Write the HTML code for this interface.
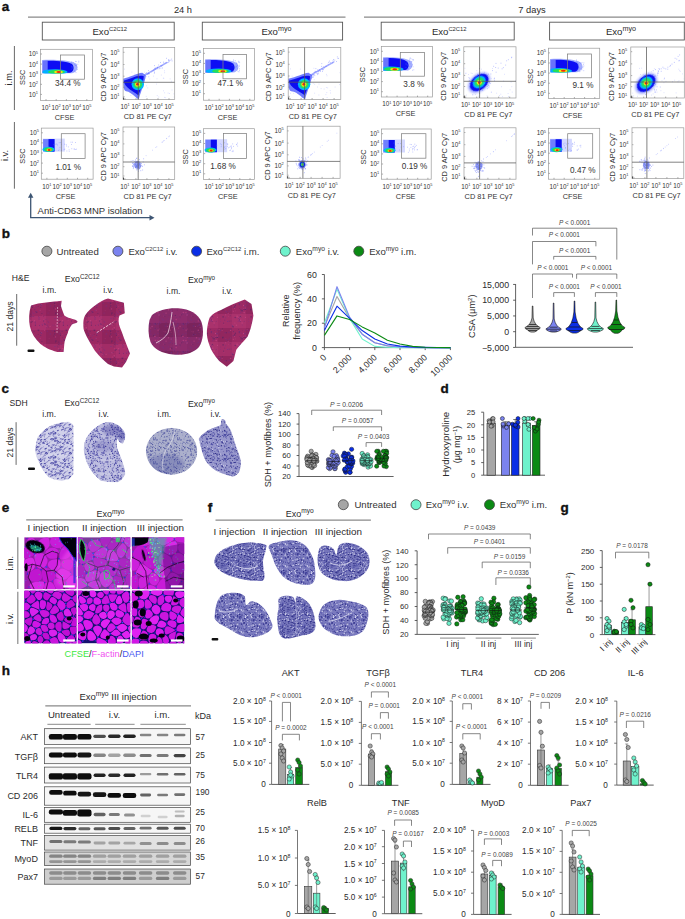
<!DOCTYPE html>
<html><head><meta charset="utf-8"><style>
html,body{margin:0;padding:0;background:#fff;}
body{width:685px;height:919px;overflow:hidden;}
svg{display:block;font-family:"Liberation Sans", sans-serif;}
</style></head><body>
<svg width="685" height="919" viewBox="0 0 685 919">
<defs><linearGradient id="tailg" x1="0" x2="1" y1="0" y2="0"><stop offset="0" stop-color="#1020f0"/><stop offset="0.5" stop-color="#4050ff" stop-opacity="0.8"/><stop offset="1" stop-color="#8090ff" stop-opacity="0.2"/></linearGradient>
<filter id="b1" x="-50%" y="-50%" width="200%" height="200%"><feGaussianBlur stdDeviation="1"/></filter>
<filter id="b05" x="-50%" y="-50%" width="200%" height="200%"><feGaussianBlur stdDeviation="0.5"/></filter>
<filter id="b07" x="-50%" y="-50%" width="200%" height="200%"><feGaussianBlur stdDeviation="0.7"/></filter>
<filter id="b15" x="-50%" y="-50%" width="200%" height="200%"><feGaussianBlur stdDeviation="1.5"/></filter>
<filter id="b03" x="-50%" y="-50%" width="200%" height="200%"><feGaussianBlur stdDeviation="0.35"/></filter>
<pattern id="he1" patternUnits="userSpaceOnUse" width="28" height="28" x="4" y="8"><rect width="28" height="28" fill="#9c2862"/><rect width="14" height="14" fill="#aa306c"/><rect x="14" y="14" width="14" height="14" fill="#90245c"/><rect x="14" width="14" height="14" fill="#a22c66"/><circle cx="3.8" cy="23.7" r="0.7" fill="#5a2870" opacity="0.5"/><circle cx="3.3" cy="21.3" r="0.5" fill="#7a2a80" opacity="0.5"/><circle cx="22.1" cy="2.6" r="0.3" fill="#7a2a80" opacity="0.5"/><circle cx="12.1" cy="21.3" r="0.3" fill="#7a2a80" opacity="0.5"/><circle cx="7.5" cy="22.5" r="0.6" fill="#6a3088" opacity="0.5"/><circle cx="25.2" cy="0.9" r="0.3" fill="#4a2060" opacity="0.5"/><circle cx="0.3" cy="24.7" r="0.6" fill="#7a2a80" opacity="0.5"/><circle cx="20.3" cy="14.8" r="0.7" fill="#7a2a80" opacity="0.5"/><circle cx="15.5" cy="9.7" r="0.6" fill="#7a2a80" opacity="0.5"/><circle cx="26.7" cy="25.9" r="0.5" fill="#4a2060" opacity="0.5"/><circle cx="25.8" cy="2.8" r="0.6" fill="#5a2870" opacity="0.5"/><circle cx="3.4" cy="9.3" r="0.7" fill="#4a2060" opacity="0.5"/><circle cx="26.2" cy="11.8" r="0.7" fill="#d04a8a" opacity="0.5"/><circle cx="8.5" cy="16.5" r="0.7" fill="#4a2060" opacity="0.5"/><circle cx="11" cy="23.9" r="0.5" fill="#7a2a80" opacity="0.5"/><circle cx="11.6" cy="4.8" r="0.6" fill="#5a2870" opacity="0.5"/><circle cx="2.4" cy="18.6" r="0.4" fill="#d04a8a" opacity="0.5"/><circle cx="14.6" cy="11" r="0.5" fill="#6a3088" opacity="0.5"/><circle cx="13.1" cy="8.6" r="0.7" fill="#4a2060" opacity="0.5"/><circle cx="16.6" cy="11" r="0.4" fill="#4a2060" opacity="0.5"/><circle cx="6.4" cy="0.3" r="0.4" fill="#4a2060" opacity="0.5"/><circle cx="6.5" cy="14.4" r="0.8" fill="#4a2060" opacity="0.5"/><circle cx="9.9" cy="25.5" r="0.6" fill="#4a2060" opacity="0.5"/><circle cx="26.8" cy="0.2" r="0.7" fill="#4a2060" opacity="0.5"/><circle cx="22.7" cy="14.5" r="0.6" fill="#7a2a80" opacity="0.5"/><circle cx="26.6" cy="13.5" r="0.5" fill="#4a2060" opacity="0.5"/><circle cx="5.6" cy="14.1" r="0.5" fill="#5a2870" opacity="0.5"/><circle cx="11.6" cy="0" r="0.6" fill="#4a2060" opacity="0.5"/><circle cx="9.3" cy="16.8" r="0.7" fill="#d04a8a" opacity="0.5"/><circle cx="15.4" cy="5.1" r="0.3" fill="#4a2060" opacity="0.5"/><circle cx="22.3" cy="22.9" r="0.4" fill="#6a3088" opacity="0.5"/><circle cx="2.3" cy="0.5" r="0.3" fill="#5a2870" opacity="0.5"/><circle cx="7" cy="3.1" r="0.6" fill="#5a2870" opacity="0.5"/><circle cx="8.1" cy="4.7" r="0.4" fill="#d04a8a" opacity="0.5"/><circle cx="18.4" cy="18.1" r="0.4" fill="#5a2870" opacity="0.5"/><circle cx="13.9" cy="3.2" r="0.5" fill="#5a2870" opacity="0.5"/><circle cx="11.8" cy="5.3" r="0.4" fill="#4a2060" opacity="0.5"/><circle cx="27.3" cy="27" r="0.5" fill="#6a3088" opacity="0.5"/><circle cx="6.3" cy="11.1" r="0.3" fill="#d04a8a" opacity="0.5"/><circle cx="12.5" cy="14.2" r="0.5" fill="#d04a8a" opacity="0.5"/><circle cx="27.4" cy="17.7" r="0.6" fill="#7a2a80" opacity="0.5"/><circle cx="6.2" cy="18.2" r="0.5" fill="#4a2060" opacity="0.5"/><circle cx="22.5" cy="18.5" r="0.5" fill="#5a2870" opacity="0.5"/><circle cx="3.5" cy="5.9" r="0.3" fill="#6a3088" opacity="0.5"/><circle cx="24" cy="8.7" r="0.8" fill="#d04a8a" opacity="0.5"/><circle cx="11.7" cy="7.1" r="0.3" fill="#6a3088" opacity="0.5"/><circle cx="16.5" cy="6.1" r="0.8" fill="#7a2a80" opacity="0.5"/><circle cx="4.8" cy="24.3" r="0.8" fill="#4a2060" opacity="0.5"/><circle cx="14.2" cy="10.6" r="0.5" fill="#d04a8a" opacity="0.5"/><circle cx="16.1" cy="25.1" r="0.6" fill="#7a2a80" opacity="0.5"/><circle cx="2.9" cy="18.6" r="0.4" fill="#7a2a80" opacity="0.5"/><circle cx="0.5" cy="17.1" r="0.5" fill="#5a2870" opacity="0.5"/><circle cx="0.5" cy="5.6" r="0.5" fill="#4a2060" opacity="0.5"/><circle cx="21.9" cy="9.5" r="0.4" fill="#6a3088" opacity="0.5"/><circle cx="23.5" cy="26.1" r="0.5" fill="#4a2060" opacity="0.5"/><circle cx="13.6" cy="27.6" r="0.4" fill="#6a3088" opacity="0.5"/><circle cx="2.4" cy="4.8" r="0.8" fill="#d04a8a" opacity="0.5"/><circle cx="7.5" cy="9.3" r="0.6" fill="#5a2870" opacity="0.5"/><circle cx="10.3" cy="9.5" r="0.4" fill="#4a2060" opacity="0.5"/><circle cx="21.8" cy="20" r="0.5" fill="#4a2060" opacity="0.5"/><circle cx="15.4" cy="2.9" r="0.3" fill="#6a3088" opacity="0.5"/><circle cx="10.6" cy="27.8" r="0.4" fill="#d04a8a" opacity="0.5"/><circle cx="9.5" cy="17.2" r="0.7" fill="#7a2a80" opacity="0.5"/><circle cx="2.1" cy="15.4" r="0.6" fill="#5a2870" opacity="0.5"/><circle cx="10.2" cy="8.3" r="0.6" fill="#6a3088" opacity="0.5"/><circle cx="12.8" cy="7.8" r="0.7" fill="#5a2870" opacity="0.5"/><circle cx="0.3" cy="18.8" r="0.3" fill="#6a3088" opacity="0.5"/><circle cx="23.1" cy="22.1" r="0.4" fill="#4a2060" opacity="0.5"/><circle cx="11.8" cy="3.2" r="0.4" fill="#d04a8a" opacity="0.5"/><circle cx="4.5" cy="23.7" r="0.5" fill="#7a2a80" opacity="0.5"/><circle cx="22.6" cy="15.2" r="0.7" fill="#4a2060" opacity="0.5"/><circle cx="7.1" cy="13.4" r="0.4" fill="#5a2870" opacity="0.5"/><circle cx="1.1" cy="0.3" r="0.8" fill="#5a2870" opacity="0.5"/><circle cx="20.3" cy="9" r="0.5" fill="#7a2a80" opacity="0.5"/><circle cx="1.8" cy="25.6" r="0.8" fill="#7a2a80" opacity="0.5"/><circle cx="3.1" cy="6" r="0.6" fill="#4a2060" opacity="0.5"/><circle cx="24.3" cy="13.1" r="0.5" fill="#d04a8a" opacity="0.5"/><circle cx="15.2" cy="8.6" r="0.4" fill="#6a3088" opacity="0.5"/><circle cx="23" cy="2.5" r="0.7" fill="#6a3088" opacity="0.5"/><circle cx="18.3" cy="18" r="0.8" fill="#7a2a80" opacity="0.5"/><circle cx="27.1" cy="1.1" r="0.4" fill="#4a2060" opacity="0.5"/><circle cx="25" cy="8.5" r="0.5" fill="#4a2060" opacity="0.5"/><circle cx="17.1" cy="22.6" r="0.3" fill="#d04a8a" opacity="0.5"/><circle cx="0.6" cy="6.8" r="0.3" fill="#4a2060" opacity="0.5"/><circle cx="24.3" cy="20.4" r="0.3" fill="#6a3088" opacity="0.5"/><circle cx="8.1" cy="22.2" r="0.5" fill="#d04a8a" opacity="0.5"/><circle cx="2.8" cy="21.8" r="0.5" fill="#4a2060" opacity="0.5"/><circle cx="26.6" cy="4.9" r="0.7" fill="#d04a8a" opacity="0.5"/><circle cx="23" cy="9" r="0.4" fill="#4a2060" opacity="0.5"/><circle cx="23.4" cy="16.9" r="0.4" fill="#d04a8a" opacity="0.5"/><circle cx="4" cy="25.5" r="0.3" fill="#5a2870" opacity="0.5"/><circle cx="23" cy="17.5" r="0.6" fill="#4a2060" opacity="0.5"/><circle cx="23.5" cy="20.9" r="0.6" fill="#d04a8a" opacity="0.5"/><circle cx="8.4" cy="15" r="0.3" fill="#d04a8a" opacity="0.5"/><circle cx="7.1" cy="1.8" r="0.8" fill="#7a2a80" opacity="0.5"/><circle cx="15.4" cy="15.2" r="0.7" fill="#7a2a80" opacity="0.5"/><circle cx="0.3" cy="23.4" r="0.4" fill="#7a2a80" opacity="0.5"/><circle cx="0.7" cy="18.1" r="0.5" fill="#4a2060" opacity="0.5"/><circle cx="0.5" cy="19.4" r="0.6" fill="#4a2060" opacity="0.5"/><circle cx="3.5" cy="7.3" r="0.7" fill="#7a2a80" opacity="0.5"/><circle cx="15.8" cy="4.8" r="0.3" fill="#7a2a80" opacity="0.5"/><circle cx="0.2" cy="14.8" r="0.6" fill="#7a2a80" opacity="0.5"/><circle cx="26" cy="17.9" r="0.4" fill="#5a2870" opacity="0.5"/><circle cx="13.9" cy="13.4" r="0.4" fill="#7a2a80" opacity="0.5"/><circle cx="9.4" cy="17.1" r="0.7" fill="#5a2870" opacity="0.5"/><circle cx="27.2" cy="6.1" r="0.8" fill="#4a2060" opacity="0.5"/><circle cx="18.1" cy="10.3" r="0.6" fill="#d04a8a" opacity="0.5"/><circle cx="8.7" cy="19.4" r="0.7" fill="#5a2870" opacity="0.5"/><circle cx="4.6" cy="19.6" r="0.5" fill="#6a3088" opacity="0.5"/><circle cx="24" cy="25.1" r="0.8" fill="#4a2060" opacity="0.5"/></pattern>
<pattern id="he2" patternUnits="userSpaceOnUse" width="28" height="28" x="5" y="1"><rect width="28" height="28" fill="#842864"/><rect width="14" height="14" fill="#8e2c6c"/><rect x="14" y="14" width="14" height="14" fill="#7a245c"/><rect x="14" width="14" height="14" fill="#882a68"/><circle cx="26.8" cy="26.5" r="0.3" fill="#6a3088" opacity="0.5"/><circle cx="10.1" cy="4.7" r="0.7" fill="#5a2870" opacity="0.5"/><circle cx="7" cy="5.9" r="0.3" fill="#d04a8a" opacity="0.5"/><circle cx="28" cy="17.9" r="0.7" fill="#4a2060" opacity="0.5"/><circle cx="26.6" cy="15.2" r="0.5" fill="#5a2870" opacity="0.5"/><circle cx="25.2" cy="24.4" r="0.5" fill="#5a2870" opacity="0.5"/><circle cx="25.4" cy="11.9" r="0.7" fill="#d04a8a" opacity="0.5"/><circle cx="15.7" cy="6.6" r="0.3" fill="#5a2870" opacity="0.5"/><circle cx="4.9" cy="14.3" r="0.5" fill="#4a2060" opacity="0.5"/><circle cx="18.9" cy="5.1" r="0.7" fill="#7a2a80" opacity="0.5"/><circle cx="20.6" cy="25.4" r="0.7" fill="#4a2060" opacity="0.5"/><circle cx="9.9" cy="27.5" r="0.8" fill="#d04a8a" opacity="0.5"/><circle cx="26.7" cy="11.2" r="0.7" fill="#4a2060" opacity="0.5"/><circle cx="7" cy="7.8" r="0.5" fill="#4a2060" opacity="0.5"/><circle cx="23.3" cy="9.9" r="0.7" fill="#7a2a80" opacity="0.5"/><circle cx="9.8" cy="20.3" r="0.6" fill="#7a2a80" opacity="0.5"/><circle cx="13.6" cy="6.2" r="0.5" fill="#d04a8a" opacity="0.5"/><circle cx="24.5" cy="17.3" r="0.7" fill="#7a2a80" opacity="0.5"/><circle cx="8.7" cy="26.8" r="0.7" fill="#4a2060" opacity="0.5"/><circle cx="15.7" cy="14.2" r="0.6" fill="#7a2a80" opacity="0.5"/><circle cx="8.7" cy="5.8" r="0.6" fill="#4a2060" opacity="0.5"/><circle cx="24.7" cy="22" r="0.5" fill="#6a3088" opacity="0.5"/><circle cx="25.4" cy="5.4" r="0.7" fill="#6a3088" opacity="0.5"/><circle cx="16.1" cy="1.4" r="0.6" fill="#6a3088" opacity="0.5"/><circle cx="21.1" cy="3.8" r="0.4" fill="#d04a8a" opacity="0.5"/><circle cx="26.4" cy="1.7" r="0.7" fill="#6a3088" opacity="0.5"/><circle cx="1.6" cy="10.1" r="0.4" fill="#6a3088" opacity="0.5"/><circle cx="2.3" cy="26.7" r="0.3" fill="#6a3088" opacity="0.5"/><circle cx="10.4" cy="3.6" r="0.8" fill="#d04a8a" opacity="0.5"/><circle cx="14.6" cy="0.1" r="0.6" fill="#d04a8a" opacity="0.5"/><circle cx="4.2" cy="1" r="0.5" fill="#4a2060" opacity="0.5"/><circle cx="17.6" cy="20.9" r="0.4" fill="#7a2a80" opacity="0.5"/><circle cx="0.9" cy="12.6" r="0.7" fill="#6a3088" opacity="0.5"/><circle cx="25.3" cy="21.2" r="0.7" fill="#d04a8a" opacity="0.5"/><circle cx="13.2" cy="6.3" r="0.6" fill="#5a2870" opacity="0.5"/><circle cx="23.5" cy="0.7" r="0.7" fill="#d04a8a" opacity="0.5"/><circle cx="14.5" cy="21.9" r="0.5" fill="#5a2870" opacity="0.5"/><circle cx="4" cy="26.9" r="0.4" fill="#4a2060" opacity="0.5"/><circle cx="27.2" cy="18.3" r="0.6" fill="#d04a8a" opacity="0.5"/><circle cx="18.8" cy="7.1" r="0.4" fill="#d04a8a" opacity="0.5"/><circle cx="2.7" cy="17.8" r="0.6" fill="#6a3088" opacity="0.5"/><circle cx="27.8" cy="6.5" r="0.5" fill="#5a2870" opacity="0.5"/><circle cx="2.3" cy="6.4" r="0.7" fill="#4a2060" opacity="0.5"/><circle cx="19.9" cy="7.2" r="0.5" fill="#4a2060" opacity="0.5"/><circle cx="21" cy="4.2" r="0.5" fill="#d04a8a" opacity="0.5"/><circle cx="3.1" cy="20.3" r="0.4" fill="#6a3088" opacity="0.5"/><circle cx="0.6" cy="21" r="0.4" fill="#6a3088" opacity="0.5"/><circle cx="14.6" cy="13" r="0.5" fill="#7a2a80" opacity="0.5"/><circle cx="5.9" cy="25.4" r="0.8" fill="#7a2a80" opacity="0.5"/><circle cx="11.9" cy="0.6" r="0.6" fill="#7a2a80" opacity="0.5"/><circle cx="26" cy="16.3" r="0.8" fill="#7a2a80" opacity="0.5"/><circle cx="10.3" cy="14.5" r="0.8" fill="#4a2060" opacity="0.5"/><circle cx="10.3" cy="19.3" r="0.8" fill="#5a2870" opacity="0.5"/><circle cx="0.5" cy="19.2" r="0.4" fill="#5a2870" opacity="0.5"/><circle cx="5.6" cy="21.7" r="0.7" fill="#7a2a80" opacity="0.5"/><circle cx="1.7" cy="17.8" r="0.5" fill="#4a2060" opacity="0.5"/><circle cx="17.2" cy="0.1" r="0.3" fill="#5a2870" opacity="0.5"/><circle cx="26.2" cy="2.1" r="0.7" fill="#d04a8a" opacity="0.5"/><circle cx="3.2" cy="10.5" r="0.7" fill="#d04a8a" opacity="0.5"/><circle cx="21.1" cy="11.1" r="0.4" fill="#6a3088" opacity="0.5"/><circle cx="3.4" cy="17.3" r="0.5" fill="#7a2a80" opacity="0.5"/><circle cx="26.9" cy="19.4" r="0.3" fill="#7a2a80" opacity="0.5"/><circle cx="21.8" cy="20.3" r="0.5" fill="#5a2870" opacity="0.5"/><circle cx="26.9" cy="4" r="0.5" fill="#7a2a80" opacity="0.5"/><circle cx="14.7" cy="13.4" r="0.8" fill="#7a2a80" opacity="0.5"/><circle cx="26.1" cy="23.4" r="0.4" fill="#d04a8a" opacity="0.5"/><circle cx="4.4" cy="16.7" r="0.6" fill="#6a3088" opacity="0.5"/><circle cx="16.4" cy="22.9" r="0.3" fill="#5a2870" opacity="0.5"/><circle cx="4.9" cy="15.3" r="0.7" fill="#6a3088" opacity="0.5"/><circle cx="22.4" cy="25.5" r="0.6" fill="#6a3088" opacity="0.5"/><circle cx="3.6" cy="8.3" r="0.4" fill="#5a2870" opacity="0.5"/><circle cx="12.3" cy="14.7" r="0.4" fill="#4a2060" opacity="0.5"/><circle cx="27.6" cy="27.1" r="0.5" fill="#5a2870" opacity="0.5"/><circle cx="14.5" cy="20" r="0.4" fill="#d04a8a" opacity="0.5"/><circle cx="12.9" cy="19.7" r="0.5" fill="#5a2870" opacity="0.5"/><circle cx="21.9" cy="16.1" r="0.4" fill="#7a2a80" opacity="0.5"/><circle cx="20.1" cy="22.7" r="0.5" fill="#d04a8a" opacity="0.5"/><circle cx="11" cy="1.5" r="0.4" fill="#5a2870" opacity="0.5"/><circle cx="19.9" cy="26.2" r="0.7" fill="#7a2a80" opacity="0.5"/><circle cx="10.1" cy="15.3" r="0.7" fill="#6a3088" opacity="0.5"/><circle cx="21.3" cy="23.9" r="0.4" fill="#4a2060" opacity="0.5"/><circle cx="5.3" cy="22.9" r="0.5" fill="#6a3088" opacity="0.5"/><circle cx="8.8" cy="14.7" r="0.8" fill="#7a2a80" opacity="0.5"/><circle cx="18.2" cy="22.8" r="0.3" fill="#d04a8a" opacity="0.5"/><circle cx="20.4" cy="17" r="0.8" fill="#6a3088" opacity="0.5"/><circle cx="10.9" cy="15.6" r="0.7" fill="#5a2870" opacity="0.5"/><circle cx="20.8" cy="16.4" r="0.4" fill="#4a2060" opacity="0.5"/><circle cx="3.9" cy="17.1" r="0.5" fill="#5a2870" opacity="0.5"/><circle cx="14.4" cy="4.9" r="0.7" fill="#6a3088" opacity="0.5"/><circle cx="9.8" cy="25.4" r="0.6" fill="#6a3088" opacity="0.5"/><circle cx="21.1" cy="13.6" r="0.6" fill="#5a2870" opacity="0.5"/><circle cx="12.9" cy="24.6" r="0.5" fill="#6a3088" opacity="0.5"/><circle cx="17.2" cy="9.7" r="0.7" fill="#7a2a80" opacity="0.5"/><circle cx="7.1" cy="17.5" r="0.7" fill="#d04a8a" opacity="0.5"/><circle cx="1.5" cy="14" r="0.8" fill="#5a2870" opacity="0.5"/><circle cx="4.4" cy="7.9" r="0.5" fill="#6a3088" opacity="0.5"/><circle cx="10.3" cy="15.1" r="0.5" fill="#7a2a80" opacity="0.5"/><circle cx="5.7" cy="18.9" r="0.5" fill="#d04a8a" opacity="0.5"/><circle cx="13.5" cy="15.1" r="0.8" fill="#6a3088" opacity="0.5"/><circle cx="7.2" cy="8.8" r="0.5" fill="#5a2870" opacity="0.5"/><circle cx="18.3" cy="11" r="0.7" fill="#6a3088" opacity="0.5"/><circle cx="14.2" cy="5.9" r="0.6" fill="#d04a8a" opacity="0.5"/><circle cx="22.3" cy="17.6" r="0.5" fill="#d04a8a" opacity="0.5"/><circle cx="26.6" cy="15.7" r="0.6" fill="#6a3088" opacity="0.5"/><circle cx="26.8" cy="3.1" r="0.7" fill="#7a2a80" opacity="0.5"/><circle cx="24" cy="6" r="0.5" fill="#5a2870" opacity="0.5"/><circle cx="12.8" cy="4.7" r="0.5" fill="#5a2870" opacity="0.5"/><circle cx="12.9" cy="3.7" r="0.7" fill="#d04a8a" opacity="0.5"/><circle cx="26" cy="9.1" r="0.3" fill="#d04a8a" opacity="0.5"/><circle cx="13.1" cy="21.1" r="0.7" fill="#d04a8a" opacity="0.5"/></pattern>
<pattern id="he3" patternUnits="userSpaceOnUse" width="28" height="28" x="8" y="6"><rect width="28" height="28" fill="#9e2a64"/><rect width="14" height="14" fill="#aa326c"/><rect x="14" y="14" width="14" height="14" fill="#92265e"/><rect x="14" width="14" height="14" fill="#a42e68"/><circle cx="6.7" cy="15.2" r="0.5" fill="#4a2060" opacity="0.5"/><circle cx="13.3" cy="16.3" r="0.6" fill="#7a2a80" opacity="0.5"/><circle cx="7.3" cy="6.6" r="0.8" fill="#7a2a80" opacity="0.5"/><circle cx="15.1" cy="15.4" r="0.5" fill="#d04a8a" opacity="0.5"/><circle cx="6.5" cy="4.2" r="0.8" fill="#7a2a80" opacity="0.5"/><circle cx="20.8" cy="18.8" r="0.3" fill="#4a2060" opacity="0.5"/><circle cx="1.2" cy="21.8" r="0.7" fill="#5a2870" opacity="0.5"/><circle cx="13.2" cy="20.1" r="0.7" fill="#7a2a80" opacity="0.5"/><circle cx="11.1" cy="22.4" r="0.5" fill="#d04a8a" opacity="0.5"/><circle cx="24.6" cy="2.7" r="0.4" fill="#d04a8a" opacity="0.5"/><circle cx="7.2" cy="18.8" r="0.7" fill="#5a2870" opacity="0.5"/><circle cx="11.8" cy="23.3" r="0.6" fill="#4a2060" opacity="0.5"/><circle cx="16.4" cy="16.4" r="0.8" fill="#6a3088" opacity="0.5"/><circle cx="24" cy="27.7" r="0.6" fill="#d04a8a" opacity="0.5"/><circle cx="19.6" cy="9.1" r="0.6" fill="#4a2060" opacity="0.5"/><circle cx="15.9" cy="20" r="0.4" fill="#4a2060" opacity="0.5"/><circle cx="7.5" cy="3.5" r="0.5" fill="#7a2a80" opacity="0.5"/><circle cx="2.5" cy="22.4" r="0.5" fill="#d04a8a" opacity="0.5"/><circle cx="0.6" cy="12" r="0.5" fill="#6a3088" opacity="0.5"/><circle cx="1.2" cy="17.2" r="0.3" fill="#4a2060" opacity="0.5"/><circle cx="9.3" cy="24.7" r="0.8" fill="#4a2060" opacity="0.5"/><circle cx="6.6" cy="1" r="0.3" fill="#6a3088" opacity="0.5"/><circle cx="16.8" cy="0.9" r="0.4" fill="#7a2a80" opacity="0.5"/><circle cx="8.2" cy="7.4" r="0.6" fill="#5a2870" opacity="0.5"/><circle cx="8.8" cy="26.8" r="0.7" fill="#7a2a80" opacity="0.5"/><circle cx="10.5" cy="24.4" r="0.5" fill="#4a2060" opacity="0.5"/><circle cx="19.1" cy="2.9" r="0.8" fill="#4a2060" opacity="0.5"/><circle cx="7.6" cy="17.8" r="0.7" fill="#5a2870" opacity="0.5"/><circle cx="12.2" cy="7.2" r="0.5" fill="#5a2870" opacity="0.5"/><circle cx="0.3" cy="11.6" r="0.6" fill="#6a3088" opacity="0.5"/><circle cx="10.5" cy="16.5" r="0.4" fill="#5a2870" opacity="0.5"/><circle cx="13.1" cy="19" r="0.5" fill="#5a2870" opacity="0.5"/><circle cx="20.7" cy="0.6" r="0.3" fill="#6a3088" opacity="0.5"/><circle cx="27" cy="7" r="0.5" fill="#4a2060" opacity="0.5"/><circle cx="16.8" cy="5" r="0.4" fill="#5a2870" opacity="0.5"/><circle cx="23.6" cy="7.4" r="0.7" fill="#6a3088" opacity="0.5"/><circle cx="21.6" cy="0.8" r="0.6" fill="#d04a8a" opacity="0.5"/><circle cx="8.7" cy="6.2" r="0.7" fill="#d04a8a" opacity="0.5"/><circle cx="9.2" cy="19" r="0.6" fill="#6a3088" opacity="0.5"/><circle cx="2.9" cy="9" r="0.5" fill="#d04a8a" opacity="0.5"/><circle cx="12.3" cy="24" r="0.4" fill="#5a2870" opacity="0.5"/><circle cx="20.8" cy="6.1" r="0.6" fill="#5a2870" opacity="0.5"/><circle cx="6.3" cy="3.4" r="0.6" fill="#d04a8a" opacity="0.5"/><circle cx="8.8" cy="23.4" r="0.6" fill="#5a2870" opacity="0.5"/><circle cx="9.5" cy="23.2" r="0.3" fill="#4a2060" opacity="0.5"/><circle cx="9.7" cy="3.6" r="0.4" fill="#5a2870" opacity="0.5"/><circle cx="13" cy="17.8" r="0.4" fill="#4a2060" opacity="0.5"/><circle cx="11.5" cy="25.8" r="0.4" fill="#6a3088" opacity="0.5"/><circle cx="13.4" cy="23.3" r="0.6" fill="#4a2060" opacity="0.5"/><circle cx="12.2" cy="26.6" r="0.8" fill="#d04a8a" opacity="0.5"/><circle cx="0.9" cy="12.8" r="0.7" fill="#4a2060" opacity="0.5"/><circle cx="27" cy="15.2" r="0.7" fill="#6a3088" opacity="0.5"/><circle cx="24" cy="27.2" r="0.4" fill="#d04a8a" opacity="0.5"/><circle cx="1.3" cy="25.3" r="0.6" fill="#d04a8a" opacity="0.5"/><circle cx="25.1" cy="25.2" r="0.6" fill="#6a3088" opacity="0.5"/><circle cx="13.5" cy="3.4" r="0.6" fill="#d04a8a" opacity="0.5"/><circle cx="18.6" cy="14.7" r="0.5" fill="#4a2060" opacity="0.5"/><circle cx="3.2" cy="3.5" r="0.8" fill="#4a2060" opacity="0.5"/><circle cx="13.4" cy="21.9" r="0.5" fill="#d04a8a" opacity="0.5"/><circle cx="3.4" cy="24.9" r="0.4" fill="#d04a8a" opacity="0.5"/><circle cx="22.2" cy="25.8" r="0.7" fill="#6a3088" opacity="0.5"/><circle cx="13.7" cy="16" r="0.5" fill="#5a2870" opacity="0.5"/><circle cx="7" cy="17.3" r="0.6" fill="#6a3088" opacity="0.5"/><circle cx="13.2" cy="21.7" r="0.3" fill="#6a3088" opacity="0.5"/><circle cx="21.7" cy="1.3" r="0.3" fill="#7a2a80" opacity="0.5"/><circle cx="27.3" cy="23.9" r="0.3" fill="#4a2060" opacity="0.5"/><circle cx="13.7" cy="4.4" r="0.3" fill="#7a2a80" opacity="0.5"/><circle cx="18.1" cy="16.4" r="0.5" fill="#d04a8a" opacity="0.5"/><circle cx="27.7" cy="12" r="0.4" fill="#6a3088" opacity="0.5"/><circle cx="20" cy="10.6" r="0.3" fill="#d04a8a" opacity="0.5"/><circle cx="1.2" cy="12.9" r="0.6" fill="#4a2060" opacity="0.5"/><circle cx="10.6" cy="22.4" r="0.6" fill="#7a2a80" opacity="0.5"/><circle cx="1.5" cy="17.6" r="0.7" fill="#5a2870" opacity="0.5"/><circle cx="11.8" cy="19.4" r="0.5" fill="#d04a8a" opacity="0.5"/><circle cx="6.1" cy="7.6" r="0.6" fill="#7a2a80" opacity="0.5"/><circle cx="6.3" cy="3.7" r="0.3" fill="#5a2870" opacity="0.5"/><circle cx="10.5" cy="25.1" r="0.7" fill="#5a2870" opacity="0.5"/><circle cx="3.4" cy="19.3" r="0.8" fill="#4a2060" opacity="0.5"/><circle cx="22.2" cy="18.7" r="0.7" fill="#4a2060" opacity="0.5"/><circle cx="14.9" cy="22.7" r="0.7" fill="#7a2a80" opacity="0.5"/><circle cx="4" cy="21.7" r="0.3" fill="#6a3088" opacity="0.5"/><circle cx="15.8" cy="18.5" r="0.5" fill="#6a3088" opacity="0.5"/><circle cx="9.6" cy="23.9" r="0.3" fill="#6a3088" opacity="0.5"/><circle cx="18.9" cy="23.4" r="0.8" fill="#4a2060" opacity="0.5"/><circle cx="8.4" cy="2.5" r="0.8" fill="#4a2060" opacity="0.5"/><circle cx="14.3" cy="20" r="0.4" fill="#6a3088" opacity="0.5"/><circle cx="26.2" cy="1.7" r="0.5" fill="#4a2060" opacity="0.5"/><circle cx="5.1" cy="2.2" r="0.8" fill="#d04a8a" opacity="0.5"/><circle cx="12.7" cy="19.6" r="0.8" fill="#5a2870" opacity="0.5"/><circle cx="10.3" cy="11.1" r="0.5" fill="#7a2a80" opacity="0.5"/><circle cx="27.1" cy="10.5" r="0.4" fill="#7a2a80" opacity="0.5"/><circle cx="23.6" cy="27.1" r="0.5" fill="#4a2060" opacity="0.5"/><circle cx="21.2" cy="18.9" r="0.6" fill="#7a2a80" opacity="0.5"/><circle cx="4.4" cy="11.2" r="0.7" fill="#d04a8a" opacity="0.5"/><circle cx="2.7" cy="20.9" r="0.8" fill="#4a2060" opacity="0.5"/><circle cx="26.6" cy="16.4" r="0.7" fill="#d04a8a" opacity="0.5"/><circle cx="7.5" cy="5.6" r="0.6" fill="#5a2870" opacity="0.5"/><circle cx="26.2" cy="23.8" r="0.6" fill="#5a2870" opacity="0.5"/><circle cx="18.8" cy="23.9" r="0.6" fill="#4a2060" opacity="0.5"/><circle cx="16.4" cy="7.5" r="0.4" fill="#6a3088" opacity="0.5"/><circle cx="7.5" cy="22.5" r="0.4" fill="#4a2060" opacity="0.5"/><circle cx="10.1" cy="9" r="0.7" fill="#d04a8a" opacity="0.5"/><circle cx="11.7" cy="19.5" r="0.7" fill="#d04a8a" opacity="0.5"/><circle cx="13.1" cy="23.4" r="0.7" fill="#4a2060" opacity="0.5"/><circle cx="0.8" cy="27.8" r="0.3" fill="#7a2a80" opacity="0.5"/><circle cx="21.9" cy="24.7" r="0.3" fill="#d04a8a" opacity="0.5"/><circle cx="24.9" cy="18.2" r="0.7" fill="#6a3088" opacity="0.5"/><circle cx="26.8" cy="23.9" r="0.4" fill="#d04a8a" opacity="0.5"/><circle cx="21.7" cy="3.8" r="0.6" fill="#6a3088" opacity="0.5"/><circle cx="25.2" cy="7.1" r="0.7" fill="#5a2870" opacity="0.5"/></pattern>
<pattern id="sdh1" patternUnits="userSpaceOnUse" width="24" height="24"><rect width="24" height="24" fill="#d0d0ea"/><ellipse cx="5.7" cy="13.1" rx="0.9" ry="0.4" fill="#4e4ca8" transform="rotate(-25 5.7 13.1)"/><ellipse cx="14.5" cy="15" rx="0.6" ry="0.3" fill="#4e4ca8" transform="rotate(-25 14.5 15)"/><ellipse cx="0.3" cy="20.1" rx="0.8" ry="0.3" fill="#4e4ca8" transform="rotate(-25 0.3 20.1)"/><ellipse cx="5.6" cy="23.9" rx="1" ry="0.4" fill="#4e4ca8" transform="rotate(-25 5.6 23.9)"/><ellipse cx="20.1" cy="11.4" rx="1.1" ry="0.5" fill="#4e4ca8" transform="rotate(-25 20.1 11.4)"/><ellipse cx="3.6" cy="15.2" rx="1.3" ry="0.6" fill="#4e4ca8" transform="rotate(-25 3.6 15.2)"/><ellipse cx="12.6" cy="17.8" rx="1.1" ry="0.5" fill="#4e4ca8" transform="rotate(-25 12.6 17.8)"/><ellipse cx="1.5" cy="18.2" rx="1.1" ry="0.5" fill="#4e4ca8" transform="rotate(-25 1.5 18.2)"/><ellipse cx="7.2" cy="0.7" rx="1.3" ry="0.6" fill="#4e4ca8" transform="rotate(-25 7.2 0.7)"/><ellipse cx="11.3" cy="17.3" rx="1.3" ry="0.6" fill="#4e4ca8" transform="rotate(-25 11.3 17.3)"/><ellipse cx="17.1" cy="22.1" rx="0.9" ry="0.4" fill="#4e4ca8" transform="rotate(-25 17.1 22.1)"/><ellipse cx="19.2" cy="10.7" rx="1.4" ry="0.6" fill="#4e4ca8" transform="rotate(-25 19.2 10.7)"/><ellipse cx="21.1" cy="2.3" rx="0.7" ry="0.3" fill="#4e4ca8" transform="rotate(-25 21.1 2.3)"/><ellipse cx="5.2" cy="23.2" rx="0.9" ry="0.4" fill="#4e4ca8" transform="rotate(-25 5.2 23.2)"/><ellipse cx="15" cy="7.2" rx="1" ry="0.4" fill="#4e4ca8" transform="rotate(-25 15 7.2)"/><ellipse cx="9.3" cy="8.4" rx="1.1" ry="0.5" fill="#4e4ca8" transform="rotate(-25 9.3 8.4)"/><ellipse cx="14" cy="21.7" rx="1.2" ry="0.5" fill="#4e4ca8" transform="rotate(-25 14 21.7)"/><ellipse cx="22.3" cy="20.6" rx="1.4" ry="0.6" fill="#4e4ca8" transform="rotate(-25 22.3 20.6)"/><ellipse cx="16.1" cy="3.9" rx="1.3" ry="0.6" fill="#4e4ca8" transform="rotate(-25 16.1 3.9)"/><ellipse cx="23.2" cy="21.7" rx="1.1" ry="0.5" fill="#4e4ca8" transform="rotate(-25 23.2 21.7)"/><ellipse cx="17.1" cy="5.1" rx="1.3" ry="0.6" fill="#4e4ca8" transform="rotate(-25 17.1 5.1)"/><ellipse cx="13.8" cy="6.8" rx="0.6" ry="0.3" fill="#4e4ca8" transform="rotate(-25 13.8 6.8)"/><ellipse cx="20.5" cy="23.8" rx="0.6" ry="0.3" fill="#4e4ca8" transform="rotate(-25 20.5 23.8)"/><ellipse cx="19.2" cy="9.9" rx="0.7" ry="0.3" fill="#4e4ca8" transform="rotate(-25 19.2 9.9)"/><ellipse cx="7.1" cy="18.5" rx="1.3" ry="0.6" fill="#4e4ca8" transform="rotate(-25 7.1 18.5)"/><ellipse cx="1.1" cy="14.7" rx="0.6" ry="0.3" fill="#4e4ca8" transform="rotate(-25 1.1 14.7)"/><ellipse cx="17.2" cy="7.9" rx="1.3" ry="0.6" fill="#4e4ca8" transform="rotate(-25 17.2 7.9)"/><ellipse cx="23.5" cy="12.1" rx="1.4" ry="0.6" fill="#4e4ca8" transform="rotate(-25 23.5 12.1)"/><ellipse cx="7.4" cy="1.8" rx="1.1" ry="0.5" fill="#4e4ca8" transform="rotate(-25 7.4 1.8)"/><ellipse cx="0.8" cy="4.7" rx="0.9" ry="0.4" fill="#4e4ca8" transform="rotate(-25 0.8 4.7)"/><ellipse cx="14.7" cy="3.7" rx="0.6" ry="0.3" fill="#4e4ca8" transform="rotate(-25 14.7 3.7)"/><ellipse cx="20.8" cy="7.5" rx="1.4" ry="0.6" fill="#4e4ca8" transform="rotate(-25 20.8 7.5)"/><ellipse cx="21.5" cy="9.1" rx="1" ry="0.4" fill="#4e4ca8" transform="rotate(-25 21.5 9.1)"/><ellipse cx="12.5" cy="15.5" rx="1.1" ry="0.5" fill="#4e4ca8" transform="rotate(-25 12.5 15.5)"/><ellipse cx="13.4" cy="14.9" rx="1.4" ry="0.6" fill="#4e4ca8" transform="rotate(-25 13.4 14.9)"/><ellipse cx="12.2" cy="10.3" rx="1.2" ry="0.5" fill="#4e4ca8" transform="rotate(-25 12.2 10.3)"/><ellipse cx="5.7" cy="7.2" rx="1.4" ry="0.6" fill="#4e4ca8" transform="rotate(-25 5.7 7.2)"/><ellipse cx="12.5" cy="13.2" rx="0.6" ry="0.2" fill="#4e4ca8" transform="rotate(-25 12.5 13.2)"/><ellipse cx="10" cy="13.9" rx="0.6" ry="0.2" fill="#4e4ca8" transform="rotate(-25 10 13.9)"/><ellipse cx="14.8" cy="15.2" rx="0.6" ry="0.3" fill="#4e4ca8" transform="rotate(-25 14.8 15.2)"/><ellipse cx="15.1" cy="11.2" rx="1.2" ry="0.5" fill="#4e4ca8" transform="rotate(-25 15.1 11.2)"/><ellipse cx="8.5" cy="17" rx="1.2" ry="0.5" fill="#4e4ca8" transform="rotate(-25 8.5 17)"/><ellipse cx="0.5" cy="1.5" rx="1.1" ry="0.5" fill="#4e4ca8" transform="rotate(-25 0.5 1.5)"/><ellipse cx="23.1" cy="6" rx="1" ry="0.4" fill="#4e4ca8" transform="rotate(-25 23.1 6)"/><ellipse cx="14.2" cy="7.7" rx="0.9" ry="0.4" fill="#4e4ca8" transform="rotate(-25 14.2 7.7)"/><ellipse cx="7.5" cy="8.9" rx="1.1" ry="0.5" fill="#4e4ca8" transform="rotate(-25 7.5 8.9)"/><ellipse cx="7.2" cy="9.1" rx="1.2" ry="0.5" fill="#4e4ca8" transform="rotate(-25 7.2 9.1)"/><ellipse cx="0.6" cy="13.7" rx="1.2" ry="0.5" fill="#4e4ca8" transform="rotate(-25 0.6 13.7)"/><ellipse cx="7.4" cy="5.3" rx="1.3" ry="0.6" fill="#4e4ca8" transform="rotate(-25 7.4 5.3)"/><ellipse cx="5.7" cy="4.5" rx="0.9" ry="0.4" fill="#4e4ca8" transform="rotate(-25 5.7 4.5)"/><ellipse cx="16.8" cy="2.4" rx="0.8" ry="0.4" fill="#4e4ca8" transform="rotate(-25 16.8 2.4)"/><ellipse cx="8" cy="20" rx="0.9" ry="0.4" fill="#4e4ca8" transform="rotate(-25 8 20)"/><ellipse cx="20.5" cy="4.1" rx="0.8" ry="0.4" fill="#4e4ca8" transform="rotate(-25 20.5 4.1)"/><ellipse cx="15.6" cy="21.2" rx="0.9" ry="0.4" fill="#4e4ca8" transform="rotate(-25 15.6 21.2)"/><ellipse cx="5.4" cy="2.9" rx="1" ry="0.5" fill="#4e4ca8" transform="rotate(-25 5.4 2.9)"/><ellipse cx="4.6" cy="19.4" rx="1.3" ry="0.6" fill="#4e4ca8" transform="rotate(-25 4.6 19.4)"/><ellipse cx="4.4" cy="6.7" rx="1.3" ry="0.6" fill="#4e4ca8" transform="rotate(-25 4.4 6.7)"/><ellipse cx="15.4" cy="19.4" rx="0.9" ry="0.4" fill="#4e4ca8" transform="rotate(-25 15.4 19.4)"/><ellipse cx="3.1" cy="7" rx="1.3" ry="0.6" fill="#4e4ca8" transform="rotate(-25 3.1 7)"/><ellipse cx="6.5" cy="8.3" rx="0.9" ry="0.4" fill="#4e4ca8" transform="rotate(-25 6.5 8.3)"/><ellipse cx="10.1" cy="9.8" rx="1.4" ry="0.6" fill="#4e4ca8" transform="rotate(-25 10.1 9.8)"/><ellipse cx="3.7" cy="0.1" rx="1.4" ry="0.6" fill="#4e4ca8" transform="rotate(-25 3.7 0.1)"/><ellipse cx="21.1" cy="23.7" rx="0.9" ry="0.4" fill="#4e4ca8" transform="rotate(-25 21.1 23.7)"/><ellipse cx="22.8" cy="22.3" rx="0.7" ry="0.3" fill="#4e4ca8" transform="rotate(-25 22.8 22.3)"/><ellipse cx="17.9" cy="20.1" rx="1.1" ry="0.5" fill="#4e4ca8" transform="rotate(-25 17.9 20.1)"/><ellipse cx="12.5" cy="6.9" rx="0.8" ry="0.4" fill="#4e4ca8" transform="rotate(-25 12.5 6.9)"/><ellipse cx="5.5" cy="1.6" rx="1.1" ry="0.5" fill="#4e4ca8" transform="rotate(-25 5.5 1.6)"/><ellipse cx="6.9" cy="19.4" rx="0.6" ry="0.3" fill="#4e4ca8" transform="rotate(-25 6.9 19.4)"/><ellipse cx="21.7" cy="16.6" rx="1.4" ry="0.6" fill="#4e4ca8" transform="rotate(-25 21.7 16.6)"/><ellipse cx="21.5" cy="21.6" rx="1.1" ry="0.5" fill="#4e4ca8" transform="rotate(-25 21.5 21.6)"/><ellipse cx="0.3" cy="17.9" rx="0.7" ry="0.3" fill="#4e4ca8" transform="rotate(-25 0.3 17.9)"/><ellipse cx="7.2" cy="15.9" rx="1" ry="0.4" fill="#4e4ca8" transform="rotate(-25 7.2 15.9)"/><ellipse cx="9.9" cy="22.5" rx="1.1" ry="0.5" fill="#4e4ca8" transform="rotate(-25 9.9 22.5)"/><ellipse cx="8.2" cy="6.1" rx="1.3" ry="0.6" fill="#4e4ca8" transform="rotate(-25 8.2 6.1)"/><ellipse cx="11.5" cy="18.8" rx="0.9" ry="0.4" fill="#4e4ca8" transform="rotate(-25 11.5 18.8)"/><ellipse cx="4.7" cy="12.8" rx="1.3" ry="0.6" fill="#8482c4" transform="rotate(-25 4.7 12.8)"/><ellipse cx="4.1" cy="19" rx="1.4" ry="0.6" fill="#8482c4" transform="rotate(-25 4.1 19)"/><ellipse cx="19.3" cy="19.8" rx="0.5" ry="0.2" fill="#8482c4" transform="rotate(-25 19.3 19.8)"/><ellipse cx="15.1" cy="20.7" rx="0.6" ry="0.3" fill="#8482c4" transform="rotate(-25 15.1 20.7)"/><ellipse cx="6.5" cy="6.4" rx="1" ry="0.5" fill="#8482c4" transform="rotate(-25 6.5 6.4)"/><ellipse cx="10.2" cy="11.3" rx="1.2" ry="0.6" fill="#8482c4" transform="rotate(-25 10.2 11.3)"/><ellipse cx="0" cy="1.3" rx="0.7" ry="0.3" fill="#8482c4" transform="rotate(-25 0 1.3)"/><ellipse cx="3" cy="1.6" rx="1.4" ry="0.6" fill="#8482c4" transform="rotate(-25 3 1.6)"/><ellipse cx="20.5" cy="2.1" rx="1" ry="0.4" fill="#8482c4" transform="rotate(-25 20.5 2.1)"/><ellipse cx="7.6" cy="7.5" rx="0.9" ry="0.4" fill="#8482c4" transform="rotate(-25 7.6 7.5)"/><ellipse cx="15.5" cy="14.1" rx="0.9" ry="0.4" fill="#8482c4" transform="rotate(-25 15.5 14.1)"/><ellipse cx="4.6" cy="7.9" rx="0.7" ry="0.3" fill="#8482c4" transform="rotate(-25 4.6 7.9)"/><ellipse cx="13.3" cy="17.2" rx="0.9" ry="0.4" fill="#8482c4" transform="rotate(-25 13.3 17.2)"/><ellipse cx="1.9" cy="4.3" rx="0.9" ry="0.4" fill="#8482c4" transform="rotate(-25 1.9 4.3)"/><ellipse cx="14.5" cy="18.8" rx="0.9" ry="0.4" fill="#8482c4" transform="rotate(-25 14.5 18.8)"/><ellipse cx="19.2" cy="15" rx="0.9" ry="0.4" fill="#8482c4" transform="rotate(-25 19.2 15)"/><ellipse cx="8.9" cy="11.9" rx="1.2" ry="0.5" fill="#8482c4" transform="rotate(-25 8.9 11.9)"/><ellipse cx="10.1" cy="16.7" rx="1" ry="0.4" fill="#8482c4" transform="rotate(-25 10.1 16.7)"/><ellipse cx="5.9" cy="12.9" rx="1.2" ry="0.5" fill="#8482c4" transform="rotate(-25 5.9 12.9)"/><ellipse cx="1.7" cy="10.2" rx="0.9" ry="0.4" fill="#8482c4" transform="rotate(-25 1.7 10.2)"/><ellipse cx="21.1" cy="22.5" rx="0.9" ry="0.4" fill="#8482c4" transform="rotate(-25 21.1 22.5)"/><ellipse cx="21.5" cy="19" rx="0.8" ry="0.3" fill="#8482c4" transform="rotate(-25 21.5 19)"/><ellipse cx="11.1" cy="3" rx="1.3" ry="0.6" fill="#8482c4" transform="rotate(-25 11.1 3)"/><ellipse cx="15.9" cy="21.3" rx="1.3" ry="0.6" fill="#8482c4" transform="rotate(-25 15.9 21.3)"/><ellipse cx="16" cy="17.6" rx="1" ry="0.5" fill="#8482c4" transform="rotate(-25 16 17.6)"/><ellipse cx="2.5" cy="14.1" rx="0.5" ry="0.2" fill="#8482c4" transform="rotate(-25 2.5 14.1)"/><ellipse cx="3.4" cy="18.6" rx="0.6" ry="0.3" fill="#8482c4" transform="rotate(-25 3.4 18.6)"/><ellipse cx="2.2" cy="2.4" rx="1.3" ry="0.6" fill="#8482c4" transform="rotate(-25 2.2 2.4)"/><ellipse cx="4.3" cy="0.6" rx="1.3" ry="0.6" fill="#8482c4" transform="rotate(-25 4.3 0.6)"/><ellipse cx="2.9" cy="20.3" rx="1.1" ry="0.5" fill="#8482c4" transform="rotate(-25 2.9 20.3)"/><ellipse cx="20.1" cy="22.9" rx="1.1" ry="0.5" fill="#8482c4" transform="rotate(-25 20.1 22.9)"/><ellipse cx="19.2" cy="0.9" rx="1.2" ry="0.5" fill="#8482c4" transform="rotate(-25 19.2 0.9)"/><ellipse cx="12.3" cy="17.2" rx="0.6" ry="0.3" fill="#8482c4" transform="rotate(-25 12.3 17.2)"/><ellipse cx="18" cy="22.4" rx="0.6" ry="0.3" fill="#8482c4" transform="rotate(-25 18 22.4)"/><ellipse cx="7.8" cy="13.5" rx="1.3" ry="0.6" fill="#8482c4" transform="rotate(-25 7.8 13.5)"/><ellipse cx="5.8" cy="4.3" rx="0.8" ry="0.3" fill="#8482c4" transform="rotate(-25 5.8 4.3)"/><ellipse cx="14.8" cy="18.1" rx="0.9" ry="0.4" fill="#8482c4" transform="rotate(-25 14.8 18.1)"/><ellipse cx="8.8" cy="9.5" rx="0.9" ry="0.4" fill="#8482c4" transform="rotate(-25 8.8 9.5)"/><ellipse cx="10" cy="2" rx="1" ry="0.4" fill="#8482c4" transform="rotate(-25 10 2)"/><ellipse cx="23.4" cy="9.9" rx="1.2" ry="0.5" fill="#8482c4" transform="rotate(-25 23.4 9.9)"/><ellipse cx="3.9" cy="16.6" rx="1.2" ry="0.5" fill="#8482c4" transform="rotate(-25 3.9 16.6)"/><ellipse cx="16.2" cy="12.4" rx="1" ry="0.4" fill="#8482c4" transform="rotate(-25 16.2 12.4)"/><ellipse cx="15.4" cy="21.5" rx="0.7" ry="0.3" fill="#8482c4" transform="rotate(-25 15.4 21.5)"/><ellipse cx="2.3" cy="18" rx="1.4" ry="0.6" fill="#8482c4" transform="rotate(-25 2.3 18)"/><ellipse cx="12.4" cy="10.6" rx="1.2" ry="0.5" fill="#8482c4" transform="rotate(-25 12.4 10.6)"/><ellipse cx="4.5" cy="6.4" rx="0.7" ry="0.3" fill="#8482c4" transform="rotate(-25 4.5 6.4)"/><ellipse cx="14.1" cy="7.6" rx="0.7" ry="0.3" fill="#8482c4" transform="rotate(-25 14.1 7.6)"/><ellipse cx="16.6" cy="22.9" rx="0.8" ry="0.4" fill="#8482c4" transform="rotate(-25 16.6 22.9)"/><ellipse cx="16.9" cy="9.9" rx="1.3" ry="0.6" fill="#8482c4" transform="rotate(-25 16.9 9.9)"/><ellipse cx="14" cy="6.4" rx="0.7" ry="0.3" fill="#8482c4" transform="rotate(-25 14 6.4)"/><ellipse cx="0.6" cy="11.5" rx="0.9" ry="0.4" fill="#8482c4" transform="rotate(-25 0.6 11.5)"/><ellipse cx="4.1" cy="8.7" rx="0.8" ry="0.4" fill="#8482c4" transform="rotate(-25 4.1 8.7)"/><ellipse cx="18.6" cy="3.4" rx="1.4" ry="0.6" fill="#8482c4" transform="rotate(-25 18.6 3.4)"/><ellipse cx="11.5" cy="14.4" rx="1" ry="0.4" fill="#8482c4" transform="rotate(-25 11.5 14.4)"/><ellipse cx="20" cy="19.7" rx="1" ry="0.5" fill="#8482c4" transform="rotate(-25 20 19.7)"/><ellipse cx="11.6" cy="17.3" rx="1.3" ry="0.6" fill="#8482c4" transform="rotate(-25 11.6 17.3)"/><ellipse cx="9.6" cy="17.6" rx="1.4" ry="0.6" fill="#8482c4" transform="rotate(-25 9.6 17.6)"/><ellipse cx="11.2" cy="5.5" rx="0.8" ry="0.3" fill="#8482c4" transform="rotate(-25 11.2 5.5)"/><ellipse cx="17.2" cy="16.2" rx="1.4" ry="0.6" fill="#8482c4" transform="rotate(-25 17.2 16.2)"/><ellipse cx="20.5" cy="5.8" rx="0.7" ry="0.3" fill="#8482c4" transform="rotate(-25 20.5 5.8)"/></pattern>
<pattern id="sdh2" patternUnits="userSpaceOnUse" width="24" height="24"><rect width="24" height="24" fill="#bebee0"/><circle cx="5.7" cy="2.5" r="0.5" fill="#3a389a"/><circle cx="3.7" cy="1.6" r="0.5" fill="#3a389a"/><circle cx="22" cy="19.2" r="0.6" fill="#3a389a"/><circle cx="5.3" cy="12.9" r="0.4" fill="#3a389a"/><circle cx="4.1" cy="2.5" r="0.4" fill="#3a389a"/><circle cx="22.3" cy="19.9" r="0.6" fill="#3a389a"/><circle cx="19.2" cy="4.6" r="0.4" fill="#3a389a"/><circle cx="15" cy="17.6" r="0.6" fill="#3a389a"/><circle cx="21.1" cy="2.1" r="0.5" fill="#3a389a"/><circle cx="16.1" cy="12.1" r="0.4" fill="#3a389a"/><circle cx="11.4" cy="2.1" r="0.7" fill="#3a389a"/><circle cx="20.8" cy="13.1" r="0.4" fill="#3a389a"/><circle cx="21.8" cy="13.7" r="0.7" fill="#3a389a"/><circle cx="20.4" cy="12.2" r="0.5" fill="#3a389a"/><circle cx="14.4" cy="10.3" r="0.4" fill="#3a389a"/><circle cx="7.3" cy="19.5" r="0.3" fill="#3a389a"/><circle cx="1.1" cy="15" r="0.4" fill="#3a389a"/><circle cx="12.8" cy="11.3" r="0.4" fill="#3a389a"/><circle cx="23.9" cy="4.7" r="0.5" fill="#3a389a"/><circle cx="4.9" cy="15.2" r="0.4" fill="#3a389a"/><circle cx="8.5" cy="17.9" r="0.4" fill="#3a389a"/><circle cx="13.4" cy="21.7" r="0.3" fill="#3a389a"/><circle cx="1.5" cy="5.5" r="0.6" fill="#3a389a"/><circle cx="14.8" cy="5.7" r="0.4" fill="#3a389a"/><circle cx="4.3" cy="11" r="0.3" fill="#3a389a"/><circle cx="16.7" cy="21.5" r="0.7" fill="#3a389a"/><circle cx="17.6" cy="23" r="0.3" fill="#3a389a"/><circle cx="6.9" cy="23.2" r="0.6" fill="#3a389a"/><circle cx="9.9" cy="22.6" r="0.5" fill="#3a389a"/><circle cx="19.6" cy="7" r="0.4" fill="#3a389a"/><circle cx="10.7" cy="3.3" r="0.5" fill="#3a389a"/><circle cx="23.1" cy="8" r="0.3" fill="#3a389a"/><circle cx="1.1" cy="4.1" r="0.6" fill="#3a389a"/><circle cx="8.7" cy="7" r="0.3" fill="#3a389a"/><circle cx="23.6" cy="10.2" r="0.4" fill="#3a389a"/><circle cx="1.4" cy="1.3" r="0.4" fill="#3a389a"/><circle cx="16.2" cy="3.6" r="0.3" fill="#3a389a"/><circle cx="11.8" cy="6" r="0.7" fill="#3a389a"/><circle cx="2.9" cy="12.7" r="0.6" fill="#3a389a"/><circle cx="9.8" cy="23.7" r="0.5" fill="#3a389a"/><circle cx="5.8" cy="9.9" r="0.3" fill="#3a389a"/><circle cx="10.1" cy="6" r="0.7" fill="#3a389a"/><circle cx="19.9" cy="12" r="0.3" fill="#3a389a"/><circle cx="6.1" cy="5.8" r="0.4" fill="#3a389a"/><circle cx="5.6" cy="20.9" r="0.4" fill="#3a389a"/><circle cx="1.2" cy="22.3" r="0.5" fill="#3a389a"/><circle cx="23.8" cy="9.7" r="0.7" fill="#3a389a"/><circle cx="15.7" cy="19" r="0.6" fill="#3a389a"/><circle cx="11.9" cy="2.2" r="0.4" fill="#3a389a"/><circle cx="21" cy="21.6" r="0.7" fill="#3a389a"/><circle cx="8.1" cy="15.8" r="0.6" fill="#3a389a"/><circle cx="15.4" cy="19.6" r="0.5" fill="#3a389a"/><circle cx="15.7" cy="16.5" r="0.4" fill="#3a389a"/><circle cx="22.1" cy="23" r="0.3" fill="#3a389a"/><circle cx="23.3" cy="23.1" r="0.6" fill="#3a389a"/><circle cx="1.1" cy="21.6" r="0.4" fill="#3a389a"/><circle cx="23.2" cy="16" r="0.3" fill="#3a389a"/><circle cx="4" cy="15.2" r="0.5" fill="#3a389a"/><circle cx="17.9" cy="22.3" r="0.4" fill="#3a389a"/><circle cx="0.1" cy="22.1" r="0.3" fill="#3a389a"/><circle cx="21" cy="2.8" r="0.6" fill="#3a389a"/><circle cx="18.8" cy="21.1" r="0.5" fill="#3a389a"/><circle cx="21.1" cy="4.8" r="0.6" fill="#3a389a"/><circle cx="7.9" cy="21.4" r="0.6" fill="#3a389a"/><circle cx="11.3" cy="12.6" r="0.3" fill="#3a389a"/><circle cx="0.8" cy="14.3" r="0.5" fill="#3a389a"/><circle cx="20.8" cy="14.6" r="0.4" fill="#3a389a"/><circle cx="8.7" cy="18.4" r="0.5" fill="#3a389a"/><circle cx="0.3" cy="20.1" r="0.6" fill="#3a389a"/><circle cx="2" cy="13" r="0.5" fill="#3a389a"/><circle cx="18.9" cy="7.5" r="0.4" fill="#3a389a"/><circle cx="11.7" cy="23.2" r="0.3" fill="#3a389a"/><circle cx="2.7" cy="14.9" r="0.7" fill="#3a389a"/><circle cx="12.3" cy="10.4" r="0.6" fill="#3a389a"/><circle cx="18.6" cy="1.6" r="0.7" fill="#3a389a"/><circle cx="4.7" cy="7.3" r="0.6" fill="#3a389a"/><circle cx="10.1" cy="19.2" r="0.4" fill="#3a389a"/><circle cx="21" cy="4.2" r="0.4" fill="#3a389a"/><circle cx="11.9" cy="8.1" r="0.5" fill="#3a389a"/><circle cx="21.7" cy="17.1" r="0.3" fill="#3a389a"/><circle cx="7.5" cy="13.1" r="0.5" fill="#3a389a"/><circle cx="17.2" cy="11.6" r="0.3" fill="#3a389a"/><circle cx="5.9" cy="20.3" r="0.4" fill="#3a389a"/><circle cx="18.4" cy="23.7" r="0.6" fill="#3a389a"/><circle cx="16.2" cy="14.6" r="0.4" fill="#3a389a"/><circle cx="21.9" cy="11.2" r="0.7" fill="#3a389a"/><circle cx="7.3" cy="20.8" r="0.6" fill="#3a389a"/><circle cx="14.7" cy="10.6" r="0.4" fill="#3a389a"/><circle cx="18.5" cy="8.7" r="0.6" fill="#3a389a"/><circle cx="3.2" cy="2" r="0.4" fill="#3a389a"/><circle cx="19.4" cy="4.3" r="0.7" fill="#3a389a"/><circle cx="8.9" cy="13.8" r="0.4" fill="#3a389a"/><circle cx="14.9" cy="2.2" r="0.5" fill="#3a389a"/><circle cx="22.5" cy="4.3" r="0.6" fill="#3a389a"/><circle cx="7.8" cy="7.2" r="0.3" fill="#3a389a"/><circle cx="0.5" cy="22.8" r="0.6" fill="#3a389a"/><circle cx="19.2" cy="19.4" r="0.7" fill="#3a389a"/><circle cx="3.8" cy="14" r="0.5" fill="#3a389a"/><circle cx="13.8" cy="22.5" r="0.6" fill="#3a389a"/><circle cx="23.2" cy="2.8" r="0.6" fill="#3a389a"/><circle cx="16.2" cy="17.9" r="0.5" fill="#3a389a"/><circle cx="20" cy="7.3" r="0.7" fill="#3a389a"/><circle cx="9.7" cy="14.4" r="0.7" fill="#3a389a"/><circle cx="16.9" cy="7.4" r="0.4" fill="#3a389a"/><circle cx="7.8" cy="15" r="0.7" fill="#3a389a"/><circle cx="21.6" cy="9.6" r="0.5" fill="#3a389a"/><circle cx="19.6" cy="6.8" r="0.5" fill="#3a389a"/><circle cx="0.3" cy="4.4" r="0.5" fill="#3a389a"/><circle cx="16.6" cy="14.8" r="0.4" fill="#3a389a"/><circle cx="22.8" cy="15" r="0.4" fill="#3a389a"/><circle cx="1.6" cy="23.4" r="0.7" fill="#6a68ba"/><circle cx="22.1" cy="14.5" r="0.4" fill="#6a68ba"/><circle cx="2.2" cy="6.2" r="0.4" fill="#6a68ba"/><circle cx="22.3" cy="21.4" r="0.6" fill="#6a68ba"/><circle cx="3.6" cy="5.7" r="0.4" fill="#6a68ba"/><circle cx="22.8" cy="3.9" r="0.6" fill="#6a68ba"/><circle cx="16.3" cy="13.1" r="0.7" fill="#6a68ba"/><circle cx="6.3" cy="12.6" r="0.4" fill="#6a68ba"/><circle cx="2.3" cy="0.8" r="0.4" fill="#6a68ba"/><circle cx="2.9" cy="1.5" r="0.7" fill="#6a68ba"/><circle cx="6.9" cy="21.4" r="0.6" fill="#6a68ba"/><circle cx="17.6" cy="15.7" r="0.7" fill="#6a68ba"/><circle cx="21.1" cy="17.3" r="0.5" fill="#6a68ba"/><circle cx="16.7" cy="17.4" r="0.5" fill="#6a68ba"/><circle cx="12.1" cy="3.7" r="0.6" fill="#6a68ba"/><circle cx="11.6" cy="1.6" r="0.4" fill="#6a68ba"/><circle cx="21" cy="6.1" r="0.5" fill="#6a68ba"/><circle cx="16.4" cy="20.7" r="0.4" fill="#6a68ba"/><circle cx="9.3" cy="10.2" r="0.3" fill="#6a68ba"/><circle cx="21" cy="0.5" r="0.7" fill="#6a68ba"/><circle cx="3.7" cy="3.8" r="0.6" fill="#6a68ba"/><circle cx="19.8" cy="5.6" r="0.5" fill="#6a68ba"/><circle cx="11.4" cy="17.2" r="0.4" fill="#6a68ba"/><circle cx="19.8" cy="23.9" r="0.6" fill="#6a68ba"/><circle cx="22.1" cy="22.5" r="0.5" fill="#6a68ba"/><circle cx="20.3" cy="20" r="0.5" fill="#6a68ba"/><circle cx="2.6" cy="14.9" r="0.7" fill="#6a68ba"/><circle cx="7.3" cy="15.5" r="0.7" fill="#6a68ba"/><circle cx="14.4" cy="0.9" r="0.6" fill="#6a68ba"/><circle cx="6.1" cy="20.6" r="0.6" fill="#6a68ba"/><circle cx="7.4" cy="21.5" r="0.6" fill="#6a68ba"/><circle cx="8.1" cy="20" r="0.7" fill="#6a68ba"/><circle cx="21.4" cy="21.2" r="0.6" fill="#6a68ba"/><circle cx="16.8" cy="14.5" r="0.5" fill="#6a68ba"/><circle cx="23.7" cy="8.5" r="0.3" fill="#6a68ba"/><circle cx="17.1" cy="12" r="0.5" fill="#6a68ba"/><circle cx="14.3" cy="6" r="0.4" fill="#6a68ba"/><circle cx="1.7" cy="18.8" r="0.7" fill="#6a68ba"/><circle cx="16.7" cy="2.8" r="0.7" fill="#6a68ba"/><circle cx="19.8" cy="12.2" r="0.3" fill="#6a68ba"/><circle cx="20.3" cy="15" r="0.5" fill="#6a68ba"/><circle cx="0.4" cy="17.6" r="0.3" fill="#6a68ba"/><circle cx="11.5" cy="3.5" r="0.4" fill="#6a68ba"/><circle cx="21.4" cy="18" r="0.6" fill="#6a68ba"/><circle cx="7.2" cy="9.3" r="0.5" fill="#6a68ba"/><circle cx="0.8" cy="9.9" r="0.7" fill="#6a68ba"/><circle cx="18.1" cy="20.7" r="0.4" fill="#6a68ba"/><circle cx="16.6" cy="18.9" r="0.6" fill="#6a68ba"/><circle cx="10.5" cy="4.2" r="0.3" fill="#6a68ba"/><circle cx="21.3" cy="22.4" r="0.4" fill="#6a68ba"/><circle cx="18.1" cy="9.8" r="0.6" fill="#6a68ba"/><circle cx="20.2" cy="7.7" r="0.5" fill="#6a68ba"/><circle cx="6.1" cy="12.3" r="0.3" fill="#6a68ba"/><circle cx="6.3" cy="6.9" r="0.7" fill="#6a68ba"/><circle cx="3.2" cy="18.2" r="0.3" fill="#6a68ba"/><circle cx="23.7" cy="4" r="0.3" fill="#6a68ba"/><circle cx="5.1" cy="22.4" r="0.6" fill="#6a68ba"/><circle cx="21.4" cy="12" r="0.3" fill="#6a68ba"/><circle cx="8.2" cy="10.9" r="0.7" fill="#6a68ba"/><circle cx="4" cy="5.9" r="0.6" fill="#6a68ba"/><circle cx="2.7" cy="23.3" r="0.4" fill="#6a68ba"/><circle cx="13.6" cy="15.9" r="0.7" fill="#6a68ba"/><circle cx="1.8" cy="20.3" r="0.4" fill="#6a68ba"/><circle cx="17.2" cy="0.7" r="0.6" fill="#6a68ba"/><circle cx="4.3" cy="4.9" r="0.3" fill="#6a68ba"/><circle cx="7.8" cy="7.9" r="0.7" fill="#6a68ba"/><circle cx="14.6" cy="8.7" r="0.7" fill="#6a68ba"/><circle cx="4.1" cy="5.2" r="0.7" fill="#6a68ba"/><circle cx="22.8" cy="16.4" r="0.7" fill="#6a68ba"/><circle cx="1.4" cy="21.7" r="0.6" fill="#6a68ba"/></pattern>
<pattern id="sdh3" patternUnits="userSpaceOnUse" width="24" height="24"><rect width="24" height="24" fill="#acb0cc"/><circle cx="14.9" cy="17.8" r="0.6" fill="#464c9c"/><circle cx="22.6" cy="17.8" r="0.7" fill="#464c9c"/><circle cx="0.7" cy="11.2" r="0.7" fill="#464c9c"/><circle cx="15.6" cy="21.6" r="0.3" fill="#464c9c"/><circle cx="11.3" cy="5.9" r="0.5" fill="#464c9c"/><circle cx="13.8" cy="0.3" r="0.4" fill="#464c9c"/><circle cx="6.7" cy="22" r="0.6" fill="#464c9c"/><circle cx="3.8" cy="19.1" r="0.4" fill="#464c9c"/><circle cx="14.8" cy="3" r="0.3" fill="#464c9c"/><circle cx="20.9" cy="5" r="0.4" fill="#464c9c"/><circle cx="23.6" cy="20.9" r="0.4" fill="#464c9c"/><circle cx="23.1" cy="12.9" r="0.6" fill="#464c9c"/><circle cx="4.9" cy="22.6" r="0.6" fill="#464c9c"/><circle cx="23.2" cy="21.4" r="0.4" fill="#464c9c"/><circle cx="8.7" cy="4" r="0.4" fill="#464c9c"/><circle cx="1.6" cy="7.2" r="0.5" fill="#464c9c"/><circle cx="0.1" cy="16.3" r="0.4" fill="#464c9c"/><circle cx="7.4" cy="19.6" r="0.5" fill="#464c9c"/><circle cx="7.6" cy="11.5" r="0.6" fill="#464c9c"/><circle cx="1.4" cy="23.4" r="0.3" fill="#464c9c"/><circle cx="18" cy="20.3" r="0.3" fill="#464c9c"/><circle cx="18.9" cy="8.8" r="0.5" fill="#464c9c"/><circle cx="0.2" cy="1.1" r="0.4" fill="#464c9c"/><circle cx="22.9" cy="4.7" r="0.6" fill="#464c9c"/><circle cx="22.3" cy="22.6" r="0.4" fill="#464c9c"/><circle cx="8.5" cy="12.6" r="0.6" fill="#464c9c"/><circle cx="2.6" cy="18" r="0.6" fill="#464c9c"/><circle cx="20.6" cy="0.9" r="0.7" fill="#464c9c"/><circle cx="2.2" cy="8.2" r="0.5" fill="#464c9c"/><circle cx="22" cy="8.2" r="0.7" fill="#464c9c"/><circle cx="13.1" cy="7.5" r="0.4" fill="#464c9c"/><circle cx="4.3" cy="1.9" r="0.4" fill="#464c9c"/><circle cx="16.5" cy="23.9" r="0.4" fill="#464c9c"/><circle cx="1.2" cy="23.7" r="0.5" fill="#464c9c"/><circle cx="9.7" cy="5.7" r="0.5" fill="#464c9c"/><circle cx="19.8" cy="10.9" r="0.5" fill="#464c9c"/><circle cx="1.3" cy="22" r="0.3" fill="#464c9c"/><circle cx="11.8" cy="20.1" r="0.4" fill="#464c9c"/><circle cx="17.6" cy="22.8" r="0.6" fill="#464c9c"/><circle cx="18.9" cy="2.6" r="0.5" fill="#464c9c"/><circle cx="3.6" cy="20.3" r="0.4" fill="#464c9c"/><circle cx="10.9" cy="24" r="0.6" fill="#464c9c"/><circle cx="23.4" cy="10.9" r="0.5" fill="#464c9c"/><circle cx="17.5" cy="11.5" r="0.4" fill="#464c9c"/><circle cx="9.7" cy="3.5" r="0.5" fill="#464c9c"/><circle cx="23.7" cy="23" r="0.6" fill="#464c9c"/><circle cx="12" cy="8.1" r="0.3" fill="#464c9c"/><circle cx="6.5" cy="18.8" r="0.6" fill="#464c9c"/><circle cx="8.7" cy="18.9" r="0.6" fill="#464c9c"/><circle cx="16.7" cy="15.9" r="0.6" fill="#464c9c"/><circle cx="8.7" cy="16.9" r="0.4" fill="#464c9c"/><circle cx="11.7" cy="18.5" r="0.6" fill="#464c9c"/><circle cx="7.1" cy="22.7" r="0.6" fill="#464c9c"/><circle cx="13.9" cy="0.3" r="0.5" fill="#464c9c"/><circle cx="6" cy="16.1" r="0.5" fill="#464c9c"/><circle cx="19.6" cy="15.5" r="0.6" fill="#464c9c"/><circle cx="8.3" cy="15.5" r="0.6" fill="#464c9c"/><circle cx="19.9" cy="8.4" r="0.6" fill="#464c9c"/><circle cx="20.9" cy="16.5" r="0.7" fill="#464c9c"/><circle cx="23" cy="12.4" r="0.5" fill="#464c9c"/><circle cx="4" cy="20.1" r="0.7" fill="#464c9c"/><circle cx="11.5" cy="16.6" r="0.6" fill="#464c9c"/><circle cx="17.5" cy="4.1" r="0.6" fill="#464c9c"/><circle cx="13.9" cy="16" r="0.5" fill="#464c9c"/><circle cx="15" cy="18.6" r="0.6" fill="#464c9c"/><circle cx="17.3" cy="0.7" r="0.4" fill="#464c9c"/><circle cx="10.6" cy="15.6" r="0.4" fill="#464c9c"/><circle cx="16.5" cy="15.1" r="0.3" fill="#464c9c"/><circle cx="11.3" cy="5.4" r="0.3" fill="#464c9c"/><circle cx="3.2" cy="7.6" r="0.4" fill="#464c9c"/><circle cx="4.6" cy="0.9" r="0.5" fill="#464c9c"/><circle cx="9.1" cy="14.7" r="0.5" fill="#464c9c"/><circle cx="5.7" cy="21.7" r="0.3" fill="#464c9c"/><circle cx="9.7" cy="6.7" r="0.5" fill="#464c9c"/><circle cx="2.8" cy="20" r="0.4" fill="#464c9c"/><circle cx="0.9" cy="14.7" r="0.3" fill="#464c9c"/><circle cx="13.1" cy="8.1" r="0.5" fill="#464c9c"/><circle cx="23" cy="19.6" r="0.5" fill="#464c9c"/><circle cx="19.5" cy="15.4" r="0.4" fill="#464c9c"/><circle cx="3.4" cy="14.3" r="0.5" fill="#464c9c"/><circle cx="23" cy="23.2" r="0.5" fill="#464c9c"/><circle cx="8.4" cy="21.4" r="0.3" fill="#464c9c"/><circle cx="2.6" cy="13.6" r="0.5" fill="#464c9c"/><circle cx="3.4" cy="15.1" r="0.7" fill="#464c9c"/><circle cx="9" cy="10.4" r="0.4" fill="#464c9c"/><circle cx="7" cy="23.3" r="0.5" fill="#464c9c"/><circle cx="23.1" cy="21.9" r="0.5" fill="#464c9c"/><circle cx="6.2" cy="23.5" r="0.5" fill="#464c9c"/><circle cx="10" cy="7.7" r="0.7" fill="#464c9c"/><circle cx="11.8" cy="6.9" r="0.5" fill="#464c9c"/><circle cx="2.9" cy="14.9" r="0.5" fill="#464c9c"/><circle cx="7" cy="18.8" r="0.6" fill="#464c9c"/><circle cx="0.3" cy="12.8" r="0.4" fill="#464c9c"/><circle cx="22.4" cy="18.8" r="0.4" fill="#464c9c"/><circle cx="6.4" cy="3.7" r="0.7" fill="#464c9c"/><circle cx="7" cy="14.6" r="0.5" fill="#464c9c"/><circle cx="15.5" cy="14.5" r="0.6" fill="#464c9c"/><circle cx="2.8" cy="18.2" r="0.4" fill="#464c9c"/><circle cx="12.8" cy="8.1" r="0.4" fill="#464c9c"/><circle cx="12.7" cy="11.1" r="0.4" fill="#464c9c"/><circle cx="17.9" cy="14.2" r="0.3" fill="#464c9c"/><circle cx="6.1" cy="10.9" r="0.7" fill="#464c9c"/><circle cx="21.3" cy="13.1" r="0.3" fill="#464c9c"/><circle cx="18.7" cy="10.3" r="0.5" fill="#464c9c"/><circle cx="17" cy="15.2" r="0.5" fill="#464c9c"/><circle cx="21.9" cy="9.3" r="0.5" fill="#464c9c"/><circle cx="20.4" cy="4.7" r="0.4" fill="#464c9c"/><circle cx="19.9" cy="1.6" r="0.6" fill="#464c9c"/><circle cx="16.7" cy="10.4" r="0.4" fill="#464c9c"/><circle cx="18.7" cy="21.9" r="0.4" fill="#464c9c"/><circle cx="11.5" cy="13.2" r="0.5" fill="#767cb4"/><circle cx="7.9" cy="3.7" r="0.5" fill="#767cb4"/><circle cx="19.5" cy="1.6" r="0.4" fill="#767cb4"/><circle cx="19.7" cy="19" r="0.6" fill="#767cb4"/><circle cx="0.6" cy="17.3" r="0.7" fill="#767cb4"/><circle cx="24" cy="16.8" r="0.3" fill="#767cb4"/><circle cx="20.2" cy="5.3" r="0.6" fill="#767cb4"/><circle cx="22.9" cy="17.1" r="0.4" fill="#767cb4"/><circle cx="7" cy="22" r="0.4" fill="#767cb4"/><circle cx="14.7" cy="9.9" r="0.4" fill="#767cb4"/><circle cx="14.9" cy="1" r="0.3" fill="#767cb4"/><circle cx="9.1" cy="1.7" r="0.3" fill="#767cb4"/><circle cx="13.8" cy="17.8" r="0.7" fill="#767cb4"/><circle cx="3.2" cy="10.4" r="0.4" fill="#767cb4"/><circle cx="14.4" cy="11.7" r="0.7" fill="#767cb4"/><circle cx="9" cy="1.3" r="0.6" fill="#767cb4"/><circle cx="3.6" cy="15.2" r="0.5" fill="#767cb4"/><circle cx="21.9" cy="13.3" r="0.5" fill="#767cb4"/><circle cx="6.3" cy="13.2" r="0.4" fill="#767cb4"/><circle cx="18" cy="12.4" r="0.4" fill="#767cb4"/><circle cx="5.6" cy="8.9" r="0.6" fill="#767cb4"/><circle cx="4.3" cy="17.1" r="0.6" fill="#767cb4"/><circle cx="2" cy="16" r="0.3" fill="#767cb4"/><circle cx="3" cy="14.3" r="0.4" fill="#767cb4"/><circle cx="21" cy="11.5" r="0.4" fill="#767cb4"/><circle cx="19.1" cy="0.7" r="0.6" fill="#767cb4"/><circle cx="1.3" cy="3.6" r="0.7" fill="#767cb4"/><circle cx="16.3" cy="5.4" r="0.3" fill="#767cb4"/><circle cx="23.3" cy="16" r="0.6" fill="#767cb4"/><circle cx="3.4" cy="15" r="0.4" fill="#767cb4"/><circle cx="5.6" cy="8" r="0.5" fill="#767cb4"/><circle cx="8.4" cy="9.3" r="0.4" fill="#767cb4"/><circle cx="19.9" cy="15.5" r="0.6" fill="#767cb4"/><circle cx="10.4" cy="20.4" r="0.5" fill="#767cb4"/><circle cx="14.2" cy="13.8" r="0.6" fill="#767cb4"/><circle cx="9.5" cy="2.3" r="0.3" fill="#767cb4"/><circle cx="4.9" cy="0.9" r="0.7" fill="#767cb4"/><circle cx="11.5" cy="18.2" r="0.3" fill="#767cb4"/><circle cx="11.3" cy="21.4" r="0.5" fill="#767cb4"/><circle cx="10.3" cy="11.2" r="0.3" fill="#767cb4"/><circle cx="3.7" cy="3.8" r="0.4" fill="#767cb4"/><circle cx="9.3" cy="21.1" r="0.4" fill="#767cb4"/><circle cx="6.1" cy="6.7" r="0.4" fill="#767cb4"/><circle cx="6.9" cy="5.6" r="0.5" fill="#767cb4"/><circle cx="0.8" cy="22.2" r="0.4" fill="#767cb4"/><circle cx="22.5" cy="16.5" r="0.6" fill="#767cb4"/><circle cx="11.3" cy="22.7" r="0.3" fill="#767cb4"/><circle cx="16" cy="7" r="0.6" fill="#767cb4"/><circle cx="17.5" cy="3.9" r="0.4" fill="#767cb4"/><circle cx="0.6" cy="5.5" r="0.3" fill="#767cb4"/><circle cx="9.6" cy="23.4" r="0.4" fill="#767cb4"/><circle cx="7.5" cy="11.2" r="0.4" fill="#767cb4"/><circle cx="17.6" cy="17.2" r="0.4" fill="#767cb4"/><circle cx="5.8" cy="16.1" r="0.7" fill="#767cb4"/><circle cx="15.5" cy="10.3" r="0.7" fill="#767cb4"/><circle cx="0.2" cy="1.5" r="0.6" fill="#767cb4"/><circle cx="9.8" cy="1.1" r="0.5" fill="#767cb4"/><circle cx="23.8" cy="12.5" r="0.4" fill="#767cb4"/><circle cx="2.3" cy="1.7" r="0.7" fill="#767cb4"/><circle cx="11.8" cy="22.5" r="0.3" fill="#767cb4"/><circle cx="5.8" cy="1.2" r="0.5" fill="#767cb4"/><circle cx="1.4" cy="6.1" r="0.5" fill="#767cb4"/><circle cx="7.3" cy="1.2" r="0.3" fill="#767cb4"/><circle cx="23.3" cy="4.3" r="0.5" fill="#767cb4"/><circle cx="9.7" cy="12.8" r="0.3" fill="#767cb4"/><circle cx="7.5" cy="2.6" r="0.5" fill="#767cb4"/><circle cx="22.1" cy="14.4" r="0.6" fill="#767cb4"/><circle cx="5.1" cy="0.4" r="0.5" fill="#767cb4"/><circle cx="11.7" cy="13.7" r="0.5" fill="#767cb4"/><circle cx="15" cy="17.4" r="0.7" fill="#767cb4"/></pattern>
<pattern id="sdh4" patternUnits="userSpaceOnUse" width="24" height="24"><rect width="24" height="24" fill="#9898cc"/><circle cx="19" cy="19.7" r="0.5" fill="#30308c"/><circle cx="6.3" cy="0" r="0.6" fill="#30308c"/><circle cx="11.3" cy="18.2" r="0.4" fill="#30308c"/><circle cx="18.5" cy="6.5" r="0.6" fill="#30308c"/><circle cx="17.5" cy="9.9" r="0.5" fill="#30308c"/><circle cx="16.4" cy="4.6" r="0.5" fill="#30308c"/><circle cx="19.3" cy="6.4" r="0.6" fill="#30308c"/><circle cx="16.5" cy="20.3" r="0.4" fill="#30308c"/><circle cx="2.2" cy="19.2" r="0.6" fill="#30308c"/><circle cx="10.7" cy="2.3" r="0.4" fill="#30308c"/><circle cx="15.2" cy="7" r="0.7" fill="#30308c"/><circle cx="14.1" cy="4.8" r="0.6" fill="#30308c"/><circle cx="8.6" cy="22.4" r="0.7" fill="#30308c"/><circle cx="12.4" cy="15.5" r="0.6" fill="#30308c"/><circle cx="19.3" cy="23.4" r="0.3" fill="#30308c"/><circle cx="8.7" cy="14.4" r="0.4" fill="#30308c"/><circle cx="14.1" cy="2.2" r="0.7" fill="#30308c"/><circle cx="12.6" cy="2.8" r="0.6" fill="#30308c"/><circle cx="7.5" cy="4.7" r="0.5" fill="#30308c"/><circle cx="3.3" cy="5" r="0.6" fill="#30308c"/><circle cx="16.8" cy="0.3" r="0.6" fill="#30308c"/><circle cx="0.4" cy="8" r="0.7" fill="#30308c"/><circle cx="14.9" cy="7.3" r="0.5" fill="#30308c"/><circle cx="9.3" cy="3" r="0.7" fill="#30308c"/><circle cx="1.3" cy="10.1" r="0.6" fill="#30308c"/><circle cx="9.5" cy="23.5" r="0.4" fill="#30308c"/><circle cx="23.5" cy="21.4" r="0.6" fill="#30308c"/><circle cx="21.3" cy="10.7" r="0.6" fill="#30308c"/><circle cx="19.1" cy="12.4" r="0.5" fill="#30308c"/><circle cx="16.9" cy="9.8" r="0.3" fill="#30308c"/><circle cx="17.9" cy="6.4" r="0.5" fill="#30308c"/><circle cx="18.8" cy="4.1" r="0.3" fill="#30308c"/><circle cx="3" cy="14.1" r="0.4" fill="#30308c"/><circle cx="6.2" cy="10.8" r="0.7" fill="#30308c"/><circle cx="6.1" cy="9.9" r="0.7" fill="#30308c"/><circle cx="14.7" cy="6.4" r="0.5" fill="#30308c"/><circle cx="11.5" cy="3.4" r="0.5" fill="#30308c"/><circle cx="7.3" cy="19.3" r="0.4" fill="#30308c"/><circle cx="15.8" cy="23.3" r="0.7" fill="#30308c"/><circle cx="9" cy="14.5" r="0.4" fill="#30308c"/><circle cx="9.6" cy="11.7" r="0.6" fill="#30308c"/><circle cx="22.5" cy="7" r="0.3" fill="#30308c"/><circle cx="10.8" cy="1.4" r="0.3" fill="#30308c"/><circle cx="18.6" cy="2.7" r="0.6" fill="#30308c"/><circle cx="8.7" cy="22.5" r="0.6" fill="#30308c"/><circle cx="1.5" cy="4.6" r="0.7" fill="#30308c"/><circle cx="14.7" cy="10.1" r="0.6" fill="#30308c"/><circle cx="19.5" cy="11.8" r="0.5" fill="#30308c"/><circle cx="2.4" cy="8.7" r="0.4" fill="#30308c"/><circle cx="15" cy="14.6" r="0.4" fill="#30308c"/><circle cx="15.1" cy="2.3" r="0.3" fill="#30308c"/><circle cx="15.5" cy="11.1" r="0.7" fill="#30308c"/><circle cx="15.1" cy="16.8" r="0.4" fill="#30308c"/><circle cx="20" cy="2" r="0.5" fill="#30308c"/><circle cx="21.9" cy="21.8" r="0.7" fill="#30308c"/><circle cx="10.8" cy="16.7" r="0.6" fill="#30308c"/><circle cx="3.3" cy="22.6" r="0.7" fill="#30308c"/><circle cx="10.6" cy="18.7" r="0.5" fill="#30308c"/><circle cx="6.6" cy="17.1" r="0.3" fill="#30308c"/><circle cx="19.2" cy="23.5" r="0.4" fill="#30308c"/><circle cx="22.6" cy="2" r="0.6" fill="#30308c"/><circle cx="6.7" cy="23.2" r="0.5" fill="#30308c"/><circle cx="22.1" cy="0.8" r="0.3" fill="#30308c"/><circle cx="19.6" cy="15.3" r="0.5" fill="#30308c"/><circle cx="0.8" cy="4.2" r="0.4" fill="#30308c"/><circle cx="1.2" cy="23.8" r="0.6" fill="#30308c"/><circle cx="22.8" cy="16.8" r="0.4" fill="#30308c"/><circle cx="1.9" cy="17.6" r="0.3" fill="#30308c"/><circle cx="13.1" cy="11.1" r="0.5" fill="#30308c"/><circle cx="1.8" cy="1.8" r="0.5" fill="#30308c"/><circle cx="0.7" cy="12.6" r="0.4" fill="#30308c"/><circle cx="6.8" cy="3.6" r="0.5" fill="#30308c"/><circle cx="9.3" cy="5.4" r="0.4" fill="#30308c"/><circle cx="13.5" cy="21.9" r="0.5" fill="#30308c"/><circle cx="3.9" cy="7.6" r="0.4" fill="#30308c"/><circle cx="13.7" cy="18.9" r="0.5" fill="#30308c"/><circle cx="4.5" cy="7.8" r="0.5" fill="#30308c"/><circle cx="10.6" cy="9.5" r="0.7" fill="#30308c"/><circle cx="13.2" cy="15.9" r="0.6" fill="#30308c"/><circle cx="15.5" cy="19.3" r="0.4" fill="#30308c"/><circle cx="16" cy="23.3" r="0.4" fill="#30308c"/><circle cx="15" cy="9.2" r="0.3" fill="#30308c"/><circle cx="1" cy="18.2" r="0.3" fill="#30308c"/><circle cx="17.1" cy="2.4" r="0.4" fill="#30308c"/><circle cx="0.8" cy="13" r="0.6" fill="#30308c"/><circle cx="5.4" cy="13.6" r="0.7" fill="#30308c"/><circle cx="7" cy="11.3" r="0.6" fill="#30308c"/><circle cx="20.7" cy="4" r="0.6" fill="#30308c"/><circle cx="2.9" cy="2.7" r="0.7" fill="#30308c"/><circle cx="1.2" cy="22.1" r="0.6" fill="#30308c"/><circle cx="16.2" cy="17.5" r="0.6" fill="#30308c"/><circle cx="6.9" cy="10.6" r="0.4" fill="#30308c"/><circle cx="20.6" cy="18.7" r="0.6" fill="#30308c"/><circle cx="5.1" cy="14.2" r="0.4" fill="#30308c"/><circle cx="19" cy="17.9" r="0.7" fill="#30308c"/><circle cx="17" cy="16.4" r="0.6" fill="#30308c"/><circle cx="2.2" cy="14.3" r="0.3" fill="#30308c"/><circle cx="8.8" cy="2.8" r="0.7" fill="#30308c"/><circle cx="0.7" cy="22.1" r="0.7" fill="#30308c"/><circle cx="10.5" cy="20" r="0.3" fill="#30308c"/><circle cx="3.3" cy="0.2" r="0.3" fill="#5252aa"/><circle cx="0.1" cy="19.9" r="0.3" fill="#5252aa"/><circle cx="14.2" cy="6.6" r="0.4" fill="#5252aa"/><circle cx="10.1" cy="4.4" r="0.7" fill="#5252aa"/><circle cx="9.2" cy="14.3" r="0.5" fill="#5252aa"/><circle cx="15" cy="11.5" r="0.4" fill="#5252aa"/><circle cx="3.3" cy="21.3" r="0.4" fill="#5252aa"/><circle cx="10.8" cy="19.4" r="0.5" fill="#5252aa"/><circle cx="22.8" cy="19.4" r="0.5" fill="#5252aa"/><circle cx="2.9" cy="14.2" r="0.5" fill="#5252aa"/><circle cx="20.7" cy="12.7" r="0.6" fill="#5252aa"/><circle cx="19.5" cy="11.3" r="0.6" fill="#5252aa"/><circle cx="21.6" cy="3.7" r="0.7" fill="#5252aa"/><circle cx="20.9" cy="20.5" r="0.4" fill="#5252aa"/><circle cx="6" cy="3.2" r="0.4" fill="#5252aa"/><circle cx="20.5" cy="8.7" r="0.3" fill="#5252aa"/><circle cx="7.3" cy="2" r="0.5" fill="#5252aa"/><circle cx="18.4" cy="22.2" r="0.3" fill="#5252aa"/><circle cx="9.1" cy="3" r="0.7" fill="#5252aa"/><circle cx="20.1" cy="12.5" r="0.7" fill="#5252aa"/><circle cx="12.5" cy="18.6" r="0.5" fill="#5252aa"/><circle cx="8.7" cy="23.9" r="0.6" fill="#5252aa"/><circle cx="14.2" cy="20.8" r="0.6" fill="#5252aa"/><circle cx="19.1" cy="1.6" r="0.4" fill="#5252aa"/><circle cx="2.6" cy="14.5" r="0.6" fill="#5252aa"/><circle cx="3.7" cy="12.1" r="0.3" fill="#5252aa"/><circle cx="16.5" cy="18.7" r="0.3" fill="#5252aa"/><circle cx="23.5" cy="16" r="0.3" fill="#5252aa"/><circle cx="8.4" cy="3.8" r="0.6" fill="#5252aa"/><circle cx="22" cy="4.2" r="0.4" fill="#5252aa"/><circle cx="15.1" cy="20.6" r="0.6" fill="#5252aa"/><circle cx="11" cy="2.7" r="0.5" fill="#5252aa"/><circle cx="10.9" cy="19.3" r="0.5" fill="#5252aa"/><circle cx="17.6" cy="23.3" r="0.6" fill="#5252aa"/><circle cx="21.9" cy="6.6" r="0.3" fill="#5252aa"/><circle cx="21.2" cy="0.7" r="0.7" fill="#5252aa"/><circle cx="10.9" cy="1.5" r="0.4" fill="#5252aa"/><circle cx="17.3" cy="9.2" r="0.5" fill="#5252aa"/><circle cx="2.4" cy="20.1" r="0.4" fill="#5252aa"/><circle cx="20" cy="3.5" r="0.6" fill="#5252aa"/><circle cx="11.3" cy="9.7" r="0.3" fill="#5252aa"/><circle cx="12.8" cy="20.1" r="0.3" fill="#5252aa"/><circle cx="10.7" cy="0.3" r="0.7" fill="#5252aa"/><circle cx="23.3" cy="16.3" r="0.5" fill="#5252aa"/><circle cx="1.7" cy="2.9" r="0.6" fill="#5252aa"/><circle cx="19.1" cy="23.7" r="0.6" fill="#5252aa"/><circle cx="10.5" cy="6.1" r="0.5" fill="#5252aa"/><circle cx="8.3" cy="13.1" r="0.7" fill="#5252aa"/><circle cx="10.9" cy="23.5" r="0.6" fill="#5252aa"/><circle cx="1.1" cy="17.9" r="0.6" fill="#5252aa"/><circle cx="14.9" cy="0.1" r="0.7" fill="#5252aa"/><circle cx="11.9" cy="12.9" r="0.4" fill="#5252aa"/><circle cx="0.9" cy="0.3" r="0.4" fill="#5252aa"/><circle cx="7.3" cy="3.7" r="0.3" fill="#5252aa"/><circle cx="17.5" cy="16.9" r="0.7" fill="#5252aa"/><circle cx="5.2" cy="17.5" r="0.5" fill="#5252aa"/><circle cx="2.2" cy="21" r="0.4" fill="#5252aa"/><circle cx="4.4" cy="4.4" r="0.7" fill="#5252aa"/><circle cx="5.3" cy="9.2" r="0.5" fill="#5252aa"/><circle cx="8.6" cy="15.7" r="0.3" fill="#5252aa"/><circle cx="10.3" cy="14" r="0.5" fill="#5252aa"/><circle cx="14.6" cy="6.5" r="0.6" fill="#5252aa"/><circle cx="23.3" cy="11.6" r="0.6" fill="#5252aa"/><circle cx="20.1" cy="6.1" r="0.4" fill="#5252aa"/><circle cx="23.3" cy="7.2" r="0.5" fill="#5252aa"/><circle cx="8.9" cy="23.8" r="0.5" fill="#5252aa"/><circle cx="21.5" cy="3.9" r="0.4" fill="#5252aa"/><circle cx="15.6" cy="7.6" r="0.6" fill="#5252aa"/><circle cx="12.2" cy="1.9" r="0.3" fill="#5252aa"/><circle cx="10.5" cy="12.8" r="0.4" fill="#5252aa"/><circle cx="6.3" cy="0" r="0.4" fill="#d8d8f0"/><circle cx="7.4" cy="9.3" r="0.5" fill="#d8d8f0"/><circle cx="20.5" cy="17.2" r="0.5" fill="#d8d8f0"/><circle cx="6.8" cy="11.9" r="0.5" fill="#d8d8f0"/><circle cx="21.5" cy="5.8" r="0.3" fill="#d8d8f0"/><circle cx="1.2" cy="12.4" r="0.6" fill="#d8d8f0"/><circle cx="3.7" cy="18.8" r="0.5" fill="#d8d8f0"/><circle cx="20.7" cy="21.6" r="0.3" fill="#d8d8f0"/><circle cx="19" cy="3.2" r="0.3" fill="#d8d8f0"/><circle cx="9.6" cy="11.7" r="0.3" fill="#d8d8f0"/><circle cx="6.6" cy="4.2" r="0.3" fill="#d8d8f0"/><circle cx="2.4" cy="0.6" r="0.4" fill="#d8d8f0"/><circle cx="7.9" cy="10.1" r="0.5" fill="#d8d8f0"/><circle cx="14.7" cy="11.7" r="0.4" fill="#d8d8f0"/><circle cx="14.8" cy="4.6" r="0.4" fill="#d8d8f0"/><circle cx="2.7" cy="16.1" r="0.3" fill="#d8d8f0"/><circle cx="5.3" cy="8.4" r="0.5" fill="#d8d8f0"/><circle cx="15.5" cy="14.2" r="0.5" fill="#d8d8f0"/><circle cx="4.6" cy="21.9" r="0.5" fill="#d8d8f0"/><circle cx="9.8" cy="9.5" r="0.5" fill="#d8d8f0"/><circle cx="2.9" cy="15.5" r="0.6" fill="#d8d8f0"/><circle cx="8.7" cy="12" r="0.4" fill="#d8d8f0"/><circle cx="21.8" cy="9" r="0.4" fill="#d8d8f0"/><circle cx="17.1" cy="8.9" r="0.6" fill="#d8d8f0"/><circle cx="9.9" cy="14.1" r="0.4" fill="#d8d8f0"/></pattern>
<pattern id="sdhf" patternUnits="userSpaceOnUse" width="22" height="22"><rect width="22" height="22" fill="#7474ba"/><circle cx="5" cy="21.2" r="0.4" fill="#24247e"/><circle cx="15.5" cy="1.9" r="0.4" fill="#24247e"/><circle cx="22" cy="4.6" r="0.6" fill="#24247e"/><circle cx="10.1" cy="10" r="0.5" fill="#24247e"/><circle cx="4.2" cy="18.3" r="0.3" fill="#24247e"/><circle cx="5.2" cy="0.4" r="0.4" fill="#24247e"/><circle cx="9" cy="19.8" r="0.5" fill="#24247e"/><circle cx="2.5" cy="5.7" r="0.7" fill="#24247e"/><circle cx="1.4" cy="13.6" r="0.5" fill="#24247e"/><circle cx="14.5" cy="7.4" r="0.6" fill="#24247e"/><circle cx="10.9" cy="14.3" r="0.7" fill="#24247e"/><circle cx="12.8" cy="3.1" r="0.3" fill="#24247e"/><circle cx="20.8" cy="10.8" r="0.4" fill="#24247e"/><circle cx="20.8" cy="12.7" r="0.6" fill="#24247e"/><circle cx="19.4" cy="6.3" r="0.4" fill="#24247e"/><circle cx="19.3" cy="3" r="0.6" fill="#24247e"/><circle cx="2.1" cy="15.2" r="0.6" fill="#24247e"/><circle cx="20.9" cy="18.6" r="0.5" fill="#24247e"/><circle cx="4.3" cy="3.3" r="0.5" fill="#24247e"/><circle cx="11.2" cy="1.6" r="0.7" fill="#24247e"/><circle cx="11.2" cy="15.4" r="0.4" fill="#24247e"/><circle cx="5.4" cy="0.3" r="0.4" fill="#24247e"/><circle cx="5.9" cy="9.3" r="0.5" fill="#24247e"/><circle cx="18.4" cy="19.6" r="0.4" fill="#24247e"/><circle cx="8.7" cy="3.7" r="0.6" fill="#24247e"/><circle cx="21.4" cy="4.4" r="0.6" fill="#24247e"/><circle cx="6.6" cy="0.3" r="0.6" fill="#24247e"/><circle cx="7.5" cy="3.7" r="0.5" fill="#24247e"/><circle cx="5.1" cy="9" r="0.5" fill="#24247e"/><circle cx="9.2" cy="12.9" r="0.4" fill="#24247e"/><circle cx="2.1" cy="1.9" r="0.3" fill="#24247e"/><circle cx="11.5" cy="7.9" r="0.6" fill="#24247e"/><circle cx="11.1" cy="15.6" r="0.7" fill="#24247e"/><circle cx="1.4" cy="0.4" r="0.4" fill="#24247e"/><circle cx="8.5" cy="12.6" r="0.6" fill="#24247e"/><circle cx="7.7" cy="21.2" r="0.3" fill="#24247e"/><circle cx="18.4" cy="4.6" r="0.7" fill="#24247e"/><circle cx="0.7" cy="21.2" r="0.6" fill="#24247e"/><circle cx="21.8" cy="12.8" r="0.4" fill="#24247e"/><circle cx="21.3" cy="9.7" r="0.3" fill="#24247e"/><circle cx="13.3" cy="10.9" r="0.5" fill="#24247e"/><circle cx="3.4" cy="2.7" r="0.5" fill="#24247e"/><circle cx="10" cy="2.8" r="0.5" fill="#24247e"/><circle cx="16" cy="15.7" r="0.5" fill="#24247e"/><circle cx="8.7" cy="7.9" r="0.4" fill="#24247e"/><circle cx="4.3" cy="9.8" r="0.3" fill="#24247e"/><circle cx="16" cy="15.6" r="0.5" fill="#24247e"/><circle cx="0.5" cy="8" r="0.5" fill="#24247e"/><circle cx="2.1" cy="21.3" r="0.6" fill="#24247e"/><circle cx="11.1" cy="15.5" r="0.4" fill="#24247e"/><circle cx="5" cy="11.6" r="0.6" fill="#24247e"/><circle cx="14.2" cy="0.1" r="0.5" fill="#24247e"/><circle cx="20" cy="16.4" r="0.7" fill="#24247e"/><circle cx="21.6" cy="4.9" r="0.4" fill="#24247e"/><circle cx="12" cy="21.5" r="0.4" fill="#24247e"/><circle cx="20.7" cy="18.7" r="0.5" fill="#24247e"/><circle cx="13.8" cy="21.1" r="0.6" fill="#24247e"/><circle cx="6.5" cy="18.6" r="0.4" fill="#24247e"/><circle cx="8.1" cy="21.1" r="0.6" fill="#24247e"/><circle cx="6.9" cy="6.4" r="0.5" fill="#24247e"/><circle cx="18.5" cy="15.1" r="0.7" fill="#24247e"/><circle cx="16" cy="18.1" r="0.5" fill="#24247e"/><circle cx="8" cy="9.4" r="0.5" fill="#24247e"/><circle cx="11.6" cy="18.4" r="0.4" fill="#24247e"/><circle cx="1.5" cy="16.1" r="0.4" fill="#24247e"/><circle cx="9.2" cy="2.6" r="0.6" fill="#24247e"/><circle cx="6" cy="6.4" r="0.6" fill="#24247e"/><circle cx="11.1" cy="6.1" r="0.7" fill="#24247e"/><circle cx="9.1" cy="7.9" r="0.7" fill="#24247e"/><circle cx="17.4" cy="16.4" r="0.4" fill="#24247e"/><circle cx="17.9" cy="13.1" r="0.6" fill="#24247e"/><circle cx="8.1" cy="17.2" r="0.6" fill="#24247e"/><circle cx="8.5" cy="14.4" r="0.6" fill="#24247e"/><circle cx="21.8" cy="20.2" r="0.6" fill="#24247e"/><circle cx="3" cy="13.4" r="0.6" fill="#24247e"/><circle cx="1.9" cy="10.2" r="0.6" fill="#24247e"/><circle cx="19.9" cy="20.4" r="0.3" fill="#24247e"/><circle cx="13.4" cy="19" r="0.6" fill="#24247e"/><circle cx="7" cy="0.9" r="0.7" fill="#24247e"/><circle cx="18.9" cy="14.4" r="0.4" fill="#24247e"/><circle cx="18.2" cy="17.9" r="0.6" fill="#24247e"/><circle cx="13.2" cy="7" r="0.4" fill="#24247e"/><circle cx="7.9" cy="7.2" r="0.5" fill="#24247e"/><circle cx="2.5" cy="15.9" r="0.4" fill="#24247e"/><circle cx="3.5" cy="5.6" r="0.5" fill="#24247e"/><circle cx="9.5" cy="17.2" r="0.3" fill="#24247e"/><circle cx="4.9" cy="6.4" r="0.4" fill="#24247e"/><circle cx="16.5" cy="2.4" r="0.3" fill="#24247e"/><circle cx="12.2" cy="16.2" r="0.6" fill="#24247e"/><circle cx="12.3" cy="7.2" r="0.7" fill="#24247e"/><circle cx="16.2" cy="10.5" r="0.5" fill="#24247e"/><circle cx="20.6" cy="21.9" r="0.7" fill="#24247e"/><circle cx="2.9" cy="7.2" r="0.5" fill="#24247e"/><circle cx="3.7" cy="16.8" r="0.3" fill="#24247e"/><circle cx="19.5" cy="12.9" r="0.5" fill="#24247e"/><circle cx="9.1" cy="20.6" r="0.5" fill="#24247e"/><circle cx="19.7" cy="20.3" r="0.6" fill="#24247e"/><circle cx="21.6" cy="10.8" r="0.4" fill="#24247e"/><circle cx="18.6" cy="11.6" r="0.4" fill="#24247e"/><circle cx="15" cy="10.5" r="0.4" fill="#24247e"/><circle cx="18.4" cy="11" r="0.7" fill="#24247e"/><circle cx="11.7" cy="20.6" r="0.4" fill="#24247e"/><circle cx="4.8" cy="11.6" r="0.6" fill="#24247e"/><circle cx="18.1" cy="14.2" r="0.3" fill="#24247e"/><circle cx="8.7" cy="0.8" r="0.4" fill="#24247e"/><circle cx="20.8" cy="7.6" r="0.6" fill="#24247e"/><circle cx="13.7" cy="3.2" r="0.6" fill="#24247e"/><circle cx="1.8" cy="4.1" r="0.5" fill="#24247e"/><circle cx="2.8" cy="21.2" r="0.5" fill="#24247e"/><circle cx="13.9" cy="21.2" r="0.3" fill="#24247e"/><circle cx="22" cy="0.9" r="0.5" fill="#4646a2"/><circle cx="14.4" cy="21.7" r="0.4" fill="#4646a2"/><circle cx="20.8" cy="14.3" r="0.5" fill="#4646a2"/><circle cx="3.7" cy="5.2" r="0.4" fill="#4646a2"/><circle cx="7.6" cy="8.2" r="0.6" fill="#4646a2"/><circle cx="8.2" cy="13.8" r="0.3" fill="#4646a2"/><circle cx="3.1" cy="15.6" r="0.7" fill="#4646a2"/><circle cx="6.9" cy="0.7" r="0.4" fill="#4646a2"/><circle cx="7.9" cy="8.1" r="0.5" fill="#4646a2"/><circle cx="6.6" cy="14.2" r="0.6" fill="#4646a2"/><circle cx="17.2" cy="16.3" r="0.5" fill="#4646a2"/><circle cx="5.7" cy="18.5" r="0.4" fill="#4646a2"/><circle cx="18.9" cy="9.8" r="0.6" fill="#4646a2"/><circle cx="11" cy="14.4" r="0.4" fill="#4646a2"/><circle cx="12.7" cy="16.2" r="0.4" fill="#4646a2"/><circle cx="13.2" cy="10" r="0.5" fill="#4646a2"/><circle cx="8.4" cy="12" r="0.6" fill="#4646a2"/><circle cx="3.8" cy="3.2" r="0.6" fill="#4646a2"/><circle cx="1.9" cy="17.4" r="0.6" fill="#4646a2"/><circle cx="4.8" cy="14" r="0.4" fill="#4646a2"/><circle cx="19.4" cy="4.3" r="0.3" fill="#4646a2"/><circle cx="0.8" cy="15.8" r="0.4" fill="#4646a2"/><circle cx="6.9" cy="21.5" r="0.6" fill="#4646a2"/><circle cx="16.2" cy="12.7" r="0.6" fill="#4646a2"/><circle cx="0.2" cy="17.9" r="0.4" fill="#4646a2"/><circle cx="18.8" cy="9.1" r="0.7" fill="#4646a2"/><circle cx="0" cy="21.6" r="0.3" fill="#4646a2"/><circle cx="11.2" cy="10.6" r="0.7" fill="#4646a2"/><circle cx="15.8" cy="21.6" r="0.7" fill="#4646a2"/><circle cx="9.4" cy="3.3" r="0.4" fill="#4646a2"/><circle cx="15.6" cy="20.9" r="0.6" fill="#4646a2"/><circle cx="7.6" cy="13.1" r="0.6" fill="#4646a2"/><circle cx="5.6" cy="15.3" r="0.4" fill="#4646a2"/><circle cx="0.6" cy="1.4" r="0.5" fill="#4646a2"/><circle cx="15.3" cy="5" r="0.5" fill="#4646a2"/><circle cx="15.2" cy="5.8" r="0.5" fill="#4646a2"/><circle cx="13.3" cy="8.9" r="0.4" fill="#4646a2"/><circle cx="15.2" cy="15.4" r="0.4" fill="#4646a2"/><circle cx="17.8" cy="14.4" r="0.6" fill="#4646a2"/><circle cx="17.2" cy="10.9" r="0.6" fill="#4646a2"/><circle cx="6.9" cy="14.4" r="0.3" fill="#4646a2"/><circle cx="7.6" cy="11.1" r="0.7" fill="#4646a2"/><circle cx="15" cy="20" r="0.6" fill="#4646a2"/><circle cx="21.4" cy="13.6" r="0.5" fill="#4646a2"/><circle cx="10.3" cy="4.9" r="0.6" fill="#4646a2"/><circle cx="13.4" cy="3.6" r="0.4" fill="#4646a2"/><circle cx="4.9" cy="15.9" r="0.5" fill="#4646a2"/><circle cx="4.4" cy="15.1" r="0.5" fill="#4646a2"/><circle cx="5.9" cy="9.8" r="0.7" fill="#4646a2"/><circle cx="3.1" cy="5.2" r="0.5" fill="#4646a2"/><circle cx="18.5" cy="20.3" r="0.5" fill="#4646a2"/><circle cx="16.9" cy="2.6" r="0.5" fill="#4646a2"/><circle cx="18.9" cy="14.6" r="0.5" fill="#4646a2"/><circle cx="13.2" cy="10.7" r="0.5" fill="#4646a2"/><circle cx="19.4" cy="21.5" r="0.4" fill="#4646a2"/><circle cx="16.6" cy="20.8" r="0.5" fill="#4646a2"/><circle cx="11" cy="8.2" r="0.5" fill="#4646a2"/><circle cx="12.8" cy="13.5" r="0.3" fill="#4646a2"/><circle cx="22" cy="6.1" r="0.5" fill="#4646a2"/><circle cx="4.4" cy="13.9" r="0.3" fill="#4646a2"/><circle cx="7.4" cy="8.5" r="0.4" fill="#dcdcf2"/><circle cx="10.7" cy="3.5" r="0.5" fill="#dcdcf2"/><circle cx="17.5" cy="13.8" r="0.6" fill="#dcdcf2"/><circle cx="20.9" cy="10.5" r="0.5" fill="#dcdcf2"/><circle cx="16.8" cy="19.4" r="0.5" fill="#dcdcf2"/><circle cx="14.7" cy="15.2" r="0.5" fill="#dcdcf2"/><circle cx="11.2" cy="8.8" r="0.5" fill="#dcdcf2"/><circle cx="10.4" cy="17.7" r="0.4" fill="#dcdcf2"/><circle cx="2.6" cy="20.3" r="0.5" fill="#dcdcf2"/><circle cx="15.3" cy="20.1" r="0.6" fill="#dcdcf2"/><circle cx="12.5" cy="20.9" r="0.5" fill="#dcdcf2"/><circle cx="9.8" cy="4" r="0.4" fill="#dcdcf2"/><circle cx="17.4" cy="19.7" r="0.4" fill="#dcdcf2"/><circle cx="11.6" cy="14.9" r="0.5" fill="#dcdcf2"/><circle cx="6.1" cy="20" r="0.5" fill="#dcdcf2"/><circle cx="15.7" cy="15.1" r="0.5" fill="#dcdcf2"/><circle cx="15.4" cy="4.2" r="0.5" fill="#dcdcf2"/><circle cx="14.3" cy="13.8" r="0.4" fill="#dcdcf2"/><circle cx="4" cy="2.2" r="0.3" fill="#dcdcf2"/><circle cx="4.1" cy="10.7" r="0.5" fill="#dcdcf2"/><circle cx="15.5" cy="9.6" r="0.6" fill="#dcdcf2"/><circle cx="0.7" cy="7.7" r="0.3" fill="#dcdcf2"/><circle cx="11.4" cy="12.6" r="0.5" fill="#dcdcf2"/><circle cx="9.8" cy="8.1" r="0.4" fill="#dcdcf2"/><circle cx="2.3" cy="4.3" r="0.5" fill="#dcdcf2"/><circle cx="12.5" cy="2.2" r="0.6" fill="#dcdcf2"/><circle cx="0.6" cy="2.8" r="0.5" fill="#dcdcf2"/><circle cx="7.3" cy="11.4" r="0.5" fill="#dcdcf2"/><circle cx="13.1" cy="17.3" r="0.5" fill="#dcdcf2"/><circle cx="14.9" cy="9.2" r="0.3" fill="#dcdcf2"/><circle cx="1.6" cy="4" r="0.5" fill="#dcdcf2"/><circle cx="6.1" cy="12.3" r="0.5" fill="#dcdcf2"/><circle cx="20.2" cy="3.3" r="0.6" fill="#dcdcf2"/><circle cx="0" cy="19.6" r="0.6" fill="#dcdcf2"/><circle cx="8" cy="17.6" r="0.5" fill="#dcdcf2"/><circle cx="12.4" cy="18.9" r="0.6" fill="#dcdcf2"/><circle cx="6.6" cy="4.8" r="0.6" fill="#dcdcf2"/><circle cx="13" cy="19.8" r="0.4" fill="#dcdcf2"/><circle cx="18.7" cy="3.5" r="0.4" fill="#dcdcf2"/><circle cx="6.3" cy="20.4" r="0.4" fill="#dcdcf2"/><circle cx="9.7" cy="6.4" r="0.3" fill="#dcdcf2"/><circle cx="9.7" cy="10.9" r="0.4" fill="#dcdcf2"/><circle cx="16.1" cy="6.8" r="0.6" fill="#dcdcf2"/><circle cx="20" cy="12.7" r="0.3" fill="#dcdcf2"/><circle cx="12.3" cy="13.7" r="0.5" fill="#dcdcf2"/><circle cx="9.4" cy="16" r="0.6" fill="#dcdcf2"/><circle cx="15.5" cy="0.9" r="0.5" fill="#dcdcf2"/><circle cx="13.7" cy="12" r="0.6" fill="#dcdcf2"/><circle cx="1.2" cy="0.4" r="0.6" fill="#dcdcf2"/><circle cx="2.2" cy="3" r="0.6" fill="#dcdcf2"/><circle cx="8" cy="19.4" r="0.6" fill="#dcdcf2"/><circle cx="14.6" cy="7.9" r="0.3" fill="#dcdcf2"/><circle cx="21.5" cy="19.2" r="0.6" fill="#dcdcf2"/><circle cx="11.2" cy="6.2" r="0.5" fill="#dcdcf2"/><circle cx="9.2" cy="4.2" r="0.3" fill="#dcdcf2"/><circle cx="9" cy="3.3" r="0.4" fill="#dcdcf2"/><circle cx="21.5" cy="20.5" r="0.6" fill="#dcdcf2"/><circle cx="11.3" cy="16.8" r="0.4" fill="#dcdcf2"/><circle cx="13.7" cy="21.4" r="0.6" fill="#dcdcf2"/><circle cx="21.7" cy="13.8" r="0.4" fill="#dcdcf2"/></pattern>
<pattern id="sdhf2" patternUnits="userSpaceOnUse" width="22" height="22"><rect width="22" height="22" fill="#7a7abe"/><circle cx="10.2" cy="8.2" r="0.4" fill="#262682"/><circle cx="19.1" cy="0.1" r="0.5" fill="#262682"/><circle cx="19.8" cy="1.8" r="0.5" fill="#262682"/><circle cx="13.6" cy="0.9" r="0.5" fill="#262682"/><circle cx="15.5" cy="9.9" r="0.6" fill="#262682"/><circle cx="3.5" cy="5.2" r="0.3" fill="#262682"/><circle cx="11.1" cy="20.3" r="0.5" fill="#262682"/><circle cx="17" cy="8.4" r="0.6" fill="#262682"/><circle cx="2.2" cy="6.4" r="0.6" fill="#262682"/><circle cx="16" cy="9.3" r="0.3" fill="#262682"/><circle cx="5.9" cy="4.6" r="0.4" fill="#262682"/><circle cx="17.8" cy="4.4" r="0.7" fill="#262682"/><circle cx="19.3" cy="1.2" r="0.5" fill="#262682"/><circle cx="10.8" cy="0.5" r="0.5" fill="#262682"/><circle cx="19.9" cy="2.5" r="0.5" fill="#262682"/><circle cx="2.7" cy="12.7" r="0.7" fill="#262682"/><circle cx="4.5" cy="0.2" r="0.3" fill="#262682"/><circle cx="11.9" cy="0.4" r="0.3" fill="#262682"/><circle cx="10.9" cy="20.3" r="0.5" fill="#262682"/><circle cx="8.8" cy="14.1" r="0.3" fill="#262682"/><circle cx="12.8" cy="3.8" r="0.5" fill="#262682"/><circle cx="21.1" cy="1.2" r="0.5" fill="#262682"/><circle cx="13.3" cy="3.3" r="0.4" fill="#262682"/><circle cx="21.9" cy="22" r="0.3" fill="#262682"/><circle cx="15.5" cy="20.9" r="0.4" fill="#262682"/><circle cx="13.4" cy="0.9" r="0.4" fill="#262682"/><circle cx="14.8" cy="13" r="0.6" fill="#262682"/><circle cx="1.9" cy="7.6" r="0.6" fill="#262682"/><circle cx="12.9" cy="9.9" r="0.5" fill="#262682"/><circle cx="21.7" cy="12.6" r="0.3" fill="#262682"/><circle cx="17.6" cy="7.2" r="0.5" fill="#262682"/><circle cx="4.7" cy="9.8" r="0.4" fill="#262682"/><circle cx="2" cy="13.8" r="0.3" fill="#262682"/><circle cx="17.3" cy="0.6" r="0.6" fill="#262682"/><circle cx="17.8" cy="10.9" r="0.6" fill="#262682"/><circle cx="5.5" cy="16.2" r="0.5" fill="#262682"/><circle cx="5.1" cy="21.2" r="0.5" fill="#262682"/><circle cx="8.2" cy="18.9" r="0.4" fill="#262682"/><circle cx="14.7" cy="3.8" r="0.6" fill="#262682"/><circle cx="5.7" cy="1.1" r="0.7" fill="#262682"/><circle cx="3.8" cy="20.8" r="0.7" fill="#262682"/><circle cx="13.3" cy="0.3" r="0.3" fill="#262682"/><circle cx="4.6" cy="8.6" r="0.5" fill="#262682"/><circle cx="21.3" cy="7.8" r="0.4" fill="#262682"/><circle cx="12.4" cy="3" r="0.3" fill="#262682"/><circle cx="12.2" cy="15.3" r="0.3" fill="#262682"/><circle cx="9.9" cy="15.5" r="0.6" fill="#262682"/><circle cx="8.4" cy="19.5" r="0.4" fill="#262682"/><circle cx="15.7" cy="17" r="0.7" fill="#262682"/><circle cx="10.9" cy="2.2" r="0.3" fill="#262682"/><circle cx="11.6" cy="3.8" r="0.6" fill="#262682"/><circle cx="1.9" cy="17.2" r="0.4" fill="#262682"/><circle cx="0.3" cy="3.9" r="0.5" fill="#262682"/><circle cx="12.3" cy="8.5" r="0.4" fill="#262682"/><circle cx="10.6" cy="20.8" r="0.5" fill="#262682"/><circle cx="20.7" cy="0.6" r="0.7" fill="#262682"/><circle cx="19.6" cy="12" r="0.5" fill="#262682"/><circle cx="11.8" cy="20" r="0.3" fill="#262682"/><circle cx="14.1" cy="11.9" r="0.4" fill="#262682"/><circle cx="15.9" cy="15.9" r="0.3" fill="#262682"/><circle cx="15.4" cy="10" r="0.5" fill="#262682"/><circle cx="14" cy="1.2" r="0.5" fill="#262682"/><circle cx="8.2" cy="19.3" r="0.4" fill="#262682"/><circle cx="18.1" cy="16.1" r="0.5" fill="#262682"/><circle cx="19.3" cy="0.8" r="0.5" fill="#262682"/><circle cx="13.5" cy="14.9" r="0.5" fill="#262682"/><circle cx="1.5" cy="4.2" r="0.5" fill="#262682"/><circle cx="4" cy="1.4" r="0.4" fill="#262682"/><circle cx="10.3" cy="11.8" r="0.3" fill="#262682"/><circle cx="17.1" cy="7.3" r="0.6" fill="#262682"/><circle cx="0.2" cy="21" r="0.5" fill="#262682"/><circle cx="21.5" cy="21.7" r="0.6" fill="#262682"/><circle cx="2.3" cy="7.7" r="0.4" fill="#262682"/><circle cx="17.2" cy="4.2" r="0.4" fill="#262682"/><circle cx="2.4" cy="2.6" r="0.7" fill="#262682"/><circle cx="21.5" cy="8.2" r="0.6" fill="#262682"/><circle cx="10.3" cy="11.5" r="0.4" fill="#262682"/><circle cx="14" cy="5.2" r="0.4" fill="#262682"/><circle cx="11.4" cy="4.3" r="0.5" fill="#262682"/><circle cx="20.8" cy="0.5" r="0.3" fill="#262682"/><circle cx="17.6" cy="1.3" r="0.4" fill="#262682"/><circle cx="18.7" cy="13.3" r="0.4" fill="#262682"/><circle cx="1.3" cy="6.1" r="0.4" fill="#262682"/><circle cx="17.6" cy="21.5" r="0.6" fill="#262682"/><circle cx="19.8" cy="20.5" r="0.7" fill="#262682"/><circle cx="20.2" cy="21.3" r="0.3" fill="#262682"/><circle cx="7" cy="5.4" r="0.5" fill="#262682"/><circle cx="10.8" cy="7.6" r="0.6" fill="#262682"/><circle cx="8.8" cy="4.6" r="0.4" fill="#262682"/><circle cx="10.2" cy="13.4" r="0.5" fill="#262682"/><circle cx="9.7" cy="4.1" r="0.5" fill="#262682"/><circle cx="7.2" cy="3.8" r="0.5" fill="#262682"/><circle cx="4.1" cy="15.7" r="0.6" fill="#262682"/><circle cx="3" cy="13.8" r="0.4" fill="#262682"/><circle cx="9.8" cy="13.3" r="0.6" fill="#262682"/><circle cx="19.4" cy="16.1" r="0.4" fill="#262682"/><circle cx="11.9" cy="7.4" r="0.3" fill="#262682"/><circle cx="12.2" cy="10.4" r="0.6" fill="#262682"/><circle cx="7.1" cy="18.3" r="0.5" fill="#262682"/><circle cx="2.2" cy="15.8" r="0.4" fill="#262682"/><circle cx="11.7" cy="1.6" r="0.3" fill="#4c4ca8"/><circle cx="20.3" cy="0.9" r="0.4" fill="#4c4ca8"/><circle cx="3.6" cy="2.1" r="0.6" fill="#4c4ca8"/><circle cx="21.9" cy="14.3" r="0.5" fill="#4c4ca8"/><circle cx="19.5" cy="11.1" r="0.4" fill="#4c4ca8"/><circle cx="15.2" cy="7.9" r="0.4" fill="#4c4ca8"/><circle cx="7" cy="8.5" r="0.4" fill="#4c4ca8"/><circle cx="13.5" cy="19.1" r="0.5" fill="#4c4ca8"/><circle cx="0.2" cy="15.1" r="0.3" fill="#4c4ca8"/><circle cx="10.5" cy="19" r="0.6" fill="#4c4ca8"/><circle cx="20" cy="16.6" r="0.4" fill="#4c4ca8"/><circle cx="3.2" cy="9.9" r="0.6" fill="#4c4ca8"/><circle cx="5.1" cy="7.3" r="0.6" fill="#4c4ca8"/><circle cx="7.6" cy="13.2" r="0.5" fill="#4c4ca8"/><circle cx="20.4" cy="0.6" r="0.4" fill="#4c4ca8"/><circle cx="17.1" cy="14.7" r="0.3" fill="#4c4ca8"/><circle cx="3" cy="4.6" r="0.5" fill="#4c4ca8"/><circle cx="19.9" cy="4.8" r="0.4" fill="#4c4ca8"/><circle cx="15.1" cy="9.3" r="0.6" fill="#4c4ca8"/><circle cx="22" cy="20.6" r="0.6" fill="#4c4ca8"/><circle cx="10.9" cy="1.3" r="0.6" fill="#4c4ca8"/><circle cx="8.8" cy="10.2" r="0.6" fill="#4c4ca8"/><circle cx="21.2" cy="12.2" r="0.7" fill="#4c4ca8"/><circle cx="21.2" cy="1.9" r="0.4" fill="#4c4ca8"/><circle cx="19.5" cy="16.9" r="0.7" fill="#4c4ca8"/><circle cx="4.1" cy="11.7" r="0.7" fill="#4c4ca8"/><circle cx="11.9" cy="14.7" r="0.7" fill="#4c4ca8"/><circle cx="3.8" cy="1.2" r="0.6" fill="#4c4ca8"/><circle cx="12.8" cy="4.4" r="0.6" fill="#4c4ca8"/><circle cx="6.2" cy="2.9" r="0.4" fill="#4c4ca8"/><circle cx="0.8" cy="8.9" r="0.6" fill="#4c4ca8"/><circle cx="10" cy="21.2" r="0.3" fill="#4c4ca8"/><circle cx="3.8" cy="3.2" r="0.5" fill="#4c4ca8"/><circle cx="4.4" cy="14.7" r="0.5" fill="#4c4ca8"/><circle cx="12.8" cy="18.6" r="0.6" fill="#4c4ca8"/><circle cx="20.3" cy="3.3" r="0.5" fill="#4c4ca8"/><circle cx="21.1" cy="8.7" r="0.4" fill="#4c4ca8"/><circle cx="10.6" cy="4" r="0.6" fill="#4c4ca8"/><circle cx="14" cy="2.1" r="0.7" fill="#4c4ca8"/><circle cx="11.4" cy="5.6" r="0.5" fill="#4c4ca8"/><circle cx="20.9" cy="7.6" r="0.3" fill="#4c4ca8"/><circle cx="4.3" cy="1.3" r="0.5" fill="#4c4ca8"/><circle cx="6.9" cy="18.7" r="0.4" fill="#4c4ca8"/><circle cx="0.3" cy="10.2" r="0.3" fill="#4c4ca8"/><circle cx="6.8" cy="5" r="0.4" fill="#4c4ca8"/><circle cx="14" cy="20.6" r="0.4" fill="#4c4ca8"/><circle cx="14" cy="7.1" r="0.7" fill="#4c4ca8"/><circle cx="12.2" cy="0.6" r="0.6" fill="#4c4ca8"/><circle cx="4.6" cy="1" r="0.3" fill="#4c4ca8"/><circle cx="18.5" cy="15.6" r="0.4" fill="#4c4ca8"/><circle cx="12.3" cy="15.5" r="0.3" fill="#4c4ca8"/><circle cx="15.5" cy="15.6" r="0.7" fill="#4c4ca8"/><circle cx="1.3" cy="12.6" r="0.5" fill="#4c4ca8"/><circle cx="18.6" cy="8" r="0.6" fill="#4c4ca8"/><circle cx="19.7" cy="7.7" r="0.5" fill="#4c4ca8"/><circle cx="19.7" cy="0.8" r="0.7" fill="#4c4ca8"/><circle cx="6.9" cy="10.1" r="0.4" fill="#4c4ca8"/><circle cx="17.5" cy="11.7" r="0.6" fill="#4c4ca8"/><circle cx="2.3" cy="19.4" r="0.6" fill="#4c4ca8"/><circle cx="15" cy="4.9" r="0.4" fill="#4c4ca8"/><circle cx="9.9" cy="1.4" r="0.6" fill="#dcdcf2"/><circle cx="9" cy="21" r="0.4" fill="#dcdcf2"/><circle cx="14.3" cy="17.6" r="0.5" fill="#dcdcf2"/><circle cx="9.3" cy="0.4" r="0.5" fill="#dcdcf2"/><circle cx="8.6" cy="20.8" r="0.6" fill="#dcdcf2"/><circle cx="21.1" cy="21.6" r="0.4" fill="#dcdcf2"/><circle cx="0.7" cy="6.4" r="0.3" fill="#dcdcf2"/><circle cx="2.6" cy="12.7" r="0.4" fill="#dcdcf2"/><circle cx="13.4" cy="8.4" r="0.4" fill="#dcdcf2"/><circle cx="21.3" cy="4.1" r="0.6" fill="#dcdcf2"/><circle cx="11.6" cy="14.6" r="0.4" fill="#dcdcf2"/><circle cx="16.4" cy="19.6" r="0.4" fill="#dcdcf2"/><circle cx="10.4" cy="14.4" r="0.5" fill="#dcdcf2"/><circle cx="16.5" cy="14.2" r="0.4" fill="#dcdcf2"/><circle cx="15" cy="17" r="0.5" fill="#dcdcf2"/><circle cx="13" cy="14" r="0.5" fill="#dcdcf2"/><circle cx="2" cy="9" r="0.6" fill="#dcdcf2"/><circle cx="15.9" cy="1.6" r="0.5" fill="#dcdcf2"/><circle cx="12.9" cy="11.7" r="0.4" fill="#dcdcf2"/><circle cx="14.2" cy="15.3" r="0.5" fill="#dcdcf2"/><circle cx="20.7" cy="12.7" r="0.3" fill="#dcdcf2"/><circle cx="6.3" cy="15.4" r="0.3" fill="#dcdcf2"/><circle cx="21.2" cy="15.4" r="0.6" fill="#dcdcf2"/><circle cx="3.7" cy="0.1" r="0.6" fill="#dcdcf2"/><circle cx="11.2" cy="9.7" r="0.5" fill="#dcdcf2"/><circle cx="16.9" cy="8.2" r="0.6" fill="#dcdcf2"/><circle cx="3.6" cy="21.6" r="0.5" fill="#dcdcf2"/><circle cx="7" cy="10.5" r="0.6" fill="#dcdcf2"/><circle cx="7.2" cy="15.4" r="0.6" fill="#dcdcf2"/><circle cx="21.1" cy="5.6" r="0.6" fill="#dcdcf2"/><circle cx="13.4" cy="17.8" r="0.3" fill="#dcdcf2"/><circle cx="9.1" cy="9.9" r="0.6" fill="#dcdcf2"/><circle cx="9.9" cy="0.9" r="0.4" fill="#dcdcf2"/><circle cx="18.3" cy="19.4" r="0.5" fill="#dcdcf2"/><circle cx="1.8" cy="17" r="0.6" fill="#dcdcf2"/><circle cx="6.3" cy="10.6" r="0.4" fill="#dcdcf2"/><circle cx="1.2" cy="16.1" r="0.4" fill="#dcdcf2"/><circle cx="1.9" cy="20" r="0.3" fill="#dcdcf2"/><circle cx="16.7" cy="17.9" r="0.4" fill="#dcdcf2"/><circle cx="8.2" cy="4.9" r="0.5" fill="#dcdcf2"/><circle cx="21.4" cy="16.4" r="0.5" fill="#dcdcf2"/><circle cx="11.8" cy="9" r="0.6" fill="#dcdcf2"/><circle cx="5.9" cy="5.4" r="0.5" fill="#dcdcf2"/><circle cx="5.6" cy="21.7" r="0.6" fill="#dcdcf2"/><circle cx="4" cy="0.5" r="0.5" fill="#dcdcf2"/><circle cx="2.9" cy="11" r="0.5" fill="#dcdcf2"/><circle cx="17.8" cy="8.5" r="0.5" fill="#dcdcf2"/><circle cx="17.9" cy="3" r="0.4" fill="#dcdcf2"/><circle cx="17.8" cy="7.9" r="0.6" fill="#dcdcf2"/><circle cx="1.8" cy="1.9" r="0.4" fill="#dcdcf2"/><circle cx="10.2" cy="8.1" r="0.4" fill="#dcdcf2"/><circle cx="9.9" cy="19.7" r="0.6" fill="#dcdcf2"/><circle cx="13.8" cy="5.6" r="0.5" fill="#dcdcf2"/><circle cx="3.5" cy="1.4" r="0.6" fill="#dcdcf2"/><circle cx="5.9" cy="3.5" r="0.6" fill="#dcdcf2"/><circle cx="2.7" cy="5.2" r="0.4" fill="#dcdcf2"/><circle cx="19.6" cy="15" r="0.4" fill="#dcdcf2"/><circle cx="1.6" cy="20" r="0.3" fill="#dcdcf2"/><circle cx="15.7" cy="15.2" r="0.5" fill="#dcdcf2"/><circle cx="10.5" cy="9.1" r="0.4" fill="#dcdcf2"/><circle cx="14.2" cy="3.3" r="0.5" fill="#dcdcf2"/><circle cx="5.7" cy="8.1" r="0.6" fill="#dcdcf2"/><circle cx="12.5" cy="14.2" r="0.5" fill="#dcdcf2"/><circle cx="0" cy="17.2" r="0.6" fill="#dcdcf2"/><circle cx="16.4" cy="11.5" r="0.6" fill="#dcdcf2"/></pattern></defs>
<rect width="685" height="919" fill="#fff"/>
<text x="1.8" y="11.4" font-size="13.5" text-anchor="start" font-weight="bold" fill="#111" stroke="#111" stroke-width="0.35">a</text>
<text x="183" y="13" font-size="9.3" text-anchor="middle" font-weight="normal" fill="#2b2b2b">24 h</text>
<text x="532" y="13" font-size="9.3" text-anchor="middle" font-weight="normal" fill="#2b2b2b">7 days</text>
<line x1="28" y1="17.2" x2="345.5" y2="17.2" stroke="#8a8a8a" stroke-width="1.2"/>
<line x1="364" y1="17.2" x2="685" y2="17.2" stroke="#8a8a8a" stroke-width="1.2"/>
<rect x="42.3" y="22.2" width="131.9" height="17.8" fill="none" stroke="#555" stroke-width="0.9"/>
<text x="109.75" y="35.2" font-size="9.6" text-anchor="middle" font-weight="normal" fill="#2b2b2b">Exo<tspan dy="-3.8" font-size="5.8">C2C12</tspan><tspan dy="3.8">​</tspan></text>
<rect x="202.3" y="22.2" width="140.3" height="17.8" fill="none" stroke="#555" stroke-width="0.9"/>
<text x="276.45" y="35.2" font-size="9.6" text-anchor="middle" font-weight="normal" fill="#2b2b2b">Exo<tspan dy="-3.8" font-size="7.2">myo</tspan><tspan dy="3.8">​</tspan></text>
<rect x="381.2" y="22.2" width="133" height="17.8" fill="none" stroke="#555" stroke-width="0.9"/>
<text x="449.2" y="35.2" font-size="9.6" text-anchor="middle" font-weight="normal" fill="#2b2b2b">Exo<tspan dy="-3.8" font-size="5.8">C2C12</tspan><tspan dy="3.8">​</tspan></text>
<rect x="549.6" y="22.2" width="134.7" height="17.8" fill="none" stroke="#555" stroke-width="0.9"/>
<text x="620.95" y="35.2" font-size="9.6" text-anchor="middle" font-weight="normal" fill="#2b2b2b">Exo<tspan dy="-3.8" font-size="7.2">myo</tspan><tspan dy="3.8">​</tspan></text>
<line x1="14.4" y1="46" x2="14.4" y2="110" stroke="#6a6a6a" stroke-width="1"/>
<text x="11.8" y="78" font-size="9.3" text-anchor="middle" font-weight="normal" fill="#2b2b2b" transform="rotate(-90 11.8 78)">i.m.</text>
<line x1="14.4" y1="122" x2="14.4" y2="188.7" stroke="#6a6a6a" stroke-width="1"/>
<text x="8.2" y="155.5" font-size="9.3" text-anchor="middle" font-weight="normal" fill="#2b2b2b" transform="rotate(-90 8.2 155.5)">i.v.</text>
<g filter="url(#b05)">
<path d="M42.2 60.1 C52.4 59.4 69 60.1 76 63.6 C79 67.6 77 72.3 72 73.3 L42.2 73.6 Z" fill="#6878ff" stroke="none" stroke-width="0.8" opacity="0.6"/>
<path d="M42.8 61 C52.4 60.3 67 60.9 72 64.1 C75 67.6 73.5 71.8 70 72.8 L42.8 73 Z" fill="#0810f4" stroke="none" stroke-width="0.8"/>
</g>
<rect x="42.2" y="60.3" width="5.5" height="12.7" fill="#8a96ff" stroke="none" stroke-width="0.8" opacity="0.75" filter="url(#b05)"/>
<clipPath id="sc22"><rect x="42.6" y="60.6" width="30.6" height="12.9"/></clipPath><g clip-path="url(#sc22)">
<ellipse cx="54.5" cy="72" rx="13" ry="2.8" fill="#00b0ff" filter="url(#b07)"/>
<ellipse cx="56.5" cy="71.9" rx="8.5" ry="2.1" fill="#22e05a" filter="url(#b05)"/>
<ellipse cx="58.5" cy="71.9" rx="4.2" ry="1.5" fill="#f4ec10" filter="url(#b03)"/>
<ellipse cx="58.8" cy="71.9" rx="2.4" ry="1" fill="#ee2a10" filter="url(#b03)"/>
</g>
<path d="M73.6 62.5h0M76.2 61.5h0M75.3 65.2h0M71.5 67h0M71.3 66.1h0M71.6 61.8h0M74.4 71.1h0M72 63.4h0M76 72.6h0M75.6 65.6h0M78.8 61.2h0M77.9 64.3h0M72.2 62.1h0M73.5 71h0M72.4 68h0M76.1 65.3h0M75.4 61.4h0M71.5 63.2h0M76.4 66h0M73.5 68h0M74.6 64.4h0M77.4 69.5h0M73 67.9h0M75.2 71.7h0M76.8 64.3h0M78.8 62.1h0M74.3 70.2h0M72.2 66.8h0M71.3 69.1h0M77.1 67.9h0" stroke="#5b6cff" stroke-width="0.8" stroke-linecap="round" opacity="0.5"/>
<rect x="40.4" y="49.3" width="52" height="51.2" fill="none" stroke="#9a9a9a" stroke-width="0.7"/>
<rect x="60.5" y="55" width="24.1" height="24.2" fill="none" stroke="#808080" stroke-width="0.75"/>
<text x="67.8" y="86.3" font-size="8.2" text-anchor="middle" font-weight="normal" fill="#333">34.4  %</text>
<line x1="40.6" y1="54" x2="42" y2="54" stroke="#777" stroke-width="0.6"/>
<text x="33.4" y="56.4" font-size="6.3" text-anchor="middle" font-weight="normal" fill="#333">10<tspan dy="-2.83" font-size="3.91">5</tspan><tspan dy="2.83">​</tspan></text>
<line x1="40.6" y1="64.1" x2="42" y2="64.1" stroke="#777" stroke-width="0.6"/>
<text x="33.4" y="66.5" font-size="6.3" text-anchor="middle" font-weight="normal" fill="#333">10<tspan dy="-2.83" font-size="3.91">4</tspan><tspan dy="2.83">​</tspan></text>
<line x1="40.6" y1="74.2" x2="42" y2="74.2" stroke="#777" stroke-width="0.6"/>
<text x="33.4" y="76.6" font-size="6.3" text-anchor="middle" font-weight="normal" fill="#333">10<tspan dy="-2.83" font-size="3.91">3</tspan><tspan dy="2.83">​</tspan></text>
<line x1="40.6" y1="84.3" x2="42" y2="84.3" stroke="#777" stroke-width="0.6"/>
<text x="33.4" y="86.7" font-size="6.3" text-anchor="middle" font-weight="normal" fill="#333">10<tspan dy="-2.83" font-size="3.91">2</tspan><tspan dy="2.83">​</tspan></text>
<line x1="40.6" y1="94.4" x2="42" y2="94.4" stroke="#777" stroke-width="0.6"/>
<text x="33.4" y="96.8" font-size="6.3" text-anchor="middle" font-weight="normal" fill="#333">10<tspan dy="-2.83" font-size="3.91">1</tspan><tspan dy="2.83">​</tspan></text>
<line x1="46" y1="99.1" x2="46" y2="100.5" stroke="#777" stroke-width="0.6"/>
<text x="46" y="109.9" font-size="6.3" text-anchor="middle" font-weight="normal" fill="#333">10<tspan dy="-2.83" font-size="3.91">1</tspan><tspan dy="2.83">​</tspan></text>
<line x1="56.2" y1="99.1" x2="56.2" y2="100.5" stroke="#777" stroke-width="0.6"/>
<text x="56.2" y="109.9" font-size="6.3" text-anchor="middle" font-weight="normal" fill="#333">10<tspan dy="-2.83" font-size="3.91">2</tspan><tspan dy="2.83">​</tspan></text>
<line x1="66.4" y1="99.1" x2="66.4" y2="100.5" stroke="#777" stroke-width="0.6"/>
<text x="66.4" y="109.9" font-size="6.3" text-anchor="middle" font-weight="normal" fill="#333">10<tspan dy="-2.83" font-size="3.91">3</tspan><tspan dy="2.83">​</tspan></text>
<line x1="76.6" y1="99.1" x2="76.6" y2="100.5" stroke="#777" stroke-width="0.6"/>
<text x="76.6" y="109.9" font-size="6.3" text-anchor="middle" font-weight="normal" fill="#333">10<tspan dy="-2.83" font-size="3.91">4</tspan><tspan dy="2.83">​</tspan></text>
<line x1="86.8" y1="99.1" x2="86.8" y2="100.5" stroke="#777" stroke-width="0.6"/>
<text x="86.8" y="109.9" font-size="6.3" text-anchor="middle" font-weight="normal" fill="#333">10<tspan dy="-2.83" font-size="3.91">5</tspan><tspan dy="2.83">​</tspan></text>
<text x="64.6" y="119.9" font-size="7.4" text-anchor="middle" font-weight="normal" fill="#333">CFSE</text>
<text x="24.6" y="77.3" font-size="7.4" text-anchor="middle" font-weight="normal" fill="#333" transform="rotate(-90 24.6 77.3)">SSC</text>
<clipPath id="cp54"><rect x="123.1" y="47.6" width="51.6" height="52"/></clipPath>
<g clip-path="url(#cp54)">
<line x1="144.3" y1="75.3" x2="167.3" y2="62.3" stroke="#5566ff" stroke-width="1.5" opacity="0.55" filter="url(#b05)"/>
<path d="M168.8 59.5h0M160.9 68.2h0M160.5 62.5h0M170.8 60.2h0M157.6 67.4h0M163.9 63.1h0M162.4 68h0M152.3 71h0M155.1 69.2h0M157.2 67.7h0M149 73.7h0M165.8 62.9h0M147.9 74h0M168.7 62.4h0M146.6 72.7h0M169 61.1h0M167.2 62.5h0M155.9 67.7h0M154.3 73.2h0M148.5 70.6h0M149.2 73.3h0M157.9 68.9h0M160.8 65.7h0M156 68.9h0M154.6 65.6h0M163.6 62.1h0M158.7 65h0M145.8 73.5h0M169.5 60.8h0M166.6 58.3h0M155.3 68.6h0M162.1 65.4h0M146 76.3h0M148.8 73.9h0M153.8 70.2h0M148.5 73.6h0M147.1 74.2h0M168.8 60.9h0M161.5 66.1h0M154 71.1h0M154.5 72.3h0M172.1 60.9h0M157.3 67.2h0M147.2 74.5h0M153.9 69.8h0M148.8 76.8h0M144.9 78h0M148.4 73h0M159.5 68.7h0M171.7 59.1h0M168.5 60.3h0M154.6 68.4h0M149 73.6h0" stroke="#3b4cff" stroke-width="0.7" stroke-linecap="round" opacity="0.55"/>
<path d="M163.3 78.2h0M134.6 92.6h0M173.9 93.9h0M164.7 92.8h0M161.3 75.1h0M149.8 79h0M124.6 69.1h0M137.5 76.1h0M158.8 97h0M146.2 96.4h0M174.1 97h0M141.9 74.9h0M134.8 74.2h0M133.6 87h0M169.6 93.5h0M147.8 87.9h0M164.4 70.8h0M157.2 95.6h0M163.5 90.8h0M147.8 73.7h0M163.8 78.3h0M164.4 97.4h0M143.5 80.3h0M172 90h0M131.9 72.1h0M130.9 95.4h0M164.7 72.7h0M165.7 97.7h0M157 78.8h0M151.4 72.2h0M123.8 97.4h0M156.6 84.1h0M171.3 81.3h0M168.1 93.1h0M134 75.9h0M138.2 75.5h0M153.4 76.1h0M144.7 72.2h0M170.1 78.9h0M146.7 85.8h0" stroke="#4050ff" stroke-width="0.6" stroke-linecap="round" opacity="0.35"/>
<g filter="url(#b07)">
<path d="M123.1 78.8 C130.3 77.3 136.3 73.3 142.3 72.8 L145.8 75.3 C145.3 81.3 141.3 90.3 138.8 99.1 C136.3 99.1 132.3 92.3 126.1 91.3 C123.1 90.3 123.1 84.3 123.1 78.8 Z" fill="#4050ff" stroke="none" stroke-width="0.8" opacity="0.75"/>
<path d="M123.6 80.8 C131.3 78.8 137.3 74.3 143.8 76.3 C143.3 83.3 140.3 91.3 138.3 95.3 C132.3 90.3 125.1 88.3 123.6 80.8 Z" fill="#0810f0" stroke="none" stroke-width="0.8"/>
</g>
<ellipse cx="137.8" cy="84.3" rx="6.2" ry="6" fill="#00b8ff" filter="url(#b05)"/>
<ellipse cx="137.8" cy="84.3" rx="4.4" ry="4.3" fill="#26e060" filter="url(#b05)"/>
<ellipse cx="137.6" cy="84.3" rx="2.5" ry="2.5" fill="#f0e818" filter="url(#b03)"/>
<ellipse cx="137.5" cy="84.3" rx="1.3" ry="1.3" fill="#e82010" filter="url(#b03)"/>
</g>
<rect x="123.1" y="47.6" width="51.6" height="52" fill="none" stroke="#9a9a9a" stroke-width="0.7"/>
<line x1="138.3" y1="47.6" x2="138.3" y2="99.6" stroke="#5a5a5a" stroke-width="0.75"/>
<line x1="123.1" y1="82.3" x2="174.7" y2="82.3" stroke="#5a5a5a" stroke-width="0.75"/>
<line x1="123.6" y1="97.6" x2="123.6" y2="99.6" stroke="#333" stroke-width="0.9"/>
<line x1="123.3" y1="52.3" x2="124.5" y2="52.3" stroke="#777" stroke-width="0.6"/>
<text x="114.9" y="54.7" font-size="6.3" text-anchor="middle" font-weight="normal" fill="#333">10<tspan dy="-2.83" font-size="3.91">5</tspan><tspan dy="2.83">​</tspan></text>
<line x1="123.3" y1="64.5" x2="124.5" y2="64.5" stroke="#777" stroke-width="0.6"/>
<text x="114.9" y="66.9" font-size="6.3" text-anchor="middle" font-weight="normal" fill="#333">10<tspan dy="-2.83" font-size="3.91">4</tspan><tspan dy="2.83">​</tspan></text>
<line x1="123.3" y1="76.2" x2="124.5" y2="76.2" stroke="#777" stroke-width="0.6"/>
<text x="114.9" y="78.6" font-size="6.3" text-anchor="middle" font-weight="normal" fill="#333">10<tspan dy="-2.83" font-size="3.91">3</tspan><tspan dy="2.83">​</tspan></text>
<line x1="123.3" y1="87.3" x2="124.5" y2="87.3" stroke="#777" stroke-width="0.6"/>
<text x="114.9" y="89.7" font-size="6.3" text-anchor="middle" font-weight="normal" fill="#333">10<tspan dy="-2.83" font-size="3.91">2</tspan><tspan dy="2.83">​</tspan></text>
<line x1="123.3" y1="96.6" x2="124.5" y2="96.6" stroke="#777" stroke-width="0.6"/>
<text x="114.9" y="99" font-size="6.3" text-anchor="middle" font-weight="normal" fill="#333">10<tspan dy="-2.83" font-size="3.91">1</tspan><tspan dy="2.83">​</tspan></text>
<line x1="125" y1="98.2" x2="125" y2="99.6" stroke="#777" stroke-width="0.6"/>
<text x="125" y="109" font-size="6.3" text-anchor="middle" font-weight="normal" fill="#333">10<tspan dy="-2.83" font-size="3.91">1</tspan><tspan dy="2.83">​</tspan></text>
<line x1="136" y1="98.2" x2="136" y2="99.6" stroke="#777" stroke-width="0.6"/>
<text x="136" y="109" font-size="6.3" text-anchor="middle" font-weight="normal" fill="#333">10<tspan dy="-2.83" font-size="3.91">2</tspan><tspan dy="2.83">​</tspan></text>
<line x1="147" y1="98.2" x2="147" y2="99.6" stroke="#777" stroke-width="0.6"/>
<text x="147" y="109" font-size="6.3" text-anchor="middle" font-weight="normal" fill="#333">10<tspan dy="-2.83" font-size="3.91">3</tspan><tspan dy="2.83">​</tspan></text>
<line x1="158" y1="98.2" x2="158" y2="99.6" stroke="#777" stroke-width="0.6"/>
<text x="158" y="109" font-size="6.3" text-anchor="middle" font-weight="normal" fill="#333">10<tspan dy="-2.83" font-size="3.91">4</tspan><tspan dy="2.83">​</tspan></text>
<line x1="169" y1="98.2" x2="169" y2="99.6" stroke="#777" stroke-width="0.6"/>
<text x="169" y="109" font-size="6.3" text-anchor="middle" font-weight="normal" fill="#333">10<tspan dy="-2.83" font-size="3.91">5</tspan><tspan dy="2.83">​</tspan></text>
<text x="147.7" y="119" font-size="7.4" text-anchor="middle" font-weight="normal" fill="#333">CD 81 PE Cy7</text>
<text x="105.8" y="77.1" font-size="7.4" text-anchor="middle" font-weight="normal" fill="#333" transform="rotate(-90 105.8 77.1)">CD 9 APC Cy7</text>
<g filter="url(#b05)">
<path d="M205.2 59.4 C215.4 58.7 230 59.4 237 62.9 C240 66.9 238 71.6 233 72.6 L205.2 72.9 Z" fill="#6878ff" stroke="none" stroke-width="0.8" opacity="0.6"/>
<path d="M205.8 60.3 C215.4 59.6 228 60.2 233 63.4 C236 66.9 234.5 71.1 231 72.1 L205.8 72.3 Z" fill="#0810f4" stroke="none" stroke-width="0.8"/>
</g>
<rect x="205.2" y="59.6" width="5.5" height="12.7" fill="#8a96ff" stroke="none" stroke-width="0.8" opacity="0.75" filter="url(#b05)"/>
<clipPath id="sc99"><rect x="205.6" y="59.9" width="28.6" height="12.9"/></clipPath><g clip-path="url(#sc99)">
<ellipse cx="218.5" cy="71.3" rx="13" ry="2.8" fill="#00b0ff" filter="url(#b07)"/>
<ellipse cx="220.5" cy="71.2" rx="8.5" ry="2.1" fill="#22e05a" filter="url(#b05)"/>
<ellipse cx="222.5" cy="71.2" rx="4.2" ry="1.5" fill="#f4ec10" filter="url(#b03)"/>
<ellipse cx="222.8" cy="71.2" rx="2.4" ry="1" fill="#ee2a10" filter="url(#b03)"/>
</g>
<path d="M239.2 65.2h0M239.3 66.3h0M236.3 66.5h0M232.1 65.5h0M233.5 59.9h0M238.4 62.1h0M235.8 69.1h0M236.5 64h0M236.1 67h0M238.3 61.2h0M236.5 63.1h0M234.2 69.7h0M236.1 67h0M238.1 71.5h0M235.5 67.7h0M236 66.4h0M237.5 65.6h0M236.3 66h0M239.5 68.8h0M239 71.9h0M234.1 67h0M239.5 70.6h0M233.1 61.4h0M235.5 60.8h0M233.9 60.8h0M237.4 69.9h0M239.2 61.9h0M237.7 68.3h0M233.1 71.1h0M239.7 62.7h0" stroke="#5b6cff" stroke-width="0.8" stroke-linecap="round" opacity="0.5"/>
<rect x="203.4" y="48.6" width="51.2" height="51.6" fill="none" stroke="#9a9a9a" stroke-width="0.7"/>
<rect x="223" y="54.6" width="23.4" height="24.2" fill="none" stroke="#808080" stroke-width="0.75"/>
<text x="230.3" y="86" font-size="8.2" text-anchor="middle" font-weight="normal" fill="#333">47.1  %</text>
<line x1="203.6" y1="53.3" x2="205" y2="53.3" stroke="#777" stroke-width="0.6"/>
<text x="196.4" y="55.7" font-size="6.3" text-anchor="middle" font-weight="normal" fill="#333">10<tspan dy="-2.83" font-size="3.91">5</tspan><tspan dy="2.83">​</tspan></text>
<line x1="203.6" y1="63.4" x2="205" y2="63.4" stroke="#777" stroke-width="0.6"/>
<text x="196.4" y="65.8" font-size="6.3" text-anchor="middle" font-weight="normal" fill="#333">10<tspan dy="-2.83" font-size="3.91">4</tspan><tspan dy="2.83">​</tspan></text>
<line x1="203.6" y1="73.5" x2="205" y2="73.5" stroke="#777" stroke-width="0.6"/>
<text x="196.4" y="75.9" font-size="6.3" text-anchor="middle" font-weight="normal" fill="#333">10<tspan dy="-2.83" font-size="3.91">3</tspan><tspan dy="2.83">​</tspan></text>
<line x1="203.6" y1="83.6" x2="205" y2="83.6" stroke="#777" stroke-width="0.6"/>
<text x="196.4" y="86" font-size="6.3" text-anchor="middle" font-weight="normal" fill="#333">10<tspan dy="-2.83" font-size="3.91">2</tspan><tspan dy="2.83">​</tspan></text>
<line x1="203.6" y1="93.7" x2="205" y2="93.7" stroke="#777" stroke-width="0.6"/>
<text x="196.4" y="96.1" font-size="6.3" text-anchor="middle" font-weight="normal" fill="#333">10<tspan dy="-2.83" font-size="3.91">1</tspan><tspan dy="2.83">​</tspan></text>
<line x1="209" y1="98.8" x2="209" y2="100.2" stroke="#777" stroke-width="0.6"/>
<text x="209" y="109.6" font-size="6.3" text-anchor="middle" font-weight="normal" fill="#333">10<tspan dy="-2.83" font-size="3.91">1</tspan><tspan dy="2.83">​</tspan></text>
<line x1="219.2" y1="98.8" x2="219.2" y2="100.2" stroke="#777" stroke-width="0.6"/>
<text x="219.2" y="109.6" font-size="6.3" text-anchor="middle" font-weight="normal" fill="#333">10<tspan dy="-2.83" font-size="3.91">2</tspan><tspan dy="2.83">​</tspan></text>
<line x1="229.4" y1="98.8" x2="229.4" y2="100.2" stroke="#777" stroke-width="0.6"/>
<text x="229.4" y="109.6" font-size="6.3" text-anchor="middle" font-weight="normal" fill="#333">10<tspan dy="-2.83" font-size="3.91">3</tspan><tspan dy="2.83">​</tspan></text>
<line x1="239.6" y1="98.8" x2="239.6" y2="100.2" stroke="#777" stroke-width="0.6"/>
<text x="239.6" y="109.6" font-size="6.3" text-anchor="middle" font-weight="normal" fill="#333">10<tspan dy="-2.83" font-size="3.91">4</tspan><tspan dy="2.83">​</tspan></text>
<line x1="249.8" y1="98.8" x2="249.8" y2="100.2" stroke="#777" stroke-width="0.6"/>
<text x="249.8" y="109.6" font-size="6.3" text-anchor="middle" font-weight="normal" fill="#333">10<tspan dy="-2.83" font-size="3.91">5</tspan><tspan dy="2.83">​</tspan></text>
<text x="227.6" y="119.6" font-size="7.4" text-anchor="middle" font-weight="normal" fill="#333">CFSE</text>
<text x="187.6" y="76.6" font-size="7.4" text-anchor="middle" font-weight="normal" fill="#333" transform="rotate(-90 187.6 76.6)">SSC</text>
<clipPath id="cp131"><rect x="288.2" y="47.4" width="52.6" height="52"/></clipPath>
<g clip-path="url(#cp131)">
<line x1="310.6" y1="75.2" x2="333.6" y2="62.2" stroke="#5566ff" stroke-width="1.5" opacity="0.55" filter="url(#b05)"/>
<path d="M337.3 56.9h0M321.8 63.6h0M333.9 61.7h0M315.1 71.3h0M320.1 71h0M316.1 71.5h0M311.1 78.5h0M326.1 65.9h0M319.9 70.4h0M328.1 64.3h0M338.2 58.4h0M332.7 62.8h0M318 71.3h0M311.7 75.7h0M314.2 72.5h0M322.4 71.4h0M317.8 69.8h0M314.8 75.6h0M330.2 62.5h0M313.1 77.2h0M322.5 69.5h0M312.6 77.3h0M333 60.8h0M312.9 75.1h0M334.8 60.1h0M323.3 66.8h0M336.5 61.5h0M318.1 72.9h0M317.3 73.5h0M313.7 74.5h0M316.2 73.1h0M319.3 69.6h0M318.7 73.8h0M324.6 67.9h0M311.1 77.4h0M317.6 74.6h0M326 66.6h0M315.9 68.6h0M313.6 75h0M333.5 59.5h0M334 62h0M321.6 66.4h0M338.1 58.4h0M320.2 71.4h0M328.4 62.3h0M321.9 68.6h0M314.2 74.4h0M312.6 74.8h0M315.2 71.9h0M313 76.7h0M329.4 61.1h0M318.5 71.2h0M323.5 69.4h0" stroke="#3b4cff" stroke-width="0.7" stroke-linecap="round" opacity="0.55"/>
<path d="M296.5 81.6h0M302 97.1h0M339.4 84.6h0M301.1 97.2h0M304.5 78.9h0M288.3 79.6h0M313.2 83.3h0M298.8 83.3h0M288.5 76.1h0M292.9 80.2h0M290.4 68.9h0M304.2 75.2h0M319 84.1h0M327.7 87.9h0M325.9 94.6h0M308.7 78h0M340 72.7h0M326.3 87.5h0M290.5 93.3h0M335.1 87h0M326.8 92.6h0M295.5 83.9h0M314.7 93.2h0M330.5 93h0M318.9 95h0M324.1 89h0M300.3 69.1h0M295.2 79h0M293.7 93.3h0M317.6 87h0M321.1 88.6h0M313.9 68.3h0M330.2 90.6h0M314.7 84.3h0M322.9 70.2h0M327 75.8h0M292.1 76.2h0M326.6 74.4h0M327.1 97.5h0M314.2 79.7h0" stroke="#4050ff" stroke-width="0.6" stroke-linecap="round" opacity="0.35"/>
<g filter="url(#b07)">
<path d="M288.2 78.7 C296.6 77.2 302.6 73.2 308.6 72.7 L312.1 75.2 C311.6 81.2 307.6 90.2 305.1 98.9 C302.6 98.9 298.6 92.2 291.2 91.2 C288.2 90.2 288.2 84.2 288.2 78.7 Z" fill="#4050ff" stroke="none" stroke-width="0.8" opacity="0.75"/>
<path d="M288.7 80.7 C297.6 78.7 303.6 74.2 310.1 76.2 C309.6 83.2 306.6 91.2 304.6 95.2 C298.6 90.2 290.2 88.2 288.7 80.7 Z" fill="#0810f0" stroke="none" stroke-width="0.8"/>
</g>
<ellipse cx="304.1" cy="84.2" rx="6.2" ry="6" fill="#00b8ff" filter="url(#b05)"/>
<ellipse cx="304.1" cy="84.2" rx="4.4" ry="4.3" fill="#26e060" filter="url(#b05)"/>
<ellipse cx="303.9" cy="84.2" rx="2.5" ry="2.5" fill="#f0e818" filter="url(#b03)"/>
<ellipse cx="303.8" cy="84.2" rx="1.3" ry="1.3" fill="#e82010" filter="url(#b03)"/>
</g>
<rect x="288.2" y="47.4" width="52.6" height="52" fill="none" stroke="#9a9a9a" stroke-width="0.7"/>
<line x1="304.6" y1="47.4" x2="304.6" y2="99.4" stroke="#5a5a5a" stroke-width="0.75"/>
<line x1="288.2" y1="82.2" x2="340.8" y2="82.2" stroke="#5a5a5a" stroke-width="0.75"/>
<line x1="288.7" y1="97.4" x2="288.7" y2="99.4" stroke="#333" stroke-width="0.9"/>
<line x1="288.4" y1="52.1" x2="289.6" y2="52.1" stroke="#777" stroke-width="0.6"/>
<text x="280" y="54.5" font-size="6.3" text-anchor="middle" font-weight="normal" fill="#333">10<tspan dy="-2.83" font-size="3.91">5</tspan><tspan dy="2.83">​</tspan></text>
<line x1="288.4" y1="64.3" x2="289.6" y2="64.3" stroke="#777" stroke-width="0.6"/>
<text x="280" y="66.7" font-size="6.3" text-anchor="middle" font-weight="normal" fill="#333">10<tspan dy="-2.83" font-size="3.91">4</tspan><tspan dy="2.83">​</tspan></text>
<line x1="288.4" y1="76" x2="289.6" y2="76" stroke="#777" stroke-width="0.6"/>
<text x="280" y="78.4" font-size="6.3" text-anchor="middle" font-weight="normal" fill="#333">10<tspan dy="-2.83" font-size="3.91">3</tspan><tspan dy="2.83">​</tspan></text>
<line x1="288.4" y1="87.1" x2="289.6" y2="87.1" stroke="#777" stroke-width="0.6"/>
<text x="280" y="89.5" font-size="6.3" text-anchor="middle" font-weight="normal" fill="#333">10<tspan dy="-2.83" font-size="3.91">2</tspan><tspan dy="2.83">​</tspan></text>
<line x1="288.4" y1="96.4" x2="289.6" y2="96.4" stroke="#777" stroke-width="0.6"/>
<text x="280" y="98.8" font-size="6.3" text-anchor="middle" font-weight="normal" fill="#333">10<tspan dy="-2.83" font-size="3.91">1</tspan><tspan dy="2.83">​</tspan></text>
<line x1="290.1" y1="98" x2="290.1" y2="99.4" stroke="#777" stroke-width="0.6"/>
<text x="290.1" y="108.8" font-size="6.3" text-anchor="middle" font-weight="normal" fill="#333">10<tspan dy="-2.83" font-size="3.91">1</tspan><tspan dy="2.83">​</tspan></text>
<line x1="301.1" y1="98" x2="301.1" y2="99.4" stroke="#777" stroke-width="0.6"/>
<text x="301.1" y="108.8" font-size="6.3" text-anchor="middle" font-weight="normal" fill="#333">10<tspan dy="-2.83" font-size="3.91">2</tspan><tspan dy="2.83">​</tspan></text>
<line x1="312.1" y1="98" x2="312.1" y2="99.4" stroke="#777" stroke-width="0.6"/>
<text x="312.1" y="108.8" font-size="6.3" text-anchor="middle" font-weight="normal" fill="#333">10<tspan dy="-2.83" font-size="3.91">3</tspan><tspan dy="2.83">​</tspan></text>
<line x1="323.1" y1="98" x2="323.1" y2="99.4" stroke="#777" stroke-width="0.6"/>
<text x="323.1" y="108.8" font-size="6.3" text-anchor="middle" font-weight="normal" fill="#333">10<tspan dy="-2.83" font-size="3.91">4</tspan><tspan dy="2.83">​</tspan></text>
<line x1="334.1" y1="98" x2="334.1" y2="99.4" stroke="#777" stroke-width="0.6"/>
<text x="334.1" y="108.8" font-size="6.3" text-anchor="middle" font-weight="normal" fill="#333">10<tspan dy="-2.83" font-size="3.91">5</tspan><tspan dy="2.83">​</tspan></text>
<text x="312.8" y="118.8" font-size="7.4" text-anchor="middle" font-weight="normal" fill="#333">CD 81 PE Cy7</text>
<text x="270.9" y="76.9" font-size="7.4" text-anchor="middle" font-weight="normal" fill="#333" transform="rotate(-90 270.9 76.9)">CD 9 APC Cy7</text>
<g filter="url(#b05)">
<path d="M383.1 57.4 C393.3 56.7 404 57.4 411 60.9 C414 64.9 412 69.6 407 70.6 L383.1 70.9 Z" fill="#6878ff" stroke="none" stroke-width="0.8" opacity="0.6"/>
<path d="M383.7 58.3 C393.3 57.6 402 58.2 407 61.4 C410 64.9 408.5 69.1 405 70.1 L383.7 70.3 Z" fill="#0810f4" stroke="none" stroke-width="0.8"/>
</g>
<rect x="383.1" y="57.6" width="5.5" height="12.7" fill="#8a96ff" stroke="none" stroke-width="0.8" opacity="0.75" filter="url(#b05)"/>
<clipPath id="sc176"><rect x="383.5" y="57.9" width="24.7" height="12.9"/></clipPath><g clip-path="url(#sc176)">
<ellipse cx="390.5" cy="69.3" rx="13" ry="2.8" fill="#00b0ff" filter="url(#b07)"/>
<ellipse cx="392.5" cy="69.2" rx="8.5" ry="2.1" fill="#22e05a" filter="url(#b05)"/>
<ellipse cx="394.5" cy="69.2" rx="4.2" ry="1.5" fill="#f4ec10" filter="url(#b03)"/>
<ellipse cx="394.8" cy="69.2" rx="2.4" ry="1" fill="#ee2a10" filter="url(#b03)"/>
</g>
<path d="M409.8 66.6h0M412.1 65.7h0M411.1 58.9h0M407.2 61.1h0M411.9 61.8h0M410.5 58.1h0M406.5 61.3h0M411.4 66.7h0M411.4 61.6h0M410.1 63.8h0M409.7 59.4h0M413.1 60.4h0M413.8 69.8h0M406.1 63.7h0M412.6 70.2h0M409.6 61.3h0M407.7 69.9h0M407.7 65.3h0M407.1 64.6h0M413.6 59.6h0M412.6 64.4h0M413.1 66.8h0M407.9 69.3h0M409.9 58.2h0M406 64.1h0M409.6 61.7h0M407.1 62.3h0M408.5 68.6h0M406 67.4h0M412.7 59.4h0" stroke="#5b6cff" stroke-width="0.8" stroke-linecap="round" opacity="0.5"/>
<rect x="381.3" y="46.6" width="51.1" height="50.4" fill="none" stroke="#9a9a9a" stroke-width="0.7"/>
<rect x="400.3" y="52.4" width="24.1" height="23.8" fill="none" stroke="#808080" stroke-width="0.75"/>
<text x="413.8" y="86.6" font-size="8.2" text-anchor="middle" font-weight="normal" fill="#333">3.8  %</text>
<line x1="381.5" y1="51.3" x2="382.9" y2="51.3" stroke="#777" stroke-width="0.6"/>
<text x="374.3" y="53.7" font-size="6.3" text-anchor="middle" font-weight="normal" fill="#333">10<tspan dy="-2.83" font-size="3.91">5</tspan><tspan dy="2.83">​</tspan></text>
<line x1="381.5" y1="61.4" x2="382.9" y2="61.4" stroke="#777" stroke-width="0.6"/>
<text x="374.3" y="63.8" font-size="6.3" text-anchor="middle" font-weight="normal" fill="#333">10<tspan dy="-2.83" font-size="3.91">4</tspan><tspan dy="2.83">​</tspan></text>
<line x1="381.5" y1="71.5" x2="382.9" y2="71.5" stroke="#777" stroke-width="0.6"/>
<text x="374.3" y="73.9" font-size="6.3" text-anchor="middle" font-weight="normal" fill="#333">10<tspan dy="-2.83" font-size="3.91">3</tspan><tspan dy="2.83">​</tspan></text>
<line x1="381.5" y1="81.6" x2="382.9" y2="81.6" stroke="#777" stroke-width="0.6"/>
<text x="374.3" y="84" font-size="6.3" text-anchor="middle" font-weight="normal" fill="#333">10<tspan dy="-2.83" font-size="3.91">2</tspan><tspan dy="2.83">​</tspan></text>
<line x1="381.5" y1="91.7" x2="382.9" y2="91.7" stroke="#777" stroke-width="0.6"/>
<text x="374.3" y="94.1" font-size="6.3" text-anchor="middle" font-weight="normal" fill="#333">10<tspan dy="-2.83" font-size="3.91">1</tspan><tspan dy="2.83">​</tspan></text>
<line x1="386.9" y1="95.6" x2="386.9" y2="97" stroke="#777" stroke-width="0.6"/>
<text x="386.9" y="106.4" font-size="6.3" text-anchor="middle" font-weight="normal" fill="#333">10<tspan dy="-2.83" font-size="3.91">1</tspan><tspan dy="2.83">​</tspan></text>
<line x1="397.1" y1="95.6" x2="397.1" y2="97" stroke="#777" stroke-width="0.6"/>
<text x="397.1" y="106.4" font-size="6.3" text-anchor="middle" font-weight="normal" fill="#333">10<tspan dy="-2.83" font-size="3.91">2</tspan><tspan dy="2.83">​</tspan></text>
<line x1="407.3" y1="95.6" x2="407.3" y2="97" stroke="#777" stroke-width="0.6"/>
<text x="407.3" y="106.4" font-size="6.3" text-anchor="middle" font-weight="normal" fill="#333">10<tspan dy="-2.83" font-size="3.91">3</tspan><tspan dy="2.83">​</tspan></text>
<line x1="417.5" y1="95.6" x2="417.5" y2="97" stroke="#777" stroke-width="0.6"/>
<text x="417.5" y="106.4" font-size="6.3" text-anchor="middle" font-weight="normal" fill="#333">10<tspan dy="-2.83" font-size="3.91">4</tspan><tspan dy="2.83">​</tspan></text>
<line x1="427.7" y1="95.6" x2="427.7" y2="97" stroke="#777" stroke-width="0.6"/>
<text x="427.7" y="106.4" font-size="6.3" text-anchor="middle" font-weight="normal" fill="#333">10<tspan dy="-2.83" font-size="3.91">5</tspan><tspan dy="2.83">​</tspan></text>
<text x="405.5" y="116.4" font-size="7.4" text-anchor="middle" font-weight="normal" fill="#333">CFSE</text>
<text x="365.5" y="74.6" font-size="7.4" text-anchor="middle" font-weight="normal" fill="#333" transform="rotate(-90 365.5 74.6)">SSC</text>
<clipPath id="cp208"><rect x="463.8" y="46.8" width="52.2" height="51.2"/></clipPath>
<g clip-path="url(#cp208)">
<path d="M511.5 57.7h0M493.7 66.3h0M496 63.4h0M502.1 68.8h0M495.7 67.5h0M487 75.1h0M488.4 74.2h0M511.8 57.2h0M492.6 70.6h0M490.9 74h0M496.1 72.2h0M508.3 59.7h0M503.3 67.6h0M501 63.2h0M505.7 65.1h0M498.2 68.1h0M506.7 60.8h0" stroke="#3b4cff" stroke-width="0.7" stroke-linecap="round" opacity="0.55"/>
<path d="M466.4 95.1h0M470.4 81.5h0M481.7 76.2h0M502.4 96.6h0M477.4 87h0M479.5 84h0M484.4 72.3h0M472.2 73.5h0M511.1 82.2h0M475.3 94.5h0M515.8 80.8h0M471.1 73.1h0M468.5 77.6h0M468.6 74.5h0M477.3 84.4h0M510.1 89.8h0M485.3 79.7h0M491.2 78.6h0M481.5 69.2h0M478.3 96.3h0M470.4 82.4h0M496.7 93.2h0M475.1 75.4h0M476.8 79.3h0M487.1 95.9h0M508.1 93.5h0M464.9 68.3h0M500.8 94.2h0M488.5 84.9h0M463.8 79h0M512.2 92.1h0M508.5 96.5h0M476.8 70.6h0M471.9 83h0M499.4 95.5h0M501.5 86.7h0M503.7 81h0M492.6 68.5h0M504.6 74.3h0M511.8 86.7h0" stroke="#4050ff" stroke-width="0.6" stroke-linecap="round" opacity="0.35"/>
<path d="M475.4 81.1h0M482.3 82h0M487.8 81.2h0M476.5 88.2h0M482.4 77.4h0M476.3 83.3h0M487.3 86.7h0M479.6 68.6h0M483 75.1h0M469.5 78.1h0M480 82.4h0M494.6 80.8h0M474.4 88.5h0M480.3 79.5h0M473.7 81.7h0M488.2 85.6h0M477.4 87h0M480.5 74.8h0M483.7 85.2h0M489.5 81.7h0M472.2 86.1h0M494.6 78.2h0M489.6 82.6h0M483.5 82.4h0M474.3 88.2h0M477.2 83.6h0M483.2 75h0M483.7 85h0M478.2 79.1h0M481.9 85.1h0M478.8 83.9h0M480 72.9h0M487.3 88.7h0M472.8 94.8h0M479.1 80.4h0M482.7 90.5h0M475.4 90.1h0M481.1 78.3h0M483.3 80.5h0M482.5 86.6h0M479.4 73.9h0M491.3 92.2h0M490.2 83.5h0M484.7 86.5h0M469.3 80.5h0M480.1 76.9h0M480.3 85.3h0M477.4 74.4h0M488.9 87.7h0M480.5 85.7h0M469.8 83.5h0M479.7 93.5h0M484.5 81.7h0M489.2 86.1h0M476.1 80.2h0M494.2 78.9h0M476.2 81.1h0M474.2 82h0M479.8 82.5h0M465.9 73.3h0" stroke="#3040ff" stroke-width="0.8" stroke-linecap="round" opacity="0.45"/>
<ellipse cx="478.8" cy="82.6" rx="12.5" ry="8.5" fill="#6070ff" opacity="0.6" filter="url(#b1)" transform="rotate(-40 479.3 82.1)"/>
<ellipse cx="479" cy="82.4" rx="10.5" ry="7.2" fill="#0810f0" filter="url(#b07)" transform="rotate(-40 479.3 82.1)"/>
<ellipse cx="479.3" cy="82.1" rx="7.2" ry="5.6" fill="#00b4ff" filter="url(#b05)" transform="rotate(-40 479.3 82.1)"/>
<ellipse cx="479.3" cy="82.1" rx="5.2" ry="4.2" fill="#26e060" filter="url(#b05)" transform="rotate(-40 479.3 82.1)"/>
<ellipse cx="479.3" cy="82.4" rx="2.6" ry="2.3" fill="#f0e818" filter="url(#b03)"/>
<ellipse cx="479.3" cy="82.6" rx="1.3" ry="1.3" fill="#e82010" filter="url(#b03)"/>
</g>
<rect x="463.8" y="46.8" width="52.2" height="51.2" fill="none" stroke="#9a9a9a" stroke-width="0.7"/>
<line x1="479.6" y1="46.8" x2="479.6" y2="98" stroke="#5a5a5a" stroke-width="0.75"/>
<line x1="463.8" y1="81.3" x2="516" y2="81.3" stroke="#5a5a5a" stroke-width="0.75"/>
<line x1="464.3" y1="96" x2="464.3" y2="98" stroke="#333" stroke-width="0.9"/>
<line x1="464" y1="51.5" x2="465.2" y2="51.5" stroke="#777" stroke-width="0.6"/>
<text x="455.6" y="53.9" font-size="6.3" text-anchor="middle" font-weight="normal" fill="#333">10<tspan dy="-2.83" font-size="3.91">5</tspan><tspan dy="2.83">​</tspan></text>
<line x1="464" y1="63.7" x2="465.2" y2="63.7" stroke="#777" stroke-width="0.6"/>
<text x="455.6" y="66.1" font-size="6.3" text-anchor="middle" font-weight="normal" fill="#333">10<tspan dy="-2.83" font-size="3.91">4</tspan><tspan dy="2.83">​</tspan></text>
<line x1="464" y1="75.4" x2="465.2" y2="75.4" stroke="#777" stroke-width="0.6"/>
<text x="455.6" y="77.8" font-size="6.3" text-anchor="middle" font-weight="normal" fill="#333">10<tspan dy="-2.83" font-size="3.91">3</tspan><tspan dy="2.83">​</tspan></text>
<line x1="464" y1="86.5" x2="465.2" y2="86.5" stroke="#777" stroke-width="0.6"/>
<text x="455.6" y="88.9" font-size="6.3" text-anchor="middle" font-weight="normal" fill="#333">10<tspan dy="-2.83" font-size="3.91">2</tspan><tspan dy="2.83">​</tspan></text>
<line x1="464" y1="95.8" x2="465.2" y2="95.8" stroke="#777" stroke-width="0.6"/>
<text x="455.6" y="98.2" font-size="6.3" text-anchor="middle" font-weight="normal" fill="#333">10<tspan dy="-2.83" font-size="3.91">1</tspan><tspan dy="2.83">​</tspan></text>
<line x1="465.7" y1="96.6" x2="465.7" y2="98" stroke="#777" stroke-width="0.6"/>
<text x="465.7" y="107.4" font-size="6.3" text-anchor="middle" font-weight="normal" fill="#333">10<tspan dy="-2.83" font-size="3.91">1</tspan><tspan dy="2.83">​</tspan></text>
<line x1="476.7" y1="96.6" x2="476.7" y2="98" stroke="#777" stroke-width="0.6"/>
<text x="476.7" y="107.4" font-size="6.3" text-anchor="middle" font-weight="normal" fill="#333">10<tspan dy="-2.83" font-size="3.91">2</tspan><tspan dy="2.83">​</tspan></text>
<line x1="487.7" y1="96.6" x2="487.7" y2="98" stroke="#777" stroke-width="0.6"/>
<text x="487.7" y="107.4" font-size="6.3" text-anchor="middle" font-weight="normal" fill="#333">10<tspan dy="-2.83" font-size="3.91">3</tspan><tspan dy="2.83">​</tspan></text>
<line x1="498.7" y1="96.6" x2="498.7" y2="98" stroke="#777" stroke-width="0.6"/>
<text x="498.7" y="107.4" font-size="6.3" text-anchor="middle" font-weight="normal" fill="#333">10<tspan dy="-2.83" font-size="3.91">4</tspan><tspan dy="2.83">​</tspan></text>
<line x1="509.7" y1="96.6" x2="509.7" y2="98" stroke="#777" stroke-width="0.6"/>
<text x="509.7" y="107.4" font-size="6.3" text-anchor="middle" font-weight="normal" fill="#333">10<tspan dy="-2.83" font-size="3.91">5</tspan><tspan dy="2.83">​</tspan></text>
<text x="488.4" y="117.4" font-size="7.4" text-anchor="middle" font-weight="normal" fill="#333">CD 81 PE Cy7</text>
<text x="446.5" y="76.3" font-size="7.4" text-anchor="middle" font-weight="normal" fill="#333" transform="rotate(-90 446.5 76.3)">CD 9 APC Cy7</text>
<g filter="url(#b05)">
<path d="M550.2 59 C560.4 58.3 574 59 581 62.5 C584 66.5 582 71.2 577 72.2 L550.2 72.5 Z" fill="#6878ff" stroke="none" stroke-width="0.8" opacity="0.6"/>
<path d="M550.8 59.9 C560.4 59.2 572 59.8 577 63 C580 66.5 578.5 70.7 575 71.7 L550.8 71.9 Z" fill="#0810f4" stroke="none" stroke-width="0.8"/>
</g>
<rect x="550.2" y="59.2" width="5.5" height="12.7" fill="#8a96ff" stroke="none" stroke-width="0.8" opacity="0.75" filter="url(#b05)"/>
<clipPath id="sc251"><rect x="550.6" y="59.5" width="27.6" height="12.9"/></clipPath><g clip-path="url(#sc251)">
<ellipse cx="559" cy="70.9" rx="13" ry="2.8" fill="#00b0ff" filter="url(#b07)"/>
<ellipse cx="561" cy="70.8" rx="8.5" ry="2.1" fill="#22e05a" filter="url(#b05)"/>
<ellipse cx="563" cy="70.8" rx="4.2" ry="1.5" fill="#f4ec10" filter="url(#b03)"/>
<ellipse cx="563.3" cy="70.8" rx="2.4" ry="1" fill="#ee2a10" filter="url(#b03)"/>
</g>
<path d="M576.2 62.5h0M579.8 71.7h0M583.6 64.4h0M578 65h0M579.9 71.3h0M577.5 69.7h0M581.9 69.9h0M582.2 67.2h0M578.6 63.6h0M578.9 69.4h0M576.6 62h0M582 62.6h0M576.5 59.9h0M580.4 63.6h0M583.8 70.7h0M583.9 62.9h0M576.7 60.7h0M580 68.5h0M579.6 62.5h0M579.3 67.4h0M581.4 69h0M582.8 67.9h0M577 70.2h0M578.4 66.7h0M579 68.9h0M577.6 62.6h0M578 61.4h0M583.1 66.8h0M578.6 64.5h0M583.9 65.9h0" stroke="#5b6cff" stroke-width="0.8" stroke-linecap="round" opacity="0.5"/>
<rect x="548.4" y="48.2" width="51.3" height="50.2" fill="none" stroke="#9a9a9a" stroke-width="0.7"/>
<rect x="567.5" y="54" width="24.1" height="23.8" fill="none" stroke="#808080" stroke-width="0.75"/>
<text x="583" y="87.5" font-size="8.2" text-anchor="middle" font-weight="normal" fill="#333">9.1 %</text>
<line x1="548.6" y1="52.9" x2="550" y2="52.9" stroke="#777" stroke-width="0.6"/>
<text x="541.4" y="55.3" font-size="6.3" text-anchor="middle" font-weight="normal" fill="#333">10<tspan dy="-2.83" font-size="3.91">5</tspan><tspan dy="2.83">​</tspan></text>
<line x1="548.6" y1="63" x2="550" y2="63" stroke="#777" stroke-width="0.6"/>
<text x="541.4" y="65.4" font-size="6.3" text-anchor="middle" font-weight="normal" fill="#333">10<tspan dy="-2.83" font-size="3.91">4</tspan><tspan dy="2.83">​</tspan></text>
<line x1="548.6" y1="73.1" x2="550" y2="73.1" stroke="#777" stroke-width="0.6"/>
<text x="541.4" y="75.5" font-size="6.3" text-anchor="middle" font-weight="normal" fill="#333">10<tspan dy="-2.83" font-size="3.91">3</tspan><tspan dy="2.83">​</tspan></text>
<line x1="548.6" y1="83.2" x2="550" y2="83.2" stroke="#777" stroke-width="0.6"/>
<text x="541.4" y="85.6" font-size="6.3" text-anchor="middle" font-weight="normal" fill="#333">10<tspan dy="-2.83" font-size="3.91">2</tspan><tspan dy="2.83">​</tspan></text>
<line x1="548.6" y1="93.3" x2="550" y2="93.3" stroke="#777" stroke-width="0.6"/>
<text x="541.4" y="95.7" font-size="6.3" text-anchor="middle" font-weight="normal" fill="#333">10<tspan dy="-2.83" font-size="3.91">1</tspan><tspan dy="2.83">​</tspan></text>
<line x1="554" y1="97" x2="554" y2="98.4" stroke="#777" stroke-width="0.6"/>
<text x="554" y="107.8" font-size="6.3" text-anchor="middle" font-weight="normal" fill="#333">10<tspan dy="-2.83" font-size="3.91">1</tspan><tspan dy="2.83">​</tspan></text>
<line x1="564.2" y1="97" x2="564.2" y2="98.4" stroke="#777" stroke-width="0.6"/>
<text x="564.2" y="107.8" font-size="6.3" text-anchor="middle" font-weight="normal" fill="#333">10<tspan dy="-2.83" font-size="3.91">2</tspan><tspan dy="2.83">​</tspan></text>
<line x1="574.4" y1="97" x2="574.4" y2="98.4" stroke="#777" stroke-width="0.6"/>
<text x="574.4" y="107.8" font-size="6.3" text-anchor="middle" font-weight="normal" fill="#333">10<tspan dy="-2.83" font-size="3.91">3</tspan><tspan dy="2.83">​</tspan></text>
<line x1="584.6" y1="97" x2="584.6" y2="98.4" stroke="#777" stroke-width="0.6"/>
<text x="584.6" y="107.8" font-size="6.3" text-anchor="middle" font-weight="normal" fill="#333">10<tspan dy="-2.83" font-size="3.91">4</tspan><tspan dy="2.83">​</tspan></text>
<line x1="594.8" y1="97" x2="594.8" y2="98.4" stroke="#777" stroke-width="0.6"/>
<text x="594.8" y="107.8" font-size="6.3" text-anchor="middle" font-weight="normal" fill="#333">10<tspan dy="-2.83" font-size="3.91">5</tspan><tspan dy="2.83">​</tspan></text>
<text x="572.6" y="117.8" font-size="7.4" text-anchor="middle" font-weight="normal" fill="#333">CFSE</text>
<text x="532.6" y="76.2" font-size="7.4" text-anchor="middle" font-weight="normal" fill="#333" transform="rotate(-90 532.6 76.2)">SSC</text>
<clipPath id="cp283"><rect x="630.8" y="47" width="53.5" height="51"/></clipPath>
<g clip-path="url(#cp283)">
<path d="M659 68.6h0M675.1 58.3h0M655.4 69.6h0M665.8 68.9h0M678.1 56.4h0M653.6 75h0M657.8 73.5h0M679.7 54.9h0M662.9 67.2h0M676.8 59.1h0M674.3 62.4h0M679 60.9h0M669.9 66.3h0M658.6 71.4h0M658.2 73.1h0M659.6 69.3h0M658.2 70.8h0M652.8 74.5h0M657.7 75.1h0M661.2 71.3h0M667.8 69.2h0M654.3 76.3h0M667.9 67.2h0M670.4 65.4h0M672 64.1h0M664 68.3h0M679.2 60.4h0M661.2 68.8h0" stroke="#3b4cff" stroke-width="0.7" stroke-linecap="round" opacity="0.55"/>
<path d="M653.1 93.9h0M684.1 78.9h0M641.4 89.8h0M641.7 68.2h0M679 80.7h0M674.7 80.2h0M678 81.8h0M639.5 68.4h0M660.3 87.2h0M679.5 70.7h0M664.1 79.1h0M657.8 72.4h0M646 83.6h0M680.3 71.3h0M657 92.1h0M682.5 73.9h0M637.6 96.3h0M683 82.5h0M633.7 95.8h0M651.6 95.1h0M664 92.7h0M639.4 91.6h0M642.7 80.1h0M676.1 92.9h0M640.6 74.5h0M652.2 83.5h0M651.3 71.7h0M644 89.7h0M678.8 69.2h0M660.9 90.7h0M632.8 93.1h0M637.1 86h0M660.2 86.8h0M647.2 80.6h0M662 80.8h0M666 81.4h0M654.3 68.7h0M663.9 82.7h0M643.4 90.9h0M672.5 81.7h0" stroke="#4050ff" stroke-width="0.6" stroke-linecap="round" opacity="0.35"/>
<path d="M643.9 85.5h0M652.3 85.1h0M648.2 80.6h0M647.3 76.7h0M648.8 90.4h0M648.4 90.6h0M651 83.9h0M639.1 88.9h0M648.6 73.1h0M656.4 89.9h0M655.1 91.7h0M646 84.2h0M642.6 89.2h0M645.4 94.6h0M642.6 87.7h0M655.3 84.6h0M645.3 77.3h0M654.3 89.2h0M656.9 81.2h0M657.1 86.8h0M651.8 86.1h0M644.2 82.3h0M653.3 82.2h0M647.7 84.1h0M649.4 90.4h0M642.7 85.4h0M644 83.4h0M643.3 75.1h0M644.6 75.7h0M655.6 76h0M643.5 84.7h0M644.3 90.5h0M645.8 75.1h0M652.8 81.2h0M664.4 78.2h0M643.6 83.3h0M639.7 86.8h0M655.1 92.5h0M649.5 82.6h0M654.8 90.1h0M645.4 80.3h0M641.7 84.2h0M646.2 87.3h0M652.9 76.8h0M649.2 85.1h0M644.3 83.9h0M654.8 83.2h0M646.3 81.2h0M648.4 80.4h0M649.5 76.5h0M642.2 85h0M654.2 79.9h0M646.7 86.6h0M644.5 84.3h0M648.4 75.6h0M636.9 83.9h0M640.2 82.7h0M647.1 78.5h0M640.1 78.1h0M653.2 70.7h0" stroke="#3040ff" stroke-width="0.8" stroke-linecap="round" opacity="0.45"/>
<ellipse cx="645.7" cy="83.3" rx="12.5" ry="8.5" fill="#6070ff" opacity="0.6" filter="url(#b1)" transform="rotate(-40 646.2 82.8)"/>
<ellipse cx="645.9" cy="83.1" rx="10.5" ry="7.2" fill="#0810f0" filter="url(#b07)" transform="rotate(-40 646.2 82.8)"/>
<ellipse cx="646.2" cy="82.8" rx="7.2" ry="5.6" fill="#00b4ff" filter="url(#b05)" transform="rotate(-40 646.2 82.8)"/>
<ellipse cx="646.2" cy="82.8" rx="5.2" ry="4.2" fill="#26e060" filter="url(#b05)" transform="rotate(-40 646.2 82.8)"/>
<ellipse cx="646.2" cy="83.1" rx="2.6" ry="2.3" fill="#f0e818" filter="url(#b03)"/>
<ellipse cx="646.2" cy="83.3" rx="1.3" ry="1.3" fill="#e82010" filter="url(#b03)"/>
</g>
<rect x="630.8" y="47" width="53.5" height="51" fill="none" stroke="#9a9a9a" stroke-width="0.7"/>
<line x1="646.5" y1="47" x2="646.5" y2="98" stroke="#5a5a5a" stroke-width="0.75"/>
<line x1="630.8" y1="82" x2="684.3" y2="82" stroke="#5a5a5a" stroke-width="0.75"/>
<line x1="631.3" y1="96" x2="631.3" y2="98" stroke="#333" stroke-width="0.9"/>
<line x1="631" y1="51.7" x2="632.2" y2="51.7" stroke="#777" stroke-width="0.6"/>
<text x="622.6" y="54.1" font-size="6.3" text-anchor="middle" font-weight="normal" fill="#333">10<tspan dy="-2.83" font-size="3.91">5</tspan><tspan dy="2.83">​</tspan></text>
<line x1="631" y1="63.9" x2="632.2" y2="63.9" stroke="#777" stroke-width="0.6"/>
<text x="622.6" y="66.3" font-size="6.3" text-anchor="middle" font-weight="normal" fill="#333">10<tspan dy="-2.83" font-size="3.91">4</tspan><tspan dy="2.83">​</tspan></text>
<line x1="631" y1="75.6" x2="632.2" y2="75.6" stroke="#777" stroke-width="0.6"/>
<text x="622.6" y="78" font-size="6.3" text-anchor="middle" font-weight="normal" fill="#333">10<tspan dy="-2.83" font-size="3.91">3</tspan><tspan dy="2.83">​</tspan></text>
<line x1="631" y1="86.7" x2="632.2" y2="86.7" stroke="#777" stroke-width="0.6"/>
<text x="622.6" y="89.1" font-size="6.3" text-anchor="middle" font-weight="normal" fill="#333">10<tspan dy="-2.83" font-size="3.91">2</tspan><tspan dy="2.83">​</tspan></text>
<line x1="631" y1="96" x2="632.2" y2="96" stroke="#777" stroke-width="0.6"/>
<text x="622.6" y="98.4" font-size="6.3" text-anchor="middle" font-weight="normal" fill="#333">10<tspan dy="-2.83" font-size="3.91">1</tspan><tspan dy="2.83">​</tspan></text>
<line x1="632.7" y1="96.6" x2="632.7" y2="98" stroke="#777" stroke-width="0.6"/>
<text x="632.7" y="107.4" font-size="6.3" text-anchor="middle" font-weight="normal" fill="#333">10<tspan dy="-2.83" font-size="3.91">1</tspan><tspan dy="2.83">​</tspan></text>
<line x1="643.7" y1="96.6" x2="643.7" y2="98" stroke="#777" stroke-width="0.6"/>
<text x="643.7" y="107.4" font-size="6.3" text-anchor="middle" font-weight="normal" fill="#333">10<tspan dy="-2.83" font-size="3.91">2</tspan><tspan dy="2.83">​</tspan></text>
<line x1="654.7" y1="96.6" x2="654.7" y2="98" stroke="#777" stroke-width="0.6"/>
<text x="654.7" y="107.4" font-size="6.3" text-anchor="middle" font-weight="normal" fill="#333">10<tspan dy="-2.83" font-size="3.91">3</tspan><tspan dy="2.83">​</tspan></text>
<line x1="665.7" y1="96.6" x2="665.7" y2="98" stroke="#777" stroke-width="0.6"/>
<text x="665.7" y="107.4" font-size="6.3" text-anchor="middle" font-weight="normal" fill="#333">10<tspan dy="-2.83" font-size="3.91">4</tspan><tspan dy="2.83">​</tspan></text>
<line x1="676.7" y1="96.6" x2="676.7" y2="98" stroke="#777" stroke-width="0.6"/>
<text x="676.7" y="107.4" font-size="6.3" text-anchor="middle" font-weight="normal" fill="#333">10<tspan dy="-2.83" font-size="3.91">5</tspan><tspan dy="2.83">​</tspan></text>
<text x="655.4" y="117.4" font-size="7.4" text-anchor="middle" font-weight="normal" fill="#333">CD 81 PE Cy7</text>
<text x="613.5" y="76.5" font-size="7.4" text-anchor="middle" font-weight="normal" fill="#333" transform="rotate(-90 613.5 76.5)">CD 9 APC Cy7</text>
<g filter="url(#b05)">
<path d="M50.3 146.6 L64 147.1 C72 147.6 72 151.6 L50.3 151.6 Z" fill="url(#tailg)" stroke="none" stroke-width="0.8"/>
<rect x="42.8" y="138.6" width="22" height="13" fill="#8090ff" stroke="none" stroke-width="0.8" opacity="0.35"/>
<rect x="43.1" y="139.1" width="11.5" height="12.5" fill="#5062ff" stroke="none" stroke-width="0.8" opacity="0.75"/>
<rect x="48.5" y="139.1" width="6" height="12.5" fill="#0810f0" stroke="none" stroke-width="0.8"/>
<path d="M43.3 146.6 L55.3 147.1 C63.3 148.1 65.3 151.6 L43.3 151.6 Z" fill="#0810f0" stroke="none" stroke-width="0.8"/>
</g>
<ellipse cx="48.5" cy="149.4" rx="6" ry="2.6" fill="#00b8ff" filter="url(#b05)"/>
<ellipse cx="48.7" cy="149.6" rx="4.4" ry="2" fill="#22e05a" filter="url(#b05)"/>
<ellipse cx="49" cy="149.9" rx="2.6" ry="1.3" fill="#f4c010" filter="url(#b03)"/>
<ellipse cx="49.2" cy="150" rx="1.4" ry="0.9" fill="#ee2a10" filter="url(#b03)"/>
<path d="M71.4 144.5h0M75.6 142.5h0M66.4 146h0M59.2 142.7h0M72.5 142.2h0M66.9 151h0M56.8 144h0M68.3 146.9h0M69.1 149.8h0M57.6 145h0M60.7 142.6h0M75.3 149.5h0M71 142.2h0M74.2 149.2h0M64.8 149.1h0M64.5 144.2h0M55.9 144.3h0M54.3 145.3h0M71.8 148.7h0M74.2 148.9h0M59.9 147.4h0M64.1 149.6h0M66.2 144.6h0M69.2 151.3h0M58.7 150.5h0M53.7 144.6h0M59.1 149.2h0M76.6 149.2h0M61.4 150.5h0M61.4 144.4h0" stroke="#5b6cff" stroke-width="0.7" stroke-linecap="round" opacity="0.6"/>
<rect x="41.3" y="128.1" width="51.8" height="51.1" fill="none" stroke="#9a9a9a" stroke-width="0.7"/>
<rect x="61.3" y="133.7" width="23.8" height="24.7" fill="none" stroke="#808080" stroke-width="0.75"/>
<text x="68.2" y="169.7" font-size="8.2" text-anchor="middle" font-weight="normal" fill="#333">1.01 %</text>
<line x1="41.5" y1="132.8" x2="42.9" y2="132.8" stroke="#777" stroke-width="0.6"/>
<text x="34.3" y="135.2" font-size="6.3" text-anchor="middle" font-weight="normal" fill="#333">10<tspan dy="-2.83" font-size="3.91">5</tspan><tspan dy="2.83">​</tspan></text>
<line x1="41.5" y1="142.9" x2="42.9" y2="142.9" stroke="#777" stroke-width="0.6"/>
<text x="34.3" y="145.3" font-size="6.3" text-anchor="middle" font-weight="normal" fill="#333">10<tspan dy="-2.83" font-size="3.91">4</tspan><tspan dy="2.83">​</tspan></text>
<line x1="41.5" y1="153" x2="42.9" y2="153" stroke="#777" stroke-width="0.6"/>
<text x="34.3" y="155.4" font-size="6.3" text-anchor="middle" font-weight="normal" fill="#333">10<tspan dy="-2.83" font-size="3.91">3</tspan><tspan dy="2.83">​</tspan></text>
<line x1="41.5" y1="163.1" x2="42.9" y2="163.1" stroke="#777" stroke-width="0.6"/>
<text x="34.3" y="165.5" font-size="6.3" text-anchor="middle" font-weight="normal" fill="#333">10<tspan dy="-2.83" font-size="3.91">2</tspan><tspan dy="2.83">​</tspan></text>
<line x1="41.5" y1="173.2" x2="42.9" y2="173.2" stroke="#777" stroke-width="0.6"/>
<text x="34.3" y="175.6" font-size="6.3" text-anchor="middle" font-weight="normal" fill="#333">10<tspan dy="-2.83" font-size="3.91">1</tspan><tspan dy="2.83">​</tspan></text>
<line x1="46.9" y1="177.8" x2="46.9" y2="179.2" stroke="#777" stroke-width="0.6"/>
<text x="46.9" y="188.6" font-size="6.3" text-anchor="middle" font-weight="normal" fill="#333">10<tspan dy="-2.83" font-size="3.91">1</tspan><tspan dy="2.83">​</tspan></text>
<line x1="57.1" y1="177.8" x2="57.1" y2="179.2" stroke="#777" stroke-width="0.6"/>
<text x="57.1" y="188.6" font-size="6.3" text-anchor="middle" font-weight="normal" fill="#333">10<tspan dy="-2.83" font-size="3.91">2</tspan><tspan dy="2.83">​</tspan></text>
<line x1="67.3" y1="177.8" x2="67.3" y2="179.2" stroke="#777" stroke-width="0.6"/>
<text x="67.3" y="188.6" font-size="6.3" text-anchor="middle" font-weight="normal" fill="#333">10<tspan dy="-2.83" font-size="3.91">3</tspan><tspan dy="2.83">​</tspan></text>
<line x1="77.5" y1="177.8" x2="77.5" y2="179.2" stroke="#777" stroke-width="0.6"/>
<text x="77.5" y="188.6" font-size="6.3" text-anchor="middle" font-weight="normal" fill="#333">10<tspan dy="-2.83" font-size="3.91">4</tspan><tspan dy="2.83">​</tspan></text>
<line x1="87.7" y1="177.8" x2="87.7" y2="179.2" stroke="#777" stroke-width="0.6"/>
<text x="87.7" y="188.6" font-size="6.3" text-anchor="middle" font-weight="normal" fill="#333">10<tspan dy="-2.83" font-size="3.91">5</tspan><tspan dy="2.83">​</tspan></text>
<text x="65.5" y="198.6" font-size="7.4" text-anchor="middle" font-weight="normal" fill="#333">CFSE</text>
<text x="25.5" y="156.1" font-size="7.4" text-anchor="middle" font-weight="normal" fill="#333" transform="rotate(-90 25.5 156.1)">SSC</text>
<clipPath id="cp358"><rect x="123" y="127" width="51.7" height="52.6"/></clipPath>
<g clip-path="url(#cp358)">
<path d="M139.5 168.8h0M135 163.3h0M133.3 168.6h0M136.8 167.6h0M133.5 167.1h0M134.9 164.3h0M133.6 164.2h0M139 164.1h0M136.4 166.5h0M136.4 166.5h0M137.4 167.7h0M136.1 165.5h0M137.7 169.7h0M138.3 161.7h0M134 164.9h0M136.2 162.4h0M135.8 167.4h0M132.5 165.9h0M136.5 169.8h0M132.6 166.4h0M136.7 165.4h0M138.5 171.1h0M138.4 166.7h0M133.5 167.1h0M133.7 164.7h0M138.4 169.4h0M139.9 165.8h0M139.6 164.4h0M137.5 164.9h0M139.5 164.3h0M134.6 161.4h0M143.7 158.8h0M137.1 164.4h0M136.7 162.1h0M138.8 165.4h0M134.6 163.9h0M133.9 166.3h0M142.7 170h0M140 165.1h0M137.3 166.6h0M141.7 165.3h0M137.2 161.3h0M137.4 165.6h0M135.5 162h0M137.3 166.2h0M135.3 167.5h0M136.4 166.1h0M141.4 163.5h0M137.2 164.1h0M136.3 166.2h0M133 166h0M133.4 163h0M139.4 159.7h0M140.8 170.7h0M140.2 167.1h0M137.5 164.4h0M143.2 161.9h0M137.2 166.7h0M135.8 161.2h0M138 165.2h0M132.5 163.2h0M135.1 164.1h0M138.6 167.6h0M133.8 164.9h0M135.5 159.9h0M139 163.5h0M136.5 158.5h0M138.6 165.2h0M139 163.4h0M141.3 166h0M135.9 166.3h0M139 163.2h0M140.2 166.5h0M139.3 168.2h0M144.3 164.8h0M135.9 166.4h0M136.9 158.1h0M142.5 166.4h0M132.8 163.1h0M137.9 164h0M136.2 165.9h0M139.9 168.2h0M137.8 166.3h0M133 160.5h0M137.2 163.3h0M137.6 162.4h0M135.5 164.6h0M131.1 161.2h0M138.8 165h0M134.3 165.7h0" stroke="#4455ff" stroke-width="0.9" stroke-linecap="round" opacity="0.5"/>
<ellipse cx="137.7" cy="165" rx="3.4" ry="4" fill="#3344dd" opacity="0.45" filter="url(#b07)"/>
<path d="M169.6 136h0M166.4 138.6h0M164.2 140.5h0M168.8 136.7h0M163.6 141h0M162.4 142h0M156.8 146.7h0M152.6 150.2h0M162 142.3h0M146.1 155.6h0M155.8 147.5h0M166.7 138.4h0" stroke="#6a7aff" stroke-width="0.7" stroke-linecap="round" opacity="0.5"/>
</g>
<rect x="123" y="127" width="51.7" height="52.6" fill="none" stroke="#9a9a9a" stroke-width="0.7"/>
<line x1="138.2" y1="127" x2="138.2" y2="179.6" stroke="#5a5a5a" stroke-width="0.75"/>
<line x1="123" y1="162" x2="174.7" y2="162" stroke="#5a5a5a" stroke-width="0.75"/>
<line x1="123.5" y1="177.6" x2="123.5" y2="179.6" stroke="#333" stroke-width="0.9"/>
<line x1="123.2" y1="131.7" x2="124.4" y2="131.7" stroke="#777" stroke-width="0.6"/>
<text x="114.8" y="134.1" font-size="6.3" text-anchor="middle" font-weight="normal" fill="#333">10<tspan dy="-2.83" font-size="3.91">5</tspan><tspan dy="2.83">​</tspan></text>
<line x1="123.2" y1="143.9" x2="124.4" y2="143.9" stroke="#777" stroke-width="0.6"/>
<text x="114.8" y="146.3" font-size="6.3" text-anchor="middle" font-weight="normal" fill="#333">10<tspan dy="-2.83" font-size="3.91">4</tspan><tspan dy="2.83">​</tspan></text>
<line x1="123.2" y1="155.6" x2="124.4" y2="155.6" stroke="#777" stroke-width="0.6"/>
<text x="114.8" y="158" font-size="6.3" text-anchor="middle" font-weight="normal" fill="#333">10<tspan dy="-2.83" font-size="3.91">3</tspan><tspan dy="2.83">​</tspan></text>
<line x1="123.2" y1="166.7" x2="124.4" y2="166.7" stroke="#777" stroke-width="0.6"/>
<text x="114.8" y="169.1" font-size="6.3" text-anchor="middle" font-weight="normal" fill="#333">10<tspan dy="-2.83" font-size="3.91">2</tspan><tspan dy="2.83">​</tspan></text>
<line x1="123.2" y1="176" x2="124.4" y2="176" stroke="#777" stroke-width="0.6"/>
<text x="114.8" y="178.4" font-size="6.3" text-anchor="middle" font-weight="normal" fill="#333">10<tspan dy="-2.83" font-size="3.91">1</tspan><tspan dy="2.83">​</tspan></text>
<line x1="124.9" y1="178.2" x2="124.9" y2="179.6" stroke="#777" stroke-width="0.6"/>
<text x="124.9" y="189" font-size="6.3" text-anchor="middle" font-weight="normal" fill="#333">10<tspan dy="-2.83" font-size="3.91">1</tspan><tspan dy="2.83">​</tspan></text>
<line x1="135.9" y1="178.2" x2="135.9" y2="179.6" stroke="#777" stroke-width="0.6"/>
<text x="135.9" y="189" font-size="6.3" text-anchor="middle" font-weight="normal" fill="#333">10<tspan dy="-2.83" font-size="3.91">2</tspan><tspan dy="2.83">​</tspan></text>
<line x1="146.9" y1="178.2" x2="146.9" y2="179.6" stroke="#777" stroke-width="0.6"/>
<text x="146.9" y="189" font-size="6.3" text-anchor="middle" font-weight="normal" fill="#333">10<tspan dy="-2.83" font-size="3.91">3</tspan><tspan dy="2.83">​</tspan></text>
<line x1="157.9" y1="178.2" x2="157.9" y2="179.6" stroke="#777" stroke-width="0.6"/>
<text x="157.9" y="189" font-size="6.3" text-anchor="middle" font-weight="normal" fill="#333">10<tspan dy="-2.83" font-size="3.91">4</tspan><tspan dy="2.83">​</tspan></text>
<line x1="168.9" y1="178.2" x2="168.9" y2="179.6" stroke="#777" stroke-width="0.6"/>
<text x="168.9" y="189" font-size="6.3" text-anchor="middle" font-weight="normal" fill="#333">10<tspan dy="-2.83" font-size="3.91">5</tspan><tspan dy="2.83">​</tspan></text>
<text x="147.6" y="199" font-size="7.4" text-anchor="middle" font-weight="normal" fill="#333">CD 81 PE Cy7</text>
<text x="105.7" y="156.5" font-size="7.4" text-anchor="middle" font-weight="normal" fill="#333" transform="rotate(-90 105.7 156.5)">CD 9 APC Cy7</text>
<g filter="url(#b05)">
<path d="M212.6 147.2 L224 147.7 C232 148.2 232 152.2 L212.6 152.2 Z" fill="url(#tailg)" stroke="none" stroke-width="0.8"/>
<rect x="205.1" y="139.2" width="22" height="13" fill="#8090ff" stroke="none" stroke-width="0.8" opacity="0.35"/>
<rect x="205.4" y="139.7" width="11.5" height="12.5" fill="#5062ff" stroke="none" stroke-width="0.8" opacity="0.75"/>
<rect x="210.8" y="139.7" width="6" height="12.5" fill="#0810f0" stroke="none" stroke-width="0.8"/>
<path d="M205.6 147.2 L217.6 147.7 C225.6 148.7 227.6 152.2 L205.6 152.2 Z" fill="#0810f0" stroke="none" stroke-width="0.8"/>
</g>
<ellipse cx="210.5" cy="150" rx="6" ry="2.6" fill="#00b8ff" filter="url(#b05)"/>
<ellipse cx="210.7" cy="150.2" rx="4.4" ry="2" fill="#22e05a" filter="url(#b05)"/>
<ellipse cx="211" cy="150.5" rx="2.6" ry="1.3" fill="#f4c010" filter="url(#b03)"/>
<ellipse cx="211.2" cy="150.6" rx="1.4" ry="0.9" fill="#ee2a10" filter="url(#b03)"/>
<path d="M231.6 148.7h0M221.2 146.7h0M225.8 148.6h0M224.8 149.1h0M236.4 144.4h0M230.3 150.1h0M224.3 147.4h0M237.4 143.1h0M227.8 144.2h0M233.1 151.6h0M227.2 143.7h0M228.5 147.8h0M231.7 147.6h0M229.9 150.6h0M227.3 146.6h0M236.8 144.7h0M230.9 146.4h0M232.7 143.9h0M237.7 146.1h0M216.9 145.3h0M224.6 142.8h0M225 146.7h0M231.2 146h0M221.5 144.8h0M232.2 151.6h0M227.4 144.8h0M233.6 146.4h0M220.3 143.9h0M233 150.4h0M229.8 147.2h0" stroke="#5b6cff" stroke-width="0.7" stroke-linecap="round" opacity="0.6"/>
<rect x="203.6" y="128.7" width="50.9" height="50.8" fill="none" stroke="#9a9a9a" stroke-width="0.7"/>
<rect x="223.4" y="133.6" width="23.1" height="24.8" fill="none" stroke="#808080" stroke-width="0.75"/>
<text x="223" y="169.4" font-size="8.2" text-anchor="middle" font-weight="normal" fill="#333">1.68 %</text>
<line x1="203.8" y1="133.4" x2="205.2" y2="133.4" stroke="#777" stroke-width="0.6"/>
<text x="196.6" y="135.8" font-size="6.3" text-anchor="middle" font-weight="normal" fill="#333">10<tspan dy="-2.83" font-size="3.91">5</tspan><tspan dy="2.83">​</tspan></text>
<line x1="203.8" y1="143.5" x2="205.2" y2="143.5" stroke="#777" stroke-width="0.6"/>
<text x="196.6" y="145.9" font-size="6.3" text-anchor="middle" font-weight="normal" fill="#333">10<tspan dy="-2.83" font-size="3.91">4</tspan><tspan dy="2.83">​</tspan></text>
<line x1="203.8" y1="153.6" x2="205.2" y2="153.6" stroke="#777" stroke-width="0.6"/>
<text x="196.6" y="156" font-size="6.3" text-anchor="middle" font-weight="normal" fill="#333">10<tspan dy="-2.83" font-size="3.91">3</tspan><tspan dy="2.83">​</tspan></text>
<line x1="203.8" y1="163.7" x2="205.2" y2="163.7" stroke="#777" stroke-width="0.6"/>
<text x="196.6" y="166.1" font-size="6.3" text-anchor="middle" font-weight="normal" fill="#333">10<tspan dy="-2.83" font-size="3.91">2</tspan><tspan dy="2.83">​</tspan></text>
<line x1="203.8" y1="173.8" x2="205.2" y2="173.8" stroke="#777" stroke-width="0.6"/>
<text x="196.6" y="176.2" font-size="6.3" text-anchor="middle" font-weight="normal" fill="#333">10<tspan dy="-2.83" font-size="3.91">1</tspan><tspan dy="2.83">​</tspan></text>
<line x1="209.2" y1="178.1" x2="209.2" y2="179.5" stroke="#777" stroke-width="0.6"/>
<text x="209.2" y="188.9" font-size="6.3" text-anchor="middle" font-weight="normal" fill="#333">10<tspan dy="-2.83" font-size="3.91">1</tspan><tspan dy="2.83">​</tspan></text>
<line x1="219.4" y1="178.1" x2="219.4" y2="179.5" stroke="#777" stroke-width="0.6"/>
<text x="219.4" y="188.9" font-size="6.3" text-anchor="middle" font-weight="normal" fill="#333">10<tspan dy="-2.83" font-size="3.91">2</tspan><tspan dy="2.83">​</tspan></text>
<line x1="229.6" y1="178.1" x2="229.6" y2="179.5" stroke="#777" stroke-width="0.6"/>
<text x="229.6" y="188.9" font-size="6.3" text-anchor="middle" font-weight="normal" fill="#333">10<tspan dy="-2.83" font-size="3.91">3</tspan><tspan dy="2.83">​</tspan></text>
<line x1="239.8" y1="178.1" x2="239.8" y2="179.5" stroke="#777" stroke-width="0.6"/>
<text x="239.8" y="188.9" font-size="6.3" text-anchor="middle" font-weight="normal" fill="#333">10<tspan dy="-2.83" font-size="3.91">4</tspan><tspan dy="2.83">​</tspan></text>
<line x1="250" y1="178.1" x2="250" y2="179.5" stroke="#777" stroke-width="0.6"/>
<text x="250" y="188.9" font-size="6.3" text-anchor="middle" font-weight="normal" fill="#333">10<tspan dy="-2.83" font-size="3.91">5</tspan><tspan dy="2.83">​</tspan></text>
<text x="227.8" y="198.9" font-size="7.4" text-anchor="middle" font-weight="normal" fill="#333">CFSE</text>
<text x="187.8" y="156.7" font-size="7.4" text-anchor="middle" font-weight="normal" fill="#333" transform="rotate(-90 187.8 156.7)">SSC</text>
<clipPath id="cp427"><rect x="287.2" y="126.2" width="52.9" height="52.1"/></clipPath>
<g clip-path="url(#cp427)">
<path d="M306.3 162.3h0M301.1 167.3h0M301.3 160.6h0M297.9 165.9h0M299 163.3h0M305.3 168.7h0M305.7 160.6h0M306.2 164.1h0M304.6 164.3h0M304.9 164.5h0M302.1 163.9h0M299.7 164.5h0M304.3 161h0M302.3 161.3h0M298.8 159.6h0M306.8 165.1h0M301.1 167.7h0M296.5 164.8h0M300.4 166.6h0M298.4 164.9h0M301.9 168.9h0M300.7 164.4h0M303.2 165.9h0M303.5 164.9h0M299.4 168.4h0M306.9 164.9h0M300.3 167.8h0M299.5 165.3h0M297.8 168.8h0M298.9 165.5h0M300.3 163h0M298.7 164.2h0M298.9 167.4h0M299.5 164.2h0M303.9 166.8h0M304.4 167.8h0M303 166.7h0M304.5 160.4h0M301.9 164.6h0M301.7 166.3h0M299.3 160h0M300.3 166.1h0M299.6 157.3h0M305.4 168.5h0M303.7 163.9h0M301.4 160.7h0M299.2 167h0M300.9 168.2h0M301.5 157.6h0M302.5 169.4h0M302.8 162.3h0M300.1 166.4h0M299.9 160.5h0M302.4 164.7h0M300 161.3h0M303.1 158.8h0M300.2 162.8h0M307 161.3h0M303.8 163.9h0M305.2 169h0M301.3 165.1h0M299.5 163.3h0M304.1 160.5h0M299.8 164.6h0M301.1 163.3h0M296.2 163.4h0M301.6 164.3h0M302.2 167.1h0M307.8 160.8h0M299.3 166.1h0M295.9 161h0M299.4 160.9h0M298.8 160.4h0M299.5 165.5h0M305.9 159.2h0M303.1 166h0M303 169.8h0M303 168.4h0M299.8 160.4h0M305.7 165.3h0M298.4 164.3h0M304.3 161.9h0M303.1 160.2h0M303.6 165.4h0M301.5 163.6h0M301.6 168.7h0M305.4 158h0M299 163.9h0M302.1 161.1h0M304.3 172.7h0" stroke="#4455ff" stroke-width="0.9" stroke-linecap="round" opacity="0.5"/>
<ellipse cx="302.4" cy="164.4" rx="3.4" ry="4" fill="#3344dd" opacity="0.45" filter="url(#b07)"/>
<ellipse cx="302.4" cy="164.4" rx="2.6" ry="3" fill="#1020e0" filter="url(#b05)"/>
<ellipse cx="302.4" cy="164.4" rx="1.6" ry="1.9" fill="#20c0a0" filter="url(#b05)"/>
<ellipse cx="302.4" cy="164.6" rx="0.8" ry="0.9" fill="#80e020" filter="url(#b03)"/>
<path d="M322.2 145.5h0M320.3 147.1h0M311 154.8h0M327.2 141.3h0M314.3 152.1h0M312.5 153.6h0M308.4 157h0M308 157.3h0M328.4 140.3h0M311.6 154.4h0M336.9 133.2h0M310.5 155.2h0" stroke="#6a7aff" stroke-width="0.7" stroke-linecap="round" opacity="0.5"/>
</g>
<rect x="287.2" y="126.2" width="52.9" height="52.1" fill="none" stroke="#9a9a9a" stroke-width="0.7"/>
<line x1="302.9" y1="126.2" x2="302.9" y2="178.3" stroke="#5a5a5a" stroke-width="0.75"/>
<line x1="287.2" y1="161.4" x2="340.1" y2="161.4" stroke="#5a5a5a" stroke-width="0.75"/>
<line x1="287.7" y1="176.3" x2="287.7" y2="178.3" stroke="#333" stroke-width="0.9"/>
<line x1="287.4" y1="130.9" x2="288.6" y2="130.9" stroke="#777" stroke-width="0.6"/>
<text x="279" y="133.3" font-size="6.3" text-anchor="middle" font-weight="normal" fill="#333">10<tspan dy="-2.83" font-size="3.91">5</tspan><tspan dy="2.83">​</tspan></text>
<line x1="287.4" y1="143.1" x2="288.6" y2="143.1" stroke="#777" stroke-width="0.6"/>
<text x="279" y="145.5" font-size="6.3" text-anchor="middle" font-weight="normal" fill="#333">10<tspan dy="-2.83" font-size="3.91">4</tspan><tspan dy="2.83">​</tspan></text>
<line x1="287.4" y1="154.8" x2="288.6" y2="154.8" stroke="#777" stroke-width="0.6"/>
<text x="279" y="157.2" font-size="6.3" text-anchor="middle" font-weight="normal" fill="#333">10<tspan dy="-2.83" font-size="3.91">3</tspan><tspan dy="2.83">​</tspan></text>
<line x1="287.4" y1="165.9" x2="288.6" y2="165.9" stroke="#777" stroke-width="0.6"/>
<text x="279" y="168.3" font-size="6.3" text-anchor="middle" font-weight="normal" fill="#333">10<tspan dy="-2.83" font-size="3.91">2</tspan><tspan dy="2.83">​</tspan></text>
<line x1="287.4" y1="175.2" x2="288.6" y2="175.2" stroke="#777" stroke-width="0.6"/>
<text x="279" y="177.6" font-size="6.3" text-anchor="middle" font-weight="normal" fill="#333">10<tspan dy="-2.83" font-size="3.91">1</tspan><tspan dy="2.83">​</tspan></text>
<line x1="289.1" y1="176.9" x2="289.1" y2="178.3" stroke="#777" stroke-width="0.6"/>
<text x="289.1" y="187.7" font-size="6.3" text-anchor="middle" font-weight="normal" fill="#333">10<tspan dy="-2.83" font-size="3.91">1</tspan><tspan dy="2.83">​</tspan></text>
<line x1="300.1" y1="176.9" x2="300.1" y2="178.3" stroke="#777" stroke-width="0.6"/>
<text x="300.1" y="187.7" font-size="6.3" text-anchor="middle" font-weight="normal" fill="#333">10<tspan dy="-2.83" font-size="3.91">2</tspan><tspan dy="2.83">​</tspan></text>
<line x1="311.1" y1="176.9" x2="311.1" y2="178.3" stroke="#777" stroke-width="0.6"/>
<text x="311.1" y="187.7" font-size="6.3" text-anchor="middle" font-weight="normal" fill="#333">10<tspan dy="-2.83" font-size="3.91">3</tspan><tspan dy="2.83">​</tspan></text>
<line x1="322.1" y1="176.9" x2="322.1" y2="178.3" stroke="#777" stroke-width="0.6"/>
<text x="322.1" y="187.7" font-size="6.3" text-anchor="middle" font-weight="normal" fill="#333">10<tspan dy="-2.83" font-size="3.91">4</tspan><tspan dy="2.83">​</tspan></text>
<line x1="333.1" y1="176.9" x2="333.1" y2="178.3" stroke="#777" stroke-width="0.6"/>
<text x="333.1" y="187.7" font-size="6.3" text-anchor="middle" font-weight="normal" fill="#333">10<tspan dy="-2.83" font-size="3.91">5</tspan><tspan dy="2.83">​</tspan></text>
<text x="311.8" y="197.7" font-size="7.4" text-anchor="middle" font-weight="normal" fill="#333">CD 81 PE Cy7</text>
<text x="269.9" y="155.7" font-size="7.4" text-anchor="middle" font-weight="normal" fill="#333" transform="rotate(-90 269.9 155.7)">CD 9 APC Cy7</text>
<g filter="url(#b05)">
<path d="M390.5 147.5 L404 148 C412 148.5 412 152.5 L390.5 152.5 Z" fill="url(#tailg)" stroke="none" stroke-width="0.8"/>
<rect x="383" y="139.5" width="22" height="13" fill="#8090ff" stroke="none" stroke-width="0.8" opacity="0.35"/>
<rect x="383.3" y="140" width="11.5" height="12.5" fill="#5062ff" stroke="none" stroke-width="0.8" opacity="0.75"/>
<rect x="388.7" y="140" width="6" height="12.5" fill="#0810f0" stroke="none" stroke-width="0.8"/>
<path d="M383.5 147.5 L395.5 148 C403.5 149 405.5 152.5 L383.5 152.5 Z" fill="#0810f0" stroke="none" stroke-width="0.8"/>
</g>
<ellipse cx="389.5" cy="150.3" rx="6" ry="2.6" fill="#00b8ff" filter="url(#b05)"/>
<ellipse cx="389.7" cy="150.5" rx="4.4" ry="2" fill="#22e05a" filter="url(#b05)"/>
<ellipse cx="390" cy="150.8" rx="2.6" ry="1.3" fill="#f4c010" filter="url(#b03)"/>
<ellipse cx="390.2" cy="150.9" rx="1.4" ry="0.9" fill="#ee2a10" filter="url(#b03)"/>
<path d="M414.8 144.2h0M393.9 149.8h0M399.4 150h0M398.1 143.5h0M412.5 149.8h0M414.5 149.9h0M395.6 149h0M410.9 147.4h0M416.3 145.4h0M417.1 149.8h0M393.8 143.1h0M409.4 150.8h0M395.5 146h0M411.4 144.6h0M414.6 147.6h0M395 146.5h0M407.6 147.2h0M410.1 144.4h0M413 146.5h0M409.3 149h0M403.7 146.7h0M412.8 152h0M412.7 148.4h0M400.7 143.6h0M417.4 149.7h0M413.8 146.2h0M408.3 152.3h0M413.9 148.7h0M401.1 147.1h0M415.3 146.6h0" stroke="#5b6cff" stroke-width="0.7" stroke-linecap="round" opacity="0.6"/>
<rect x="381.5" y="129" width="49.7" height="50.2" fill="none" stroke="#9a9a9a" stroke-width="0.7"/>
<rect x="401.6" y="133.7" width="24.3" height="24.5" fill="none" stroke="#808080" stroke-width="0.75"/>
<text x="414.6" y="169" font-size="8.2" text-anchor="middle" font-weight="normal" fill="#333">0.19 %</text>
<line x1="381.7" y1="133.7" x2="383.1" y2="133.7" stroke="#777" stroke-width="0.6"/>
<text x="374.5" y="136.1" font-size="6.3" text-anchor="middle" font-weight="normal" fill="#333">10<tspan dy="-2.83" font-size="3.91">5</tspan><tspan dy="2.83">​</tspan></text>
<line x1="381.7" y1="143.8" x2="383.1" y2="143.8" stroke="#777" stroke-width="0.6"/>
<text x="374.5" y="146.2" font-size="6.3" text-anchor="middle" font-weight="normal" fill="#333">10<tspan dy="-2.83" font-size="3.91">4</tspan><tspan dy="2.83">​</tspan></text>
<line x1="381.7" y1="153.9" x2="383.1" y2="153.9" stroke="#777" stroke-width="0.6"/>
<text x="374.5" y="156.3" font-size="6.3" text-anchor="middle" font-weight="normal" fill="#333">10<tspan dy="-2.83" font-size="3.91">3</tspan><tspan dy="2.83">​</tspan></text>
<line x1="381.7" y1="164" x2="383.1" y2="164" stroke="#777" stroke-width="0.6"/>
<text x="374.5" y="166.4" font-size="6.3" text-anchor="middle" font-weight="normal" fill="#333">10<tspan dy="-2.83" font-size="3.91">2</tspan><tspan dy="2.83">​</tspan></text>
<line x1="381.7" y1="174.1" x2="383.1" y2="174.1" stroke="#777" stroke-width="0.6"/>
<text x="374.5" y="176.5" font-size="6.3" text-anchor="middle" font-weight="normal" fill="#333">10<tspan dy="-2.83" font-size="3.91">1</tspan><tspan dy="2.83">​</tspan></text>
<line x1="387.1" y1="177.8" x2="387.1" y2="179.2" stroke="#777" stroke-width="0.6"/>
<text x="387.1" y="188.6" font-size="6.3" text-anchor="middle" font-weight="normal" fill="#333">10<tspan dy="-2.83" font-size="3.91">1</tspan><tspan dy="2.83">​</tspan></text>
<line x1="397.3" y1="177.8" x2="397.3" y2="179.2" stroke="#777" stroke-width="0.6"/>
<text x="397.3" y="188.6" font-size="6.3" text-anchor="middle" font-weight="normal" fill="#333">10<tspan dy="-2.83" font-size="3.91">2</tspan><tspan dy="2.83">​</tspan></text>
<line x1="407.5" y1="177.8" x2="407.5" y2="179.2" stroke="#777" stroke-width="0.6"/>
<text x="407.5" y="188.6" font-size="6.3" text-anchor="middle" font-weight="normal" fill="#333">10<tspan dy="-2.83" font-size="3.91">3</tspan><tspan dy="2.83">​</tspan></text>
<line x1="417.7" y1="177.8" x2="417.7" y2="179.2" stroke="#777" stroke-width="0.6"/>
<text x="417.7" y="188.6" font-size="6.3" text-anchor="middle" font-weight="normal" fill="#333">10<tspan dy="-2.83" font-size="3.91">4</tspan><tspan dy="2.83">​</tspan></text>
<line x1="427.9" y1="177.8" x2="427.9" y2="179.2" stroke="#777" stroke-width="0.6"/>
<text x="427.9" y="188.6" font-size="6.3" text-anchor="middle" font-weight="normal" fill="#333">10<tspan dy="-2.83" font-size="3.91">5</tspan><tspan dy="2.83">​</tspan></text>
<text x="405.7" y="198.6" font-size="7.4" text-anchor="middle" font-weight="normal" fill="#333">CFSE</text>
<text x="365.7" y="157" font-size="7.4" text-anchor="middle" font-weight="normal" fill="#333" transform="rotate(-90 365.7 157)">SSC</text>
<clipPath id="cp499"><rect x="464" y="127.8" width="52" height="51.4"/></clipPath>
<g clip-path="url(#cp499)">
<path d="M475.6 164.2h0M475.1 170.5h0M475.5 165.9h0M478.8 165.6h0M481.5 160.9h0M475.9 166.6h0M478.1 168.8h0M474.2 168.7h0M475.9 165h0M484 167.6h0M474.6 168.4h0M477.3 169.4h0M480.4 166.5h0M476.8 165.9h0M472.1 166.3h0M482.4 164.3h0M475.8 166.6h0M480.7 165.9h0M473.6 164.6h0M478.9 167.8h0M474.1 166.4h0M482.3 171.2h0M475.1 162.3h0M478.2 164.1h0M477.6 166.6h0M480.3 165h0M476.1 162.9h0M477.5 164.1h0M478.4 176.4h0M481.3 164.8h0M479.5 162.1h0M475 168.3h0M481.7 163.7h0M481.4 166.7h0M478.7 172.3h0M478.3 161.8h0M478.9 165.5h0M483.5 159h0M481.6 166.5h0M473.5 168.3h0M478.1 168h0M479 166.5h0M479.7 169.8h0M479.7 168.3h0M476.3 172.5h0M476.6 169.9h0M480.1 164.6h0M479.5 168.3h0M478.1 161.7h0M477 170.5h0M477.5 163.2h0M480.5 170.4h0M484.7 168.2h0M478.5 168.3h0M479.1 161.8h0M483.4 170.9h0M475.6 171.3h0M480 164.7h0M474.7 167h0M478.5 169.2h0M482.3 170.4h0M477 164.6h0M482.2 166h0M477.3 164.8h0M480.5 168.5h0M480.9 167.1h0M480.4 168.9h0M481.9 171h0M479 166.2h0M479.3 167.9h0M477.7 171.8h0M476.3 167.2h0M477.6 164.5h0M479 171.4h0M476.3 163.5h0M476.4 162.7h0M483 161.4h0M479.2 167.3h0M480.1 170.6h0M480.1 164.2h0M478.1 167.6h0M477 164.3h0M479.5 165.1h0M483.9 164.9h0M480.1 163.1h0M478.7 167.2h0M477.8 167h0M478.5 169.7h0M476.1 166.8h0M481.7 165.3h0" stroke="#4455ff" stroke-width="0.9" stroke-linecap="round" opacity="0.5"/>
<ellipse cx="479.1" cy="165.9" rx="3.4" ry="4" fill="#3344dd" opacity="0.45" filter="url(#b07)"/>
<path d="M490.6 153.9h0M495.5 149.8h0M514.3 134.1h0M514.5 133.9h0M512.4 135.8h0M487.5 156.5h0M493.3 151.7h0M511.5 136.5h0M486.3 157.5h0M506.4 140.7h0M493.4 151.6h0M514 134.4h0" stroke="#6a7aff" stroke-width="0.7" stroke-linecap="round" opacity="0.5"/>
</g>
<rect x="464" y="127.8" width="52" height="51.4" fill="none" stroke="#9a9a9a" stroke-width="0.7"/>
<line x1="479.6" y1="127.8" x2="479.6" y2="179.2" stroke="#5a5a5a" stroke-width="0.75"/>
<line x1="464" y1="162.9" x2="516" y2="162.9" stroke="#5a5a5a" stroke-width="0.75"/>
<line x1="464.5" y1="177.2" x2="464.5" y2="179.2" stroke="#333" stroke-width="0.9"/>
<line x1="464.2" y1="132.5" x2="465.4" y2="132.5" stroke="#777" stroke-width="0.6"/>
<text x="455.8" y="134.9" font-size="6.3" text-anchor="middle" font-weight="normal" fill="#333">10<tspan dy="-2.83" font-size="3.91">5</tspan><tspan dy="2.83">​</tspan></text>
<line x1="464.2" y1="144.7" x2="465.4" y2="144.7" stroke="#777" stroke-width="0.6"/>
<text x="455.8" y="147.1" font-size="6.3" text-anchor="middle" font-weight="normal" fill="#333">10<tspan dy="-2.83" font-size="3.91">4</tspan><tspan dy="2.83">​</tspan></text>
<line x1="464.2" y1="156.4" x2="465.4" y2="156.4" stroke="#777" stroke-width="0.6"/>
<text x="455.8" y="158.8" font-size="6.3" text-anchor="middle" font-weight="normal" fill="#333">10<tspan dy="-2.83" font-size="3.91">3</tspan><tspan dy="2.83">​</tspan></text>
<line x1="464.2" y1="167.5" x2="465.4" y2="167.5" stroke="#777" stroke-width="0.6"/>
<text x="455.8" y="169.9" font-size="6.3" text-anchor="middle" font-weight="normal" fill="#333">10<tspan dy="-2.83" font-size="3.91">2</tspan><tspan dy="2.83">​</tspan></text>
<line x1="464.2" y1="176.8" x2="465.4" y2="176.8" stroke="#777" stroke-width="0.6"/>
<text x="455.8" y="179.2" font-size="6.3" text-anchor="middle" font-weight="normal" fill="#333">10<tspan dy="-2.83" font-size="3.91">1</tspan><tspan dy="2.83">​</tspan></text>
<line x1="465.9" y1="177.8" x2="465.9" y2="179.2" stroke="#777" stroke-width="0.6"/>
<text x="465.9" y="188.6" font-size="6.3" text-anchor="middle" font-weight="normal" fill="#333">10<tspan dy="-2.83" font-size="3.91">1</tspan><tspan dy="2.83">​</tspan></text>
<line x1="476.9" y1="177.8" x2="476.9" y2="179.2" stroke="#777" stroke-width="0.6"/>
<text x="476.9" y="188.6" font-size="6.3" text-anchor="middle" font-weight="normal" fill="#333">10<tspan dy="-2.83" font-size="3.91">2</tspan><tspan dy="2.83">​</tspan></text>
<line x1="487.9" y1="177.8" x2="487.9" y2="179.2" stroke="#777" stroke-width="0.6"/>
<text x="487.9" y="188.6" font-size="6.3" text-anchor="middle" font-weight="normal" fill="#333">10<tspan dy="-2.83" font-size="3.91">3</tspan><tspan dy="2.83">​</tspan></text>
<line x1="498.9" y1="177.8" x2="498.9" y2="179.2" stroke="#777" stroke-width="0.6"/>
<text x="498.9" y="188.6" font-size="6.3" text-anchor="middle" font-weight="normal" fill="#333">10<tspan dy="-2.83" font-size="3.91">4</tspan><tspan dy="2.83">​</tspan></text>
<line x1="509.9" y1="177.8" x2="509.9" y2="179.2" stroke="#777" stroke-width="0.6"/>
<text x="509.9" y="188.6" font-size="6.3" text-anchor="middle" font-weight="normal" fill="#333">10<tspan dy="-2.83" font-size="3.91">5</tspan><tspan dy="2.83">​</tspan></text>
<text x="488.6" y="198.6" font-size="7.4" text-anchor="middle" font-weight="normal" fill="#333">CD 81 PE Cy7</text>
<text x="446.7" y="157.3" font-size="7.4" text-anchor="middle" font-weight="normal" fill="#333" transform="rotate(-90 446.7 157.3)">CD 9 APC Cy7</text>
<g filter="url(#b05)">
<path d="M557.4 146.8 L570 147.3 C578 147.8 578 151.8 L557.4 151.8 Z" fill="url(#tailg)" stroke="none" stroke-width="0.8"/>
<rect x="549.9" y="138.8" width="22" height="13" fill="#8090ff" stroke="none" stroke-width="0.8" opacity="0.35"/>
<rect x="550.2" y="139.3" width="11.5" height="12.5" fill="#5062ff" stroke="none" stroke-width="0.8" opacity="0.75"/>
<rect x="555.6" y="139.3" width="6" height="12.5" fill="#0810f0" stroke="none" stroke-width="0.8"/>
<path d="M550.4 146.8 L562.4 147.3 C570.4 148.3 572.4 151.8 L550.4 151.8 Z" fill="#0810f0" stroke="none" stroke-width="0.8"/>
</g>
<ellipse cx="556.5" cy="149.6" rx="6" ry="2.6" fill="#00b8ff" filter="url(#b05)"/>
<ellipse cx="556.7" cy="149.8" rx="4.4" ry="2" fill="#22e05a" filter="url(#b05)"/>
<ellipse cx="557" cy="150.1" rx="2.6" ry="1.3" fill="#f4c010" filter="url(#b03)"/>
<ellipse cx="557.2" cy="150.2" rx="1.4" ry="0.9" fill="#ee2a10" filter="url(#b03)"/>
<path d="M560.8 150h0M568.4 143.6h0M560.4 150.2h0M572.8 144.1h0M570.7 151h0M565.6 147.7h0M563.7 144h0M578.6 149.1h0M565 143.1h0M562.5 148.1h0M572.1 144.9h0M565.3 148.1h0M577.1 150h0M574.2 144.2h0M562 149.3h0M570 149.2h0M561.7 150h0M568.3 150.3h0M580.8 147h0M560.8 150.9h0M571.6 150.6h0M566.7 144.1h0M580 145.8h0M564.3 145.8h0M574.4 142.3h0M572.7 146.5h0M572.6 143.4h0M577.3 150.1h0M580.8 145.3h0M577.2 145.9h0" stroke="#5b6cff" stroke-width="0.7" stroke-linecap="round" opacity="0.6"/>
<rect x="548.4" y="128.3" width="51.3" height="50.9" fill="none" stroke="#9a9a9a" stroke-width="0.7"/>
<rect x="567.7" y="133.7" width="25" height="24.5" fill="none" stroke="#808080" stroke-width="0.75"/>
<text x="582.8" y="172.7" font-size="8.2" text-anchor="middle" font-weight="normal" fill="#333">0.47 %</text>
<line x1="548.6" y1="133" x2="550" y2="133" stroke="#777" stroke-width="0.6"/>
<text x="541.4" y="135.4" font-size="6.3" text-anchor="middle" font-weight="normal" fill="#333">10<tspan dy="-2.83" font-size="3.91">5</tspan><tspan dy="2.83">​</tspan></text>
<line x1="548.6" y1="143.1" x2="550" y2="143.1" stroke="#777" stroke-width="0.6"/>
<text x="541.4" y="145.5" font-size="6.3" text-anchor="middle" font-weight="normal" fill="#333">10<tspan dy="-2.83" font-size="3.91">4</tspan><tspan dy="2.83">​</tspan></text>
<line x1="548.6" y1="153.2" x2="550" y2="153.2" stroke="#777" stroke-width="0.6"/>
<text x="541.4" y="155.6" font-size="6.3" text-anchor="middle" font-weight="normal" fill="#333">10<tspan dy="-2.83" font-size="3.91">3</tspan><tspan dy="2.83">​</tspan></text>
<line x1="548.6" y1="163.3" x2="550" y2="163.3" stroke="#777" stroke-width="0.6"/>
<text x="541.4" y="165.7" font-size="6.3" text-anchor="middle" font-weight="normal" fill="#333">10<tspan dy="-2.83" font-size="3.91">2</tspan><tspan dy="2.83">​</tspan></text>
<line x1="548.6" y1="173.4" x2="550" y2="173.4" stroke="#777" stroke-width="0.6"/>
<text x="541.4" y="175.8" font-size="6.3" text-anchor="middle" font-weight="normal" fill="#333">10<tspan dy="-2.83" font-size="3.91">1</tspan><tspan dy="2.83">​</tspan></text>
<line x1="554" y1="177.8" x2="554" y2="179.2" stroke="#777" stroke-width="0.6"/>
<text x="554" y="188.6" font-size="6.3" text-anchor="middle" font-weight="normal" fill="#333">10<tspan dy="-2.83" font-size="3.91">1</tspan><tspan dy="2.83">​</tspan></text>
<line x1="564.2" y1="177.8" x2="564.2" y2="179.2" stroke="#777" stroke-width="0.6"/>
<text x="564.2" y="188.6" font-size="6.3" text-anchor="middle" font-weight="normal" fill="#333">10<tspan dy="-2.83" font-size="3.91">2</tspan><tspan dy="2.83">​</tspan></text>
<line x1="574.4" y1="177.8" x2="574.4" y2="179.2" stroke="#777" stroke-width="0.6"/>
<text x="574.4" y="188.6" font-size="6.3" text-anchor="middle" font-weight="normal" fill="#333">10<tspan dy="-2.83" font-size="3.91">3</tspan><tspan dy="2.83">​</tspan></text>
<line x1="584.6" y1="177.8" x2="584.6" y2="179.2" stroke="#777" stroke-width="0.6"/>
<text x="584.6" y="188.6" font-size="6.3" text-anchor="middle" font-weight="normal" fill="#333">10<tspan dy="-2.83" font-size="3.91">4</tspan><tspan dy="2.83">​</tspan></text>
<line x1="594.8" y1="177.8" x2="594.8" y2="179.2" stroke="#777" stroke-width="0.6"/>
<text x="594.8" y="188.6" font-size="6.3" text-anchor="middle" font-weight="normal" fill="#333">10<tspan dy="-2.83" font-size="3.91">5</tspan><tspan dy="2.83">​</tspan></text>
<text x="572.6" y="198.6" font-size="7.4" text-anchor="middle" font-weight="normal" fill="#333">CFSE</text>
<text x="532.6" y="156.3" font-size="7.4" text-anchor="middle" font-weight="normal" fill="#333" transform="rotate(-90 532.6 156.3)">SSC</text>
<clipPath id="cp568"><rect x="632" y="127.8" width="51.8" height="50.7"/></clipPath>
<g clip-path="url(#cp568)">
<path d="M648 165.2h0M644.9 170.7h0M640.9 161.4h0M646 161.3h0M645.2 173.5h0M646.8 165.5h0M647.7 167.1h0M647.2 165.5h0M645.3 169.3h0M648.4 165.4h0M646.4 161.8h0M643.8 160.3h0M645.3 170.4h0M649.3 165h0M645.1 167.9h0M648.2 162.6h0M645.9 167.6h0M647.9 168h0M648.7 166.4h0M644.7 160.4h0M643.9 168.3h0M650.4 168.1h0M644.8 159.8h0M648.5 162h0M645.4 170.4h0M644.2 163.9h0M647.7 163.5h0M648.5 170.9h0M645.3 170.2h0M643.2 165.8h0M645.1 157.2h0M645.1 167.4h0M645 161.2h0M647.8 162.6h0M648.5 168.3h0M647.2 164.5h0M645.9 170.6h0M651.6 166.5h0M639.4 161.3h0M642.1 170.2h0M642 169.7h0M646.8 164.7h0M650.1 164.6h0M649.4 169.2h0M644.1 165.2h0M649.3 158h0M648.7 164.6h0M648.2 164.2h0M644.8 158.6h0M642 162.7h0M645.7 161.3h0M646.6 166.2h0M647.1 167h0M647.6 163h0M647.2 165.3h0M647.1 159.3h0M644.4 162h0M643.6 163.9h0M644.4 164.3h0M642.9 161h0M644.8 162.5h0M646.4 165.3h0M647.9 162.1h0M645.7 164.8h0M645.7 161.4h0M650.4 165.5h0M649.5 162.6h0M646 167.9h0M645.7 165.5h0M644.3 171.1h0M648.2 164.1h0M646.3 162.6h0M647.9 165.1h0M644.6 166.5h0M652.9 165.1h0M644.3 163.6h0M648.1 163.2h0M642.4 168.7h0M641.7 160h0M645.4 165h0M641.2 159.7h0M646.7 163.4h0M639.9 169.7h0M650 170.6h0M646 162h0M644.2 169.3h0M645.1 160.3h0M648.3 168.3h0M643.2 162.6h0M648 160.3h0" stroke="#4455ff" stroke-width="0.9" stroke-linecap="round" opacity="0.5"/>
<ellipse cx="646.4" cy="165.2" rx="3.4" ry="4" fill="#3344dd" opacity="0.45" filter="url(#b07)"/>
<path d="M660.7 150.9h0M663.6 148.4h0M668.6 144.3h0M663.4 148.6h0M661.6 150.2h0M675.5 138.5h0M677.4 137h0M666.9 145.7h0M665.2 147.1h0M657.4 153.6h0M661 150.6h0M656.2 154.6h0" stroke="#6a7aff" stroke-width="0.7" stroke-linecap="round" opacity="0.5"/>
</g>
<rect x="632" y="127.8" width="51.8" height="50.7" fill="none" stroke="#9a9a9a" stroke-width="0.7"/>
<line x1="646.9" y1="127.8" x2="646.9" y2="178.5" stroke="#5a5a5a" stroke-width="0.75"/>
<line x1="632" y1="162.2" x2="683.8" y2="162.2" stroke="#5a5a5a" stroke-width="0.75"/>
<line x1="632.5" y1="176.5" x2="632.5" y2="178.5" stroke="#333" stroke-width="0.9"/>
<line x1="632.2" y1="132.5" x2="633.4" y2="132.5" stroke="#777" stroke-width="0.6"/>
<text x="623.8" y="134.9" font-size="6.3" text-anchor="middle" font-weight="normal" fill="#333">10<tspan dy="-2.83" font-size="3.91">5</tspan><tspan dy="2.83">​</tspan></text>
<line x1="632.2" y1="144.7" x2="633.4" y2="144.7" stroke="#777" stroke-width="0.6"/>
<text x="623.8" y="147.1" font-size="6.3" text-anchor="middle" font-weight="normal" fill="#333">10<tspan dy="-2.83" font-size="3.91">4</tspan><tspan dy="2.83">​</tspan></text>
<line x1="632.2" y1="156.4" x2="633.4" y2="156.4" stroke="#777" stroke-width="0.6"/>
<text x="623.8" y="158.8" font-size="6.3" text-anchor="middle" font-weight="normal" fill="#333">10<tspan dy="-2.83" font-size="3.91">3</tspan><tspan dy="2.83">​</tspan></text>
<line x1="632.2" y1="167.5" x2="633.4" y2="167.5" stroke="#777" stroke-width="0.6"/>
<text x="623.8" y="169.9" font-size="6.3" text-anchor="middle" font-weight="normal" fill="#333">10<tspan dy="-2.83" font-size="3.91">2</tspan><tspan dy="2.83">​</tspan></text>
<line x1="632.2" y1="176.8" x2="633.4" y2="176.8" stroke="#777" stroke-width="0.6"/>
<text x="623.8" y="179.2" font-size="6.3" text-anchor="middle" font-weight="normal" fill="#333">10<tspan dy="-2.83" font-size="3.91">1</tspan><tspan dy="2.83">​</tspan></text>
<line x1="633.9" y1="177.1" x2="633.9" y2="178.5" stroke="#777" stroke-width="0.6"/>
<text x="633.9" y="187.9" font-size="6.3" text-anchor="middle" font-weight="normal" fill="#333">10<tspan dy="-2.83" font-size="3.91">1</tspan><tspan dy="2.83">​</tspan></text>
<line x1="644.9" y1="177.1" x2="644.9" y2="178.5" stroke="#777" stroke-width="0.6"/>
<text x="644.9" y="187.9" font-size="6.3" text-anchor="middle" font-weight="normal" fill="#333">10<tspan dy="-2.83" font-size="3.91">2</tspan><tspan dy="2.83">​</tspan></text>
<line x1="655.9" y1="177.1" x2="655.9" y2="178.5" stroke="#777" stroke-width="0.6"/>
<text x="655.9" y="187.9" font-size="6.3" text-anchor="middle" font-weight="normal" fill="#333">10<tspan dy="-2.83" font-size="3.91">3</tspan><tspan dy="2.83">​</tspan></text>
<line x1="666.9" y1="177.1" x2="666.9" y2="178.5" stroke="#777" stroke-width="0.6"/>
<text x="666.9" y="187.9" font-size="6.3" text-anchor="middle" font-weight="normal" fill="#333">10<tspan dy="-2.83" font-size="3.91">4</tspan><tspan dy="2.83">​</tspan></text>
<line x1="677.9" y1="177.1" x2="677.9" y2="178.5" stroke="#777" stroke-width="0.6"/>
<text x="677.9" y="187.9" font-size="6.3" text-anchor="middle" font-weight="normal" fill="#333">10<tspan dy="-2.83" font-size="3.91">5</tspan><tspan dy="2.83">​</tspan></text>
<text x="656.6" y="197.9" font-size="7.4" text-anchor="middle" font-weight="normal" fill="#333">CD 81 PE Cy7</text>
<text x="614.7" y="157.3" font-size="7.4" text-anchor="middle" font-weight="normal" fill="#333" transform="rotate(-90 614.7 157.3)">CD 9 APC Cy7</text>
<line x1="30.7" y1="195.5" x2="30.7" y2="217.7" stroke="#3d5573" stroke-width="1.3"/>
<line x1="30.1" y1="217.7" x2="150.5" y2="217.7" stroke="#3d5573" stroke-width="1.3"/>
<path d="M28 197.8 L30.7 192.8 L33.4 197.8 Z" fill="#3d5573" stroke="none" stroke-width="0.8"/>
<path d="M149.5 215 L154.5 217.7 L149.5 220.4 Z" fill="#3d5573" stroke="none" stroke-width="0.8"/>
<text x="37.6" y="213.6" font-size="9.5" text-anchor="start" font-weight="normal" fill="#333">Anti-CD63 MNP isolation</text>
<text x="1.8" y="238.2" font-size="13.5" text-anchor="start" font-weight="bold" fill="#111" stroke="#111" stroke-width="0.35">b</text>
<circle cx="46.9" cy="251.2" r="5" fill="#a6a6a6" stroke="#444" stroke-width="0.8"/>
<text x="56.6" y="254.5" font-size="9.6" text-anchor="start" font-weight="normal" fill="#333">Untreated</text>
<circle cx="117.9" cy="251.2" r="5" fill="#7b83ef" stroke="#444" stroke-width="0.8"/>
<text x="128.4" y="254.5" font-size="9.6" text-anchor="start" font-weight="normal" fill="#333">Exo<tspan dy="-3.8" font-size="5.9">C2C12</tspan><tspan dy="3.8"> i.v.</tspan></text>
<circle cx="196.6" cy="251.2" r="5" fill="#0a2ee6" stroke="#444" stroke-width="0.8"/>
<text x="206.4" y="254.5" font-size="9.6" text-anchor="start" font-weight="normal" fill="#333">Exo<tspan dy="-3.8" font-size="5.9">C2C12</tspan><tspan dy="3.8"> i.m.</tspan></text>
<circle cx="285.3" cy="251.2" r="5" fill="#6ff2cc" stroke="#444" stroke-width="0.8"/>
<text x="295.8" y="254.5" font-size="9.6" text-anchor="start" font-weight="normal" fill="#333">Exo<tspan dy="-3.7" font-size="6.7">myo</tspan><tspan dy="3.7"> i.v.</tspan></text>
<circle cx="358.8" cy="251.2" r="5" fill="#0b8a14" stroke="#444" stroke-width="0.8"/>
<text x="369.2" y="254.5" font-size="9.6" text-anchor="start" font-weight="normal" fill="#333">Exo<tspan dy="-3.7" font-size="6.7">myo</tspan><tspan dy="3.7"> i.m.</tspan></text>
<text x="11.8" y="281.2" font-size="8.6" text-anchor="start" font-weight="normal" fill="#2b2b2b">H&amp;E</text>
<text x="64.8" y="282.4" font-size="8.8" text-anchor="start" font-weight="normal" fill="#2b2b2b">Exo<tspan dy="-3.5" font-size="6.3">C2C12</tspan><tspan dy="3.5">​</tspan></text>
<text x="49.5" y="293.3" font-size="8.6" text-anchor="middle" font-weight="normal" fill="#2b2b2b">i.m.</text>
<text x="108.3" y="293.3" font-size="8.6" text-anchor="middle" font-weight="normal" fill="#2b2b2b">i.v.</text>
<text x="188" y="283.3" font-size="8.8" text-anchor="start" font-weight="normal" fill="#2b2b2b">Exo<tspan dy="-3.5" font-size="6.3">myo</tspan><tspan dy="3.5">​</tspan></text>
<text x="173.5" y="294.3" font-size="8.6" text-anchor="middle" font-weight="normal" fill="#2b2b2b">i.m.</text>
<text x="227.3" y="294.3" font-size="8.6" text-anchor="middle" font-weight="normal" fill="#2b2b2b">i.v.</text>
<line x1="16.7" y1="294" x2="16.7" y2="345.7" stroke="#6a6a6a" stroke-width="1"/>
<text x="12.9" y="316.5" font-size="8.6" text-anchor="middle" font-weight="normal" fill="#2b2b2b" transform="rotate(-90 12.9 316.5)">21 days</text>
<rect x="27.5" y="349.6" width="7" height="2.4" fill="#111" stroke="none" stroke-width="0.8" rx="1"/>
<path d="M31 305.5 C40 302.5 52 302 61.7 300.8 L61 306 C62 310 63.5 313 64.3 315.5 C67 317.5 70 318 72.5 319 C75 319.5 77.5 320.5 77.6 321.8 C77 323.2 74 323.6 72 324.5 C69.5 328 68 331 67.8 333 C66 337 64.5 341 64.3 344 L63.6 352 L57.3 352 C50 350 44 347 40.5 344 C35 339 31.5 333 30 327 C28.6 320 28.8 313 31 305.5 Z" fill="url(#he1)" stroke="none" stroke-width="0.8"/>
<line x1="57.6" y1="307" x2="57" y2="333" stroke="#f0d0e0" stroke-width="0.6" stroke-dasharray="2 1"/>
<path d="M94 306.3 C99 302 104 299.5 108 298.4 L123.9 302.8 L124.8 313.3 L119.5 315.5 C118 319 118.5 324 120 327.5 L122 332.6 C124.5 340 127.5 347 130 353.6 L126 362 L122 367.6 L114 366.5 L108 364 C101 358 95 352 92.3 346.6 C88 339 84.5 333 83.6 329 C83 322 83.5 318 85.3 315 C88 311 91 308.5 94 306.3 Z" fill="url(#he1)" stroke="none" stroke-width="0.8"/>
<path d="M96.7 332.6 L113.4 322" fill="none" stroke="#f4dde8" stroke-width="0.8" stroke-dasharray="2.5 1.2"/>
<path d="M152 315 C158 310 168 307.8 178 308.3 C190 309 198 314 201.5 322 C204 330 203.5 340 199 347 C193 353.5 184 355.5 173 354.5 C162 353.5 153.5 349 150.5 342 C148 335 148 327 149.5 320 Z" fill="url(#he2)" stroke="none" stroke-width="0.8"/>
<path d="M172 312 C171 320 170 326 168 333 C165 338 160 341 156 343" fill="none" stroke="#f1d8e4" stroke-width="0.8"/>
<path d="M173 322 C175 330 176 336 176 345" fill="none" stroke="#f1d8e4" stroke-width="0.6"/>
<path d="M221 310 C228 306 236 302.5 244.8 299.4 L251.5 304 L253.4 315.5 C252 325 250 331 247.7 336.4 C243 342 239 346 236.3 349.7 L233.4 361 L226.8 366.8 L219.2 361 C214 355 211 350 209.7 346 C207.5 340 206.5 335 206.9 330.7 C207.5 325 208.3 321 209.7 317.4 C213 313.5 217 311.5 221 310 Z" fill="url(#he3)" stroke="none" stroke-width="0.8"/>
<line x1="324.4" y1="274.5" x2="324.4" y2="347.6" stroke="#3a3a3a" stroke-width="0.8"/>
<line x1="324.4" y1="347.6" x2="450.5" y2="347.6" stroke="#3a3a3a" stroke-width="0.8"/>
<line x1="321.9" y1="347.6" x2="324.4" y2="347.6" stroke="#3a3a3a" stroke-width="0.8"/>
<text x="316.8" y="350.8" font-size="8.8" text-anchor="end" font-weight="normal" fill="#2b2b2b">0</text>
<line x1="321.9" y1="323.23" x2="324.4" y2="323.23" stroke="#3a3a3a" stroke-width="0.8"/>
<text x="316.8" y="326.43" font-size="8.8" text-anchor="end" font-weight="normal" fill="#2b2b2b">20</text>
<line x1="321.9" y1="298.87" x2="324.4" y2="298.87" stroke="#3a3a3a" stroke-width="0.8"/>
<text x="316.8" y="302.07" font-size="8.8" text-anchor="end" font-weight="normal" fill="#2b2b2b">40</text>
<line x1="321.9" y1="274.5" x2="324.4" y2="274.5" stroke="#3a3a3a" stroke-width="0.8"/>
<text x="316.8" y="277.7" font-size="8.8" text-anchor="end" font-weight="normal" fill="#2b2b2b">60</text>
<line x1="324.4" y1="347.6" x2="324.4" y2="350.1" stroke="#3a3a3a" stroke-width="0.8"/>
<text x="327" y="358.1" font-size="8.8" text-anchor="end" font-weight="normal" fill="#2b2b2b" transform="rotate(-45 327 358.1)">0</text>
<line x1="349.6" y1="347.6" x2="349.6" y2="350.1" stroke="#3a3a3a" stroke-width="0.8"/>
<text x="352.2" y="358.1" font-size="8.8" text-anchor="end" font-weight="normal" fill="#2b2b2b" transform="rotate(-45 352.2 358.1)">2,000</text>
<line x1="374.8" y1="347.6" x2="374.8" y2="350.1" stroke="#3a3a3a" stroke-width="0.8"/>
<text x="377.4" y="358.1" font-size="8.8" text-anchor="end" font-weight="normal" fill="#2b2b2b" transform="rotate(-45 377.4 358.1)">4,000</text>
<line x1="400" y1="347.6" x2="400" y2="350.1" stroke="#3a3a3a" stroke-width="0.8"/>
<text x="402.6" y="358.1" font-size="8.8" text-anchor="end" font-weight="normal" fill="#2b2b2b" transform="rotate(-45 402.6 358.1)">6,000</text>
<line x1="425.2" y1="347.6" x2="425.2" y2="350.1" stroke="#3a3a3a" stroke-width="0.8"/>
<text x="427.8" y="358.1" font-size="8.8" text-anchor="end" font-weight="normal" fill="#2b2b2b" transform="rotate(-45 427.8 358.1)">8,000</text>
<line x1="450.4" y1="347.6" x2="450.4" y2="350.1" stroke="#3a3a3a" stroke-width="0.8"/>
<text x="453" y="358.1" font-size="8.8" text-anchor="end" font-weight="normal" fill="#2b2b2b" transform="rotate(-45 453 358.1)">10,000</text>
<text x="289.4" y="310.8" font-size="9.2" text-anchor="middle" font-weight="normal" fill="#2b2b2b" transform="rotate(-90 289.4 310.8)" textLength="32.5" lengthAdjust="spacingAndGlyphs">Relative</text>
<text x="300.4" y="310.8" font-size="9.2" text-anchor="middle" font-weight="normal" fill="#2b2b2b" transform="rotate(-90 300.4 310.8)" textLength="58" lengthAdjust="spacingAndGlyphs">frequency (%)</text>
<polyline points="324.4,326.89 337,296.43 349.6,318.36 362.2,334.2 374.8,342.73 387.4,345.89 400,346.99 412.6,347.36 425.2,347.6 437.8,347.6 450.4,347.6" fill="none" stroke="#a6a6a6" stroke-width="1.1" stroke-linejoin="round"/>
<polyline points="324.4,323.23 337,289.12 349.6,318.36 362.2,339.07 374.8,346.38 387.4,347.23 400,347.6 412.6,347.6 425.2,347.6 437.8,347.6 450.4,347.6" fill="none" stroke="#6ff2cc" stroke-width="1.1" stroke-linejoin="round"/>
<polyline points="324.4,328.11 337,286.68 349.6,317.14 362.2,334.2 374.8,342.73 387.4,345.77 400,346.99 412.6,347.36 425.2,347.6 437.8,347.6 450.4,347.6" fill="none" stroke="#7b83ef" stroke-width="1.1" stroke-linejoin="round"/>
<polyline points="324.4,330.54 337,306.18 349.6,318.36 362.2,330.54 374.8,339.07 387.4,343.95 400,346.14 412.6,346.99 425.2,347.36 437.8,347.6 450.4,347.6" fill="none" stroke="#0a2ee6" stroke-width="1.1" stroke-linejoin="round"/>
<polyline points="324.4,335.42 337,315.92 349.6,319.58 362.2,326.89 374.8,332.98 387.4,340.29 400,343.95 412.6,346.38 425.2,347.23 437.8,347.48 450.4,347.6" fill="none" stroke="#0b8a14" stroke-width="1.1" stroke-linejoin="round"/>
<line x1="515.6" y1="284.1" x2="515.6" y2="347.3" stroke="#3a3a3a" stroke-width="0.8"/>
<line x1="515.6" y1="347.3" x2="633" y2="347.3" stroke="#3a3a3a" stroke-width="0.8"/>
<line x1="513.1" y1="284.45" x2="515.6" y2="284.45" stroke="#3a3a3a" stroke-width="0.8"/>
<text x="509.1" y="287.65" font-size="8.8" text-anchor="end" font-weight="normal" fill="#2b2b2b">15,000</text>
<line x1="513.1" y1="300.2" x2="515.6" y2="300.2" stroke="#3a3a3a" stroke-width="0.8"/>
<text x="509.1" y="303.4" font-size="8.8" text-anchor="end" font-weight="normal" fill="#2b2b2b">10,000</text>
<line x1="513.1" y1="315.95" x2="515.6" y2="315.95" stroke="#3a3a3a" stroke-width="0.8"/>
<text x="509.1" y="319.15" font-size="8.8" text-anchor="end" font-weight="normal" fill="#2b2b2b">5,000</text>
<line x1="513.1" y1="331.7" x2="515.6" y2="331.7" stroke="#3a3a3a" stroke-width="0.8"/>
<text x="509.1" y="334.9" font-size="8.8" text-anchor="end" font-weight="normal" fill="#2b2b2b">0</text>
<line x1="513.1" y1="347.45" x2="515.6" y2="347.45" stroke="#3a3a3a" stroke-width="0.8"/>
<text x="509.1" y="350.65" font-size="8.8" text-anchor="end" font-weight="normal" fill="#2b2b2b">−5,000</text>
<text x="475" y="316.2" font-size="9.2" text-anchor="middle" font-weight="normal" fill="#2b2b2b" transform="rotate(-90 475 316.2)" textLength="43.5" lengthAdjust="spacingAndGlyphs">CSA (μm<tspan dy="-3.2" font-size="6">2</tspan><tspan dy="3.2">)</tspan></text>
<path d="M532.3 306 L532 318 Q530.7 325 525 327.5 Q524.62 328.7 527.28 329.7 Q529.18 331.8 531.08 332.1 L534.12 332.1 Q536.02 331.8 537.92 329.7 Q540.58 328.7 540.2 327.5 Q534.5 325 533.2 318 L532.9 306 Z" fill="#a6a6a6" stroke="#111" stroke-width="0.6"/>
<line x1="529.1" y1="324.5" x2="536.1" y2="324.5" stroke="#111" stroke-width="0.7"/>
<line x1="526.8" y1="326.5" x2="538.4" y2="326.5" stroke="#111" stroke-width="0.7"/>
<line x1="525.8" y1="328.6" x2="539.4" y2="328.6" stroke="#111" stroke-width="0.7"/>
<line x1="528.1" y1="330.5" x2="537.1" y2="330.5" stroke="#111" stroke-width="0.7"/>
<path d="M553.3 303 L553 319 Q551.7 326.3 546 328.8 Q545.62 330 548.28 331 Q550.18 331.8 552.08 332.1 L555.12 332.1 Q557.02 331.8 558.92 331 Q561.58 330 561.2 328.8 Q555.5 326.3 554.2 319 L553.9 303 Z" fill="#7b83ef" stroke="#111" stroke-width="0.6"/>
<line x1="549.6" y1="327.2" x2="557.6" y2="327.2" stroke="#111" stroke-width="0.7"/>
<line x1="547" y1="329.2" x2="560.2" y2="329.2" stroke="#111" stroke-width="0.7"/>
<line x1="550.1" y1="331" x2="557.1" y2="331" stroke="#111" stroke-width="0.7"/>
<path d="M574.2 301 L573.9 312 Q572.35 326.1 565.9 328.6 Q565.47 329.8 568.48 330.8 Q570.63 332.8 572.78 333.1 L576.22 333.1 Q578.37 332.8 580.52 330.8 Q583.53 329.8 583.1 328.6 Q576.65 326.1 575.1 312 L574.8 301 Z" fill="#0a2ee6" stroke="#111" stroke-width="0.6"/>
<line x1="571.9" y1="322.5" x2="577.1" y2="322.5" stroke="#111" stroke-width="0.7"/>
<line x1="568.3" y1="327" x2="580.7" y2="327" stroke="#111" stroke-width="0.7"/>
<line x1="568" y1="330.6" x2="581" y2="330.6" stroke="#111" stroke-width="0.7"/>
<path d="M595.1 302 L594.8 318 Q593.4 326.1 587.4 328.6 Q587 329.8 589.8 330.8 Q591.8 331.8 593.8 332.1 L597 332.1 Q599 331.8 601 330.8 Q603.8 329.8 603.4 328.6 Q597.4 326.1 596 318 L595.7 302 Z" fill="#6ff2cc" stroke="#111" stroke-width="0.6"/>
<line x1="591.4" y1="326.4" x2="599.4" y2="326.4" stroke="#111" stroke-width="0.7"/>
<line x1="588.4" y1="328.6" x2="602.4" y2="328.6" stroke="#111" stroke-width="0.7"/>
<line x1="590.9" y1="330.5" x2="599.9" y2="330.5" stroke="#111" stroke-width="0.7"/>
<path d="M616 300 L615.7 311 Q614.15 325 607.7 327.5 Q607.27 328.7 610.28 329.7 Q612.43 333 614.58 333.3 L618.02 333.3 Q620.17 333 622.32 329.7 Q625.33 328.7 624.9 327.5 Q618.45 325 616.9 311 L616.6 300 Z" fill="#0b8a14" stroke="#111" stroke-width="0.6"/>
<line x1="614.1" y1="320" x2="618.5" y2="320" stroke="#111" stroke-width="0.7"/>
<line x1="611.3" y1="324.5" x2="621.3" y2="324.5" stroke="#111" stroke-width="0.7"/>
<line x1="609.1" y1="329.5" x2="623.5" y2="329.5" stroke="#111" stroke-width="0.7"/>
<path d="M532.5 235.5 V228.2 H616.8 V259.6" fill="none" stroke="#555" stroke-width="0.7"/>
<text x="574.6" y="225.3" font-size="7.4" text-anchor="middle" font-weight="normal" fill="#444" textLength="31.3" lengthAdjust="spacingAndGlyphs"><tspan font-style="italic">P</tspan> &lt; 0.0001</text>
<path d="M532.5 264.4 V241.5 H595.9 V246.3" fill="none" stroke="#555" stroke-width="0.7"/>
<text x="564.3" y="237.4" font-size="7.4" text-anchor="middle" font-weight="normal" fill="#444" textLength="31.3" lengthAdjust="spacingAndGlyphs"><tspan font-style="italic">P</tspan> &lt; 0.0001</text>
<path d="M553.7 259.6 V256.4 H595.9 V259.6" fill="none" stroke="#555" stroke-width="0.7"/>
<text x="574.6" y="252.5" font-size="7.4" text-anchor="middle" font-weight="normal" fill="#444" textLength="31.3" lengthAdjust="spacingAndGlyphs"><tspan font-style="italic">P</tspan> &lt; 0.0001</text>
<path d="M532.5 298 V274 H572.5 V277.6" fill="none" stroke="#555" stroke-width="0.7"/>
<text x="552.8" y="270.2" font-size="7.4" text-anchor="middle" font-weight="normal" fill="#444" textLength="31.3" lengthAdjust="spacingAndGlyphs"><tspan font-style="italic">P</tspan> &lt; 0.0001</text>
<path d="M576.6 278.8 V274 H616.8 V278.8" fill="none" stroke="#555" stroke-width="0.7"/>
<text x="596.4" y="270.2" font-size="7.4" text-anchor="middle" font-weight="normal" fill="#444" textLength="31.3" lengthAdjust="spacingAndGlyphs"><tspan font-style="italic">P</tspan> &lt; 0.0001</text>
<path d="M553.7 296.9 V292.6 H574.4 V296.9" fill="none" stroke="#555" stroke-width="0.7"/>
<text x="564.3" y="288.6" font-size="7.4" text-anchor="middle" font-weight="normal" fill="#444" textLength="31.3" lengthAdjust="spacingAndGlyphs"><tspan font-style="italic">P</tspan> &lt; 0.0001</text>
<path d="M595.4 296.9 V292.6 H616.8 V296.9" fill="none" stroke="#555" stroke-width="0.7"/>
<text x="606" y="288.6" font-size="7.4" text-anchor="middle" font-weight="normal" fill="#444" textLength="31.3" lengthAdjust="spacingAndGlyphs"><tspan font-style="italic">P</tspan> &lt; 0.0001</text>
<text x="1.6" y="392.6" font-size="13.5" text-anchor="start" font-weight="bold" fill="#111" stroke="#111" stroke-width="0.35">c</text>
<text x="9.5" y="406.2" font-size="8.6" text-anchor="start" font-weight="normal" fill="#2b2b2b">SDH</text>
<text x="64.5" y="406.2" font-size="8.8" text-anchor="start" font-weight="normal" fill="#2b2b2b">Exo<tspan dy="-3.5" font-size="6.3">C2C12</tspan><tspan dy="3.5">​</tspan></text>
<text x="49.2" y="416.6" font-size="8.6" text-anchor="middle" font-weight="normal" fill="#2b2b2b">i.m.</text>
<text x="103.7" y="416.6" font-size="8.6" text-anchor="middle" font-weight="normal" fill="#2b2b2b">i.v.</text>
<text x="187.9" y="406.8" font-size="8.8" text-anchor="start" font-weight="normal" fill="#2b2b2b">Exo<tspan dy="-3.5" font-size="6.3">myo</tspan><tspan dy="3.5">​</tspan></text>
<text x="164.3" y="416.9" font-size="8.6" text-anchor="middle" font-weight="normal" fill="#2b2b2b">i.m.</text>
<text x="215.6" y="416.9" font-size="8.6" text-anchor="middle" font-weight="normal" fill="#2b2b2b">i.v.</text>
<line x1="16.1" y1="422.2" x2="16.1" y2="464.9" stroke="#6a6a6a" stroke-width="1"/>
<text x="13.2" y="442.5" font-size="8.6" text-anchor="middle" font-weight="normal" fill="#2b2b2b" transform="rotate(-90 13.2 442.5)">21 days</text>
<rect x="28" y="467.5" width="7" height="2.6" fill="#111" stroke="none" stroke-width="0.8" rx="1"/>
<path d="M47.5 427.7 C52 424.5 60 422.3 68.4 421.8 L72.5 424 L73.4 426 C73.6 440 73.6 460 73.4 474 L69 479 L62 480.7 C57 480 52 479 49 477.4 C44 472 40.5 467 39.5 463 C36.5 458 35.3 454 35.4 450 C35.5 445 36.5 440.5 37.8 437.3 C40.5 433 44 430 47.5 427.7 Z" fill="url(#sdh1)" stroke="none" stroke-width="0.8"/>
<line x1="37" y1="437" x2="73" y2="437" stroke="#e6e6f2" stroke-width="0.5"/>
<line x1="36" y1="455" x2="73" y2="455" stroke="#e6e6f2" stroke-width="0.5"/>
<clipPath id="t2c"><path d="M97.3 426 C101 423.5 105 422 108.5 421.8 C114 422.5 119 424.8 121.4 427.7 C124 430 125.5 433 125.4 435.7 C125 439 124.5 442 123 443.7 C121 444 119 442 117.3 439 C116.5 443 117 447 118 450 C120 455 122 459 123 463 C124.5 467 125.5 471 125.4 474.2 C123.5 478 121 481 118 482.3 C112 482.5 106 481.8 100.5 480.7 C95 476 91.5 472 89.2 467.8 C86 462 84 456 83.6 450 C83.6 444 85 439 87.6 435.7 C90.5 431.5 94 428.3 97.3 426 Z"/></clipPath>
<g clip-path="url(#t2c)">
<path d="M97.3 426 C101 423.5 105 422 108.5 421.8 C114 422.5 119 424.8 121.4 427.7 C124 430 125.5 433 125.4 435.7 C125 439 124.5 442 123 443.7 C121 444 119 442 117.3 439 C116.5 443 117 447 118 450 C120 455 122 459 123 463 C124.5 467 125.5 471 125.4 474.2 C123.5 478 121 481 118 482.3 C112 482.5 106 481.8 100.5 480.7 C95 476 91.5 472 89.2 467.8 C86 462 84 456 83.6 450 C83.6 444 85 439 87.6 435.7 C90.5 431.5 94 428.3 97.3 426 Z" fill="url(#sdh2)" stroke="none" stroke-width="0.8"/>
<line x1="84" y1="460" x2="124" y2="460" stroke="#e0e0f0" stroke-width="0.5"/>
<line x1="84" y1="474" x2="124" y2="474" stroke="#e0e0f0" stroke-width="0.5"/>
<ellipse cx="112" cy="430" rx="9" ry="5.5" fill="#2e2c90" opacity="0.35" filter="url(#b15)"/>
<ellipse cx="121.5" cy="436" rx="3" ry="5" fill="#2e2c90" opacity="0.45" filter="url(#b1)"/>
<ellipse cx="104" cy="446" rx="10" ry="6" fill="#2e2c90" opacity="0.2" filter="url(#b15)"/>
</g>
<clipPath id="t3c"><ellipse cx="171.6" cy="451.3" rx="25.8" ry="23.6"/></clipPath><g clip-path="url(#t3c)">
<ellipse cx="171.6" cy="451.3" rx="25.8" ry="23.6" fill="url(#sdh3)"/>
<ellipse cx="166" cy="464" rx="18" ry="10" fill="#3a4096" opacity="0.3" filter="url(#b15)"/>
</g>
<path d="M175 428 C174 437 171 444 166 450 C163 455 162 462 163 470" fill="none" stroke="#dcdde8" stroke-width="0.7"/>
<path d="M221.5 419.6 C223 418.8 225 419.5 225.6 421.5 L225.6 423.6 C227.5 425.5 229.5 428 230.7 430.3 C232.5 435 234 440 235.7 445.4 C237.5 450 239.5 455 240.8 460.5 C241 465 240.5 469 239 472.3 C237 475 235 476.5 232.4 476.5 C226 475 220 473 215.6 470.6 C211 467 207.5 464 205.5 460.5 C203 455 201.5 450 200.5 445.4 C199.5 442 198.8 440 198.8 438.7 C200.5 436 203 434 205.5 432 C208 430 211 428.8 213.9 427.8 C216 426.8 218.5 426 220.6 425.3 Z" fill="url(#sdh4)" stroke="none" stroke-width="0.8"/>
<line x1="299" y1="413.6" x2="299" y2="476.5" stroke="#3a3a3a" stroke-width="0.8"/>
<line x1="299" y1="476.5" x2="393.6" y2="476.5" stroke="#3a3a3a" stroke-width="0.8"/>
<line x1="296.6" y1="476.5" x2="299" y2="476.5" stroke="#3a3a3a" stroke-width="0.8"/>
<text x="290.8" y="479.3" font-size="7.7" text-anchor="end" font-weight="normal" fill="#2b2b2b">20</text>
<line x1="296.6" y1="466.02" x2="299" y2="466.02" stroke="#3a3a3a" stroke-width="0.8"/>
<text x="290.8" y="468.82" font-size="7.7" text-anchor="end" font-weight="normal" fill="#2b2b2b">40</text>
<line x1="296.6" y1="455.53" x2="299" y2="455.53" stroke="#3a3a3a" stroke-width="0.8"/>
<text x="290.8" y="458.33" font-size="7.7" text-anchor="end" font-weight="normal" fill="#2b2b2b">60</text>
<line x1="296.6" y1="445.05" x2="299" y2="445.05" stroke="#3a3a3a" stroke-width="0.8"/>
<text x="290.8" y="447.85" font-size="7.7" text-anchor="end" font-weight="normal" fill="#2b2b2b">80</text>
<line x1="296.6" y1="434.57" x2="299" y2="434.57" stroke="#3a3a3a" stroke-width="0.8"/>
<text x="290.8" y="437.37" font-size="7.7" text-anchor="end" font-weight="normal" fill="#2b2b2b">100</text>
<line x1="296.6" y1="424.08" x2="299" y2="424.08" stroke="#3a3a3a" stroke-width="0.8"/>
<text x="290.8" y="426.88" font-size="7.7" text-anchor="end" font-weight="normal" fill="#2b2b2b">120</text>
<line x1="296.6" y1="413.6" x2="299" y2="413.6" stroke="#3a3a3a" stroke-width="0.8"/>
<text x="290.8" y="416.4" font-size="7.7" text-anchor="end" font-weight="normal" fill="#2b2b2b">140</text>
<text x="270.8" y="444.6" font-size="9.2" text-anchor="middle" font-weight="normal" fill="#2b2b2b" transform="rotate(-90 270.8 444.6)" textLength="85.5" lengthAdjust="spacingAndGlyphs">SDH + myofibres (%)</text>
<circle cx="311.2" cy="451.3" r="2.15" fill="#a6a6a6" stroke="#111" stroke-width="0.45"/>
<circle cx="312.3" cy="467.4" r="2.15" fill="#a6a6a6" stroke="#111" stroke-width="0.45"/>
<circle cx="315.9" cy="454.4" r="2.15" fill="#a6a6a6" stroke="#111" stroke-width="0.45"/>
<circle cx="311.4" cy="467.1" r="2.15" fill="#a6a6a6" stroke="#111" stroke-width="0.45"/>
<circle cx="311.8" cy="455.1" r="2.15" fill="#a6a6a6" stroke="#111" stroke-width="0.45"/>
<circle cx="312.6" cy="455.3" r="2.15" fill="#a6a6a6" stroke="#111" stroke-width="0.45"/>
<circle cx="308.5" cy="465.6" r="2.15" fill="#a6a6a6" stroke="#111" stroke-width="0.45"/>
<circle cx="311.8" cy="456" r="2.15" fill="#a6a6a6" stroke="#111" stroke-width="0.45"/>
<circle cx="313" cy="465.6" r="2.15" fill="#a6a6a6" stroke="#111" stroke-width="0.45"/>
<circle cx="314.6" cy="465.6" r="2.15" fill="#a6a6a6" stroke="#111" stroke-width="0.45"/>
<circle cx="307.6" cy="456.2" r="2.15" fill="#a6a6a6" stroke="#111" stroke-width="0.45"/>
<circle cx="309.7" cy="465.3" r="2.15" fill="#a6a6a6" stroke="#111" stroke-width="0.45"/>
<circle cx="307.6" cy="464.8" r="2.15" fill="#a6a6a6" stroke="#111" stroke-width="0.45"/>
<circle cx="314.8" cy="456.8" r="2.15" fill="#a6a6a6" stroke="#111" stroke-width="0.45"/>
<circle cx="313.6" cy="464.2" r="2.15" fill="#a6a6a6" stroke="#111" stroke-width="0.45"/>
<circle cx="307.1" cy="457.6" r="2.15" fill="#a6a6a6" stroke="#111" stroke-width="0.45"/>
<circle cx="316.5" cy="457.7" r="2.15" fill="#a6a6a6" stroke="#111" stroke-width="0.45"/>
<circle cx="316.3" cy="457.8" r="2.15" fill="#a6a6a6" stroke="#111" stroke-width="0.45"/>
<circle cx="313.2" cy="458.4" r="2.15" fill="#a6a6a6" stroke="#111" stroke-width="0.45"/>
<circle cx="312.9" cy="458.4" r="2.15" fill="#a6a6a6" stroke="#111" stroke-width="0.45"/>
<circle cx="308.3" cy="463" r="2.15" fill="#a6a6a6" stroke="#111" stroke-width="0.45"/>
<circle cx="306.9" cy="458.8" r="2.15" fill="#a6a6a6" stroke="#111" stroke-width="0.45"/>
<circle cx="312" cy="462.6" r="2.15" fill="#a6a6a6" stroke="#111" stroke-width="0.45"/>
<circle cx="307.3" cy="462.4" r="2.15" fill="#a6a6a6" stroke="#111" stroke-width="0.45"/>
<circle cx="308.6" cy="459.4" r="2.15" fill="#a6a6a6" stroke="#111" stroke-width="0.45"/>
<circle cx="309.1" cy="459.8" r="2.15" fill="#a6a6a6" stroke="#111" stroke-width="0.45"/>
<circle cx="307" cy="459.8" r="2.15" fill="#a6a6a6" stroke="#111" stroke-width="0.45"/>
<circle cx="311.3" cy="459.9" r="2.15" fill="#a6a6a6" stroke="#111" stroke-width="0.45"/>
<circle cx="311.1" cy="459.9" r="2.15" fill="#a6a6a6" stroke="#111" stroke-width="0.45"/>
<circle cx="315.1" cy="459.9" r="2.15" fill="#a6a6a6" stroke="#111" stroke-width="0.45"/>
<circle cx="311.9" cy="459.9" r="2.15" fill="#a6a6a6" stroke="#111" stroke-width="0.45"/>
<circle cx="313.1" cy="461.4" r="2.15" fill="#a6a6a6" stroke="#111" stroke-width="0.45"/>
<circle cx="311.7" cy="460.2" r="2.15" fill="#a6a6a6" stroke="#111" stroke-width="0.45"/>
<circle cx="313.3" cy="460.2" r="2.15" fill="#a6a6a6" stroke="#111" stroke-width="0.45"/>
<circle cx="311.3" cy="460.4" r="2.15" fill="#a6a6a6" stroke="#111" stroke-width="0.45"/>
<circle cx="309.5" cy="460.5" r="2.15" fill="#a6a6a6" stroke="#111" stroke-width="0.45"/>
<circle cx="316.7" cy="461.1" r="2.15" fill="#a6a6a6" stroke="#111" stroke-width="0.45"/>
<circle cx="316.7" cy="461" r="2.15" fill="#a6a6a6" stroke="#111" stroke-width="0.45"/>
<circle cx="315.1" cy="460.6" r="2.15" fill="#a6a6a6" stroke="#111" stroke-width="0.45"/>
<circle cx="313.8" cy="460.8" r="2.15" fill="#a6a6a6" stroke="#111" stroke-width="0.45"/>
<line x1="305.7" y1="460.77" x2="317.7" y2="460.77" stroke="#111" stroke-width="0.8"/>
<circle cx="333" cy="451.8" r="2.15" fill="#7b83ef" stroke="#111" stroke-width="0.45"/>
<circle cx="334.9" cy="468.6" r="2.15" fill="#7b83ef" stroke="#111" stroke-width="0.45"/>
<circle cx="335" cy="468.6" r="2.15" fill="#7b83ef" stroke="#111" stroke-width="0.45"/>
<circle cx="329.7" cy="468.6" r="2.15" fill="#7b83ef" stroke="#111" stroke-width="0.45"/>
<circle cx="328.4" cy="467.6" r="2.15" fill="#7b83ef" stroke="#111" stroke-width="0.45"/>
<circle cx="332" cy="455.4" r="2.15" fill="#7b83ef" stroke="#111" stroke-width="0.45"/>
<circle cx="331" cy="467" r="2.15" fill="#7b83ef" stroke="#111" stroke-width="0.45"/>
<circle cx="336.4" cy="455.6" r="2.15" fill="#7b83ef" stroke="#111" stroke-width="0.45"/>
<circle cx="335.2" cy="466.5" r="2.15" fill="#7b83ef" stroke="#111" stroke-width="0.45"/>
<circle cx="334.3" cy="456.4" r="2.15" fill="#7b83ef" stroke="#111" stroke-width="0.45"/>
<circle cx="333.9" cy="465.8" r="2.15" fill="#7b83ef" stroke="#111" stroke-width="0.45"/>
<circle cx="334.9" cy="465.7" r="2.15" fill="#7b83ef" stroke="#111" stroke-width="0.45"/>
<circle cx="329.8" cy="465" r="2.15" fill="#7b83ef" stroke="#111" stroke-width="0.45"/>
<circle cx="332.7" cy="464.8" r="2.15" fill="#7b83ef" stroke="#111" stroke-width="0.45"/>
<circle cx="329.9" cy="464.7" r="2.15" fill="#7b83ef" stroke="#111" stroke-width="0.45"/>
<circle cx="337.4" cy="457.9" r="2.15" fill="#7b83ef" stroke="#111" stroke-width="0.45"/>
<circle cx="328.9" cy="464.4" r="2.15" fill="#7b83ef" stroke="#111" stroke-width="0.45"/>
<circle cx="336.5" cy="464.3" r="2.15" fill="#7b83ef" stroke="#111" stroke-width="0.45"/>
<circle cx="329" cy="464" r="2.15" fill="#7b83ef" stroke="#111" stroke-width="0.45"/>
<circle cx="335.2" cy="463.6" r="2.15" fill="#7b83ef" stroke="#111" stroke-width="0.45"/>
<circle cx="331.7" cy="463.5" r="2.15" fill="#7b83ef" stroke="#111" stroke-width="0.45"/>
<circle cx="332.3" cy="463.4" r="2.15" fill="#7b83ef" stroke="#111" stroke-width="0.45"/>
<circle cx="336.7" cy="459.3" r="2.15" fill="#7b83ef" stroke="#111" stroke-width="0.45"/>
<circle cx="328.5" cy="459.6" r="2.15" fill="#7b83ef" stroke="#111" stroke-width="0.45"/>
<circle cx="328.9" cy="463" r="2.15" fill="#7b83ef" stroke="#111" stroke-width="0.45"/>
<circle cx="337.5" cy="459.7" r="2.15" fill="#7b83ef" stroke="#111" stroke-width="0.45"/>
<circle cx="333.4" cy="462.9" r="2.15" fill="#7b83ef" stroke="#111" stroke-width="0.45"/>
<circle cx="329.2" cy="462.5" r="2.15" fill="#7b83ef" stroke="#111" stroke-width="0.45"/>
<circle cx="338.2" cy="462.5" r="2.15" fill="#7b83ef" stroke="#111" stroke-width="0.45"/>
<circle cx="337.8" cy="460.2" r="2.15" fill="#7b83ef" stroke="#111" stroke-width="0.45"/>
<circle cx="329.4" cy="462.3" r="2.15" fill="#7b83ef" stroke="#111" stroke-width="0.45"/>
<circle cx="332.5" cy="462.3" r="2.15" fill="#7b83ef" stroke="#111" stroke-width="0.45"/>
<circle cx="329.7" cy="460.4" r="2.15" fill="#7b83ef" stroke="#111" stroke-width="0.45"/>
<circle cx="331.4" cy="460.4" r="2.15" fill="#7b83ef" stroke="#111" stroke-width="0.45"/>
<circle cx="334.5" cy="462.2" r="2.15" fill="#7b83ef" stroke="#111" stroke-width="0.45"/>
<circle cx="329.9" cy="462.1" r="2.15" fill="#7b83ef" stroke="#111" stroke-width="0.45"/>
<circle cx="335.3" cy="460.5" r="2.15" fill="#7b83ef" stroke="#111" stroke-width="0.45"/>
<circle cx="328.8" cy="460.7" r="2.15" fill="#7b83ef" stroke="#111" stroke-width="0.45"/>
<circle cx="330" cy="461.1" r="2.15" fill="#7b83ef" stroke="#111" stroke-width="0.45"/>
<circle cx="336.5" cy="461.2" r="2.15" fill="#7b83ef" stroke="#111" stroke-width="0.45"/>
<line x1="327.3" y1="461.3" x2="339.3" y2="461.3" stroke="#111" stroke-width="0.8"/>
<circle cx="345.7" cy="472.3" r="2.15" fill="#0a2ee6" stroke="#111" stroke-width="0.45"/>
<circle cx="350" cy="472.3" r="2.15" fill="#0a2ee6" stroke="#111" stroke-width="0.45"/>
<circle cx="349.9" cy="472.3" r="2.15" fill="#0a2ee6" stroke="#111" stroke-width="0.45"/>
<circle cx="351.6" cy="449.3" r="2.15" fill="#0a2ee6" stroke="#111" stroke-width="0.45"/>
<circle cx="345" cy="470.6" r="2.15" fill="#0a2ee6" stroke="#111" stroke-width="0.45"/>
<circle cx="345.4" cy="469.9" r="2.15" fill="#0a2ee6" stroke="#111" stroke-width="0.45"/>
<circle cx="344.6" cy="469.4" r="2.15" fill="#0a2ee6" stroke="#111" stroke-width="0.45"/>
<circle cx="345.4" cy="468.9" r="2.15" fill="#0a2ee6" stroke="#111" stroke-width="0.45"/>
<circle cx="350.4" cy="468.8" r="2.15" fill="#0a2ee6" stroke="#111" stroke-width="0.45"/>
<circle cx="344.4" cy="453.2" r="2.15" fill="#0a2ee6" stroke="#111" stroke-width="0.45"/>
<circle cx="348.4" cy="453.9" r="2.15" fill="#0a2ee6" stroke="#111" stroke-width="0.45"/>
<circle cx="345.2" cy="454.1" r="2.15" fill="#0a2ee6" stroke="#111" stroke-width="0.45"/>
<circle cx="346" cy="454.8" r="2.15" fill="#0a2ee6" stroke="#111" stroke-width="0.45"/>
<circle cx="347.4" cy="466.7" r="2.15" fill="#0a2ee6" stroke="#111" stroke-width="0.45"/>
<circle cx="351.5" cy="466.4" r="2.15" fill="#0a2ee6" stroke="#111" stroke-width="0.45"/>
<circle cx="349.2" cy="465.9" r="2.15" fill="#0a2ee6" stroke="#111" stroke-width="0.45"/>
<circle cx="343.2" cy="455.9" r="2.15" fill="#0a2ee6" stroke="#111" stroke-width="0.45"/>
<circle cx="345.9" cy="456.2" r="2.15" fill="#0a2ee6" stroke="#111" stroke-width="0.45"/>
<circle cx="344.6" cy="456.4" r="2.15" fill="#0a2ee6" stroke="#111" stroke-width="0.45"/>
<circle cx="351.8" cy="457.2" r="2.15" fill="#0a2ee6" stroke="#111" stroke-width="0.45"/>
<circle cx="351.2" cy="457.6" r="2.15" fill="#0a2ee6" stroke="#111" stroke-width="0.45"/>
<circle cx="351.2" cy="463.8" r="2.15" fill="#0a2ee6" stroke="#111" stroke-width="0.45"/>
<circle cx="351.4" cy="458" r="2.15" fill="#0a2ee6" stroke="#111" stroke-width="0.45"/>
<circle cx="350.5" cy="463.4" r="2.15" fill="#0a2ee6" stroke="#111" stroke-width="0.45"/>
<circle cx="352.6" cy="463.2" r="2.15" fill="#0a2ee6" stroke="#111" stroke-width="0.45"/>
<circle cx="351" cy="463" r="2.15" fill="#0a2ee6" stroke="#111" stroke-width="0.45"/>
<circle cx="345.7" cy="458.8" r="2.15" fill="#0a2ee6" stroke="#111" stroke-width="0.45"/>
<circle cx="351.6" cy="462.7" r="2.15" fill="#0a2ee6" stroke="#111" stroke-width="0.45"/>
<circle cx="348" cy="462.7" r="2.15" fill="#0a2ee6" stroke="#111" stroke-width="0.45"/>
<circle cx="350.7" cy="462.4" r="2.15" fill="#0a2ee6" stroke="#111" stroke-width="0.45"/>
<circle cx="348.7" cy="462.3" r="2.15" fill="#0a2ee6" stroke="#111" stroke-width="0.45"/>
<circle cx="347.4" cy="462.2" r="2.15" fill="#0a2ee6" stroke="#111" stroke-width="0.45"/>
<circle cx="346.7" cy="459.3" r="2.15" fill="#0a2ee6" stroke="#111" stroke-width="0.45"/>
<circle cx="347.4" cy="461.8" r="2.15" fill="#0a2ee6" stroke="#111" stroke-width="0.45"/>
<circle cx="346.2" cy="459.8" r="2.15" fill="#0a2ee6" stroke="#111" stroke-width="0.45"/>
<circle cx="344.3" cy="460.2" r="2.15" fill="#0a2ee6" stroke="#111" stroke-width="0.45"/>
<circle cx="351.3" cy="461.3" r="2.15" fill="#0a2ee6" stroke="#111" stroke-width="0.45"/>
<circle cx="351.1" cy="460.4" r="2.15" fill="#0a2ee6" stroke="#111" stroke-width="0.45"/>
<circle cx="353" cy="461" r="2.15" fill="#0a2ee6" stroke="#111" stroke-width="0.45"/>
<circle cx="350" cy="461" r="2.15" fill="#0a2ee6" stroke="#111" stroke-width="0.45"/>
<line x1="342.1" y1="460.77" x2="354.1" y2="460.77" stroke="#111" stroke-width="0.8"/>
<circle cx="362.2" cy="453.5" r="2.15" fill="#6ff2cc" stroke="#111" stroke-width="0.45"/>
<circle cx="368.1" cy="467.1" r="2.15" fill="#6ff2cc" stroke="#111" stroke-width="0.45"/>
<circle cx="367.6" cy="454.8" r="2.15" fill="#6ff2cc" stroke="#111" stroke-width="0.45"/>
<circle cx="370.5" cy="466" r="2.15" fill="#6ff2cc" stroke="#111" stroke-width="0.45"/>
<circle cx="363.8" cy="455.7" r="2.15" fill="#6ff2cc" stroke="#111" stroke-width="0.45"/>
<circle cx="363.7" cy="456.1" r="2.15" fill="#6ff2cc" stroke="#111" stroke-width="0.45"/>
<circle cx="368.4" cy="465" r="2.15" fill="#6ff2cc" stroke="#111" stroke-width="0.45"/>
<circle cx="367.7" cy="456.5" r="2.15" fill="#6ff2cc" stroke="#111" stroke-width="0.45"/>
<circle cx="364.1" cy="464.6" r="2.15" fill="#6ff2cc" stroke="#111" stroke-width="0.45"/>
<circle cx="367.9" cy="457.2" r="2.15" fill="#6ff2cc" stroke="#111" stroke-width="0.45"/>
<circle cx="365.1" cy="457.8" r="2.15" fill="#6ff2cc" stroke="#111" stroke-width="0.45"/>
<circle cx="368.9" cy="463.8" r="2.15" fill="#6ff2cc" stroke="#111" stroke-width="0.45"/>
<circle cx="362.3" cy="463.7" r="2.15" fill="#6ff2cc" stroke="#111" stroke-width="0.45"/>
<circle cx="363.3" cy="458" r="2.15" fill="#6ff2cc" stroke="#111" stroke-width="0.45"/>
<circle cx="370.1" cy="463.4" r="2.15" fill="#6ff2cc" stroke="#111" stroke-width="0.45"/>
<circle cx="364.7" cy="463.4" r="2.15" fill="#6ff2cc" stroke="#111" stroke-width="0.45"/>
<circle cx="363.7" cy="463.3" r="2.15" fill="#6ff2cc" stroke="#111" stroke-width="0.45"/>
<circle cx="369.1" cy="463.1" r="2.15" fill="#6ff2cc" stroke="#111" stroke-width="0.45"/>
<circle cx="367.4" cy="463.1" r="2.15" fill="#6ff2cc" stroke="#111" stroke-width="0.45"/>
<circle cx="362.6" cy="462.8" r="2.15" fill="#6ff2cc" stroke="#111" stroke-width="0.45"/>
<circle cx="366.6" cy="462.8" r="2.15" fill="#6ff2cc" stroke="#111" stroke-width="0.45"/>
<circle cx="367.7" cy="462.5" r="2.15" fill="#6ff2cc" stroke="#111" stroke-width="0.45"/>
<circle cx="362.7" cy="459.1" r="2.15" fill="#6ff2cc" stroke="#111" stroke-width="0.45"/>
<circle cx="367.6" cy="459.3" r="2.15" fill="#6ff2cc" stroke="#111" stroke-width="0.45"/>
<circle cx="362.3" cy="462.3" r="2.15" fill="#6ff2cc" stroke="#111" stroke-width="0.45"/>
<circle cx="364.5" cy="462.2" r="2.15" fill="#6ff2cc" stroke="#111" stroke-width="0.45"/>
<circle cx="361.9" cy="459.4" r="2.15" fill="#6ff2cc" stroke="#111" stroke-width="0.45"/>
<circle cx="363.1" cy="459.4" r="2.15" fill="#6ff2cc" stroke="#111" stroke-width="0.45"/>
<circle cx="370.9" cy="459.6" r="2.15" fill="#6ff2cc" stroke="#111" stroke-width="0.45"/>
<circle cx="365.1" cy="459.8" r="2.15" fill="#6ff2cc" stroke="#111" stroke-width="0.45"/>
<circle cx="371" cy="461.7" r="2.15" fill="#6ff2cc" stroke="#111" stroke-width="0.45"/>
<circle cx="365.5" cy="461.6" r="2.15" fill="#6ff2cc" stroke="#111" stroke-width="0.45"/>
<circle cx="367.2" cy="461.5" r="2.15" fill="#6ff2cc" stroke="#111" stroke-width="0.45"/>
<circle cx="369.8" cy="460.1" r="2.15" fill="#6ff2cc" stroke="#111" stroke-width="0.45"/>
<circle cx="368" cy="460.1" r="2.15" fill="#6ff2cc" stroke="#111" stroke-width="0.45"/>
<circle cx="362.2" cy="461.4" r="2.15" fill="#6ff2cc" stroke="#111" stroke-width="0.45"/>
<circle cx="367" cy="460.5" r="2.15" fill="#6ff2cc" stroke="#111" stroke-width="0.45"/>
<circle cx="367.4" cy="460.6" r="2.15" fill="#6ff2cc" stroke="#111" stroke-width="0.45"/>
<circle cx="362.9" cy="460.6" r="2.15" fill="#6ff2cc" stroke="#111" stroke-width="0.45"/>
<circle cx="362" cy="460.9" r="2.15" fill="#6ff2cc" stroke="#111" stroke-width="0.45"/>
<line x1="360.1" y1="460.77" x2="372.1" y2="460.77" stroke="#111" stroke-width="0.8"/>
<circle cx="386.3" cy="466.6" r="2.15" fill="#0b8a14" stroke="#111" stroke-width="0.45"/>
<circle cx="376.7" cy="466.2" r="2.15" fill="#0b8a14" stroke="#111" stroke-width="0.45"/>
<circle cx="384" cy="466" r="2.15" fill="#0b8a14" stroke="#111" stroke-width="0.45"/>
<circle cx="378.2" cy="451.3" r="2.15" fill="#0b8a14" stroke="#111" stroke-width="0.45"/>
<circle cx="386.5" cy="451.3" r="2.15" fill="#0b8a14" stroke="#111" stroke-width="0.45"/>
<circle cx="376.8" cy="451.3" r="2.15" fill="#0b8a14" stroke="#111" stroke-width="0.45"/>
<circle cx="385.4" cy="451.3" r="2.15" fill="#0b8a14" stroke="#111" stroke-width="0.45"/>
<circle cx="383.4" cy="451.3" r="2.15" fill="#0b8a14" stroke="#111" stroke-width="0.45"/>
<circle cx="385.2" cy="463.3" r="2.15" fill="#0b8a14" stroke="#111" stroke-width="0.45"/>
<circle cx="386.6" cy="453.4" r="2.15" fill="#0b8a14" stroke="#111" stroke-width="0.45"/>
<circle cx="379" cy="462.5" r="2.15" fill="#0b8a14" stroke="#111" stroke-width="0.45"/>
<circle cx="380" cy="462.3" r="2.15" fill="#0b8a14" stroke="#111" stroke-width="0.45"/>
<circle cx="383.7" cy="462.2" r="2.15" fill="#0b8a14" stroke="#111" stroke-width="0.45"/>
<circle cx="379.4" cy="454.3" r="2.15" fill="#0b8a14" stroke="#111" stroke-width="0.45"/>
<circle cx="379.2" cy="461.5" r="2.15" fill="#0b8a14" stroke="#111" stroke-width="0.45"/>
<circle cx="378.9" cy="460.7" r="2.15" fill="#0b8a14" stroke="#111" stroke-width="0.45"/>
<circle cx="385.2" cy="455.7" r="2.15" fill="#0b8a14" stroke="#111" stroke-width="0.45"/>
<circle cx="385.3" cy="455.8" r="2.15" fill="#0b8a14" stroke="#111" stroke-width="0.45"/>
<circle cx="384.6" cy="455.8" r="2.15" fill="#0b8a14" stroke="#111" stroke-width="0.45"/>
<circle cx="378.8" cy="455.8" r="2.15" fill="#0b8a14" stroke="#111" stroke-width="0.45"/>
<circle cx="385.8" cy="460.3" r="2.15" fill="#0b8a14" stroke="#111" stroke-width="0.45"/>
<circle cx="381.7" cy="460.2" r="2.15" fill="#0b8a14" stroke="#111" stroke-width="0.45"/>
<circle cx="378.9" cy="460" r="2.15" fill="#0b8a14" stroke="#111" stroke-width="0.45"/>
<circle cx="381.2" cy="459.9" r="2.15" fill="#0b8a14" stroke="#111" stroke-width="0.45"/>
<circle cx="380.8" cy="459.6" r="2.15" fill="#0b8a14" stroke="#111" stroke-width="0.45"/>
<circle cx="377.4" cy="456.8" r="2.15" fill="#0b8a14" stroke="#111" stroke-width="0.45"/>
<circle cx="382.2" cy="459.5" r="2.15" fill="#0b8a14" stroke="#111" stroke-width="0.45"/>
<circle cx="380.2" cy="459.4" r="2.15" fill="#0b8a14" stroke="#111" stroke-width="0.45"/>
<circle cx="382.3" cy="459.4" r="2.15" fill="#0b8a14" stroke="#111" stroke-width="0.45"/>
<circle cx="385.9" cy="459.4" r="2.15" fill="#0b8a14" stroke="#111" stroke-width="0.45"/>
<circle cx="383.1" cy="459.2" r="2.15" fill="#0b8a14" stroke="#111" stroke-width="0.45"/>
<circle cx="380.7" cy="458.9" r="2.15" fill="#0b8a14" stroke="#111" stroke-width="0.45"/>
<circle cx="385.2" cy="457.4" r="2.15" fill="#0b8a14" stroke="#111" stroke-width="0.45"/>
<circle cx="386.6" cy="457.5" r="2.15" fill="#0b8a14" stroke="#111" stroke-width="0.45"/>
<circle cx="381.5" cy="457.6" r="2.15" fill="#0b8a14" stroke="#111" stroke-width="0.45"/>
<circle cx="386.1" cy="457.6" r="2.15" fill="#0b8a14" stroke="#111" stroke-width="0.45"/>
<circle cx="376.8" cy="458.7" r="2.15" fill="#0b8a14" stroke="#111" stroke-width="0.45"/>
<circle cx="378" cy="458" r="2.15" fill="#0b8a14" stroke="#111" stroke-width="0.45"/>
<circle cx="378.3" cy="458" r="2.15" fill="#0b8a14" stroke="#111" stroke-width="0.45"/>
<circle cx="386" cy="458.1" r="2.15" fill="#0b8a14" stroke="#111" stroke-width="0.45"/>
<line x1="375.6" y1="458.15" x2="387.6" y2="458.15" stroke="#111" stroke-width="0.8"/>
<path d="M311.7 415 V410.2 H381.6 V415" fill="none" stroke="#555" stroke-width="0.7"/>
<text x="346.5" y="406.6" font-size="7" text-anchor="middle" font-weight="normal" fill="#444" textLength="33" lengthAdjust="spacingAndGlyphs"><tspan font-style="italic">P</tspan> = 0.0206</text>
<path d="M333.3 431 V426.8 H381.6 V431" fill="none" stroke="#555" stroke-width="0.7"/>
<text x="357.6" y="423" font-size="7" text-anchor="middle" font-weight="normal" fill="#444" textLength="31.7" lengthAdjust="spacingAndGlyphs"><tspan font-style="italic">P</tspan> = 0.0057</text>
<path d="M366.1 446.9 V442.6 H381.6 V446.9" fill="none" stroke="#555" stroke-width="0.7"/>
<text x="373.6" y="439.3" font-size="7" text-anchor="middle" font-weight="normal" fill="#444" textLength="31.7" lengthAdjust="spacingAndGlyphs"><tspan font-style="italic">P</tspan> = 0.0403</text>
<text x="440.6" y="392.6" font-size="13.5" text-anchor="start" font-weight="bold" fill="#111" stroke="#111" stroke-width="0.35">d</text>
<line x1="483.7" y1="412.3" x2="483.7" y2="475.2" stroke="#3a3a3a" stroke-width="0.8"/>
<line x1="483.7" y1="475.2" x2="545" y2="475.2" stroke="#3a3a3a" stroke-width="0.8"/>
<line x1="481.2" y1="475.2" x2="483.7" y2="475.2" stroke="#3a3a3a" stroke-width="0.8"/>
<text x="475.2" y="478" font-size="7.6" text-anchor="end" font-weight="normal" fill="#2b2b2b">0</text>
<line x1="481.2" y1="462.6" x2="483.7" y2="462.6" stroke="#3a3a3a" stroke-width="0.8"/>
<text x="475.2" y="465.4" font-size="7.6" text-anchor="end" font-weight="normal" fill="#2b2b2b">5</text>
<line x1="481.2" y1="450" x2="483.7" y2="450" stroke="#3a3a3a" stroke-width="0.8"/>
<text x="475.2" y="452.8" font-size="7.6" text-anchor="end" font-weight="normal" fill="#2b2b2b">10</text>
<line x1="481.2" y1="437.4" x2="483.7" y2="437.4" stroke="#3a3a3a" stroke-width="0.8"/>
<text x="475.2" y="440.2" font-size="7.6" text-anchor="end" font-weight="normal" fill="#2b2b2b">15</text>
<line x1="481.2" y1="424.8" x2="483.7" y2="424.8" stroke="#3a3a3a" stroke-width="0.8"/>
<text x="475.2" y="427.6" font-size="7.6" text-anchor="end" font-weight="normal" fill="#2b2b2b">20</text>
<line x1="481.2" y1="412.2" x2="483.7" y2="412.2" stroke="#3a3a3a" stroke-width="0.8"/>
<text x="475.2" y="415" font-size="7.6" text-anchor="end" font-weight="normal" fill="#2b2b2b">25</text>
<text x="448.6" y="444.2" font-size="9.2" text-anchor="middle" font-weight="normal" fill="#2b2b2b" transform="rotate(-90 448.6 444.2)" textLength="65" lengthAdjust="spacingAndGlyphs">Hydroxyproline</text>
<text x="460.2" y="444.5" font-size="9.2" text-anchor="middle" font-weight="normal" fill="#2b2b2b" transform="rotate(-90 460.2 444.5)" textLength="37.5" lengthAdjust="spacingAndGlyphs">(μg mg<tspan dy="-3.2" font-size="6">−1</tspan><tspan dy="3.2">)</tspan></text>
<rect x="487" y="423.29" width="8.4" height="51.91" fill="#a6a6a6" stroke="#222" stroke-width="0.6"/>
<line x1="491.2" y1="419.51" x2="491.2" y2="427.07" stroke="#222" stroke-width="0.6"/>
<line x1="489.2" y1="419.51" x2="493.2" y2="419.51" stroke="#222" stroke-width="0.6"/>
<circle cx="489" cy="420.7" r="2" fill="#a6a6a6" stroke="#111" stroke-width="0.5"/>
<circle cx="492.4" cy="418.9" r="2" fill="#a6a6a6" stroke="#111" stroke-width="0.5"/>
<circle cx="492.1" cy="425.8" r="2" fill="#a6a6a6" stroke="#111" stroke-width="0.5"/>
<circle cx="491.1" cy="426.2" r="2" fill="#a6a6a6" stroke="#111" stroke-width="0.5"/>
<circle cx="489.4" cy="422" r="2" fill="#a6a6a6" stroke="#111" stroke-width="0.5"/>
<circle cx="493.1" cy="418.5" r="2" fill="#a6a6a6" stroke="#111" stroke-width="0.5"/>
<circle cx="493.2" cy="421.9" r="2" fill="#a6a6a6" stroke="#111" stroke-width="0.5"/>
<rect x="501.3" y="425.56" width="8.4" height="49.64" fill="#7b83ef" stroke="#222" stroke-width="0.6"/>
<line x1="505.5" y1="421.78" x2="505.5" y2="429.34" stroke="#222" stroke-width="0.6"/>
<line x1="503.5" y1="421.78" x2="507.5" y2="421.78" stroke="#222" stroke-width="0.6"/>
<circle cx="508.5" cy="423.8" r="2" fill="#7b83ef" stroke="#111" stroke-width="0.5"/>
<circle cx="503.2" cy="426" r="2" fill="#7b83ef" stroke="#111" stroke-width="0.5"/>
<circle cx="502.4" cy="418.5" r="2" fill="#7b83ef" stroke="#111" stroke-width="0.5"/>
<circle cx="508.7" cy="423.8" r="2" fill="#7b83ef" stroke="#111" stroke-width="0.5"/>
<circle cx="503.4" cy="424.9" r="2" fill="#7b83ef" stroke="#111" stroke-width="0.5"/>
<circle cx="503" cy="424" r="2" fill="#7b83ef" stroke="#111" stroke-width="0.5"/>
<circle cx="506.5" cy="427.4" r="2" fill="#7b83ef" stroke="#111" stroke-width="0.5"/>
<rect x="511.4" y="423.29" width="7.6" height="51.91" fill="#0a2ee6" stroke="#222" stroke-width="0.6"/>
<line x1="515.2" y1="419.51" x2="515.2" y2="427.07" stroke="#222" stroke-width="0.6"/>
<line x1="513.2" y1="419.51" x2="517.2" y2="419.51" stroke="#222" stroke-width="0.6"/>
<circle cx="518" cy="418.5" r="2" fill="#0a2ee6" stroke="#111" stroke-width="0.5"/>
<circle cx="518.1" cy="427" r="2" fill="#0a2ee6" stroke="#111" stroke-width="0.5"/>
<circle cx="517.8" cy="422.2" r="2" fill="#0a2ee6" stroke="#111" stroke-width="0.5"/>
<circle cx="512.5" cy="424.2" r="2" fill="#0a2ee6" stroke="#111" stroke-width="0.5"/>
<circle cx="515.8" cy="426.2" r="2" fill="#0a2ee6" stroke="#111" stroke-width="0.5"/>
<circle cx="514.7" cy="425.2" r="2" fill="#0a2ee6" stroke="#111" stroke-width="0.5"/>
<circle cx="515.4" cy="425" r="2" fill="#0a2ee6" stroke="#111" stroke-width="0.5"/>
<rect x="522.6" y="423.04" width="8.1" height="52.16" fill="#6ff2cc" stroke="#222" stroke-width="0.6"/>
<line x1="526.65" y1="419.26" x2="526.65" y2="426.82" stroke="#222" stroke-width="0.6"/>
<line x1="524.65" y1="419.26" x2="528.65" y2="419.26" stroke="#222" stroke-width="0.6"/>
<circle cx="528" cy="424.5" r="2" fill="#6ff2cc" stroke="#111" stroke-width="0.5"/>
<circle cx="528.9" cy="429.3" r="2" fill="#6ff2cc" stroke="#111" stroke-width="0.5"/>
<circle cx="524.6" cy="418.5" r="2" fill="#6ff2cc" stroke="#111" stroke-width="0.5"/>
<circle cx="529.9" cy="418.5" r="2" fill="#6ff2cc" stroke="#111" stroke-width="0.5"/>
<circle cx="524.7" cy="421.3" r="2" fill="#6ff2cc" stroke="#111" stroke-width="0.5"/>
<circle cx="527.8" cy="418.5" r="2" fill="#6ff2cc" stroke="#111" stroke-width="0.5"/>
<circle cx="524" cy="418.5" r="2" fill="#6ff2cc" stroke="#111" stroke-width="0.5"/>
<rect x="532.4" y="425.56" width="7.6" height="49.64" fill="#0b8a14" stroke="#222" stroke-width="0.6"/>
<line x1="536.2" y1="421.78" x2="536.2" y2="429.34" stroke="#222" stroke-width="0.6"/>
<line x1="534.2" y1="421.78" x2="538.2" y2="421.78" stroke="#222" stroke-width="0.6"/>
<circle cx="535.4" cy="431.1" r="2" fill="#0b8a14" stroke="#111" stroke-width="0.5"/>
<circle cx="539" cy="420.2" r="2" fill="#0b8a14" stroke="#111" stroke-width="0.5"/>
<circle cx="538.4" cy="424.3" r="2" fill="#0b8a14" stroke="#111" stroke-width="0.5"/>
<circle cx="534.3" cy="427.5" r="2" fill="#0b8a14" stroke="#111" stroke-width="0.5"/>
<circle cx="538.6" cy="422.2" r="2" fill="#0b8a14" stroke="#111" stroke-width="0.5"/>
<circle cx="537.1" cy="429" r="2" fill="#0b8a14" stroke="#111" stroke-width="0.5"/>
<circle cx="533.2" cy="418.5" r="2" fill="#0b8a14" stroke="#111" stroke-width="0.5"/>
<text x="1.8" y="511.8" font-size="13.5" text-anchor="start" font-weight="bold" fill="#111" stroke="#111" stroke-width="0.35">e</text>
<text x="96.4" y="517.3" font-size="9" text-anchor="start" font-weight="normal" fill="#2b2b2b">Exo<tspan dy="-3.6" font-size="6.6">myo</tspan><tspan dy="3.6">​</tspan></text>
<line x1="26.2" y1="519.9" x2="182.6" y2="519.9" stroke="#8a8a8a" stroke-width="1.2"/>
<text x="27.4" y="531.4" font-size="9.9" text-anchor="start" font-weight="normal" fill="#2b2b2b">I injection</text>
<text x="82" y="531.4" font-size="9.9" text-anchor="start" font-weight="normal" fill="#2b2b2b">II injection</text>
<text x="136.7" y="531.4" font-size="9.9" text-anchor="start" font-weight="normal" fill="#2b2b2b">III injection</text>
<line x1="17.8" y1="537.3" x2="17.8" y2="589" stroke="#8a8a8a" stroke-width="1.2"/>
<line x1="17.8" y1="591.7" x2="17.8" y2="644" stroke="#8a8a8a" stroke-width="1.2"/>
<text x="13" y="563.3" font-size="9" text-anchor="middle" font-weight="normal" fill="#2b2b2b" transform="rotate(-90 13 563.3)">i.m.</text>
<text x="13" y="618.6" font-size="9" text-anchor="middle" font-weight="normal" fill="#2b2b2b" transform="rotate(-90 13 618.6)">i.v.</text>
<text x="64.5" y="656.6" font-size="9.2" text-anchor="start" font-weight="normal" fill="#2b2b2b"><tspan fill="#3ee83e">CFSE</tspan><tspan fill="#222">/</tspan><tspan fill="#f050f0">F-actin</tspan><tspan fill="#222">/</tspan><tspan fill="#4a5af0">DAPI</tspan></text>
<clipPath id="fc101"><rect x="24.2" y="537.2" width="52.4" height="52.1"/></clipPath>
<g clip-path="url(#fc101)">
<rect x="24.2" y="537.2" width="52.4" height="52.1" fill="#9a1cac" stroke="none" stroke-width="0.8"/>
<g filter="url(#b03)">
<path d="M61.26 536.98Q64.35 539.2 65.02 541.5Q65.7 543.79 62.71 546.42Q59.72 549.05 55.04 547.61Q50.36 546.17 50.06 542.19Q49.76 538.21 53.96 536.48Q58.16 534.75 61.26 536.98Z" fill="#c81cd8"/>
<path d="M55.35 575.4Q55.33 577.82 53.84 579.45Q52.35 581.09 48.46 581.66Q44.58 582.24 43.79 581.58Q43.01 580.92 42.11 575.36Q41.22 569.81 43.84 568.42Q46.47 567.04 50.92 570.01Q55.36 572.98 55.35 575.4Z" fill="#c018d0"/>
<path d="M30.06 549.82Q34.37 553.19 35.96 552.22Q37.55 551.24 37.19 546.09Q36.82 540.94 34.54 539.12Q32.26 537.29 29.74 538.11Q27.23 538.94 26.49 542.7Q25.75 546.45 30.06 549.82Z" fill="#cc20dc"/>
<path d="M32.12 570.7Q36.49 568.23 38.75 569.03Q41.01 569.83 41.9 575.34Q42.79 580.86 36.68 581.64Q30.56 582.43 28.98 578.35Q27.41 574.26 27.58 573.72Q27.75 573.18 32.12 570.7Z" fill="#c018d0"/>
<path d="M35.37 561.8Q33.93 556.1 34.43 555.15Q34.92 554.2 36.5 553.24Q38.08 552.27 40.75 552.66Q43.43 553.04 45.88 556.32Q48.33 559.61 47.17 563.01Q46.01 566.42 43.54 567.72Q41.08 569.02 38.94 568.26Q36.81 567.5 35.37 561.8Z" fill="#d024e0"/>
<path d="M40.87 551.92Q38.05 551.51 37.67 546.14Q37.29 540.77 41.79 538.64Q46.29 536.52 47.84 537.38Q49.39 538.25 49.7 542.25Q50 546.25 46.84 549.28Q43.68 552.32 40.87 551.92Z" fill="#d024e0"/>
<path d="M70.94 573.29Q71.36 574.37 68.22 577.56Q65.09 580.76 60.32 579.27Q55.55 577.78 55.56 575.37Q55.58 572.97 58.41 570.16Q61.25 567.34 65.89 569.78Q70.52 572.22 70.94 573.29Z" fill="#cc20dc"/>
<path d="M83.24 561.43Q74.65 562.44 72.68 560.41Q70.7 558.38 71.85 552.78Q73 547.19 73.34 547.14Q73.68 547.08 82.75 553.75Q91.82 560.42 83.24 561.43Z" fill="#d82ce6"/>
<path d="M46.65 555.9Q44.16 552.56 47.21 549.63Q50.27 546.69 54.81 548.09Q59.34 549.48 58.95 553.93Q58.55 558.38 53.85 558.81Q49.14 559.24 46.65 555.9Z" fill="#c81cd8"/>
<path d="M71.31 552.75Q72.41 547.4 69.13 545.91Q65.85 544.42 62.97 546.95Q60.09 549.48 59.69 553.9Q59.3 558.33 60.07 559.12Q60.85 559.91 65.53 559.01Q70.21 558.1 71.31 552.75Z" fill="#c81cd8"/>
<path d="M55.54 596.89Q53.87 601.64 48.73 595.91Q43.6 590.19 44.09 586.28Q44.58 582.37 48.48 581.79Q52.38 581.22 54.8 586.68Q57.22 592.14 55.54 596.89Z" fill="#d024e0"/>
<path d="M69.72 533.18Q74.83 527.23 78.27 533Q81.7 538.77 77.65 542.81Q73.6 546.85 73.26 546.9Q72.92 546.96 69.45 545.38Q65.99 543.81 65.3 541.47Q64.62 539.14 69.72 533.18Z" fill="#c018d0"/>
<path d="M75.82 588.42Q73.31 591.41 69.76 589.19Q66.22 586.97 65.81 583.96Q65.41 580.95 68.46 577.84Q71.51 574.74 73.7 575.7Q75.88 576.66 77.11 581.04Q78.34 585.43 75.82 588.42Z" fill="#d024e0"/>
<path d="M51.22 569.58Q55.43 572.39 58.13 569.72Q60.83 567.04 60.54 563.84Q60.24 560.63 59.47 559.84Q58.69 559.05 54.02 559.47Q49.36 559.9 48.18 563.33Q47.01 566.77 51.22 569.58Z" fill="#d024e0"/>
<path d="M28.57 557.71Q23.75 559.63 18.86 555.03Q13.98 550.44 19.65 548.52Q25.31 546.61 29.88 550.19Q34.45 553.76 33.92 554.78Q33.39 555.8 28.57 557.71Z" fill="#c018d0"/>
<path d="M23.22 562.32Q23.93 559.85 28.59 558Q33.25 556.15 34.74 562.05Q36.22 567.95 31.95 570.38Q27.67 572.8 25.09 568.8Q22.52 564.79 23.22 562.32Z" fill="#d82ce6"/>
<path d="M72.31 567.19Q70.45 571.68 66.03 569.36Q61.61 567.03 61.32 563.83Q61.02 560.62 65.7 559.71Q70.38 558.81 72.27 560.75Q74.16 562.7 72.31 567.19Z" fill="#c018d0"/>
<path d="M61.55 589.49Q57.33 591.91 54.97 586.57Q52.61 581.23 54.07 579.63Q55.53 578.03 60.24 579.49Q64.94 580.96 65.35 584.01Q65.76 587.07 61.55 589.49Z" fill="#cc20dc"/>
<path d="M39.96 591.6Q43.42 590.1 43.9 586.25Q44.39 582.39 43.61 581.74Q42.84 581.08 36.74 581.87Q30.65 582.65 29.84 584.84Q29.03 587.02 32.76 590.06Q36.5 593.1 39.96 591.6Z" fill="#d82ce6"/>
</g>
<path d="M27.3 574.3h0M26.9 538.6h0M37.9 551.7h0M73.6 546.9h0M44.5 582.3h0M64.5 539.1h0M27.6 573.1h0" stroke="#2030e0" stroke-width="1.2" stroke-linecap="round"/>
<path d="M28.8 587h0M61.2 567.2h0M70.6 558.4h0M52.4 581.1h0M55.4 572.9h0M25.3 546.6h0M36.5 568.1h0M76.1 576.4h0" stroke="#2a3cff" stroke-width="1.2" stroke-linecap="round"/>
<path d="M58.9 558.7h0M41.1 569.7h0M70.6 572.2h0" stroke="#2030e0" stroke-width="1.6" stroke-linecap="round"/>
<path d="M37.1 540.7h0M66 587.2h0" stroke="#2030e0" stroke-width="0.8" stroke-linecap="round"/>
<path d="M72.9 547h0" stroke="#3050ff" stroke-width="1.6" stroke-linecap="round"/>
<path d="M46.4 566.9h0M34.5 553.8h0" stroke="#2a3cff" stroke-width="1.6" stroke-linecap="round"/>
<path d="M71.5 574.4h0" stroke="#3050ff" stroke-width="1.2" stroke-linecap="round"/>
<ellipse cx="26.2" cy="567.2" rx="1.5" ry="4" fill="#05030c" transform="rotate(0 26.2 567.2)" filter="url(#b05)"/>
<path d="M57.2 584.2 C54.2 572.2 60.2 557.2 69.2 549.2 L76.6 549.2 L76.6 589.3 Z" fill="#f450f4" stroke="none" stroke-width="0.8" opacity="0.5" filter="url(#b15)"/>
<path d="M24.2 567.2 L32.2 564.2 L40.2 566.2 L46.2 571.2 L54.2 570.2" fill="none" stroke="#14041c" stroke-width="0.8" stroke-linejoin="round" opacity="0.85"/>
<path d="M46.2 571.2 L48.2 581.2 L46.2 589.2" fill="none" stroke="#14041c" stroke-width="0.8" stroke-linejoin="round" opacity="0.85"/>
<path d="M40.2 566.2 L44.2 555.2 L52.2 551.2 L58.2 553.2" fill="none" stroke="#14041c" stroke-width="0.8" stroke-linejoin="round" opacity="0.85"/>
<path d="M58.2 553.2 L57.2 565.2 L54.2 570.2" fill="none" stroke="#14041c" stroke-width="0.8" stroke-linejoin="round" opacity="0.85"/>
<path d="M32.2 564.2 L28.2 577.2 L34.2 589.2" fill="none" stroke="#14041c" stroke-width="0.8" stroke-linejoin="round" opacity="0.85"/>
<path d="M54.2 570.2 L62.2 577.2 L64.2 589.2" fill="none" stroke="#14041c" stroke-width="0.8" stroke-linejoin="round" opacity="0.85"/>
<ellipse cx="35.2" cy="546.7" rx="10" ry="6.2" fill="#05030c" transform="rotate(18 35.2 546.7)" filter="url(#b05)"/>
<ellipse cx="35.7" cy="548.2" rx="6" ry="2.8" fill="#20b0a0" opacity="0.7" transform="rotate(18 35.7 548.2)" filter="url(#b07)"/>
<path d="M40.3 548.5h0M36.9 549.6h0M31.7 545.3h0M35.4 545.9h0M39.5 550.3h0" stroke="#40ffd0" stroke-width="0.8" stroke-linecap="round"/>
<path d="M31.9 548.2h0M34.5 550.9h0M35 547.5h0M35.9 549.1h0M38.9 549.7h0M37.9 546.4h0M40.4 546.9h0M32.7 550.6h0M35.7 546.8h0M33.1 548h0M35.5 547.4h0M34.6 550.2h0M35.5 550.9h0" stroke="#60ff80" stroke-width="0.8" stroke-linecap="round"/>
<path d="M34.1 546.6h0M40.6 545.4h0M37.3 549.7h0M36.7 550.9h0M31.7 546.1h0M41.2 548.4h0M40.2 549.3h0" stroke="#40c0ff" stroke-width="0.8" stroke-linecap="round"/>
<path d="M59.2 537.2 L76.6 537.2 L76.6 561.2 C72.2 557.2 70.2 551.2 66.2 547.2 C62.2 544.2 60.2 540.2 59.2 537.2 Z" fill="#05030c" stroke="#2a2ae0" stroke-width="1" filter="url(#b05)"/>
<rect x="73.4" y="557.2" width="2.2" height="26" fill="#2a2ad8" stroke="none" stroke-width="0.8" opacity="0.75" filter="url(#b07)"/>
<path d="M29.6 556.2h0M39.8 581.9h0M30.4 544.2h0M63.3 578.7h0M59.2 541.2h0M60.5 548.2h0M38 549.9h0M24.3 582.1h0M55.4 539.3h0M35.5 555.6h0M55.3 544.6h0M27.6 552.8h0M40.8 585.1h0M34.6 544.2h0M63 549.3h0M30 555.2h0M62.4 575.5h0" stroke="#40c8ff" stroke-width="0.8" stroke-linecap="round" opacity="0.85"/>
<path d="M34.8 556.9h0M27.8 537.2h0M74.5 564.6h0M59.3 582.7h0M71.2 538.8h0M66.5 583.1h0M49.8 545.3h0M63.5 562.3h0M59.7 550.9h0M65.6 542.9h0M51.4 569.7h0M30.7 568.6h0M38.8 586.6h0M53 571.3h0M39.2 574.5h0M54.4 551.6h0" stroke="#38e070" stroke-width="0.8" stroke-linecap="round" opacity="0.85"/>
<path d="M66.2 584.3h0M44.1 557.3h0M71.2 563.9h0M30 587.1h0M40.8 566h0M25.9 580.4h0M65.9 582.5h0M51.5 574h0M44.9 567.5h0M67.6 542.2h0M74.8 566.4h0M54.5 579h0" stroke="#5080ff" stroke-width="0.8" stroke-linecap="round" opacity="0.85"/>
<rect x="63.2" y="585.3" width="11.6" height="2.2" fill="#ffffff" stroke="none" stroke-width="0.8"/>
</g>
<clipPath id="fc102"><rect x="77.8" y="537.2" width="52.6" height="52.1"/></clipPath>
<g clip-path="url(#fc102)">
<rect x="77.8" y="537.2" width="52.6" height="52.1" fill="#7a3c9a" stroke="none" stroke-width="0.8"/>
<g filter="url(#b03)">
<path d="M85.37 575.75Q84.43 578.19 81.04 577.84Q77.64 577.48 76.01 574.15Q74.37 570.82 77.3 567.21Q80.22 563.61 81.28 563.99Q82.33 564.38 84.32 568.84Q86.31 573.3 85.37 575.75Z" fill="#aa26c2"/>
<path d="M107 554.27Q107.98 549.11 111.48 549.88Q114.97 550.65 116.9 555.1Q118.84 559.55 118.38 560.35Q117.91 561.15 112.76 561.43Q107.6 561.7 106.81 560.57Q106.02 559.44 107 554.27Z" fill="#c43cdc"/>
<path d="M117.1 570.72Q119.25 565.62 118.65 563.41Q118.06 561.19 112.77 561.48Q107.48 561.76 105.73 566.53Q103.97 571.29 108.63 574.08Q113.29 576.86 114.12 576.34Q114.95 575.82 117.1 570.72Z" fill="#b42ccc"/>
<path d="M127.82 574.36Q124.85 577.51 126.1 582.12Q127.34 586.73 128.39 586.92Q129.43 587.11 132.68 583.6Q135.94 580.09 133.4 575.67Q130.87 571.26 130.83 571.24Q130.79 571.22 127.82 574.36Z" fill="#aa26c2"/>
<path d="M88.18 546.83Q87.4 543.81 89.5 541.76Q91.59 539.72 95.51 539.82Q99.43 539.91 100.95 543.2Q102.47 546.49 97.79 549.91Q93.1 553.32 91.03 551.59Q88.95 549.85 88.18 546.83Z" fill="#b830d0"/>
<path d="M85.77 580.68Q87.12 582.94 87.1 584.4Q87.08 585.86 86.92 586.11Q86.76 586.35 81.73 588.55Q76.71 590.74 74.57 586.46Q72.43 582.18 75.06 579.95Q77.68 577.71 81.05 578.06Q84.43 578.42 85.77 580.68Z" fill="#c43cdc"/>
<path d="M98.38 570.81Q96.07 569.46 94.43 564.65Q92.79 559.84 93.35 558.39Q93.91 556.93 99.89 558.22Q105.87 559.51 106.67 560.66Q107.47 561.81 105.73 566.53Q104 571.24 102.34 571.7Q100.68 572.16 98.38 570.81Z" fill="#b42ccc"/>
<path d="M85.88 580.61Q87.25 582.91 92.87 580.8Q98.48 578.69 99.57 575.45Q100.66 572.22 98.35 570.86Q96.04 569.5 91.23 571.42Q86.42 573.34 85.46 575.82Q84.51 578.3 85.88 580.61Z" fill="#c43cdc"/>
<path d="M99.67 575.5Q100.75 572.3 102.39 571.84Q104.04 571.38 108.62 574.11Q113.19 576.85 112.93 579.43Q112.67 582.02 110.17 584.85Q107.68 587.67 105.11 587.16Q102.55 586.65 100.57 582.67Q98.59 578.7 99.67 575.5Z" fill="#c43cdc"/>
<path d="M129.32 547.47Q130.39 547.6 135.89 543.36Q141.39 539.13 135.5 536.89Q129.61 534.66 127.4 535.97Q125.2 537.29 124.29 539.8Q123.38 542.31 125.81 544.83Q128.24 547.35 129.32 547.47Z" fill="#be34d6"/>
<path d="M110.78 598.3Q107.69 587.77 110.22 584.9Q112.76 582.03 117.93 585.46Q123.1 588.9 118.49 598.87Q113.87 608.84 110.78 598.3Z" fill="#b830d0"/>
<path d="M135.05 558.69Q131.79 560.78 128.05 559.04Q124.3 557.29 126.32 552.7Q128.35 548.1 129.39 548.22Q130.44 548.34 134.37 552.47Q138.31 556.59 135.05 558.69Z" fill="#b830d0"/>
<path d="M84.55 552.07Q80.18 554.26 79.82 558.28Q79.45 562.3 79.83 562.89Q80.21 563.49 81.28 563.88Q82.36 564.27 87.55 562.04Q92.75 559.81 93.32 558.35Q93.88 556.89 93.49 555.14Q93.1 553.38 91.01 551.63Q88.92 549.88 84.55 552.07Z" fill="#b42ccc"/>
<path d="M80.13 543.81Q75.54 545.08 72.84 542.67Q70.13 540.25 74.83 535.71Q79.54 531.16 82.13 536.85Q84.72 542.53 80.13 543.81Z" fill="#b42ccc"/>
<path d="M107.29 548.31Q107.82 549.01 111.44 549.81Q115.06 550.61 118.85 546.52Q122.65 542.44 117.22 540.44Q111.8 538.45 109.28 543.03Q106.75 547.61 107.29 548.31Z" fill="#aa26c2"/>
<path d="M91.11 571.11Q95.62 569.31 94.07 564.78Q92.53 560.26 87.67 562.34Q82.81 564.42 84.7 568.66Q86.59 572.91 91.11 571.11Z" fill="#be34d6"/>
<path d="M98.05 550.07Q102.49 546.84 104.51 547.34Q106.53 547.85 107.03 548.5Q107.53 549.14 106.59 554.09Q105.64 559.04 99.99 557.83Q94.35 556.61 93.98 554.96Q93.61 553.31 98.05 550.07Z" fill="#be34d6"/>
<path d="M112.25 528.68Q114.27 523.26 119.5 530.16Q124.73 537.06 123.81 539.6Q122.9 542.13 122.61 542.2Q122.32 542.26 117.18 540.37Q112.03 538.48 111.14 536.29Q110.24 534.11 112.25 528.68Z" fill="#be34d6"/>
<path d="M92.98 581.09Q87.72 583.07 87.71 584.46Q87.69 585.85 92.33 587.93Q96.96 590.01 99.47 588.31Q101.97 586.62 100.1 582.87Q98.23 579.11 92.98 581.09Z" fill="#c43cdc"/>
<path d="M124.97 568.21Q119.26 565.61 118.67 563.43Q118.08 561.25 118.55 560.44Q119.01 559.63 121.41 558.6Q123.81 557.58 127.81 559.44Q131.81 561.3 131.25 566.06Q130.68 570.82 124.97 568.21Z" fill="#aa26c2"/>
<path d="M101.1 543.12Q99.6 539.88 100.7 537.84Q101.79 535.79 105.82 534.98Q109.86 534.17 110.77 536.39Q111.67 538.6 109.24 543.01Q106.81 547.41 104.7 546.89Q102.6 546.36 101.1 543.12Z" fill="#aa26c2"/>
<path d="M125.71 552.4Q127.74 547.79 125.37 545.34Q123.01 542.88 122.73 542.94Q122.46 543.01 118.98 546.75Q115.5 550.49 117.34 554.72Q119.17 558.94 121.43 557.98Q123.68 557.02 125.71 552.4Z" fill="#be34d6"/>
<path d="M119.83 576.64Q114.96 575.8 114.13 576.31Q113.31 576.83 113.05 579.44Q112.78 582.05 117.93 585.46Q123.07 588.88 125.16 587.89Q127.25 586.9 125.98 582.19Q124.71 577.48 119.83 576.64Z" fill="#aa26c2"/>
<path d="M75.81 547.92Q75.95 545.17 80.21 543.99Q84.47 542.81 85.75 543.42Q87.04 544.03 87.77 546.89Q88.5 549.75 84.4 551.81Q80.3 553.87 77.98 552.26Q75.67 550.66 75.81 547.92Z" fill="#b830d0"/>
<path d="M117.45 570.78Q119.47 565.98 124.93 568.47Q130.39 570.96 130.43 571.03Q130.46 571.09 127.57 574.14Q124.69 577.19 120.06 576.39Q115.43 575.59 117.45 570.78Z" fill="#aa26c2"/>
<path d="M77.52 552.78Q75.21 551.18 68.99 554.54Q62.77 557.9 70.95 559.92Q79.13 561.94 79.48 558.16Q79.83 554.39 77.52 552.78Z" fill="#aa26c2"/>
</g>
<path d="M123.1 542.4h0M106.8 547.6h0M107.9 549h0M99.5 539.9h0M88.9 549.9h0M84.6 542.5h0M87.4 543.8h0" stroke="#2a3cff" stroke-width="1.2" stroke-linecap="round"/>
<path d="M127.3 586.9h0M107.7 587.8h0M105.9 559.5h0M82.4 564.3h0" stroke="#2030e0" stroke-width="1.2" stroke-linecap="round"/>
<path d="M129.4 587.3h0M79.5 562.3h0M122.5 542.5h0M92.7 559.8h0M87.2 585.9h0" stroke="#3050ff" stroke-width="1.2" stroke-linecap="round"/>
<path d="M119 559.6h0M114.9 575.8h0M100.7 572.2h0" stroke="#2a3cff" stroke-width="0.8" stroke-linecap="round"/>
<path d="M118 561.2h0M93.1 553.4h0M91.6 539.7h0M96.1 569.5h0" stroke="#3050ff" stroke-width="1.6" stroke-linecap="round"/>
<path d="M113.3 576.8h0" stroke="#2030e0" stroke-width="0.8" stroke-linecap="round"/>
<path d="M104 571.3h0M119.2 565.6h0" stroke="#3050ff" stroke-width="0.8" stroke-linecap="round"/>
<path d="M93.9 556.9h0M124.7 577.5h0" stroke="#2030e0" stroke-width="1.6" stroke-linecap="round"/>
<path d="M86.4 573.3h0" stroke="#2a3cff" stroke-width="1.6" stroke-linecap="round"/>
<path d="M87.8 563.2 L97.8 567.2 L107.8 565.2 L119.8 570.2 L129.8 567.2" fill="none" stroke="#1a3a30" stroke-width="0.7" stroke-linejoin="round" opacity="0.85"/>
<path d="M97.8 567.2 L95.8 579.2 L99.8 589.2" fill="none" stroke="#1a3a30" stroke-width="0.7" stroke-linejoin="round" opacity="0.85"/>
<path d="M107.8 565.2 L110.8 553.2 L117.8 545.2 L121.8 537.2" fill="none" stroke="#1a3a30" stroke-width="0.7" stroke-linejoin="round" opacity="0.85"/>
<path d="M119.8 570.2 L123.8 582.2 L121.8 589.2" fill="none" stroke="#1a3a30" stroke-width="0.7" stroke-linejoin="round" opacity="0.85"/>
<path d="M85.8 561.2 L89.8 567.2 L87.8 577.2" fill="none" stroke="#30d060" stroke-width="0.8" stroke-linejoin="round" opacity="0.85"/>
<path d="M91.8 539.2 L95.8 545.2 L103.8 547.2" fill="none" stroke="#30d060" stroke-width="0.8" stroke-linejoin="round" opacity="0.85"/>
<path d="M121.8 549.2 L127.8 553.2" fill="none" stroke="#30d060" stroke-width="0.8" stroke-linejoin="round" opacity="0.85"/>
<path d="M107.8 577.2 L113.8 581.2 L115.8 589.2" fill="none" stroke="#30d060" stroke-width="0.8" stroke-linejoin="round" opacity="0.85"/>
<path d="M81.8 581.2 L87.8 585.2" fill="none" stroke="#30d060" stroke-width="0.8" stroke-linejoin="round" opacity="0.85"/>
<path d="M80.8 539.2 C85.8 543.2 86.8 551.2 83.8 561.2 C79.8 555.2 78.3 547.2 80.8 539.2 Z" fill="#05030c" stroke="#30e060" stroke-width="0.9"/>
<circle cx="113.8" cy="569.2" r="1.5" fill="#101070"/>
<path d="M103.8 571.2 l4 -1 l2 3 l-1 5 l-4 1 z" fill="none" stroke="#30e060" stroke-width="0.9"/>
<rect x="115.8" y="537.2" width="4" height="5" fill="#30e060" stroke="none" stroke-width="0.8" opacity="0.8" filter="url(#b05)"/>
<path d="M84.6 549h0M97 573.6h0M127.1 561.9h0M88.3 585.1h0M123.7 579.9h0M108.7 581h0M111.8 541.4h0M98.8 568.7h0M105.8 565.2h0M83.3 566h0M106.1 545.2h0M112.1 542.3h0M114.9 572.7h0M101.1 562h0M90 551.8h0M128.5 539.4h0M123.4 550.2h0M80.2 553.9h0M104.1 557.5h0M125.4 542.7h0M92.3 578h0M126.5 565.5h0M95.4 543.2h0M91 582.2h0M125.1 571.7h0M87.3 560.7h0M81.8 559.9h0M125.4 551.5h0M93.6 573.7h0" stroke="#60e090" stroke-width="0.8" stroke-linecap="round" opacity="0.9"/>
<path d="M110 568h0M92.7 559.1h0M87.9 553.5h0M118.3 582.4h0M97.4 539.9h0M127.1 543.3h0M93.5 572.5h0M128.9 558.6h0M123.4 539.6h0M108.2 558.2h0M103.3 568.4h0M129.8 545.8h0M122.4 537.8h0M89.8 572.3h0M105.4 579.8h0M101.8 562.9h0M86.5 583.9h0M90.5 545.7h0M106.2 549.6h0M106.9 584.8h0M106.9 550.2h0M112.8 559.5h0M115.8 587.8h0M97 585.5h0" stroke="#50d0ff" stroke-width="0.8" stroke-linecap="round" opacity="0.9"/>
<path d="M99.6 554.3h0M118.7 572h0M90.9 572.8h0M82.6 575.7h0M79.5 576.7h0M79.7 553.4h0M108.9 559.5h0M121 556.5h0M79.3 559.4h0M123.4 581.5h0M128.8 566.8h0M92 541.9h0M114.8 584.4h0M128.9 573.4h0M117.3 538.5h0M112.3 586.6h0M84.6 581h0" stroke="#40b0ff" stroke-width="0.8" stroke-linecap="round" opacity="0.9"/>
<path d="M98.6 550.4h0M118.4 560.5h0M114.3 563.5h0M97.3 557.5h0M129.9 570.1h0M84.4 571.7h0M107.7 572.1h0M113.1 550.7h0M129 557.2h0M89.4 567.2h0M115.2 580.3h0M97.1 554.4h0M119.6 573.4h0M104.9 548.7h0M116.4 564.7h0" stroke="#40c8ff" stroke-width="0.8" stroke-linecap="round" opacity="0.85"/>
<path d="M88.2 588h0M87.1 553.1h0M115.1 550h0M114.4 580.2h0M102.7 554.3h0M100 582.1h0M120.8 588.4h0M95.9 576.1h0M113.5 550.5h0M112.3 577.5h0M118.1 580.6h0M85.7 588.9h0M105.9 564h0M79.3 545.9h0M81.7 537.3h0" stroke="#38e070" stroke-width="0.8" stroke-linecap="round" opacity="0.85"/>
<path d="M96 545.3h0M80 546.9h0M120.7 539.9h0M102.2 538.1h0M126.4 555.6h0M93.6 586.6h0M110.2 567.5h0M79.3 538.5h0M125.7 549.9h0M104.3 572.3h0M125.5 573.5h0M90.5 558.9h0M91.3 580.8h0M121.7 538.3h0M92.4 556.8h0" stroke="#5080ff" stroke-width="0.8" stroke-linecap="round" opacity="0.85"/>
<rect x="117" y="585.3" width="11.6" height="2.2" fill="#ffffff" stroke="none" stroke-width="0.8"/>
</g>
<clipPath id="fc103"><rect x="131.7" y="537.2" width="52.6" height="52.1"/></clipPath>
<g clip-path="url(#fc103)">
<rect x="131.7" y="537.2" width="52.6" height="52.1" fill="#9a1cac" stroke="none" stroke-width="0.8"/>
<g filter="url(#b03)">
<path d="M173.74 587.14Q171.45 587.21 168.75 582.89Q166.05 578.56 168.71 574.9Q171.37 571.24 175.69 573.67Q180.02 576.1 180.65 578.8Q181.28 581.51 178.65 584.29Q176.03 587.06 173.74 587.14Z" fill="#cc20dc"/>
<path d="M157.06 539.92Q157.16 540.99 159.97 543.93Q162.78 546.88 168.46 543.31Q174.15 539.73 174.14 539.3Q174.14 538.86 169.75 534.12Q165.36 529.38 161.16 534.11Q156.96 538.84 157.06 539.92Z" fill="#d82ce6"/>
<path d="M146.01 595.68Q142.36 589.34 145.84 586.68Q149.31 584.01 152.65 585.5Q155.99 586.99 156.43 588.33Q156.87 589.67 153.27 595.84Q149.66 602.01 146.01 595.68Z" fill="#d024e0"/>
<path d="M185.76 542.71Q177.85 542.57 176.31 541.12Q174.78 539.66 174.78 539.25Q174.77 538.83 178.75 533.78Q182.73 528.73 188.2 535.79Q193.67 542.85 185.76 542.71Z" fill="#c81cd8"/>
<path d="M137.07 559.84Q140.86 562.84 138.04 567.9Q135.22 572.97 129.06 568.78Q122.9 564.6 128.09 560.72Q133.28 556.84 137.07 559.84Z" fill="#cc20dc"/>
<path d="M156.76 588.2Q157.21 589.56 162.07 590.71Q166.93 591.87 169.02 589.73Q171.12 587.59 168.31 583.09Q165.49 578.59 163.33 578.66Q161.17 578.74 158.74 582.79Q156.32 586.83 156.76 588.2Z" fill="#c81cd8"/>
<path d="M136.03 548.06Q139.31 544.31 139.66 544.27Q140 544.23 142.45 545.46Q144.9 546.69 146.62 550.58Q148.34 554.48 144.88 558.7Q141.42 562.92 141.09 562.98Q140.75 563.03 136.95 560.02Q133.15 557.01 132.95 554.41Q132.76 551.81 136.03 548.06Z" fill="#c018d0"/>
<path d="M171.82 559.9Q172.86 563.3 171.67 565.84Q170.47 568.37 164.46 566.2Q158.44 564.03 158.41 560.61Q158.37 557.18 160.62 554.87Q162.86 552.56 166.82 554.52Q170.77 556.49 171.82 559.9Z" fill="#cc20dc"/>
<path d="M177.49 547.31Q177.35 543.11 175.77 541.6Q174.18 540.1 168.63 543.59Q163.08 547.08 163.05 549.48Q163.03 551.89 167.07 553.9Q171.11 555.91 174.37 553.71Q177.64 551.52 177.49 547.31Z" fill="#d82ce6"/>
<path d="M152.76 585.03Q149.45 583.56 149 579.93Q148.55 576.31 150.77 573.73Q153 571.16 156.89 574.9Q160.78 578.64 158.42 582.57Q156.07 586.5 152.76 585.03Z" fill="#cc20dc"/>
<path d="M168.23 574.52Q171 570.71 170.8 569.83Q170.61 568.96 164.33 566.69Q158.05 564.43 155.6 567.58Q153.15 570.73 153.15 570.76Q153.15 570.78 157.15 574.63Q161.15 578.47 163.31 578.4Q165.47 578.32 168.23 574.52Z" fill="#d82ce6"/>
<path d="M144.92 558.66Q141.58 562.74 147.26 566.65Q152.95 570.56 155.41 567.4Q157.87 564.23 157.83 560.65Q157.79 557.06 153.02 555.82Q148.26 554.58 144.92 558.66Z" fill="#c018d0"/>
<path d="M146.63 550.61Q148.3 554.39 153.08 555.63Q157.86 556.88 160.22 554.45Q162.59 552.02 162.61 549.54Q162.63 547.06 159.81 544.1Q156.99 541.14 150.98 543.99Q144.96 546.84 146.63 550.61Z" fill="#c81cd8"/>
<path d="M178.05 547.29Q177.9 543.03 186.18 543.18Q194.46 543.32 197.21 544.62Q199.96 545.93 192.6 550.71Q185.23 555.5 181.71 553.52Q178.19 551.54 178.05 547.29Z" fill="#c81cd8"/>
<path d="M181.4 553.89Q177.94 551.94 174.69 554.13Q171.44 556.31 172.5 559.78Q173.56 563.24 178.61 562.61Q183.67 561.98 184.26 558.91Q184.86 555.83 181.4 553.89Z" fill="#d024e0"/>
<path d="M138.21 582.22Q138.01 576.53 136.64 575.23Q135.27 573.94 130.26 577.56Q125.26 581.18 129.46 585.45Q133.65 589.71 136.04 588.81Q138.42 587.91 138.21 582.22Z" fill="#c018d0"/>
<path d="M141.16 563.14Q140.84 563.19 138.18 567.97Q135.53 572.75 135.58 573.16Q135.64 573.56 136.99 574.84Q138.35 576.11 143.21 576.02Q148.08 575.93 150.31 573.35Q152.55 570.76 152.55 570.74Q152.55 570.71 147.01 566.9Q141.47 563.09 141.16 563.14Z" fill="#d82ce6"/>
<path d="M178.61 562.99Q173.47 563.63 172.23 566.26Q171 568.88 171.19 569.75Q171.39 570.61 175.84 573.12Q180.29 575.62 183.76 571.63Q187.24 567.65 185.49 565Q183.75 562.35 178.61 562.99Z" fill="#c81cd8"/>
<path d="M142.3 545.68Q139.85 544.45 143.42 536.59Q146.99 528.73 151.96 533.77Q156.93 538.82 157.04 539.93Q157.14 541.04 150.94 543.98Q144.75 546.91 142.3 545.68Z" fill="#d024e0"/>
<path d="M145.54 586.38Q142.09 589.03 140.42 588.45Q138.76 587.88 138.55 582.25Q138.35 576.62 143.22 576.53Q148.09 576.44 148.54 580.09Q149 583.73 145.54 586.38Z" fill="#cc20dc"/>
</g>
<path d="M135.3 573.7h0M180.4 575.8h0M171.3 587.6h0M156.2 586.9h0M132.9 551.8h0" stroke="#3050ff" stroke-width="1.2" stroke-linecap="round"/>
<path d="M135.2 572.8h0M170.8 568.9h0M181.7 581.6h0M162.7 547h0" stroke="#2030e0" stroke-width="1.2" stroke-linecap="round"/>
<path d="M162.7 552h0M173.3 563.5h0M138.6 588.1h0M148.2 554.5h0" stroke="#2030e0" stroke-width="1.6" stroke-linecap="round"/>
<path d="M153 570.7h0M133.3 556.9h0" stroke="#2030e0" stroke-width="0.8" stroke-linecap="round"/>
<path d="M153 570.8h0M171.2 570.7h0M149.3 583.8h0M140 544.4h0" stroke="#2a3cff" stroke-width="1.6" stroke-linecap="round"/>
<path d="M183.9 562.2h0M171.1 556.2h0M176.1 587.5h0M174.3 539.7h0M140.7 562.9h0" stroke="#2a3cff" stroke-width="1.2" stroke-linecap="round"/>
<path d="M174.3 538.9h0M177.9 551.7h0" stroke="#2a3cff" stroke-width="0.8" stroke-linecap="round"/>
<path d="M156.8 538.8h0" stroke="#3050ff" stroke-width="0.8" stroke-linecap="round"/>
<path d="M144.8 546.8h0" stroke="#3050ff" stroke-width="1.6" stroke-linecap="round"/>
<ellipse cx="143.7" cy="555.2" rx="1.2" ry="6" fill="#05030c" transform="rotate(-15 143.7 555.2)" filter="url(#b05)"/>
<path d="M161.7 547.2 L184.3 543.2 L184.3 589.3 L165.7 589.3 Z" fill="#3a0860" stroke="none" stroke-width="0.8" opacity="0.4"/>
<path d="M131.7 557.2 L139.7 561.2 L145.7 571.2 L147.7 589.2" fill="none" stroke="#14041c" stroke-width="0.8" stroke-linejoin="round" opacity="0.85"/>
<path d="M159.7 573.2 L167.7 567.2 L177.7 563.2 L184.3 561.2" fill="none" stroke="#14041c" stroke-width="0.8" stroke-linejoin="round" opacity="0.85"/>
<path d="M165.7 581.2 L173.7 577.2 L184.3 579.2" fill="none" stroke="#14041c" stroke-width="0.8" stroke-linejoin="round" opacity="0.85"/>
<path d="M136.7 573.2 L143.7 577.2" fill="none" stroke="#14041c" stroke-width="0.8" stroke-linejoin="round" opacity="0.85"/>
<path d="M147.7 537.2 L166.7 537.2 L162.7 557.2 L159.7 577.2 L153.7 557.2 Z" fill="#30c890" stroke="none" stroke-width="0.8" opacity="0.55" filter="url(#b1)"/>
<path d="M155.7 580h0M157.7 543.3h0M146.1 537.2h0M154.8 552.6h0M150.4 539.7h0M164.3 576.1h0M155.2 547.8h0M159.5 576h0M159 568.3h0M146.1 542.7h0M145.5 542.3h0M152.1 556.8h0M152.2 544.6h0M156 552.5h0M150 548h0M151.1 534.6h0M155.1 564.8h0M153.9 562.7h0M154.9 574.9h0M146.5 540.4h0M159 547.5h0M152.1 576.5h0M152.1 551.3h0M153.7 561.1h0M148.5 552.9h0M152.3 548.2h0" stroke="#a0ffa0" stroke-width="1.2" stroke-linecap="round" opacity="0.9"/>
<path d="M156.6 566.8h0M152 552.7h0M159.4 571.8h0M147.2 535.3h0M154.3 548.2h0M152.3 556h0M152.9 543.6h0M152.8 556.4h0M157.9 541.2h0M155.6 543.8h0M158.5 574.7h0M152.6 537.9h0M157.5 569.5h0M154.4 559.5h0M157.7 570.7h0M150.4 546.9h0M160.5 551.6h0M160.4 565.5h0M153.1 542.4h0M158.5 567.8h0M157.9 554.9h0M154.8 565.3h0M161.3 576.3h0M155.4 572.2h0" stroke="#40c0ff" stroke-width="1.2" stroke-linecap="round" opacity="0.9"/>
<path d="M151 538.8h0M150.2 540.5h0M156.2 560.5h0M149.1 553h0M151.4 542.7h0M153.5 539.9h0M147.7 540.7h0M149.5 557.2h0M158.3 565.8h0M154.3 561.2h0M154.7 537.7h0M159.3 575.8h0M155.1 557.7h0M162 572.8h0M150.2 542.7h0M149.4 539.8h0M156.9 563h0M157.8 553.4h0M154.5 549.6h0M163.9 576.9h0M153.7 553.8h0M159.2 542.9h0" stroke="#50ff80" stroke-width="1.2" stroke-linecap="round" opacity="0.9"/>
<path d="M162.2 567.9h0M162.2 568.1h0M160.2 575.7h0M157.2 571.6h0M155.8 556.9h0M151.8 557.3h0M158.3 567.3h0M154.8 560h0M156.6 551.1h0M156.7 573.2h0M154.6 569.4h0M154.6 551.6h0M156 554h0M163.2 558.5h0M151.5 551.4h0M150.9 543.4h0M158 566.7h0M151.8 573.4h0" stroke="#30e060" stroke-width="1.2" stroke-linecap="round" opacity="0.9"/>
<path d="M131.7 537.2 L148.7 537.2 L147.7 542.2 C141.7 546.2 135.7 545.2 131.7 546.2 Z" fill="#05030c" stroke="none" stroke-width="0.8" filter="url(#b05)"/>
<rect x="131.7" y="538.2" width="3" height="8" fill="#2a40e0" stroke="none" stroke-width="0.8" opacity="0.7" filter="url(#b05)"/>
<path d="M146.7 556.5h0M170.4 542.5h0M146.6 560.9h0M181.3 573.1h0M177.8 559h0M177.1 577.9h0M160.2 548.9h0M153.9 555.9h0M135.8 578.5h0M159.3 573.3h0M155.6 557.9h0M148.5 569.3h0M153.4 554.8h0M150.7 566h0M161.1 559.1h0M175.2 553.6h0M177.2 579.1h0M174.2 566.1h0M165.7 538.5h0M133.8 545.9h0M141 572h0M149.5 576.6h0M176.4 580.6h0M169.4 549.7h0" stroke="#38e070" stroke-width="0.8" stroke-linecap="round" opacity="0.85"/>
<path d="M169 579.1h0M168.1 543h0M183 569.5h0M146.2 548.5h0M169.8 545.9h0M177.7 563.2h0M170.5 586.9h0M169.6 553.8h0" stroke="#40c8ff" stroke-width="0.8" stroke-linecap="round" opacity="0.85"/>
<path d="M166.1 542.9h0M136.1 576.8h0M155.4 546.7h0M172.5 552.9h0M150.2 574.3h0M171.6 562.3h0M175.5 542.3h0M172.8 550.3h0M137.1 575.4h0M150.3 559.8h0M154.2 580.2h0M176 557.1h0M135.3 581.6h0" stroke="#5080ff" stroke-width="0.8" stroke-linecap="round" opacity="0.85"/>
<rect x="170.9" y="585.3" width="11.6" height="2.2" fill="#ffffff" stroke="none" stroke-width="0.8"/>
</g>
<clipPath id="fc104"><rect x="24.2" y="590.6" width="52.4" height="52.8"/></clipPath>
<g clip-path="url(#fc104)">
<rect x="24.2" y="590.6" width="52.4" height="52.8" fill="#16106e" stroke="none" stroke-width="0.8"/>
<g filter="url(#b03)">
<path d="M63.42 600.91Q60.99 599 62.1 596.15Q63.22 593.29 63.71 592.93Q64.19 592.57 67.76 595.08Q71.32 597.59 71.27 598.01Q71.22 598.43 68.54 600.62Q65.86 602.82 63.42 600.91Z" fill="#c812dc"/>
<path d="M36.81 634.12Q38.35 635.47 39.88 635.17Q41.42 634.86 42.03 633.76Q42.64 632.65 41.32 629.87Q40 627.08 37.9 627.95Q35.79 628.82 35.53 630.79Q35.26 632.76 36.81 634.12Z" fill="#c812dc"/>
<path d="M30.21 640.47Q29.36 639.7 27.15 640.79Q24.94 641.88 24.61 644.74Q24.29 647.59 25.42 648.96Q26.56 650.32 28.73 648.4Q30.91 646.48 30.99 643.86Q31.06 641.24 30.21 640.47Z" fill="#d820ec"/>
<path d="M22.51 622.78Q22.02 623 21.03 624.74Q20.05 626.49 21 629.43Q21.95 632.37 24.16 632.35Q26.37 632.34 27.56 629.48Q28.75 626.61 25.88 624.59Q23.01 622.56 22.51 622.78Z" fill="#d820ec"/>
<path d="M73.8 616.81Q73.77 616.81 72.26 621.03Q70.76 625.24 70.83 625.46Q70.91 625.69 74.32 626.28Q77.74 626.87 78.92 625.43Q80.11 623.98 79.51 621.9Q78.91 619.82 76.37 618.32Q73.82 616.81 73.8 616.81Z" fill="#c410d8"/>
<path d="M40.92 600.25Q42.26 599.7 44.42 600.59Q46.57 601.47 45.89 605.25Q45.21 609.02 42.64 609.34Q40.08 609.67 39.82 605.24Q39.57 600.81 40.92 600.25Z" fill="#d018e6"/>
<path d="M61.7 625.99Q61.8 622.02 59.98 621.81Q58.16 621.61 56.68 622.77Q55.21 623.93 55.17 626.36Q55.12 628.79 56.8 630.36Q58.48 631.93 59.42 631.69Q60.36 631.45 60.98 630.71Q61.61 629.97 61.7 625.99Z" fill="#c410d8"/>
<path d="M42.78 610.1Q45.37 609.76 47.1 610.8Q48.84 611.84 49.36 612.96Q49.88 614.08 49.32 615.21Q48.76 616.35 45.79 617.2Q42.83 618.05 41.11 615.32Q39.39 612.58 39.72 611.55Q40.06 610.52 40.12 610.48Q40.18 610.43 42.78 610.1Z" fill="#c812dc"/>
<path d="M56.73 602.22Q57.83 600.16 54.94 598.03Q52.05 595.9 50.21 598.46Q48.36 601.03 51.23 602.8Q54.1 604.57 54.86 604.43Q55.63 604.28 56.73 602.22Z" fill="#d018e6"/>
<path d="M31.6 617.34Q32.2 617.62 32.51 618.53Q32.83 619.45 31.86 622.38Q30.89 625.31 29.98 625.62Q29.07 625.94 26.38 624.04Q23.69 622.14 24.33 620.79Q24.97 619.44 27.98 618.25Q31 617.06 31.6 617.34Z" fill="#c00ed4"/>
<path d="M66.42 643.53Q66.95 644.08 67.7 644.2Q68.44 644.33 72.36 642.4Q76.27 640.47 74.95 638.01Q73.62 635.55 72.44 635.19Q71.27 634.84 69.04 636.22Q66.8 637.61 66.35 640.3Q65.89 642.99 66.42 643.53Z" fill="#c410d8"/>
<path d="M32.07 616.43Q32.68 616.72 35.57 614.62Q38.46 612.52 38.79 611.51Q39.12 610.5 35.07 608.72Q31.02 606.94 30.04 608.9Q29.06 610.86 30.26 613.5Q31.45 616.15 32.07 616.43Z" fill="#d820ec"/>
<path d="M58.37 639.44Q59.73 642.81 62.57 642.76Q65.41 642.72 65.85 640.1Q66.29 637.49 63.43 634.87Q60.57 632.25 59.62 632.5Q58.66 632.74 57.83 634.41Q57 636.08 58.37 639.44Z" fill="#d820ec"/>
<path d="M21.92 595.14Q22.21 596.44 24.05 597.88Q25.89 599.33 28.6 596.75Q31.31 594.17 29.42 591.49Q27.52 588.81 26.76 588.77Q26 588.72 23.82 591.28Q21.63 593.84 21.92 595.14Z" fill="#c812dc"/>
<path d="M63.4 592.51Q63.9 592.14 64.42 590.57Q64.95 589.01 61.94 586.6Q58.92 584.19 56.75 585.99Q54.59 587.79 54.84 589.18Q55.09 590.57 59 591.72Q62.9 592.88 63.4 592.51Z" fill="#c812dc"/>
<path d="M70.28 625.57Q70.21 625.36 66.88 623.3Q63.56 621.24 63.02 621.56Q62.48 621.88 62.38 625.84Q62.29 629.81 65.68 629.05Q69.07 628.3 69.71 627.04Q70.35 625.78 70.28 625.57Z" fill="#c812dc"/>
<path d="M56.46 617.93Q57.84 620.96 56.31 622.16Q54.78 623.36 52.52 622.41Q50.27 621.45 49.8 619.1Q49.33 616.74 49.91 615.58Q50.49 614.41 52.78 614.66Q55.07 614.91 56.46 617.93Z" fill="#d018e6"/>
<path d="M72.59 634.81Q73.77 635.17 76.03 632.95Q78.29 630.72 77.98 628.95Q77.67 627.18 74.26 626.59Q70.86 625.99 70.18 627.33Q69.5 628.66 70.46 631.56Q71.42 634.45 72.59 634.81Z" fill="#c00ed4"/>
<path d="M48.83 630.92Q48.27 631.9 49.46 634.69Q50.64 637.48 53.5 636.6Q56.37 635.72 57.18 634.07Q58 632.43 56.31 630.85Q54.63 629.27 52.01 629.61Q49.4 629.95 48.83 630.92Z" fill="#d820ec"/>
<path d="M40.63 599.68Q42.03 599.1 42.44 596.03Q42.85 592.96 40.03 591.94Q37.21 590.92 35.4 592.69Q33.6 594.46 35.49 597.11Q37.38 599.76 38.31 600.01Q39.23 600.26 40.63 599.68Z" fill="#d018e6"/>
<path d="M32.37 594.6Q31.6 594.53 28.91 597.09Q26.22 599.64 26.31 600.31Q26.4 600.97 28.47 602.85Q30.54 604.73 33.71 602.31Q36.88 599.9 35.01 597.29Q33.14 594.67 32.37 594.6Z" fill="#c410d8"/>
<path d="M58.08 607.78Q60.32 610.68 57.74 612.61Q55.16 614.54 52.82 614.28Q50.49 614.03 49.94 612.86Q49.4 611.69 51.78 608.44Q54.17 605.2 55 605.04Q55.83 604.88 58.08 607.78Z" fill="#c812dc"/>
<path d="M34.02 641.05Q31.85 641.24 31.78 643.82Q31.71 646.4 34.07 647.08Q36.43 647.75 37.95 645.97Q39.47 644.19 37.82 642.53Q36.18 640.86 34.02 641.05Z" fill="#c00ed4"/>
<path d="M29.4 608.37Q28.42 610.33 25.83 610.46Q23.24 610.59 22.61 608.01Q21.97 605.42 24.06 603.51Q26.14 601.61 28.16 603.43Q30.18 605.26 30.28 605.83Q30.38 606.4 29.4 608.37Z" fill="#d018e6"/>
<path d="M66.25 605.5Q66.49 607.75 67.92 608.1Q69.35 608.46 72.01 607.17Q74.67 605.88 74.98 604.97Q75.29 604.06 73.41 601.39Q71.53 598.73 68.77 600.99Q66.01 603.25 66.25 605.5Z" fill="#c00ed4"/>
<path d="M29.03 637.25Q29.18 638.94 26.89 640.06Q24.61 641.19 22.57 640.06Q20.53 638.93 20.77 636.45Q21.01 633.96 21.53 633.45Q22.06 632.93 24.22 632.92Q26.39 632.9 27.64 634.23Q28.89 635.55 29.03 637.25Z" fill="#c00ed4"/>
<path d="M18.11 591.47Q14.9 589.56 18.16 586.98Q21.42 584.39 23.46 586.44Q25.5 588.48 23.4 590.92Q21.31 593.37 18.11 591.47Z" fill="#c00ed4"/>
<path d="M76.27 587.31Q75.08 588.62 75.34 591.38Q75.6 594.13 77.53 594.86Q79.45 595.58 82.29 593.19Q85.12 590.8 81.29 588.4Q77.45 585.99 76.27 587.31Z" fill="#c410d8"/>
<path d="M37.77 627.43Q39.85 626.57 40.45 625.43Q41.05 624.3 40.88 623.75Q40.71 623.21 37.15 621.44Q33.59 619.67 32.58 622.72Q31.57 625.77 33.63 627.03Q35.69 628.29 37.77 627.43Z" fill="#d018e6"/>
<path d="M76.48 613.8Q74.44 616.39 76.82 617.79Q79.19 619.2 84.45 614.97Q89.71 610.74 84.12 610.98Q78.53 611.22 76.48 613.8Z" fill="#c812dc"/>
<path d="M46.94 640.17Q49.03 640.13 49.86 642.53Q50.69 644.93 50.29 645.69Q49.89 646.46 47.39 647.02Q44.9 647.59 43.26 645.87Q41.62 644.15 43.24 642.18Q44.85 640.2 46.94 640.17Z" fill="#c410d8"/>
<path d="M64.71 609.65Q62.98 611.05 63.99 613.91Q65 616.77 69.06 616.49Q73.13 616.21 71.13 612.56Q69.13 608.91 67.78 608.58Q66.43 608.24 64.71 609.65Z" fill="#d820ec"/>
<path d="M61.49 611.54Q62.37 611.65 63.34 614.4Q64.31 617.14 63.66 618.74Q63 620.33 62.48 620.63Q61.95 620.94 60.21 620.75Q58.46 620.55 57.17 617.75Q55.89 614.95 58.25 613.19Q60.6 611.44 61.49 611.54Z" fill="#c00ed4"/>
<path d="M32.07 633.98Q29.31 635.26 28.02 633.89Q26.73 632.53 27.93 629.64Q29.14 626.75 30.12 626.41Q31.1 626.07 33.23 627.37Q35.37 628.68 35.09 630.69Q34.82 632.71 32.07 633.98Z" fill="#d820ec"/>
<path d="M72.55 642.57Q68.62 644.51 71.35 647.23Q74.08 649.95 76.32 648.08Q78.56 646.21 77.58 643.45Q76.59 640.69 76.54 640.66Q76.48 640.64 72.55 642.57Z" fill="#d820ec"/>
<path d="M30.81 639.7Q29.98 638.94 29.84 637.33Q29.7 635.71 32.25 634.53Q34.8 633.35 36.26 634.64Q37.72 635.92 36.84 638.01Q35.96 640.09 33.81 640.28Q31.65 640.47 30.81 639.7Z" fill="#d820ec"/>
<path d="M48.79 587.16Q46.49 588.1 46.26 589.49Q46.04 590.87 48.86 592.63Q51.68 594.38 53.03 592.44Q54.38 590.5 54.15 589.23Q53.92 587.95 52.51 587.09Q51.1 586.22 48.79 587.16Z" fill="#d018e6"/>
<path d="M44 585.99Q42.43 584 39.92 585.65Q37.42 587.31 37.48 588.89Q37.54 590.46 40.26 591.45Q42.98 592.43 44.05 591.63Q45.12 590.84 45.35 589.41Q45.58 587.98 44 585.99Z" fill="#c00ed4"/>
<path d="M32.56 593.76Q31.82 593.7 30.04 591.18Q28.27 588.66 30.24 586.44Q32.21 584.23 34.38 585.84Q36.55 587.46 36.61 588.99Q36.67 590.52 34.98 592.17Q33.29 593.83 32.56 593.76Z" fill="#c410d8"/>
<path d="M50.13 638.96Q49.57 639.82 50.44 642.3Q51.3 644.79 54.67 644.58Q58.04 644.38 58.66 643.73Q59.28 643.08 57.9 639.69Q56.53 636.3 53.6 637.2Q50.68 638.1 50.13 638.96Z" fill="#c812dc"/>
<path d="M59.4 599.41Q60.48 598.98 61.63 596.05Q62.78 593.12 58.86 591.96Q54.95 590.81 53.49 592.92Q52.02 595.03 52.03 595.13Q52.04 595.22 55.18 597.53Q58.32 599.85 59.4 599.41Z" fill="#c812dc"/>
<path d="M41.65 629.65Q42.99 632.49 45.35 632.07Q47.7 631.65 48.29 630.64Q48.87 629.63 47.75 627.45Q46.63 625.28 44.09 624.87Q41.55 624.47 40.92 625.64Q40.3 626.81 41.65 629.65Z" fill="#c812dc"/>
<path d="M75.58 637.76Q76.8 640.01 76.85 640.03Q76.9 640.06 81.58 638.07Q86.27 636.07 82.38 633.77Q78.49 631.47 76.43 633.49Q74.37 635.52 75.58 637.76Z" fill="#c410d8"/>
<path d="M68.09 594.5Q64.76 592.16 65.25 590.74Q65.73 589.31 66.51 588.7Q67.29 588.09 70.73 588.46Q74.18 588.83 74.42 591.42Q74.67 594 73.04 595.42Q71.42 596.84 68.09 594.5Z" fill="#c410d8"/>
<path d="M59.66 600.02Q60.7 599.6 63.1 601.48Q65.49 603.36 65.72 605.51Q65.96 607.65 64.22 609.07Q62.48 610.49 61.55 610.38Q60.63 610.27 58.48 607.5Q56.33 604.73 57.48 602.58Q58.63 600.44 59.66 600.02Z" fill="#d018e6"/>
<path d="M16.22 600.13Q10.53 603.24 15.99 604.09Q21.45 604.94 23.54 603.03Q25.63 601.12 25.55 600.47Q25.46 599.82 23.68 598.42Q21.9 597.03 16.22 600.13Z" fill="#c410d8"/>
<path d="M48.02 627.35Q46.88 625.14 48.52 623.45Q50.15 621.76 52.45 622.73Q54.74 623.7 54.7 626.27Q54.65 628.84 51.91 629.2Q49.16 629.55 48.02 627.35Z" fill="#c812dc"/>
<path d="M37.62 638.27Q36.73 640.39 38.39 642.08Q40.06 643.77 40.53 643.75Q41 643.74 42.6 641.78Q44.2 639.82 42.84 637.69Q41.47 635.57 39.99 635.86Q38.51 636.15 37.62 638.27Z" fill="#c410d8"/>
<path d="M35.95 615.18Q33.07 617.27 33.4 618.2Q33.72 619.14 37.21 620.88Q40.71 622.61 41.46 620.53Q42.22 618.45 40.53 615.77Q38.84 613.08 35.95 615.18Z" fill="#c812dc"/>
<path d="M71.88 598.09Q71.82 598.52 73.66 601.12Q75.49 603.72 78.58 602.61Q81.67 601.49 80.49 598.79Q79.31 596.08 77.36 595.35Q75.42 594.61 73.67 596.14Q71.93 597.67 71.88 598.09Z" fill="#c00ed4"/>
<path d="M44.88 599.78Q42.8 598.93 43.18 596.08Q43.56 593.23 44.6 592.47Q45.63 591.7 48.43 593.45Q51.24 595.19 51.25 595.28Q51.26 595.37 49.43 597.91Q47.6 600.46 47.28 600.55Q46.95 600.64 44.88 599.78Z" fill="#c410d8"/>
<path d="M44.19 624.32Q41.83 623.95 41.67 623.43Q41.51 622.91 42.25 620.88Q42.98 618.85 45.82 618.03Q48.66 617.21 49.1 619.41Q49.54 621.6 48.04 623.15Q46.55 624.7 44.19 624.32Z" fill="#d018e6"/>
<path d="M29.57 613.66Q30.79 616.35 27.65 617.59Q24.51 618.84 23 615.95Q21.48 613.06 22.29 612.15Q23.1 611.23 25.73 611.1Q28.36 610.97 29.57 613.66Z" fill="#c812dc"/>
<path d="M73.72 616.2Q73.7 616.18 71.73 612.59Q69.76 608.99 72.25 607.78Q74.74 606.58 76.31 608.8Q77.88 611.03 75.83 613.62Q73.79 616.2 73.77 616.2Q73.74 616.21 73.72 616.2Z" fill="#c00ed4"/>
<path d="M42.48 634.02Q43.09 632.9 45.42 632.48Q47.75 632.06 48.97 634.93Q50.19 637.8 49.64 638.67Q49.08 639.53 46.91 639.57Q44.73 639.6 43.3 637.37Q41.86 635.13 42.48 634.02Z" fill="#c00ed4"/>
<path d="M68.66 635.67Q66.59 636.96 63.85 634.45Q61.12 631.94 61.73 631.22Q62.34 630.5 65.65 629.76Q68.96 629.03 69.85 631.71Q70.73 634.39 68.66 635.67Z" fill="#c00ed4"/>
<path d="M46.43 605.39Q47.11 601.63 47.44 601.53Q47.78 601.44 50.72 603.26Q53.66 605.08 51.41 608.13Q49.17 611.19 47.46 610.16Q45.75 609.14 46.43 605.39Z" fill="#c00ed4"/>
<path d="M73.44 616.76Q73.42 616.75 69.23 617.04Q65.04 617.33 64.33 619.03Q63.63 620.74 67.07 622.87Q70.51 625.01 71.99 620.89Q73.46 616.77 73.44 616.76Z" fill="#c00ed4"/>
<path d="M39.25 605.35Q39 600.92 38.1 600.68Q37.21 600.44 34.12 602.8Q31.02 605.15 31.13 605.73Q31.23 606.3 35.31 608.09Q39.39 609.89 39.44 609.84Q39.5 609.79 39.25 605.35Z" fill="#d018e6"/>
</g>
<path d="M58.5 632.4h0M43.1 592.8h0M51.8 595h0M51.8 595.2h0M50.4 614.2h0M37.3 600h0M37.1 590.6h0M61.9 630.2h0M62.1 621.5h0M71.3 634.6h0M73.7 616.6h0M62.6 610.9h0M49.3 639.7h0M31.2 616.5h0M41.6 635.1h0M42.9 632.7h0M31.4 640.9h0" stroke="#3050ff" stroke-width="1.2" stroke-linecap="round"/>
<path d="M60.5 631.9h0M50.1 621.6h0M75.5 604h0M64.1 592.3h0M59.6 643.2h0M54.2 605h0M55.9 604.7h0M58.4 600h0M24.6 641.6h0M28.6 610.7h0M45.5 609.5h0M42.2 599.3h0M36.3 640.4h0" stroke="#2030e0" stroke-width="1.2" stroke-linecap="round"/>
<path d="M45.4 591h0M58.1 621.1h0M66.7 637.5h0M63 593h0M42.7 618.5h0M29.5 639.1h0" stroke="#3050ff" stroke-width="0.8" stroke-linecap="round"/>
<path d="M26.1 601.1h0M31.7 594.2h0M73.8 635.4h0M76.5 640.5h0M65.7 643.1h0M66.3 607.9h0M35.6 628.6h0" stroke="#2030e0" stroke-width="1.6" stroke-linecap="round"/>
<path d="M64.8 617.2h0M70.6 625.4h0M33.3 619.2h0M39.7 610.3h0M30.7 606.4h0" stroke="#2a3cff" stroke-width="1.6" stroke-linecap="round"/>
<path d="M69.3 608.6h0M71.7 597.6h0M60.6 610.7h0M60.6 599.1h0M50.4 637.9h0M47.9 631.8h0M46.7 625.1h0M40.1 626.7h0" stroke="#2a3cff" stroke-width="1.2" stroke-linecap="round"/>
<path d="M71.6 598.5h0M65.8 603.2h0M39.8 610.2h0" stroke="#3050ff" stroke-width="1.6" stroke-linecap="round"/>
<path d="M38.3 635.7h0" stroke="#2030e0" stroke-width="0.8" stroke-linecap="round"/>
<ellipse cx="69.2" cy="618.6" rx="2.5" ry="2" fill="#05030c" transform="rotate(0 69.2 618.6)" filter="url(#b05)"/>
<ellipse cx="27.2" cy="638.6" rx="3" ry="2.5" fill="#05030c" transform="rotate(0 27.2 638.6)" filter="url(#b05)"/>
<rect x="63.2" y="639.4" width="11.6" height="2.2" fill="#ffffff" stroke="none" stroke-width="0.8"/>
</g>
<clipPath id="fc105"><rect x="77.8" y="590.6" width="52.6" height="52.8"/></clipPath>
<g clip-path="url(#fc105)">
<rect x="77.8" y="590.6" width="52.6" height="52.8" fill="#16106e" stroke="none" stroke-width="0.8"/>
<g filter="url(#b03)">
<path d="M131.22 602.94Q129.37 602.31 127.86 603.01Q126.34 603.71 126.89 607.9Q127.43 612.08 128.28 612.27Q129.13 612.45 130.86 611.67Q132.6 610.89 133.49 609.08Q134.38 607.27 133.72 605.43Q133.06 603.58 131.22 602.94Z" fill="#ca12de"/>
<path d="M87.29 635.45Q87.1 639.33 89.04 640.21Q90.98 641.09 92.86 640.68Q94.74 640.28 95.85 638.83Q96.96 637.37 94.37 633.78Q91.79 630.18 89.64 630.87Q87.48 631.57 87.29 635.45Z" fill="#e024f2"/>
<path d="M96.34 594.4Q96.54 592.59 94.41 590.51Q92.27 588.42 90.8 589.51Q89.33 590.59 89.62 593.43Q89.9 596.26 91.59 597.02Q93.28 597.77 94.72 596.99Q96.15 596.21 96.34 594.4Z" fill="#e024f2"/>
<path d="M81.54 631.06Q77.98 632.2 76.21 630.21Q74.44 628.23 75.6 626.17Q76.75 624.11 79.3 623.25Q81.85 622.38 83.47 626.15Q85.09 629.92 81.54 631.06Z" fill="#da1eee"/>
<path d="M99.18 605.05Q96.91 605.79 95.93 609.11Q94.95 612.43 95.12 612.77Q95.3 613.1 96.52 613.42Q97.73 613.73 100.25 612.28Q102.77 610.83 102.42 607.78Q102.07 604.74 101.76 604.53Q101.46 604.31 99.18 605.05Z" fill="#ca12de"/>
<path d="M102.5 646.6Q106.02 646.15 106.83 645.27Q107.65 644.38 107.02 642.5Q106.39 640.62 102.43 639.16Q98.46 637.71 98.24 637.77Q98.02 637.83 96.85 639.36Q95.69 640.89 97.33 643.96Q98.98 647.04 102.5 646.6Z" fill="#da1eee"/>
<path d="M134.83 595.35Q129.83 594.07 129.62 597.8Q129.41 601.53 131.4 602.22Q133.4 602.91 136.62 599.77Q139.84 596.63 134.83 595.35Z" fill="#ca12de"/>
<path d="M103.51 597.44Q105.58 595.35 106.63 595.35Q107.69 595.35 108.91 598.88Q110.13 602.41 109.52 603.05Q108.91 603.68 105.74 603.89Q102.57 604.09 102.26 603.87Q101.96 603.65 101.7 601.6Q101.44 599.54 103.51 597.44Z" fill="#ca12de"/>
<path d="M115.61 589.95Q116.57 593.76 112.98 593.66Q109.4 593.55 109.63 590.84Q109.86 588.14 112.25 587.14Q114.64 586.13 115.61 589.95Z" fill="#ce14e2"/>
<path d="M123.29 636.85Q124.92 639.44 127.62 638.32Q130.31 637.2 130.65 636.31Q130.98 635.43 129.2 632.55Q127.42 629.66 124.61 631.65Q121.81 633.63 121.73 633.94Q121.66 634.26 123.29 636.85Z" fill="#e024f2"/>
<path d="M96.73 624.69Q94.34 624.93 92.84 622.42Q91.33 619.9 93.21 616.84Q95.09 613.78 96.33 614.1Q97.58 614.42 99.43 617.14Q101.27 619.86 100.19 622.16Q99.11 624.45 96.73 624.69Z" fill="#ca12de"/>
<path d="M104.66 629.35Q103.77 629.3 101.23 633.21Q98.68 637.12 102.71 638.6Q106.73 640.07 108.36 637.07Q109.98 634.07 109.92 633.73Q109.87 633.39 107.71 631.4Q105.55 629.41 104.66 629.35Z" fill="#da1eee"/>
<path d="M108.88 637.68Q107.32 640.56 107.92 642.39Q108.53 644.23 111.14 644.82Q113.75 645.42 114.88 644.94Q116 644.45 115.92 640.98Q115.83 637.51 113.14 636.15Q110.44 634.79 108.88 637.68Z" fill="#ce14e2"/>
<path d="M104.7 628.37Q103.86 628.31 101.93 626.44Q100 624.57 101.02 622.42Q102.03 620.27 104.64 619.48Q107.24 618.7 108.64 619.56Q110.04 620.42 110.15 621.11Q110.27 621.8 107.9 625.11Q105.54 628.42 104.7 628.37Z" fill="#e024f2"/>
<path d="M129.68 625.73Q131.1 624.92 136.94 628.73Q142.78 632.53 137.18 633.89Q131.57 635.24 129.66 632.16Q127.76 629.08 128.01 627.81Q128.27 626.53 129.68 625.73Z" fill="#da1eee"/>
<path d="M81.15 609.57Q83.46 612.76 83 614.34Q82.55 615.93 78.91 615.15Q75.28 614.37 74.33 612.39Q73.38 610.41 74.38 608.87Q75.38 607.33 77.11 606.85Q78.84 606.38 81.15 609.57Z" fill="#e024f2"/>
<path d="M92.77 600.67Q92.88 598.5 91.23 597.76Q89.58 597.03 88.12 597.94Q86.65 598.84 86.62 600.95Q86.59 603.07 87.53 603.87Q88.47 604.68 90.56 603.76Q92.66 602.84 92.77 600.67Z" fill="#ca12de"/>
<path d="M79.32 595.54Q78.36 595.94 77.85 595.81Q77.33 595.69 75.5 593.33Q73.68 590.97 76.82 587.61Q79.97 584.25 81.62 587.16Q83.26 590.07 81.77 592.61Q80.29 595.15 79.32 595.54Z" fill="#d216e6"/>
<path d="M116.66 610.39Q117.97 609.18 121.75 611.18Q125.53 613.17 123.58 615.83Q121.63 618.49 118.52 617.42Q115.42 616.35 115.39 613.97Q115.36 611.59 116.66 610.39Z" fill="#da1eee"/>
<path d="M116.3 609.91Q117.56 608.74 117.64 607.24Q117.73 605.73 116.01 604.13Q114.29 602.53 112.52 602.7Q110.74 602.87 110.14 603.49Q109.54 604.12 110.04 606.79Q110.54 609.45 112.79 610.26Q115.05 611.07 116.3 609.91Z" fill="#da1eee"/>
<path d="M126.48 613.17Q127.07 612.94 127.99 613.14Q128.91 613.34 130.57 617.6Q132.23 621.86 131.56 623.17Q130.89 624.47 129.47 625.28Q128.05 626.08 125.35 624.24Q122.65 622.41 122.31 620.57Q121.98 618.74 123.94 616.07Q125.9 613.4 126.48 613.17Z" fill="#ca12de"/>
<path d="M119 630.47Q116.65 627.85 116.69 627.21Q116.73 626.57 119.57 624.73Q122.41 622.89 125.05 624.68Q127.68 626.48 127.44 627.72Q127.19 628.96 124.27 631.03Q121.35 633.09 119 630.47Z" fill="#e024f2"/>
<path d="M79.23 605.2Q79.69 604.48 78.97 600.54Q78.24 596.6 77.7 596.47Q77.16 596.34 74.05 598.67Q70.93 601.01 73.12 603.94Q75.31 606.88 77.04 606.4Q78.77 605.92 79.23 605.2Z" fill="#e024f2"/>
<path d="M121.65 620.66Q121.33 618.89 118.32 617.85Q115.31 616.82 113.18 618.47Q111.05 620.12 111.16 620.84Q111.28 621.56 113.81 623.82Q116.35 626.08 119.16 624.26Q121.97 622.43 121.65 620.66Z" fill="#da1eee"/>
<path d="M97.12 594.52Q97.31 592.75 99.43 591.94Q101.54 591.13 103.26 593.03Q104.98 594.93 103.01 596.92Q101.04 598.92 98.99 597.6Q96.93 596.28 97.12 594.52Z" fill="#d216e6"/>
<path d="M122.9 592.83Q125.32 591.04 121.44 586.29Q117.56 581.54 116.37 583.68Q115.18 585.83 116.21 589.91Q117.24 593.99 117.61 594.29Q117.99 594.58 119.24 594.6Q120.49 594.62 122.9 592.83Z" fill="#ce14e2"/>
<path d="M82.59 620.41Q83.38 618.95 82.94 617.66Q82.51 616.37 78.94 615.61Q75.37 614.84 74.13 616.93Q72.89 619.01 74.82 621.3Q76.74 623.59 79.27 622.74Q81.79 621.88 82.59 620.41Z" fill="#e024f2"/>
<path d="M86.26 611.56Q88.37 610.1 91.24 611.49Q94.1 612.88 94.27 613.21Q94.45 613.55 92.63 616.52Q90.8 619.49 87.46 619.03Q84.12 618.58 83.69 617.32Q83.26 616.05 83.7 614.53Q84.14 613.01 86.26 611.56Z" fill="#d216e6"/>
<path d="M85.97 611.06Q88.18 609.54 88.17 607.4Q88.15 605.27 87.14 604.39Q86.12 603.52 83.08 604.12Q80.04 604.72 79.58 605.44Q79.12 606.16 81.44 609.37Q83.76 612.58 85.97 611.06Z" fill="#da1eee"/>
<path d="M106.83 615.46Q107.24 617.95 104.45 618.79Q101.66 619.64 99.8 616.9Q97.94 614.16 100.53 612.67Q103.12 611.18 104.76 612.08Q106.41 612.97 106.83 615.46Z" fill="#e024f2"/>
<path d="M79.84 640.26Q82.43 641.31 81.7 647.03Q80.97 652.74 77.21 649.07Q73.45 645.4 74.82 642.54Q76.19 639.69 76.72 639.45Q77.26 639.21 79.84 640.26Z" fill="#ce14e2"/>
<path d="M84.49 639.97Q82.82 640.6 80.25 639.56Q77.68 638.51 78.01 635.64Q78.34 632.76 81.78 631.66Q85.21 630.56 85.88 630.92Q86.55 631.27 86.35 635.3Q86.15 639.33 84.49 639.97Z" fill="#da1eee"/>
<path d="M124.73 641.47Q124.33 642.74 126.88 644.98Q129.43 647.21 131.86 646.04Q134.28 644.88 132.44 641.4Q130.6 637.93 127.87 639.07Q125.14 640.2 124.73 641.47Z" fill="#ca12de"/>
<path d="M129.33 597.72Q129.54 593.97 128.53 592.58Q127.52 591.18 126.63 591.25Q125.75 591.32 123.28 593.15Q120.81 594.99 122.44 598.69Q124.07 602.38 124.96 602.68Q125.85 602.99 127.49 602.23Q129.12 601.47 129.33 597.72Z" fill="#ce14e2"/>
<path d="M121.9 598.91Q123.4 602.3 120.8 603.66Q118.2 605.01 116.55 603.47Q114.9 601.93 116.47 598.71Q118.05 595.48 119.23 595.5Q120.4 595.52 121.9 598.91Z" fill="#e024f2"/>
<path d="M112.61 610.85Q114.93 611.67 114.96 614.03Q114.99 616.38 112.82 618.07Q110.64 619.75 109.15 618.84Q107.66 617.92 107.24 615.44Q106.83 612.96 108.56 611.49Q110.3 610.02 112.61 610.85Z" fill="#e024f2"/>
<path d="M82.99 603.79Q79.96 604.38 79.23 600.44Q78.5 596.49 79.51 596.07Q80.52 595.66 83.3 597.15Q86.09 598.63 86.05 600.91Q86.02 603.19 82.99 603.79Z" fill="#da1eee"/>
<path d="M100.62 632.94Q103.11 629.11 101.12 627.17Q99.12 625.23 96.81 625.47Q94.49 625.7 93.4 627.54Q92.31 629.38 95 633.13Q97.7 636.89 97.92 636.82Q98.14 636.76 100.62 632.94Z" fill="#da1eee"/>
<path d="M86.36 629.93Q87.02 630.28 89.22 629.57Q91.42 628.85 92.49 627.05Q93.57 625.25 92.13 622.86Q90.7 620.46 87.42 620.02Q84.14 619.58 83.37 620.99Q82.61 622.4 84.15 625.99Q85.7 629.58 86.36 629.93Z" fill="#da1eee"/>
<path d="M108.07 631.03Q105.9 629.02 108.42 625.49Q110.93 621.96 113.52 624.26Q116.1 626.56 116.06 627.21Q116.01 627.86 113.13 630.45Q110.24 633.04 108.07 631.03Z" fill="#d216e6"/>
<path d="M110.61 633.69Q110.55 633.36 113.4 630.81Q116.24 628.26 118.58 630.86Q120.92 633.47 120.85 633.8Q120.77 634.12 118.51 635.48Q116.24 636.84 113.45 635.43Q110.67 634.03 110.61 633.69Z" fill="#da1eee"/>
<path d="M98.73 598.1Q96.5 596.66 94.99 597.48Q93.47 598.31 93.36 600.66Q93.24 603.02 95 604.17Q96.77 605.32 99.14 604.55Q101.5 603.78 101.23 601.65Q100.97 599.53 98.73 598.1Z" fill="#da1eee"/>
<path d="M109.43 606.96Q108.93 604.29 105.8 604.49Q102.68 604.69 103.03 607.72Q103.37 610.74 104.97 611.61Q106.56 612.47 108.24 611.04Q109.93 609.62 109.43 606.96Z" fill="#ca12de"/>
<path d="M130.85 617.48Q129.18 613.19 131.06 612.34Q132.93 611.5 137.86 614.71Q142.79 617.92 137.66 619.85Q132.53 621.77 130.85 617.48Z" fill="#e024f2"/>
<path d="M124.84 603.13Q123.95 602.83 121.13 604.29Q118.31 605.76 118.22 607.33Q118.13 608.9 121.93 610.91Q125.72 612.91 126.31 612.68Q126.89 612.45 126.31 607.94Q125.72 603.43 124.84 603.13Z" fill="#ce14e2"/>
<path d="M117.77 644.69Q116.73 644.51 116.64 640.94Q116.55 637.36 118.81 636.01Q121.07 634.65 122.76 637.33Q124.44 640.01 124.03 641.31Q123.61 642.6 121.22 643.74Q118.82 644.87 117.77 644.69Z" fill="#e024f2"/>
<path d="M83.56 596.78Q80.88 595.35 82.38 592.79Q83.87 590.23 86.29 590.42Q88.7 590.6 88.99 593.47Q89.28 596.33 87.76 597.27Q86.24 598.21 83.56 596.78Z" fill="#da1eee"/>
<path d="M103.76 592.71Q101.91 590.67 102.62 587.53Q103.33 584.39 106.32 586.19Q109.31 587.98 109.06 590.91Q108.81 593.85 108.29 594.3Q107.77 594.75 106.69 594.76Q105.61 594.76 103.76 592.71Z" fill="#ce14e2"/>
<path d="M94.63 604.61Q92.99 603.54 90.87 604.47Q88.75 605.4 88.76 607.4Q88.77 609.41 91.57 610.76Q94.37 612.12 95.33 608.9Q96.28 605.68 94.63 604.61Z" fill="#da1eee"/>
<path d="M112.43 602.18Q110.57 602.36 109.3 598.69Q108.03 595.02 108.56 594.56Q109.09 594.1 113.03 594.22Q116.97 594.34 117.35 594.64Q117.74 594.95 116.02 598.48Q114.29 602.01 112.43 602.18Z" fill="#ce14e2"/>
</g>
<path d="M82.8 616.2h0M91 619.9h0M116.4 626.5h0M110.6 620h0M116.3 637.1h0M95.2 640.8h0M85.4 630.1h0M117.9 609h0M101.1 599.5h0" stroke="#3050ff" stroke-width="1.2" stroke-linecap="round"/>
<path d="M95 613.4h0M86.3 598.6h0M115.2 616.5h0M128.1 626.4h0M121.1 634.2h0M86.5 639.7h0M98.2 637.3h0M103.6 629h0M83.7 612.8h0M93.3 598.2h0M117.1 594.2h0M117.9 594.9h0M118.1 605.7h0M125.7 591.1h0" stroke="#2030e0" stroke-width="1.2" stroke-linecap="round"/>
<path d="M82 622.1h0M101.6 619.9h0M91.8 629.3h0" stroke="#2030e0" stroke-width="1.6" stroke-linecap="round"/>
<path d="M83.7 618.9h0M99.3 624.7h0M110.3 634.1h0M88.3 605.2h0M78.9 606.1h0" stroke="#2a3cff" stroke-width="0.8" stroke-linecap="round"/>
<path d="M78.3 596.3h0M97.7 637.5h0M110.1 633.4h0M106.8 640.5h0M79.8 604.6h0M93.1 603.1h0M107.9 594.9h0M114.4 602.2h0M101.7 590.6h0M129.7 593.9h0" stroke="#2a3cff" stroke-width="1.2" stroke-linecap="round"/>
<path d="M127.6 629.1h0" stroke="#2030e0" stroke-width="0.8" stroke-linecap="round"/>
<path d="M106.6 612.8h0M122.4 622.6h0M125.8 613.1h0M129.2 601.7h0" stroke="#3050ff" stroke-width="1.6" stroke-linecap="round"/>
<path d="M107.5 618.1h0M124.8 640h0M101.7 603.9h0M110.5 602.6h0" stroke="#3050ff" stroke-width="0.8" stroke-linecap="round"/>
<path d="M116.3 627.9h0M82.8 641.1h0M86.2 603.4h0M108.9 594h0M109.2 603.9h0" stroke="#2a3cff" stroke-width="1.6" stroke-linecap="round"/>
<ellipse cx="85.8" cy="593.6" rx="3.5" ry="2.5" fill="#05030c" transform="rotate(0 85.8 593.6)" filter="url(#b05)"/>
<ellipse cx="82.8" cy="634.6" rx="2.5" ry="2" fill="#05030c" transform="rotate(0 82.8 634.6)" filter="url(#b05)"/>
<ellipse cx="107.8" cy="637.6" rx="2" ry="2" fill="#05030c" transform="rotate(0 107.8 637.6)" filter="url(#b05)"/>
<rect x="117" y="639.4" width="11.6" height="2.2" fill="#ffffff" stroke="none" stroke-width="0.8"/>
</g>
<clipPath id="fc106"><rect x="131.7" y="590.6" width="52.6" height="52.8"/></clipPath>
<g clip-path="url(#fc106)">
<rect x="131.7" y="590.6" width="52.6" height="52.8" fill="#141070" stroke="none" stroke-width="0.8"/>
<g filter="url(#b03)">
<path d="M169.07 643.29Q167.61 645.34 171.22 647.43Q174.84 649.52 176.44 646.87Q178.03 644.23 176.36 642.58Q174.7 640.93 172.61 641.09Q170.53 641.24 169.07 643.29Z" fill="#ca12de"/>
<path d="M177.1 641.97Q178.82 643.67 179.95 643.46Q181.07 643.24 182.48 640.48Q183.9 637.72 183.36 635.69Q182.83 633.67 179.8 632.86Q176.78 632.05 176.08 636.16Q175.38 640.27 177.1 641.97Z" fill="#ca12de"/>
<path d="M148.05 609.21Q146.2 609.23 145.38 613.4Q144.57 617.57 146.51 618.35Q148.46 619.13 151.28 616.97Q154.1 614.82 152 612Q149.9 609.18 148.05 609.21Z" fill="#d216e6"/>
<path d="M166.06 634.45Q167.2 634.77 171.32 632.7Q175.45 630.64 175.32 630.08Q175.19 629.53 171.14 627.42Q167.08 625.32 165.64 627.11Q164.19 628.9 164.56 631.52Q164.92 634.14 166.06 634.45Z" fill="#ca12de"/>
<path d="M172.07 599.79Q170.54 603.48 171.24 604.8Q171.95 606.12 175.36 605.27Q178.76 604.41 178.75 601.96Q178.75 599.52 176.22 597.78Q173.68 596.03 173.64 596.06Q173.59 596.09 172.07 599.79Z" fill="#ce14e2"/>
<path d="M160 595.37Q162.53 594.17 162.56 591.76Q162.58 589.34 161.09 587.99Q159.59 586.63 154.93 588.98Q150.26 591.33 150.44 592.46Q150.61 593.59 154.04 595.09Q157.47 596.58 160 595.37Z" fill="#e024f2"/>
<path d="M131.8 608.26Q134.44 605.89 134.22 604.53Q134 603.16 132.18 602.32Q130.36 601.47 123.94 603.95Q117.53 606.43 123.35 608.53Q129.17 610.63 131.8 608.26Z" fill="#ca12de"/>
<path d="M180.03 591.15Q184.39 591.36 184.88 592.51Q185.37 593.67 185.16 594.84Q184.96 596.01 182.04 597.43Q179.13 598.86 176.8 597.26Q174.48 595.66 175.08 593.3Q175.68 590.94 180.03 591.15Z" fill="#e024f2"/>
<path d="M140.68 629.28Q139.66 628.43 136.46 628.25Q133.25 628.07 132.24 630.03Q131.23 631.98 132.23 634.89Q133.23 637.81 135.95 638.1Q138.68 638.39 140.19 634.26Q141.7 630.12 140.68 629.28Z" fill="#e024f2"/>
<path d="M156.36 615.18Q158.38 615.31 158.99 617.11Q159.6 618.92 157.95 622.14Q156.29 625.37 153.09 624.2Q149.88 623.03 149.29 621.2Q148.71 619.36 151.53 617.21Q154.35 615.05 156.36 615.18Z" fill="#e024f2"/>
<path d="M168.6 615.8Q168.54 612.34 165.12 612.08Q161.7 611.81 160.45 613.54Q159.2 615.28 159.77 616.94Q160.33 618.61 163.35 620.04Q166.37 621.47 167.51 620.36Q168.65 619.25 168.6 615.8Z" fill="#ca12de"/>
<path d="M134.75 593.56Q131.6 592.04 130.44 593.44Q129.28 594.84 129.98 597.9Q130.69 600.96 132.44 601.77Q134.19 602.59 136.49 600.59Q138.79 598.59 138.35 596.83Q137.91 595.07 134.75 593.56Z" fill="#ce14e2"/>
<path d="M144.28 603.97Q144.44 607.69 141.19 608.33Q137.94 608.97 136.4 607.4Q134.87 605.83 134.65 604.46Q134.42 603.09 136.83 601Q139.23 598.91 141.68 599.58Q144.12 600.24 144.28 603.97Z" fill="#d216e6"/>
<path d="M158.32 605.63Q156.81 604.58 155.23 604.78Q153.66 604.99 152.14 607Q150.62 609.01 152.58 611.64Q154.55 614.28 156.44 614.4Q158.32 614.52 159.59 612.76Q160.86 610.99 160.34 608.84Q159.83 606.68 158.32 605.63Z" fill="#da1eee"/>
<path d="M164.69 598.71Q164.17 595.57 168.72 595.82Q173.26 596.07 171.76 599.71Q170.26 603.35 167.73 602.6Q165.21 601.84 164.69 598.71Z" fill="#da1eee"/>
<path d="M163.92 594.59Q164.42 595.08 168.8 595.32Q173.18 595.56 173.22 595.54Q173.27 595.51 173.89 593.06Q174.51 590.62 174.26 590.13Q174.01 589.63 171.22 588.55Q168.44 587.48 165.96 588.47Q163.47 589.45 163.45 591.78Q163.43 594.11 163.92 594.59Z" fill="#ca12de"/>
<path d="M132.59 616.3Q134.72 617.16 133.14 621.22Q131.56 625.27 126.73 623.33Q121.9 621.39 126.18 618.42Q130.46 615.44 132.59 616.3Z" fill="#ce14e2"/>
<path d="M170.03 611.44Q169.26 611.93 169.32 615.7Q169.38 619.46 172.51 619.89Q175.64 620.31 176.73 617.36Q177.82 614.42 174.31 612.68Q170.8 610.95 170.03 611.44Z" fill="#d216e6"/>
<path d="M140.59 634.41Q142.05 630.41 143.57 630.5Q145.1 630.6 146.91 632.17Q148.73 633.74 147.95 636.92Q147.17 640.11 143.65 639.98Q140.13 639.85 139.63 639.14Q139.12 638.42 140.59 634.41Z" fill="#ce14e2"/>
<path d="M182.28 598.11Q185.41 596.57 186.68 598.89Q187.95 601.21 186.29 604.23Q184.62 607.25 183.66 607.37Q182.69 607.49 180.93 605.97Q179.16 604.46 179.16 602.05Q179.15 599.64 182.28 598.11Z" fill="#ca12de"/>
<path d="M145.93 598.97Q147.51 598.17 148.72 595.95Q149.92 593.74 149.75 592.61Q149.57 591.48 148.72 590.52Q147.87 589.57 144.68 589.9Q141.49 590.23 140.07 592.54Q138.64 594.85 139.1 596.66Q139.55 598.47 141.95 599.12Q144.36 599.77 145.93 598.97Z" fill="#e024f2"/>
<path d="M162.6 635.14Q164.11 634.1 163.78 631.71Q163.45 629.31 160.28 628.43Q157.12 627.55 156.04 630.32Q154.95 633.08 156.4 634.54Q157.85 636.01 159.47 636.1Q161.09 636.18 162.6 635.14Z" fill="#da1eee"/>
<path d="M177.14 617.57Q178.19 614.75 178.58 614.62Q178.97 614.48 181.76 616.38Q184.55 618.28 184.32 620.26Q184.09 622.23 180.86 622.89Q177.62 623.55 176.86 621.96Q176.1 620.38 177.14 617.57Z" fill="#da1eee"/>
<path d="M139.31 617.54Q141.3 618.57 140.48 623.28Q139.65 627.99 136.46 627.81Q133.28 627.63 132.59 626.54Q131.9 625.46 133.5 621.35Q135.11 617.23 136.21 616.87Q137.32 616.51 139.31 617.54Z" fill="#ce14e2"/>
<path d="M163.11 620.88Q160 619.4 158.43 622.46Q156.85 625.53 157.02 626.07Q157.2 626.61 160.48 627.53Q163.77 628.45 165.15 626.74Q166.53 625.03 166.38 623.69Q166.23 622.35 163.11 620.88Z" fill="#da1eee"/>
<path d="M139.75 642.92Q139.39 645.4 142.05 648.82Q144.72 652.23 147.22 648.55Q149.72 644.87 148.49 642.78Q147.25 640.7 143.68 640.57Q140.11 640.44 139.75 642.92Z" fill="#ca12de"/>
<path d="M182.1 615.89Q179.26 613.96 181.03 611.01Q182.8 608.05 183.75 607.93Q184.7 607.81 186.29 609.08Q187.87 610.35 188.04 612.98Q188.21 615.61 186.57 616.72Q184.94 617.83 182.1 615.89Z" fill="#d216e6"/>
<path d="M180.92 623.88Q177.82 624.51 176.97 626.93Q176.12 629.35 176.24 629.86Q176.36 630.37 176.67 630.69Q176.99 631.01 179.92 631.8Q182.85 632.58 184.23 631.4Q185.61 630.21 185.99 628.02Q186.37 625.83 185.19 624.54Q184.02 623.25 180.92 623.88Z" fill="#ca12de"/>
<path d="M143.13 618.74Q141.87 619.04 141.11 623.4Q140.34 627.75 141.28 628.53Q142.22 629.3 143.66 629.39Q145.11 629.48 147.08 626.38Q149.06 623.27 148.52 621.58Q147.98 619.89 146.19 619.17Q144.39 618.45 143.13 618.74Z" fill="#ce14e2"/>
<path d="M162.84 604.34Q160.55 606.43 161.09 608.72Q161.64 611.01 165.33 611.3Q169.02 611.59 169.78 611.1Q170.55 610.61 171.08 608.5Q171.61 606.39 170.91 605.08Q170.21 603.77 167.67 603.01Q165.13 602.25 162.84 604.34Z" fill="#d216e6"/>
<path d="M147.74 626.85Q149.82 623.57 152.94 624.7Q156.06 625.84 156.24 626.39Q156.42 626.95 155.26 629.89Q154.1 632.84 151.7 633.06Q149.3 633.27 147.48 631.7Q145.66 630.12 147.74 626.85Z" fill="#ce14e2"/>
<path d="M162.42 641.05Q163.7 645.16 160.16 645.66Q156.63 646.16 155.4 645.3Q154.16 644.44 155.9 640.59Q157.63 636.74 159.39 636.84Q161.15 636.93 162.42 641.05Z" fill="#ca12de"/>
<path d="M164.64 645.2Q164.1 644.91 162.88 640.96Q161.66 637.02 163.23 635.93Q164.81 634.85 165.89 635.15Q166.98 635.45 168.37 638.12Q169.76 640.79 168.24 642.92Q166.72 645.06 165.94 645.27Q165.17 645.48 164.64 645.2Z" fill="#ce14e2"/>
<path d="M135.88 638.6Q133.24 638.31 131.34 640.53Q129.43 642.74 130.33 644.74Q131.23 646.74 135.03 645.97Q138.82 645.2 139.17 642.75Q139.53 640.31 139.02 639.6Q138.52 638.88 135.88 638.6Z" fill="#d216e6"/>
<path d="M155.47 640.4Q157.15 636.66 155.62 635.12Q154.1 633.58 151.72 633.79Q149.34 634 148.56 637.17Q147.79 640.33 149 642.37Q150.2 644.42 152 644.27Q153.79 644.13 155.47 640.4Z" fill="#ce14e2"/>
<path d="M156.92 600.39Q157.22 597.02 153.81 595.53Q150.4 594.04 149.2 596.24Q148 598.45 150.67 601.32Q153.33 604.19 154.98 603.97Q156.63 603.76 156.92 600.39Z" fill="#ca12de"/>
<path d="M174.55 612.37Q171.16 610.69 171.67 608.63Q172.19 606.57 175.49 605.74Q178.79 604.91 180.53 606.4Q182.26 607.89 180.5 610.83Q178.74 613.77 178.35 613.91Q177.95 614.05 174.55 612.37Z" fill="#ca12de"/>
<path d="M191.19 644.21Q195.88 641.31 190.26 639.74Q184.63 638.17 183.24 640.89Q181.84 643.62 184.16 645.37Q186.49 647.12 191.19 644.21Z" fill="#ca12de"/>
<path d="M144.98 608.97Q144.35 608.45 141.36 609.03Q138.37 609.62 138.14 612.75Q137.9 615.87 139.75 616.83Q141.59 617.78 142.85 617.48Q144.11 617.18 144.86 613.34Q145.62 609.49 144.98 608.97Z" fill="#ce14e2"/>
<path d="M137.32 612.68Q137.56 609.45 136.1 607.96Q134.64 606.47 132.12 608.74Q129.6 611.01 130.22 612.97Q130.83 614.93 132.89 615.76Q134.96 616.59 136.02 616.25Q137.08 615.9 137.32 612.68Z" fill="#ce14e2"/>
<path d="M145.48 608.28Q144.79 607.71 144.63 604Q144.47 600.28 146.07 599.47Q147.67 598.65 150.39 601.58Q153.1 604.5 151.48 606.65Q149.86 608.8 148.01 608.82Q146.16 608.84 145.48 608.28Z" fill="#ce14e2"/>
<path d="M163.27 595.11Q163.78 595.61 164.3 598.74Q164.81 601.87 162.54 603.94Q160.28 606.01 158.68 604.91Q157.09 603.8 157.39 600.41Q157.68 597.02 160.22 595.82Q162.75 594.61 163.27 595.11Z" fill="#ca12de"/>
<path d="M131.73 590.84Q131.76 591.46 134.92 592.98Q138.08 594.5 139.47 592.25Q140.86 589.99 138.83 587.39Q136.8 584.79 134.25 587.51Q131.7 590.23 131.73 590.84Z" fill="#da1eee"/>
<path d="M172.45 620.37Q169.49 619.97 168.31 621.11Q167.14 622.25 167.29 623.59Q167.44 624.93 171.3 626.94Q175.16 628.94 176.04 626.43Q176.92 623.92 176.17 622.35Q175.41 620.77 172.45 620.37Z" fill="#d216e6"/>
<path d="M168.92 637.74Q170.34 640.47 172.56 640.31Q174.78 640.14 175.5 635.9Q176.22 631.66 175.89 631.32Q175.55 630.98 171.53 632.99Q167.5 635.01 168.92 637.74Z" fill="#ca12de"/>
</g>
<path d="M183.1 633.2h0M154.3 633.1h0M149.7 623.2h0M133.1 627.9h0M137.9 609.2h0M141.5 618.4h0M178.9 614.1h0M158.5 615.1h0" stroke="#2030e0" stroke-width="1.2" stroke-linecap="round"/>
<path d="M149.1 633.6h0M134.7 605.9h0M167 625.1h0M138.3 594.9h0M170.7 610.8h0M144.3 600.1h0M150 609h0M162.9 594.3h0" stroke="#2a3cff" stroke-width="1.2" stroke-linecap="round"/>
<path d="M176.5 631.4h0M134.2 603.1h0M175.5 629.5h0" stroke="#2030e0" stroke-width="1.6" stroke-linecap="round"/>
<path d="M174.9 640.5h0M182.7 607.8h0M144.4 617.7h0M165 602h0" stroke="#3050ff" stroke-width="0.8" stroke-linecap="round"/>
<path d="M164 628.8h0M139.2 598.7h0M149.9 591.3h0M139.9 640.2h0M141.9 630h0M139.8 628.3h0M178.9 599.5h0M146.1 609h0M156.9 604h0" stroke="#3050ff" stroke-width="1.2" stroke-linecap="round"/>
<path d="M166.7 622.1h0M153.3 604.5h0" stroke="#2a3cff" stroke-width="0.8" stroke-linecap="round"/>
<path d="M159.8 618.9h0" stroke="#2030e0" stroke-width="0.8" stroke-linecap="round"/>
<path d="M133.1 638h0M161.3 636.7h0M178 614.4h0M150.2 593.7h0" stroke="#3050ff" stroke-width="1.6" stroke-linecap="round"/>
<path d="M175.8 620.5h0M163.9 595.4h0" stroke="#2a3cff" stroke-width="1.6" stroke-linecap="round"/>
<ellipse cx="138.7" cy="593.6" rx="4" ry="3" fill="#05030c" transform="rotate(0 138.7 593.6)" filter="url(#b05)"/>
<ellipse cx="142.7" cy="612.6" rx="3" ry="4" fill="#05030c" transform="rotate(0 142.7 612.6)" filter="url(#b05)"/>
<ellipse cx="135.7" cy="604.6" rx="3" ry="4" fill="#05030c" transform="rotate(0 135.7 604.6)" filter="url(#b05)"/>
<ellipse cx="137.7" cy="622.6" rx="4" ry="3" fill="#05030c" transform="rotate(0 137.7 622.6)" filter="url(#b05)"/>
<ellipse cx="148.7" cy="623.6" rx="3" ry="2.5" fill="#05030c" transform="rotate(0 148.7 623.6)" filter="url(#b05)"/>
<ellipse cx="143.7" cy="636.6" rx="5" ry="3" fill="#05030c" transform="rotate(0 143.7 636.6)" filter="url(#b05)"/>
<ellipse cx="153.7" cy="640.6" rx="4" ry="2" fill="#05030c" transform="rotate(0 153.7 640.6)" filter="url(#b05)"/>
<ellipse cx="180.7" cy="638.6" rx="4" ry="3" fill="#05030c" transform="rotate(0 180.7 638.6)" filter="url(#b05)"/>
<ellipse cx="175.7" cy="600.6" rx="2.5" ry="2" fill="#05030c" transform="rotate(0 175.7 600.6)" filter="url(#b05)"/>
<ellipse cx="161.7" cy="635.6" rx="3" ry="2" fill="#05030c" transform="rotate(0 161.7 635.6)" filter="url(#b05)"/>
<rect x="170.9" y="639.4" width="11.6" height="2.2" fill="#ffffff" stroke="none" stroke-width="0.8"/>
</g>
<text x="207.8" y="511.6" font-size="13.5" text-anchor="start" font-weight="bold" fill="#111" stroke="#111" stroke-width="0.35">f</text>
<circle cx="343.3" cy="504.7" r="5" fill="#a6a6a6" stroke="#444" stroke-width="0.8"/>
<text x="354.4" y="508" font-size="9.6" text-anchor="start" font-weight="normal" fill="#333">Untreated</text>
<circle cx="416" cy="504.7" r="5" fill="#6ff2cc" stroke="#444" stroke-width="0.8"/>
<text x="425.7" y="508" font-size="9.6" text-anchor="start" font-weight="normal" fill="#333">Exo<tspan dy="-3.7" font-size="6.7">myo</tspan><tspan dy="3.7"> i.v.</tspan></text>
<circle cx="489.5" cy="504.7" r="5" fill="#0b8a14" stroke="#444" stroke-width="0.8"/>
<text x="499.8" y="508" font-size="9.6" text-anchor="start" font-weight="normal" fill="#333">Exo<tspan dy="-3.7" font-size="6.7">myo</tspan><tspan dy="3.7"> i.m.</tspan></text>
<text x="285.7" y="516.6" font-size="9" text-anchor="start" font-weight="normal" fill="#2b2b2b">Exo<tspan dy="-3.6" font-size="6.6">myo</tspan><tspan dy="3.6">​</tspan></text>
<line x1="215.5" y1="520.1" x2="370.9" y2="520.1" stroke="#8a8a8a" stroke-width="1.2"/>
<text x="213.6" y="535" font-size="9.9" text-anchor="start" font-weight="normal" fill="#2b2b2b">I injection</text>
<text x="262.7" y="535" font-size="9.9" text-anchor="start" font-weight="normal" fill="#2b2b2b">II injection</text>
<text x="314.8" y="535" font-size="9.9" text-anchor="start" font-weight="normal" fill="#2b2b2b">III injection</text>
<rect x="211.6" y="637.9" width="6.7" height="2.7" fill="#111" stroke="none" stroke-width="0.8" rx="1"/>
<path d="M214.8 559C215.52 556.12 216.22 554.54 219.6 551.9C222.98 549.26 226.4 547.64 231.7 545.8C237 543.96 239.6 543.02 246.1 542.7C252.6 542.38 260.24 542.84 264.2 544.2C268.16 545.56 266.14 546.04 265.9 549.5C265.66 552.96 263.34 555.72 263 561.5C262.66 567.28 265.64 574.54 264.2 578.4C262.76 582.26 260.86 580.8 255.8 580.8C250.74 580.8 245.16 579.86 238.9 578.4C232.64 576.94 229.08 575.92 224.5 573.5C219.92 571.08 217.94 569.2 216 566.3C214.06 563.4 214.08 561.88 214.8 559Z" fill="url(#sdhf)" stroke="none" stroke-width="0.8"/>
<path d="M269 545.8C270.2 543.38 272.82 543.3 277.4 542.2C281.98 541.1 286.6 539.82 291.9 540.3C297.2 540.78 300.04 541.8 303.9 544.6C307.76 547.4 309.02 549.96 311.2 554.3C313.38 558.64 314.32 560.76 314.8 566.3C315.28 571.84 316.26 578.38 313.6 582C310.94 585.62 306.8 584.88 301.5 584.4C296.2 583.92 291.92 582.74 287.1 579.6C282.28 576.46 280.54 573.76 277.4 568.7C274.26 563.64 273.08 558.88 271.4 554.3C269.72 549.72 267.8 548.22 269 545.8Z" fill="url(#sdhf2)" stroke="none" stroke-width="0.8"/>
<path d="M318.4 551.9C319.36 547.8 320.32 546.54 323.2 545.8C326.08 545.06 330.16 546.5 332.8 548.2C335.44 549.9 334.96 555.02 336.4 554.3C337.84 553.58 336.86 546.78 340 544.6C343.14 542.42 347.28 542.42 352.1 543.4C356.92 544.38 360.64 546.38 364.1 549.5C367.56 552.62 368.92 554.68 369.4 559C369.88 563.32 369.48 566.98 366.5 571.1C363.52 575.22 359.8 577.66 354.5 579.6C349.2 581.54 345.78 581.52 340 580.8C334.22 580.08 329.92 578.9 325.6 576C321.28 573.1 319.84 571.12 318.4 566.3C316.96 561.48 317.44 556 318.4 551.9Z" fill="url(#sdhf)" stroke="none" stroke-width="0.8"/>
<path d="M214.8 614.5C215.28 609.68 216.22 601.94 219.6 597.6C222.98 593.26 226.88 593.28 231.7 592.8C236.52 592.32 240.82 592.8 243.7 595.2C246.58 597.6 244.42 603.6 246.1 604.8C247.78 606 248.72 600.7 252.1 601.2C255.48 601.7 259.38 603.68 263 607.3C266.62 610.92 268.52 614.98 270.2 619.3C271.88 623.62 273.8 625.52 271.4 628.9C269 632.28 263.74 634.74 258.2 636.2C252.66 637.66 249.48 637.66 243.7 636.2C237.92 634.74 234.6 631.8 229.3 628.9C224 626 220.1 624.58 217.2 621.7C214.3 618.82 214.32 619.32 214.8 614.5Z" fill="url(#sdhf2)" stroke="none" stroke-width="0.8"/>
<path d="M279.8 597.6C282.46 595.42 288.76 595.44 291.9 596.4C295.04 597.36 294.54 602.4 295.5 602.4C296.46 602.4 294.78 596.88 296.7 596.4C298.62 595.92 302.2 597.82 305.1 600C308 602.18 309.26 603.44 311.2 607.3C313.14 611.16 314.32 614.5 314.8 619.3C315.28 624.1 316.74 627.92 313.6 631.3C310.46 634.68 305.36 634.98 299.1 636.2C292.84 637.42 286.64 640.3 282.3 637.4C277.96 634.5 278.14 627.72 277.4 621.7C276.66 615.68 278.12 612.12 278.6 607.3C279.08 602.48 277.14 599.78 279.8 597.6Z" fill="url(#sdhf)" stroke="none" stroke-width="0.8"/>
<path d="M319.6 612.1C320.8 608.48 322 606.02 325.6 603.6C329.2 601.18 332.78 600.48 337.6 600C342.42 599.52 345.36 600.48 349.7 601.2C354.04 601.92 355.68 601.9 359.3 603.6C362.92 605.3 366.36 605.6 367.8 609.7C369.24 613.8 368.2 619.3 366.5 624.1C364.8 628.9 364.1 631.28 359.3 633.7C354.5 636.12 348.76 636.68 342.5 636.2C336.24 635.72 332.58 634.2 328 631.3C323.42 628.4 321.28 625.54 319.6 621.7C317.92 617.86 318.4 615.72 319.6 612.1Z" fill="url(#sdhf2)" stroke="none" stroke-width="0.8"/>
<path d="M236 566 C244 569 250 570 258 566" fill="none" stroke="#d8d8ee" stroke-width="0.9"/>
<path d="M276 551 C286 548 296 549 306 548" fill="none" stroke="#3a3a8a" stroke-width="0.6"/>
<path d="M330 563 C338 566 344 566 352 561" fill="none" stroke="#d8d8ee" stroke-width="0.9"/>
<path d="M219 611 C226 613 232 612 238 609" fill="none" stroke="#d8d8ee" stroke-width="0.9"/>
<path d="M296 603 C297 615 297 625 296 634" fill="none" stroke="#b0b0dc" stroke-width="0.6"/>
<path d="M330 621 C338 620 345 616 352 613" fill="none" stroke="#d8d8ee" stroke-width="0.9"/>
<line x1="417.1" y1="550.8" x2="417.1" y2="634.4" stroke="#3a3a3a" stroke-width="0.8"/>
<line x1="417.1" y1="634.4" x2="538.8" y2="634.4" stroke="#3a3a3a" stroke-width="0.8"/>
<line x1="414.7" y1="634.4" x2="417.1" y2="634.4" stroke="#3a3a3a" stroke-width="0.8"/>
<text x="408.5" y="637.2" font-size="7.7" text-anchor="end" font-weight="normal" fill="#2b2b2b">20</text>
<line x1="414.7" y1="620.47" x2="417.1" y2="620.47" stroke="#3a3a3a" stroke-width="0.8"/>
<text x="408.5" y="623.27" font-size="7.7" text-anchor="end" font-weight="normal" fill="#2b2b2b">40</text>
<line x1="414.7" y1="606.53" x2="417.1" y2="606.53" stroke="#3a3a3a" stroke-width="0.8"/>
<text x="408.5" y="609.33" font-size="7.7" text-anchor="end" font-weight="normal" fill="#2b2b2b">60</text>
<line x1="414.7" y1="592.6" x2="417.1" y2="592.6" stroke="#3a3a3a" stroke-width="0.8"/>
<text x="408.5" y="595.4" font-size="7.7" text-anchor="end" font-weight="normal" fill="#2b2b2b">80</text>
<line x1="414.7" y1="578.67" x2="417.1" y2="578.67" stroke="#3a3a3a" stroke-width="0.8"/>
<text x="408.5" y="581.47" font-size="7.7" text-anchor="end" font-weight="normal" fill="#2b2b2b">100</text>
<line x1="414.7" y1="564.73" x2="417.1" y2="564.73" stroke="#3a3a3a" stroke-width="0.8"/>
<text x="408.5" y="567.53" font-size="7.7" text-anchor="end" font-weight="normal" fill="#2b2b2b">120</text>
<line x1="414.7" y1="550.8" x2="417.1" y2="550.8" stroke="#3a3a3a" stroke-width="0.8"/>
<text x="408.5" y="553.6" font-size="7.7" text-anchor="end" font-weight="normal" fill="#2b2b2b">140</text>
<text x="389.3" y="592.3" font-size="9.2" text-anchor="middle" font-weight="normal" fill="#2b2b2b" transform="rotate(-90 389.3 592.3)" textLength="85" lengthAdjust="spacingAndGlyphs">SDH + myofibres (%)</text>
<circle cx="427.4" cy="623.3" r="2.2" fill="#a6a6a6" stroke="#111" stroke-width="0.45"/>
<circle cx="425.9" cy="623.3" r="2.2" fill="#a6a6a6" stroke="#111" stroke-width="0.45"/>
<circle cx="425.3" cy="601.4" r="2.2" fill="#a6a6a6" stroke="#111" stroke-width="0.45"/>
<circle cx="432.4" cy="601.6" r="2.2" fill="#a6a6a6" stroke="#111" stroke-width="0.45"/>
<circle cx="429.2" cy="602.1" r="2.2" fill="#a6a6a6" stroke="#111" stroke-width="0.45"/>
<circle cx="430.3" cy="602.1" r="2.2" fill="#a6a6a6" stroke="#111" stroke-width="0.45"/>
<circle cx="429" cy="602.5" r="2.2" fill="#a6a6a6" stroke="#111" stroke-width="0.45"/>
<circle cx="427.4" cy="621.5" r="2.2" fill="#a6a6a6" stroke="#111" stroke-width="0.45"/>
<circle cx="430.7" cy="602.9" r="2.2" fill="#a6a6a6" stroke="#111" stroke-width="0.45"/>
<circle cx="429.2" cy="603.2" r="2.2" fill="#a6a6a6" stroke="#111" stroke-width="0.45"/>
<circle cx="431.2" cy="604.6" r="2.2" fill="#a6a6a6" stroke="#111" stroke-width="0.45"/>
<circle cx="430" cy="618.9" r="2.2" fill="#a6a6a6" stroke="#111" stroke-width="0.45"/>
<circle cx="431.7" cy="618.3" r="2.2" fill="#a6a6a6" stroke="#111" stroke-width="0.45"/>
<circle cx="427.9" cy="618.2" r="2.2" fill="#a6a6a6" stroke="#111" stroke-width="0.45"/>
<circle cx="425.2" cy="618.2" r="2.2" fill="#a6a6a6" stroke="#111" stroke-width="0.45"/>
<circle cx="425.2" cy="606.5" r="2.2" fill="#a6a6a6" stroke="#111" stroke-width="0.45"/>
<circle cx="430.6" cy="606.5" r="2.2" fill="#a6a6a6" stroke="#111" stroke-width="0.45"/>
<circle cx="425.3" cy="606.7" r="2.2" fill="#a6a6a6" stroke="#111" stroke-width="0.45"/>
<circle cx="430" cy="606.7" r="2.2" fill="#a6a6a6" stroke="#111" stroke-width="0.45"/>
<circle cx="429.6" cy="607.1" r="2.2" fill="#a6a6a6" stroke="#111" stroke-width="0.45"/>
<circle cx="424.3" cy="607.2" r="2.2" fill="#a6a6a6" stroke="#111" stroke-width="0.45"/>
<circle cx="431.2" cy="608.2" r="2.2" fill="#a6a6a6" stroke="#111" stroke-width="0.45"/>
<circle cx="424.1" cy="615.8" r="2.2" fill="#a6a6a6" stroke="#111" stroke-width="0.45"/>
<circle cx="432" cy="615.8" r="2.2" fill="#a6a6a6" stroke="#111" stroke-width="0.45"/>
<circle cx="431.7" cy="615.2" r="2.2" fill="#a6a6a6" stroke="#111" stroke-width="0.45"/>
<circle cx="425.8" cy="615.2" r="2.2" fill="#a6a6a6" stroke="#111" stroke-width="0.45"/>
<circle cx="430.6" cy="609.1" r="2.2" fill="#a6a6a6" stroke="#111" stroke-width="0.45"/>
<circle cx="430.7" cy="609.3" r="2.2" fill="#a6a6a6" stroke="#111" stroke-width="0.45"/>
<circle cx="424.9" cy="614.8" r="2.2" fill="#a6a6a6" stroke="#111" stroke-width="0.45"/>
<circle cx="430.1" cy="614.7" r="2.2" fill="#a6a6a6" stroke="#111" stroke-width="0.45"/>
<circle cx="424.9" cy="614.5" r="2.2" fill="#a6a6a6" stroke="#111" stroke-width="0.45"/>
<circle cx="432.4" cy="614.3" r="2.2" fill="#a6a6a6" stroke="#111" stroke-width="0.45"/>
<circle cx="430.3" cy="610" r="2.2" fill="#a6a6a6" stroke="#111" stroke-width="0.45"/>
<circle cx="433.1" cy="610.1" r="2.2" fill="#a6a6a6" stroke="#111" stroke-width="0.45"/>
<circle cx="424.3" cy="610.3" r="2.2" fill="#a6a6a6" stroke="#111" stroke-width="0.45"/>
<circle cx="426.8" cy="610.3" r="2.2" fill="#a6a6a6" stroke="#111" stroke-width="0.45"/>
<circle cx="429.6" cy="610.5" r="2.2" fill="#a6a6a6" stroke="#111" stroke-width="0.45"/>
<circle cx="429.5" cy="613.7" r="2.2" fill="#a6a6a6" stroke="#111" stroke-width="0.45"/>
<circle cx="425.5" cy="613.5" r="2.2" fill="#a6a6a6" stroke="#111" stroke-width="0.45"/>
<circle cx="432.2" cy="611" r="2.2" fill="#a6a6a6" stroke="#111" stroke-width="0.45"/>
<circle cx="431.8" cy="611.1" r="2.2" fill="#a6a6a6" stroke="#111" stroke-width="0.45"/>
<circle cx="426.6" cy="611.1" r="2.2" fill="#a6a6a6" stroke="#111" stroke-width="0.45"/>
<circle cx="425.1" cy="611.5" r="2.2" fill="#a6a6a6" stroke="#111" stroke-width="0.45"/>
<circle cx="430.1" cy="612.6" r="2.2" fill="#a6a6a6" stroke="#111" stroke-width="0.45"/>
<circle cx="427.6" cy="611.9" r="2.2" fill="#a6a6a6" stroke="#111" stroke-width="0.45"/>
<line x1="422.5" y1="612.11" x2="434.5" y2="612.11" stroke="#111" stroke-width="0.8"/>
<circle cx="449" cy="623.3" r="2.2" fill="#6ff2cc" stroke="#111" stroke-width="0.45"/>
<circle cx="443.2" cy="598.2" r="2.2" fill="#6ff2cc" stroke="#111" stroke-width="0.45"/>
<circle cx="445.6" cy="598.7" r="2.2" fill="#6ff2cc" stroke="#111" stroke-width="0.45"/>
<circle cx="445.1" cy="599.2" r="2.2" fill="#6ff2cc" stroke="#111" stroke-width="0.45"/>
<circle cx="449.9" cy="601" r="2.2" fill="#6ff2cc" stroke="#111" stroke-width="0.45"/>
<circle cx="449.4" cy="618.9" r="2.2" fill="#6ff2cc" stroke="#111" stroke-width="0.45"/>
<circle cx="451.4" cy="601.1" r="2.2" fill="#6ff2cc" stroke="#111" stroke-width="0.45"/>
<circle cx="443.8" cy="618.9" r="2.2" fill="#6ff2cc" stroke="#111" stroke-width="0.45"/>
<circle cx="447" cy="618.5" r="2.2" fill="#6ff2cc" stroke="#111" stroke-width="0.45"/>
<circle cx="443.2" cy="617.2" r="2.2" fill="#6ff2cc" stroke="#111" stroke-width="0.45"/>
<circle cx="445" cy="604.2" r="2.2" fill="#6ff2cc" stroke="#111" stroke-width="0.45"/>
<circle cx="447.8" cy="615.7" r="2.2" fill="#6ff2cc" stroke="#111" stroke-width="0.45"/>
<circle cx="443.2" cy="604.6" r="2.2" fill="#6ff2cc" stroke="#111" stroke-width="0.45"/>
<circle cx="444.8" cy="604.9" r="2.2" fill="#6ff2cc" stroke="#111" stroke-width="0.45"/>
<circle cx="449.1" cy="614.7" r="2.2" fill="#6ff2cc" stroke="#111" stroke-width="0.45"/>
<circle cx="448.1" cy="614.4" r="2.2" fill="#6ff2cc" stroke="#111" stroke-width="0.45"/>
<circle cx="445" cy="613.9" r="2.2" fill="#6ff2cc" stroke="#111" stroke-width="0.45"/>
<circle cx="448.5" cy="613.9" r="2.2" fill="#6ff2cc" stroke="#111" stroke-width="0.45"/>
<circle cx="450.6" cy="606.1" r="2.2" fill="#6ff2cc" stroke="#111" stroke-width="0.45"/>
<circle cx="443" cy="606.3" r="2.2" fill="#6ff2cc" stroke="#111" stroke-width="0.45"/>
<circle cx="450.6" cy="606.4" r="2.2" fill="#6ff2cc" stroke="#111" stroke-width="0.45"/>
<circle cx="449.6" cy="606.4" r="2.2" fill="#6ff2cc" stroke="#111" stroke-width="0.45"/>
<circle cx="446.2" cy="613.5" r="2.2" fill="#6ff2cc" stroke="#111" stroke-width="0.45"/>
<circle cx="444.4" cy="606.6" r="2.2" fill="#6ff2cc" stroke="#111" stroke-width="0.45"/>
<circle cx="452" cy="612.9" r="2.2" fill="#6ff2cc" stroke="#111" stroke-width="0.45"/>
<circle cx="446.1" cy="607.3" r="2.2" fill="#6ff2cc" stroke="#111" stroke-width="0.45"/>
<circle cx="443.8" cy="607.4" r="2.2" fill="#6ff2cc" stroke="#111" stroke-width="0.45"/>
<circle cx="443.9" cy="607.6" r="2.2" fill="#6ff2cc" stroke="#111" stroke-width="0.45"/>
<circle cx="451" cy="612.1" r="2.2" fill="#6ff2cc" stroke="#111" stroke-width="0.45"/>
<circle cx="448.7" cy="612" r="2.2" fill="#6ff2cc" stroke="#111" stroke-width="0.45"/>
<circle cx="450.6" cy="612" r="2.2" fill="#6ff2cc" stroke="#111" stroke-width="0.45"/>
<circle cx="449.9" cy="608.2" r="2.2" fill="#6ff2cc" stroke="#111" stroke-width="0.45"/>
<circle cx="448" cy="608.5" r="2.2" fill="#6ff2cc" stroke="#111" stroke-width="0.45"/>
<circle cx="452.2" cy="608.6" r="2.2" fill="#6ff2cc" stroke="#111" stroke-width="0.45"/>
<circle cx="446.5" cy="611.1" r="2.2" fill="#6ff2cc" stroke="#111" stroke-width="0.45"/>
<circle cx="448.2" cy="609.1" r="2.2" fill="#6ff2cc" stroke="#111" stroke-width="0.45"/>
<circle cx="450.8" cy="609.4" r="2.2" fill="#6ff2cc" stroke="#111" stroke-width="0.45"/>
<circle cx="448.8" cy="609.5" r="2.2" fill="#6ff2cc" stroke="#111" stroke-width="0.45"/>
<circle cx="451.1" cy="610.5" r="2.2" fill="#6ff2cc" stroke="#111" stroke-width="0.45"/>
<circle cx="448.4" cy="609.5" r="2.2" fill="#6ff2cc" stroke="#111" stroke-width="0.45"/>
<circle cx="449.6" cy="610.4" r="2.2" fill="#6ff2cc" stroke="#111" stroke-width="0.45"/>
<circle cx="443.4" cy="609.8" r="2.2" fill="#6ff2cc" stroke="#111" stroke-width="0.45"/>
<circle cx="445.1" cy="609.9" r="2.2" fill="#6ff2cc" stroke="#111" stroke-width="0.45"/>
<circle cx="445.7" cy="610.2" r="2.2" fill="#6ff2cc" stroke="#111" stroke-width="0.45"/>
<circle cx="443.7" cy="609.9" r="2.2" fill="#6ff2cc" stroke="#111" stroke-width="0.45"/>
<line x1="441.7" y1="610.02" x2="453.7" y2="610.02" stroke="#111" stroke-width="0.8"/>
<circle cx="456.8" cy="623.9" r="2.2" fill="#0b8a14" stroke="#111" stroke-width="0.45"/>
<circle cx="463.1" cy="596.8" r="2.2" fill="#0b8a14" stroke="#111" stroke-width="0.45"/>
<circle cx="457.8" cy="597.3" r="2.2" fill="#0b8a14" stroke="#111" stroke-width="0.45"/>
<circle cx="460.8" cy="619.8" r="2.2" fill="#0b8a14" stroke="#111" stroke-width="0.45"/>
<circle cx="462.8" cy="619.7" r="2.2" fill="#0b8a14" stroke="#111" stroke-width="0.45"/>
<circle cx="464" cy="601.3" r="2.2" fill="#0b8a14" stroke="#111" stroke-width="0.45"/>
<circle cx="460.8" cy="601.3" r="2.2" fill="#0b8a14" stroke="#111" stroke-width="0.45"/>
<circle cx="461.2" cy="617" r="2.2" fill="#0b8a14" stroke="#111" stroke-width="0.45"/>
<circle cx="456.6" cy="617" r="2.2" fill="#0b8a14" stroke="#111" stroke-width="0.45"/>
<circle cx="460.6" cy="602" r="2.2" fill="#0b8a14" stroke="#111" stroke-width="0.45"/>
<circle cx="460" cy="616.7" r="2.2" fill="#0b8a14" stroke="#111" stroke-width="0.45"/>
<circle cx="464.5" cy="602.4" r="2.2" fill="#0b8a14" stroke="#111" stroke-width="0.45"/>
<circle cx="461.6" cy="616.1" r="2.2" fill="#0b8a14" stroke="#111" stroke-width="0.45"/>
<circle cx="463.6" cy="615.8" r="2.2" fill="#0b8a14" stroke="#111" stroke-width="0.45"/>
<circle cx="460.6" cy="615.5" r="2.2" fill="#0b8a14" stroke="#111" stroke-width="0.45"/>
<circle cx="458.1" cy="615.4" r="2.2" fill="#0b8a14" stroke="#111" stroke-width="0.45"/>
<circle cx="464.5" cy="603.5" r="2.2" fill="#0b8a14" stroke="#111" stroke-width="0.45"/>
<circle cx="464.2" cy="603.6" r="2.2" fill="#0b8a14" stroke="#111" stroke-width="0.45"/>
<circle cx="460" cy="604.1" r="2.2" fill="#0b8a14" stroke="#111" stroke-width="0.45"/>
<circle cx="457.4" cy="604.4" r="2.2" fill="#0b8a14" stroke="#111" stroke-width="0.45"/>
<circle cx="461.3" cy="614.2" r="2.2" fill="#0b8a14" stroke="#111" stroke-width="0.45"/>
<circle cx="461.2" cy="604.5" r="2.2" fill="#0b8a14" stroke="#111" stroke-width="0.45"/>
<circle cx="463.8" cy="613.8" r="2.2" fill="#0b8a14" stroke="#111" stroke-width="0.45"/>
<circle cx="462.1" cy="605.2" r="2.2" fill="#0b8a14" stroke="#111" stroke-width="0.45"/>
<circle cx="461.3" cy="605.5" r="2.2" fill="#0b8a14" stroke="#111" stroke-width="0.45"/>
<circle cx="461.9" cy="605.6" r="2.2" fill="#0b8a14" stroke="#111" stroke-width="0.45"/>
<circle cx="460" cy="613" r="2.2" fill="#0b8a14" stroke="#111" stroke-width="0.45"/>
<circle cx="456.9" cy="612.7" r="2.2" fill="#0b8a14" stroke="#111" stroke-width="0.45"/>
<circle cx="457" cy="606.1" r="2.2" fill="#0b8a14" stroke="#111" stroke-width="0.45"/>
<circle cx="465.4" cy="612.3" r="2.2" fill="#0b8a14" stroke="#111" stroke-width="0.45"/>
<circle cx="464.4" cy="612.1" r="2.2" fill="#0b8a14" stroke="#111" stroke-width="0.45"/>
<circle cx="459.3" cy="606.6" r="2.2" fill="#0b8a14" stroke="#111" stroke-width="0.45"/>
<circle cx="464.9" cy="611.4" r="2.2" fill="#0b8a14" stroke="#111" stroke-width="0.45"/>
<circle cx="461.4" cy="611.3" r="2.2" fill="#0b8a14" stroke="#111" stroke-width="0.45"/>
<circle cx="457.4" cy="607.3" r="2.2" fill="#0b8a14" stroke="#111" stroke-width="0.45"/>
<circle cx="464.6" cy="611.3" r="2.2" fill="#0b8a14" stroke="#111" stroke-width="0.45"/>
<circle cx="462" cy="611" r="2.2" fill="#0b8a14" stroke="#111" stroke-width="0.45"/>
<circle cx="465.3" cy="610.6" r="2.2" fill="#0b8a14" stroke="#111" stroke-width="0.45"/>
<circle cx="462.9" cy="610.5" r="2.2" fill="#0b8a14" stroke="#111" stroke-width="0.45"/>
<circle cx="457.3" cy="608.2" r="2.2" fill="#0b8a14" stroke="#111" stroke-width="0.45"/>
<circle cx="462.4" cy="610.2" r="2.2" fill="#0b8a14" stroke="#111" stroke-width="0.45"/>
<circle cx="463.9" cy="609.7" r="2.2" fill="#0b8a14" stroke="#111" stroke-width="0.45"/>
<circle cx="465" cy="609" r="2.2" fill="#0b8a14" stroke="#111" stroke-width="0.45"/>
<circle cx="459.6" cy="609.1" r="2.2" fill="#0b8a14" stroke="#111" stroke-width="0.45"/>
<circle cx="461.5" cy="609.3" r="2.2" fill="#0b8a14" stroke="#111" stroke-width="0.45"/>
<line x1="455.2" y1="609.32" x2="467.2" y2="609.32" stroke="#111" stroke-width="0.8"/>
<circle cx="481.3" cy="598.8" r="2.2" fill="#6ff2cc" stroke="#111" stroke-width="0.45"/>
<circle cx="482.6" cy="620.9" r="2.2" fill="#6ff2cc" stroke="#111" stroke-width="0.45"/>
<circle cx="485.6" cy="620.6" r="2.2" fill="#6ff2cc" stroke="#111" stroke-width="0.45"/>
<circle cx="479.1" cy="619.9" r="2.2" fill="#6ff2cc" stroke="#111" stroke-width="0.45"/>
<circle cx="479.6" cy="619.2" r="2.2" fill="#6ff2cc" stroke="#111" stroke-width="0.45"/>
<circle cx="477.7" cy="603.1" r="2.2" fill="#6ff2cc" stroke="#111" stroke-width="0.45"/>
<circle cx="478.6" cy="618.1" r="2.2" fill="#6ff2cc" stroke="#111" stroke-width="0.45"/>
<circle cx="477.5" cy="618" r="2.2" fill="#6ff2cc" stroke="#111" stroke-width="0.45"/>
<circle cx="478.9" cy="603.7" r="2.2" fill="#6ff2cc" stroke="#111" stroke-width="0.45"/>
<circle cx="482.3" cy="603.9" r="2.2" fill="#6ff2cc" stroke="#111" stroke-width="0.45"/>
<circle cx="486.9" cy="617.5" r="2.2" fill="#6ff2cc" stroke="#111" stroke-width="0.45"/>
<circle cx="484" cy="604.1" r="2.2" fill="#6ff2cc" stroke="#111" stroke-width="0.45"/>
<circle cx="481" cy="605.2" r="2.2" fill="#6ff2cc" stroke="#111" stroke-width="0.45"/>
<circle cx="481.3" cy="616.2" r="2.2" fill="#6ff2cc" stroke="#111" stroke-width="0.45"/>
<circle cx="484" cy="605.4" r="2.2" fill="#6ff2cc" stroke="#111" stroke-width="0.45"/>
<circle cx="480.5" cy="615.7" r="2.2" fill="#6ff2cc" stroke="#111" stroke-width="0.45"/>
<circle cx="478.1" cy="606.8" r="2.2" fill="#6ff2cc" stroke="#111" stroke-width="0.45"/>
<circle cx="485.4" cy="614.5" r="2.2" fill="#6ff2cc" stroke="#111" stroke-width="0.45"/>
<circle cx="483.3" cy="614.3" r="2.2" fill="#6ff2cc" stroke="#111" stroke-width="0.45"/>
<circle cx="478.5" cy="614.2" r="2.2" fill="#6ff2cc" stroke="#111" stroke-width="0.45"/>
<circle cx="478.1" cy="607.2" r="2.2" fill="#6ff2cc" stroke="#111" stroke-width="0.45"/>
<circle cx="478.3" cy="613.9" r="2.2" fill="#6ff2cc" stroke="#111" stroke-width="0.45"/>
<circle cx="486.6" cy="613.7" r="2.2" fill="#6ff2cc" stroke="#111" stroke-width="0.45"/>
<circle cx="478.5" cy="613.7" r="2.2" fill="#6ff2cc" stroke="#111" stroke-width="0.45"/>
<circle cx="483.4" cy="607.8" r="2.2" fill="#6ff2cc" stroke="#111" stroke-width="0.45"/>
<circle cx="486.7" cy="608" r="2.2" fill="#6ff2cc" stroke="#111" stroke-width="0.45"/>
<circle cx="477.8" cy="613.2" r="2.2" fill="#6ff2cc" stroke="#111" stroke-width="0.45"/>
<circle cx="481.1" cy="613.2" r="2.2" fill="#6ff2cc" stroke="#111" stroke-width="0.45"/>
<circle cx="482" cy="608.4" r="2.2" fill="#6ff2cc" stroke="#111" stroke-width="0.45"/>
<circle cx="486.2" cy="608.8" r="2.2" fill="#6ff2cc" stroke="#111" stroke-width="0.45"/>
<circle cx="479.2" cy="612.6" r="2.2" fill="#6ff2cc" stroke="#111" stroke-width="0.45"/>
<circle cx="479.9" cy="609" r="2.2" fill="#6ff2cc" stroke="#111" stroke-width="0.45"/>
<circle cx="479.8" cy="612.4" r="2.2" fill="#6ff2cc" stroke="#111" stroke-width="0.45"/>
<circle cx="477.9" cy="609.2" r="2.2" fill="#6ff2cc" stroke="#111" stroke-width="0.45"/>
<circle cx="483.9" cy="612.2" r="2.2" fill="#6ff2cc" stroke="#111" stroke-width="0.45"/>
<circle cx="485.2" cy="609.2" r="2.2" fill="#6ff2cc" stroke="#111" stroke-width="0.45"/>
<circle cx="481.6" cy="612.1" r="2.2" fill="#6ff2cc" stroke="#111" stroke-width="0.45"/>
<circle cx="477.8" cy="611.9" r="2.2" fill="#6ff2cc" stroke="#111" stroke-width="0.45"/>
<circle cx="484.2" cy="609.7" r="2.2" fill="#6ff2cc" stroke="#111" stroke-width="0.45"/>
<circle cx="484.5" cy="611.6" r="2.2" fill="#6ff2cc" stroke="#111" stroke-width="0.45"/>
<circle cx="483.7" cy="609.9" r="2.2" fill="#6ff2cc" stroke="#111" stroke-width="0.45"/>
<circle cx="480.6" cy="611.2" r="2.2" fill="#6ff2cc" stroke="#111" stroke-width="0.45"/>
<circle cx="485.3" cy="611" r="2.2" fill="#6ff2cc" stroke="#111" stroke-width="0.45"/>
<circle cx="483.4" cy="610.9" r="2.2" fill="#6ff2cc" stroke="#111" stroke-width="0.45"/>
<circle cx="483.1" cy="610.8" r="2.2" fill="#6ff2cc" stroke="#111" stroke-width="0.45"/>
<line x1="476.2" y1="610.71" x2="488.2" y2="610.71" stroke="#111" stroke-width="0.8"/>
<circle cx="493.2" cy="624.6" r="2.2" fill="#0b8a14" stroke="#111" stroke-width="0.45"/>
<circle cx="495.3" cy="624.2" r="2.2" fill="#0b8a14" stroke="#111" stroke-width="0.45"/>
<circle cx="491.4" cy="623.4" r="2.2" fill="#0b8a14" stroke="#111" stroke-width="0.45"/>
<circle cx="493.9" cy="598.2" r="2.2" fill="#0b8a14" stroke="#111" stroke-width="0.45"/>
<circle cx="491.3" cy="622.5" r="2.2" fill="#0b8a14" stroke="#111" stroke-width="0.45"/>
<circle cx="490.8" cy="620.6" r="2.2" fill="#0b8a14" stroke="#111" stroke-width="0.45"/>
<circle cx="493.3" cy="620.1" r="2.2" fill="#0b8a14" stroke="#111" stroke-width="0.45"/>
<circle cx="491.8" cy="619.6" r="2.2" fill="#0b8a14" stroke="#111" stroke-width="0.45"/>
<circle cx="493.6" cy="602" r="2.2" fill="#0b8a14" stroke="#111" stroke-width="0.45"/>
<circle cx="497.7" cy="619.3" r="2.2" fill="#0b8a14" stroke="#111" stroke-width="0.45"/>
<circle cx="491" cy="602.2" r="2.2" fill="#0b8a14" stroke="#111" stroke-width="0.45"/>
<circle cx="496.6" cy="618.4" r="2.2" fill="#0b8a14" stroke="#111" stroke-width="0.45"/>
<circle cx="491.9" cy="603.8" r="2.2" fill="#0b8a14" stroke="#111" stroke-width="0.45"/>
<circle cx="498.2" cy="604.5" r="2.2" fill="#0b8a14" stroke="#111" stroke-width="0.45"/>
<circle cx="497.7" cy="616.6" r="2.2" fill="#0b8a14" stroke="#111" stroke-width="0.45"/>
<circle cx="492.7" cy="616.3" r="2.2" fill="#0b8a14" stroke="#111" stroke-width="0.45"/>
<circle cx="498.7" cy="616.3" r="2.2" fill="#0b8a14" stroke="#111" stroke-width="0.45"/>
<circle cx="497.5" cy="605.2" r="2.2" fill="#0b8a14" stroke="#111" stroke-width="0.45"/>
<circle cx="491.4" cy="606.6" r="2.2" fill="#0b8a14" stroke="#111" stroke-width="0.45"/>
<circle cx="494.5" cy="614.7" r="2.2" fill="#0b8a14" stroke="#111" stroke-width="0.45"/>
<circle cx="497.3" cy="614.7" r="2.2" fill="#0b8a14" stroke="#111" stroke-width="0.45"/>
<circle cx="499.4" cy="614.2" r="2.2" fill="#0b8a14" stroke="#111" stroke-width="0.45"/>
<circle cx="492.3" cy="614.1" r="2.2" fill="#0b8a14" stroke="#111" stroke-width="0.45"/>
<circle cx="493" cy="607.6" r="2.2" fill="#0b8a14" stroke="#111" stroke-width="0.45"/>
<circle cx="498" cy="607.7" r="2.2" fill="#0b8a14" stroke="#111" stroke-width="0.45"/>
<circle cx="499.8" cy="613.7" r="2.2" fill="#0b8a14" stroke="#111" stroke-width="0.45"/>
<circle cx="491.5" cy="612.7" r="2.2" fill="#0b8a14" stroke="#111" stroke-width="0.45"/>
<circle cx="491.5" cy="608.7" r="2.2" fill="#0b8a14" stroke="#111" stroke-width="0.45"/>
<circle cx="497.8" cy="608.7" r="2.2" fill="#0b8a14" stroke="#111" stroke-width="0.45"/>
<circle cx="493.7" cy="612.3" r="2.2" fill="#0b8a14" stroke="#111" stroke-width="0.45"/>
<circle cx="494.3" cy="612.3" r="2.2" fill="#0b8a14" stroke="#111" stroke-width="0.45"/>
<circle cx="499" cy="609.3" r="2.2" fill="#0b8a14" stroke="#111" stroke-width="0.45"/>
<circle cx="497.7" cy="609.3" r="2.2" fill="#0b8a14" stroke="#111" stroke-width="0.45"/>
<circle cx="496.9" cy="609.3" r="2.2" fill="#0b8a14" stroke="#111" stroke-width="0.45"/>
<circle cx="498.9" cy="609.5" r="2.2" fill="#0b8a14" stroke="#111" stroke-width="0.45"/>
<circle cx="497.6" cy="609.5" r="2.2" fill="#0b8a14" stroke="#111" stroke-width="0.45"/>
<circle cx="498.3" cy="611.7" r="2.2" fill="#0b8a14" stroke="#111" stroke-width="0.45"/>
<circle cx="496.8" cy="609.9" r="2.2" fill="#0b8a14" stroke="#111" stroke-width="0.45"/>
<circle cx="496.3" cy="611.6" r="2.2" fill="#0b8a14" stroke="#111" stroke-width="0.45"/>
<circle cx="491.2" cy="610.3" r="2.2" fill="#0b8a14" stroke="#111" stroke-width="0.45"/>
<circle cx="499.3" cy="611" r="2.2" fill="#0b8a14" stroke="#111" stroke-width="0.45"/>
<circle cx="499.3" cy="610.9" r="2.2" fill="#0b8a14" stroke="#111" stroke-width="0.45"/>
<circle cx="494" cy="610.9" r="2.2" fill="#0b8a14" stroke="#111" stroke-width="0.45"/>
<circle cx="496.6" cy="610.5" r="2.2" fill="#0b8a14" stroke="#111" stroke-width="0.45"/>
<circle cx="490.8" cy="610.7" r="2.2" fill="#0b8a14" stroke="#111" stroke-width="0.45"/>
<line x1="489.4" y1="610.71" x2="501.4" y2="610.71" stroke="#111" stroke-width="0.8"/>
<circle cx="519.6" cy="622.6" r="2.2" fill="#6ff2cc" stroke="#111" stroke-width="0.45"/>
<circle cx="514.9" cy="621.5" r="2.2" fill="#6ff2cc" stroke="#111" stroke-width="0.45"/>
<circle cx="516.7" cy="598.9" r="2.2" fill="#6ff2cc" stroke="#111" stroke-width="0.45"/>
<circle cx="519.3" cy="598.9" r="2.2" fill="#6ff2cc" stroke="#111" stroke-width="0.45"/>
<circle cx="513.3" cy="598.9" r="2.2" fill="#6ff2cc" stroke="#111" stroke-width="0.45"/>
<circle cx="516" cy="620.4" r="2.2" fill="#6ff2cc" stroke="#111" stroke-width="0.45"/>
<circle cx="516.7" cy="600" r="2.2" fill="#6ff2cc" stroke="#111" stroke-width="0.45"/>
<circle cx="520.1" cy="600.2" r="2.2" fill="#6ff2cc" stroke="#111" stroke-width="0.45"/>
<circle cx="511.5" cy="618.7" r="2.2" fill="#6ff2cc" stroke="#111" stroke-width="0.45"/>
<circle cx="511.8" cy="601.5" r="2.2" fill="#6ff2cc" stroke="#111" stroke-width="0.45"/>
<circle cx="514.2" cy="601.7" r="2.2" fill="#6ff2cc" stroke="#111" stroke-width="0.45"/>
<circle cx="519" cy="602.1" r="2.2" fill="#6ff2cc" stroke="#111" stroke-width="0.45"/>
<circle cx="519.2" cy="602.5" r="2.2" fill="#6ff2cc" stroke="#111" stroke-width="0.45"/>
<circle cx="512.4" cy="602.6" r="2.2" fill="#6ff2cc" stroke="#111" stroke-width="0.45"/>
<circle cx="519.9" cy="617.2" r="2.2" fill="#6ff2cc" stroke="#111" stroke-width="0.45"/>
<circle cx="516.2" cy="603" r="2.2" fill="#6ff2cc" stroke="#111" stroke-width="0.45"/>
<circle cx="520.3" cy="603.1" r="2.2" fill="#6ff2cc" stroke="#111" stroke-width="0.45"/>
<circle cx="520" cy="603.3" r="2.2" fill="#6ff2cc" stroke="#111" stroke-width="0.45"/>
<circle cx="512" cy="616.7" r="2.2" fill="#6ff2cc" stroke="#111" stroke-width="0.45"/>
<circle cx="520.4" cy="616.4" r="2.2" fill="#6ff2cc" stroke="#111" stroke-width="0.45"/>
<circle cx="515.7" cy="603.8" r="2.2" fill="#6ff2cc" stroke="#111" stroke-width="0.45"/>
<circle cx="512.6" cy="603.9" r="2.2" fill="#6ff2cc" stroke="#111" stroke-width="0.45"/>
<circle cx="515.6" cy="616.2" r="2.2" fill="#6ff2cc" stroke="#111" stroke-width="0.45"/>
<circle cx="511.9" cy="604.1" r="2.2" fill="#6ff2cc" stroke="#111" stroke-width="0.45"/>
<circle cx="518.3" cy="615.4" r="2.2" fill="#6ff2cc" stroke="#111" stroke-width="0.45"/>
<circle cx="516.3" cy="615" r="2.2" fill="#6ff2cc" stroke="#111" stroke-width="0.45"/>
<circle cx="512.2" cy="614.4" r="2.2" fill="#6ff2cc" stroke="#111" stroke-width="0.45"/>
<circle cx="513.3" cy="605.6" r="2.2" fill="#6ff2cc" stroke="#111" stroke-width="0.45"/>
<circle cx="516" cy="605.7" r="2.2" fill="#6ff2cc" stroke="#111" stroke-width="0.45"/>
<circle cx="518.5" cy="606" r="2.2" fill="#6ff2cc" stroke="#111" stroke-width="0.45"/>
<circle cx="513.8" cy="606.6" r="2.2" fill="#6ff2cc" stroke="#111" stroke-width="0.45"/>
<circle cx="512.2" cy="613.4" r="2.2" fill="#6ff2cc" stroke="#111" stroke-width="0.45"/>
<circle cx="514.5" cy="606.7" r="2.2" fill="#6ff2cc" stroke="#111" stroke-width="0.45"/>
<circle cx="511.8" cy="613" r="2.2" fill="#6ff2cc" stroke="#111" stroke-width="0.45"/>
<circle cx="514.3" cy="607.2" r="2.2" fill="#6ff2cc" stroke="#111" stroke-width="0.45"/>
<circle cx="519.4" cy="612.7" r="2.2" fill="#6ff2cc" stroke="#111" stroke-width="0.45"/>
<circle cx="512.9" cy="607.4" r="2.2" fill="#6ff2cc" stroke="#111" stroke-width="0.45"/>
<circle cx="514" cy="612.6" r="2.2" fill="#6ff2cc" stroke="#111" stroke-width="0.45"/>
<circle cx="518.5" cy="607.5" r="2.2" fill="#6ff2cc" stroke="#111" stroke-width="0.45"/>
<circle cx="513.1" cy="611.8" r="2.2" fill="#6ff2cc" stroke="#111" stroke-width="0.45"/>
<circle cx="512.2" cy="608.4" r="2.2" fill="#6ff2cc" stroke="#111" stroke-width="0.45"/>
<circle cx="513.5" cy="609.4" r="2.2" fill="#6ff2cc" stroke="#111" stroke-width="0.45"/>
<circle cx="516.9" cy="609.5" r="2.2" fill="#6ff2cc" stroke="#111" stroke-width="0.45"/>
<circle cx="517.9" cy="609.9" r="2.2" fill="#6ff2cc" stroke="#111" stroke-width="0.45"/>
<circle cx="517.6" cy="610" r="2.2" fill="#6ff2cc" stroke="#111" stroke-width="0.45"/>
<line x1="509.9" y1="610.02" x2="521.9" y2="610.02" stroke="#111" stroke-width="0.8"/>
<circle cx="528.9" cy="587" r="2.2" fill="#0b8a14" stroke="#111" stroke-width="0.45"/>
<circle cx="529.6" cy="595.5" r="2.2" fill="#0b8a14" stroke="#111" stroke-width="0.45"/>
<circle cx="529.9" cy="620" r="2.2" fill="#0b8a14" stroke="#111" stroke-width="0.45"/>
<circle cx="528.8" cy="619" r="2.2" fill="#0b8a14" stroke="#111" stroke-width="0.45"/>
<circle cx="530.4" cy="618.5" r="2.2" fill="#0b8a14" stroke="#111" stroke-width="0.45"/>
<circle cx="529.3" cy="618.5" r="2.2" fill="#0b8a14" stroke="#111" stroke-width="0.45"/>
<circle cx="525.9" cy="597.7" r="2.2" fill="#0b8a14" stroke="#111" stroke-width="0.45"/>
<circle cx="529.5" cy="597.7" r="2.2" fill="#0b8a14" stroke="#111" stroke-width="0.45"/>
<circle cx="525.8" cy="617.6" r="2.2" fill="#0b8a14" stroke="#111" stroke-width="0.45"/>
<circle cx="526.5" cy="617.1" r="2.2" fill="#0b8a14" stroke="#111" stroke-width="0.45"/>
<circle cx="528.1" cy="616.8" r="2.2" fill="#0b8a14" stroke="#111" stroke-width="0.45"/>
<circle cx="534.7" cy="599.1" r="2.2" fill="#0b8a14" stroke="#111" stroke-width="0.45"/>
<circle cx="530.1" cy="599.3" r="2.2" fill="#0b8a14" stroke="#111" stroke-width="0.45"/>
<circle cx="530.7" cy="616.5" r="2.2" fill="#0b8a14" stroke="#111" stroke-width="0.45"/>
<circle cx="534.3" cy="616.5" r="2.2" fill="#0b8a14" stroke="#111" stroke-width="0.45"/>
<circle cx="534.1" cy="599.8" r="2.2" fill="#0b8a14" stroke="#111" stroke-width="0.45"/>
<circle cx="530.9" cy="615.1" r="2.2" fill="#0b8a14" stroke="#111" stroke-width="0.45"/>
<circle cx="527.7" cy="601.7" r="2.2" fill="#0b8a14" stroke="#111" stroke-width="0.45"/>
<circle cx="530.5" cy="613.9" r="2.2" fill="#0b8a14" stroke="#111" stroke-width="0.45"/>
<circle cx="529" cy="613.6" r="2.2" fill="#0b8a14" stroke="#111" stroke-width="0.45"/>
<circle cx="534.6" cy="613.5" r="2.2" fill="#0b8a14" stroke="#111" stroke-width="0.45"/>
<circle cx="525.9" cy="602.7" r="2.2" fill="#0b8a14" stroke="#111" stroke-width="0.45"/>
<circle cx="529.1" cy="602.8" r="2.2" fill="#0b8a14" stroke="#111" stroke-width="0.45"/>
<circle cx="532.1" cy="603.2" r="2.2" fill="#0b8a14" stroke="#111" stroke-width="0.45"/>
<circle cx="531.3" cy="612.6" r="2.2" fill="#0b8a14" stroke="#111" stroke-width="0.45"/>
<circle cx="530.8" cy="603.9" r="2.2" fill="#0b8a14" stroke="#111" stroke-width="0.45"/>
<circle cx="532.8" cy="611.9" r="2.2" fill="#0b8a14" stroke="#111" stroke-width="0.45"/>
<circle cx="527.8" cy="611.5" r="2.2" fill="#0b8a14" stroke="#111" stroke-width="0.45"/>
<circle cx="533.5" cy="611.3" r="2.2" fill="#0b8a14" stroke="#111" stroke-width="0.45"/>
<circle cx="534.2" cy="604.7" r="2.2" fill="#0b8a14" stroke="#111" stroke-width="0.45"/>
<circle cx="525.9" cy="611.1" r="2.2" fill="#0b8a14" stroke="#111" stroke-width="0.45"/>
<circle cx="528.7" cy="610.9" r="2.2" fill="#0b8a14" stroke="#111" stroke-width="0.45"/>
<circle cx="529" cy="605.2" r="2.2" fill="#0b8a14" stroke="#111" stroke-width="0.45"/>
<circle cx="529.2" cy="610.5" r="2.2" fill="#0b8a14" stroke="#111" stroke-width="0.45"/>
<circle cx="530.7" cy="605.7" r="2.2" fill="#0b8a14" stroke="#111" stroke-width="0.45"/>
<circle cx="528" cy="605.9" r="2.2" fill="#0b8a14" stroke="#111" stroke-width="0.45"/>
<circle cx="531.7" cy="606" r="2.2" fill="#0b8a14" stroke="#111" stroke-width="0.45"/>
<circle cx="533.9" cy="609.6" r="2.2" fill="#0b8a14" stroke="#111" stroke-width="0.45"/>
<circle cx="534.4" cy="609.6" r="2.2" fill="#0b8a14" stroke="#111" stroke-width="0.45"/>
<circle cx="533.6" cy="609.6" r="2.2" fill="#0b8a14" stroke="#111" stroke-width="0.45"/>
<circle cx="527.6" cy="609.5" r="2.2" fill="#0b8a14" stroke="#111" stroke-width="0.45"/>
<circle cx="532.6" cy="608.8" r="2.2" fill="#0b8a14" stroke="#111" stroke-width="0.45"/>
<circle cx="532.9" cy="608.7" r="2.2" fill="#0b8a14" stroke="#111" stroke-width="0.45"/>
<circle cx="531.3" cy="608.6" r="2.2" fill="#0b8a14" stroke="#111" stroke-width="0.45"/>
<circle cx="532" cy="607.2" r="2.2" fill="#0b8a14" stroke="#111" stroke-width="0.45"/>
<line x1="524.3" y1="607.93" x2="536.3" y2="607.93" stroke="#111" stroke-width="0.8"/>
<line x1="440" y1="638.1" x2="465.3" y2="638.1" stroke="#555" stroke-width="0.7"/>
<text x="452.65" y="646.6" font-size="8.4" text-anchor="middle" font-weight="normal" fill="#2b2b2b">I inj</text>
<line x1="475.7" y1="638.1" x2="501.4" y2="638.1" stroke="#555" stroke-width="0.7"/>
<text x="488.55" y="646.6" font-size="8.4" text-anchor="middle" font-weight="normal" fill="#2b2b2b">II inj</text>
<line x1="511" y1="638.1" x2="535.9" y2="638.1" stroke="#555" stroke-width="0.7"/>
<text x="523.45" y="646.6" font-size="8.4" text-anchor="middle" font-weight="normal" fill="#2b2b2b">III inj</text>
<path d="M428.5 539.3 V534 H530.3 V539.3" fill="none" stroke="#555" stroke-width="0.7"/>
<text x="479.7" y="529.6" font-size="7" text-anchor="middle" font-weight="normal" fill="#444" textLength="31.5" lengthAdjust="spacingAndGlyphs"><tspan font-style="italic">P</tspan> = 0.0439</text>
<path d="M447.7 553.7 V547.7 H530.3 V553.7" fill="none" stroke="#555" stroke-width="0.7"/>
<text x="489.4" y="543.9" font-size="7" text-anchor="middle" font-weight="normal" fill="#444" textLength="31.5" lengthAdjust="spacingAndGlyphs"><tspan font-style="italic">P</tspan> = 0.0401</text>
<path d="M482.2 568.2 V562.1 H530.3 V568.2" fill="none" stroke="#555" stroke-width="0.7"/>
<text x="509.5" y="558.9" font-size="7" text-anchor="middle" font-weight="normal" fill="#444" textLength="31.5" lengthAdjust="spacingAndGlyphs"><tspan font-style="italic">P</tspan> = 0.0159</text>
<path d="M495.9 585 V577.8 H530.3 V585" fill="none" stroke="#555" stroke-width="0.7"/>
<text x="513.2" y="574.7" font-size="7" text-anchor="middle" font-weight="normal" fill="#444" textLength="31.5" lengthAdjust="spacingAndGlyphs"><tspan font-style="italic">P</tspan> = 0.0336</text>
<text x="560.6" y="511.8" font-size="13.5" text-anchor="start" font-weight="bold" fill="#111" stroke="#111" stroke-width="0.35">g</text>
<line x1="602.2" y1="550.6" x2="602.2" y2="634.6" stroke="#3a3a3a" stroke-width="0.8"/>
<line x1="602.2" y1="634.6" x2="655.4" y2="634.6" stroke="#3a3a3a" stroke-width="0.8"/>
<line x1="599.8" y1="634.6" x2="602.2" y2="634.6" stroke="#3a3a3a" stroke-width="0.8"/>
<text x="594.3" y="637.5" font-size="8" text-anchor="end" font-weight="normal" fill="#2b2b2b">0</text>
<line x1="599.8" y1="617.8" x2="602.2" y2="617.8" stroke="#3a3a3a" stroke-width="0.8"/>
<text x="594.3" y="620.7" font-size="8" text-anchor="end" font-weight="normal" fill="#2b2b2b">50</text>
<line x1="599.8" y1="601" x2="602.2" y2="601" stroke="#3a3a3a" stroke-width="0.8"/>
<text x="594.3" y="603.9" font-size="8" text-anchor="end" font-weight="normal" fill="#2b2b2b">100</text>
<line x1="599.8" y1="584.2" x2="602.2" y2="584.2" stroke="#3a3a3a" stroke-width="0.8"/>
<text x="594.3" y="587.1" font-size="8" text-anchor="end" font-weight="normal" fill="#2b2b2b">150</text>
<line x1="599.8" y1="567.4" x2="602.2" y2="567.4" stroke="#3a3a3a" stroke-width="0.8"/>
<text x="594.3" y="570.3" font-size="8" text-anchor="end" font-weight="normal" fill="#2b2b2b">200</text>
<line x1="599.8" y1="550.6" x2="602.2" y2="550.6" stroke="#3a3a3a" stroke-width="0.8"/>
<text x="594.3" y="553.5" font-size="8" text-anchor="end" font-weight="normal" fill="#2b2b2b">250</text>
<text x="573.4" y="593.1" font-size="9.2" text-anchor="middle" font-weight="normal" fill="#2b2b2b" transform="rotate(-90 573.4 593.1)" textLength="41.5" lengthAdjust="spacingAndGlyphs">P (kN m<tspan dy="-3.2" font-size="6">−2</tspan><tspan dy="3.2">)</tspan></text>
<line x1="608.05" y1="622.5" x2="608.05" y2="625.19" stroke="#555" stroke-width="0.6"/>
<line x1="606.55" y1="622.5" x2="609.55" y2="622.5" stroke="#555" stroke-width="0.6"/>
<rect x="604.7" y="625.19" width="6.7" height="9.41" fill="#6ff2cc" stroke="#222" stroke-width="0.6"/>
<circle cx="607" cy="618.5" r="2.1" fill="#6ff2cc" stroke="#111" stroke-width="0.5"/>
<circle cx="609" cy="621.2" r="2.1" fill="#6ff2cc" stroke="#111" stroke-width="0.5"/>
<circle cx="607" cy="624.5" r="2.1" fill="#6ff2cc" stroke="#111" stroke-width="0.5"/>
<circle cx="609" cy="627.9" r="2.1" fill="#6ff2cc" stroke="#111" stroke-width="0.5"/>
<circle cx="607" cy="630.6" r="2.1" fill="#6ff2cc" stroke="#111" stroke-width="0.5"/>
<circle cx="609" cy="626.2" r="2.1" fill="#6ff2cc" stroke="#111" stroke-width="0.5"/>
<line x1="615.3" y1="630.9" x2="615.3" y2="631.58" stroke="#555" stroke-width="0.6"/>
<line x1="613.8" y1="630.9" x2="616.8" y2="630.9" stroke="#555" stroke-width="0.6"/>
<rect x="612" y="631.58" width="6.6" height="3.02" fill="#0b8a14" stroke="#222" stroke-width="0.6"/>
<circle cx="614.3" cy="631.2" r="2.1" fill="#0b8a14" stroke="#111" stroke-width="0.5"/>
<circle cx="616.3" cy="631.9" r="2.1" fill="#0b8a14" stroke="#111" stroke-width="0.5"/>
<circle cx="614.3" cy="632.2" r="2.1" fill="#0b8a14" stroke="#111" stroke-width="0.5"/>
<circle cx="616.3" cy="631.6" r="2.1" fill="#0b8a14" stroke="#111" stroke-width="0.5"/>
<line x1="625.2" y1="617.8" x2="625.2" y2="622.5" stroke="#555" stroke-width="0.6"/>
<line x1="623.7" y1="617.8" x2="626.7" y2="617.8" stroke="#555" stroke-width="0.6"/>
<rect x="621.6" y="622.5" width="7.2" height="12.1" fill="#6ff2cc" stroke="#222" stroke-width="0.6"/>
<circle cx="624.2" cy="609.4" r="2.1" fill="#6ff2cc" stroke="#111" stroke-width="0.5"/>
<circle cx="626.2" cy="618.5" r="2.1" fill="#6ff2cc" stroke="#111" stroke-width="0.5"/>
<circle cx="624.2" cy="621.8" r="2.1" fill="#6ff2cc" stroke="#111" stroke-width="0.5"/>
<circle cx="626.2" cy="626.2" r="2.1" fill="#6ff2cc" stroke="#111" stroke-width="0.5"/>
<circle cx="624.2" cy="629.6" r="2.1" fill="#6ff2cc" stroke="#111" stroke-width="0.5"/>
<circle cx="626.2" cy="624.5" r="2.1" fill="#6ff2cc" stroke="#111" stroke-width="0.5"/>
<line x1="632.05" y1="609.74" x2="632.05" y2="619.82" stroke="#555" stroke-width="0.6"/>
<line x1="630.55" y1="609.74" x2="633.55" y2="609.74" stroke="#555" stroke-width="0.6"/>
<rect x="628.8" y="619.82" width="6.5" height="14.78" fill="#0b8a14" stroke="#222" stroke-width="0.6"/>
<circle cx="631" cy="600.3" r="2.1" fill="#0b8a14" stroke="#111" stroke-width="0.5"/>
<circle cx="633" cy="607.7" r="2.1" fill="#0b8a14" stroke="#111" stroke-width="0.5"/>
<circle cx="631" cy="621.2" r="2.1" fill="#0b8a14" stroke="#111" stroke-width="0.5"/>
<circle cx="633" cy="627.9" r="2.1" fill="#0b8a14" stroke="#111" stroke-width="0.5"/>
<circle cx="631" cy="624.5" r="2.1" fill="#0b8a14" stroke="#111" stroke-width="0.5"/>
<line x1="642.4" y1="624.86" x2="642.4" y2="626.87" stroke="#555" stroke-width="0.6"/>
<line x1="640.9" y1="624.86" x2="643.9" y2="624.86" stroke="#555" stroke-width="0.6"/>
<rect x="639" y="626.87" width="6.8" height="7.73" fill="#6ff2cc" stroke="#222" stroke-width="0.6"/>
<circle cx="641.4" cy="624.5" r="2.1" fill="#6ff2cc" stroke="#111" stroke-width="0.5"/>
<circle cx="643.4" cy="626.2" r="2.1" fill="#6ff2cc" stroke="#111" stroke-width="0.5"/>
<circle cx="641.4" cy="627.9" r="2.1" fill="#6ff2cc" stroke="#111" stroke-width="0.5"/>
<circle cx="643.4" cy="628.6" r="2.1" fill="#6ff2cc" stroke="#111" stroke-width="0.5"/>
<line x1="649.05" y1="583.19" x2="649.05" y2="606.71" stroke="#555" stroke-width="0.6"/>
<line x1="647.55" y1="583.19" x2="650.55" y2="583.19" stroke="#555" stroke-width="0.6"/>
<rect x="645.8" y="606.71" width="6.5" height="27.89" fill="#0b8a14" stroke="#222" stroke-width="0.6"/>
<circle cx="648" cy="564.7" r="2.1" fill="#0b8a14" stroke="#111" stroke-width="0.5"/>
<circle cx="650" cy="584.2" r="2.1" fill="#0b8a14" stroke="#111" stroke-width="0.5"/>
<circle cx="648" cy="619.5" r="2.1" fill="#0b8a14" stroke="#111" stroke-width="0.5"/>
<circle cx="650" cy="624.5" r="2.1" fill="#0b8a14" stroke="#111" stroke-width="0.5"/>
<circle cx="648" cy="629.6" r="2.1" fill="#0b8a14" stroke="#111" stroke-width="0.5"/>
<path d="M615.5 558.4 V552.2 H648.8 V558.4" fill="none" stroke="#555" stroke-width="0.7"/>
<text x="632" y="547.7" font-size="7" text-anchor="middle" font-weight="normal" fill="#444" textLength="31.5" lengthAdjust="spacingAndGlyphs"><tspan font-style="italic">P</tspan> = 0.0178</text>
<text x="612.6" y="642.5" font-size="8.4" text-anchor="end" font-weight="normal" fill="#2b2b2b" transform="rotate(-45 612.6 642.5)">I inj</text>
<text x="629.8" y="642.5" font-size="8.4" text-anchor="end" font-weight="normal" fill="#2b2b2b" transform="rotate(-45 629.8 642.5)">II inj</text>
<text x="647.3" y="642.5" font-size="8.4" text-anchor="end" font-weight="normal" fill="#2b2b2b" transform="rotate(-45 647.3 642.5)">III inj</text>
<text x="1.8" y="675.4" font-size="13.5" text-anchor="start" font-weight="bold" fill="#111" stroke="#111" stroke-width="0.35">h</text>
<text x="79.4" y="700" font-size="9.5" text-anchor="start" font-weight="normal" fill="#2b2b2b">Exo<tspan dy="-3.7" font-size="6.8">myo</tspan><tspan dy="3.7"> III injection</tspan></text>
<line x1="45.3" y1="705.8" x2="191" y2="705.8" stroke="#8a8a8a" stroke-width="1.2"/>
<text x="47.9" y="717.6" font-size="9.6" text-anchor="start" font-weight="normal" fill="#2b2b2b">Untreated</text>
<text x="114.5" y="717.6" font-size="9.6" text-anchor="middle" font-weight="normal" fill="#2b2b2b">i.v.</text>
<text x="162.2" y="717.6" font-size="9.6" text-anchor="middle" font-weight="normal" fill="#2b2b2b">i.m.</text>
<line x1="47.4" y1="724.3" x2="90.7" y2="724.3" stroke="#8a8a8a" stroke-width="1"/>
<line x1="95.2" y1="724.3" x2="134.6" y2="724.3" stroke="#8a8a8a" stroke-width="1"/>
<line x1="140.4" y1="724.3" x2="185.8" y2="724.3" stroke="#8a8a8a" stroke-width="1"/>
<text x="195" y="719.4" font-size="9" text-anchor="start" font-weight="normal" fill="#2b2b2b">kDa</text>
<clipPath id="bl728"><rect x="44.4" y="728.7" width="146.2" height="15.7"/></clipPath>
<rect x="44.4" y="728.7" width="146.2" height="15.7" fill="#f6f6f6" stroke="none" stroke-width="0.8"/>
<g clip-path="url(#bl728)" filter="url(#b07)">
<rect x="48.9" y="734" width="14" height="5.6" fill="#0a0a0a" stroke="none" stroke-width="0.8" rx="2.2"/>
<rect x="62.9" y="733.9" width="14" height="5.8" fill="#0a0a0a" stroke="none" stroke-width="0.8" rx="2.2"/>
<rect x="77.4" y="734" width="14" height="5.6" fill="#0a0a0a" stroke="none" stroke-width="0.8" rx="2.2"/>
<rect x="93.35" y="734.7" width="12.5" height="3.2" fill="#4d4d4d" stroke="none" stroke-width="0.8" rx="1.6"/>
<rect x="108.05" y="734.6" width="12.5" height="3.4" fill="#2b2b2b" stroke="none" stroke-width="0.8" rx="1.7"/>
<rect x="123.25" y="734.5" width="12.5" height="3.6" fill="#202020" stroke="none" stroke-width="0.8" rx="1.8"/>
<rect x="139.85" y="733.8" width="11.5" height="2.4" fill="#858585" stroke="none" stroke-width="0.8" rx="1.2"/>
<rect x="156.85" y="733.8" width="11.5" height="2.4" fill="#858585" stroke="none" stroke-width="0.8" rx="1.2"/>
<rect x="173.95" y="733.7" width="11.5" height="2.6" fill="#7a7a7a" stroke="none" stroke-width="0.8" rx="1.3"/>
</g>
<rect x="44.4" y="728.7" width="146.2" height="15.7" fill="none" stroke="#444" stroke-width="0.7"/>
<text x="37.9" y="740.2" font-size="9" text-anchor="end" font-weight="normal" fill="#2b2b2b">AKT</text>
<text x="195.5" y="740" font-size="8.4" text-anchor="start" font-weight="normal" fill="#2b2b2b">57</text>
<clipPath id="bl747"><rect x="44.4" y="747.9" width="146.2" height="15.8"/></clipPath>
<rect x="44.4" y="747.9" width="146.2" height="15.8" fill="#f6f6f6" stroke="none" stroke-width="0.8"/>
<g clip-path="url(#bl747)" filter="url(#b07)">
<rect x="48.9" y="752.5" width="14" height="5" fill="#0a0a0a" stroke="none" stroke-width="0.8" rx="2.2"/>
<rect x="62.9" y="752.5" width="14" height="5" fill="#0e0e0e" stroke="none" stroke-width="0.8" rx="2.2"/>
<rect x="77.4" y="752.6" width="14" height="4.8" fill="#151515" stroke="none" stroke-width="0.8" rx="2.2"/>
<rect x="93.35" y="753.5" width="12.5" height="3.4" fill="#858585" stroke="none" stroke-width="0.8" rx="1.7"/>
<rect x="108.05" y="753.5" width="12.5" height="3.4" fill="#a3a3a3" stroke="none" stroke-width="0.8" rx="1.7"/>
<rect x="123.25" y="753.5" width="12.5" height="3.4" fill="#8c8c8c" stroke="none" stroke-width="0.8" rx="1.7"/>
<rect x="139.6" y="754.1" width="12" height="3" fill="#6f6f6f" stroke="none" stroke-width="0.8" rx="1.5"/>
<rect x="156.6" y="754.1" width="12" height="3" fill="#7a7a7a" stroke="none" stroke-width="0.8" rx="1.5"/>
<rect x="173.7" y="753.9" width="12" height="3.4" fill="#424242" stroke="none" stroke-width="0.8" rx="1.7"/>
</g>
<rect x="44.4" y="747.9" width="146.2" height="15.8" fill="none" stroke="#444" stroke-width="0.7"/>
<text x="37.9" y="759.6" font-size="9" text-anchor="end" font-weight="normal" fill="#2b2b2b">TGFβ</text>
<text x="195.5" y="758" font-size="8.4" text-anchor="start" font-weight="normal" fill="#2b2b2b">25</text>
<clipPath id="bl767"><rect x="44.4" y="767.1" width="146.2" height="15.9"/></clipPath>
<rect x="44.4" y="767.1" width="146.2" height="15.9" fill="#f6f6f6" stroke="none" stroke-width="0.8"/>
<g clip-path="url(#bl767)" filter="url(#b07)">
<rect x="48.8" y="773.2" width="14.2" height="6.4" fill="#0a0a0a" stroke="none" stroke-width="0.8" rx="2.2"/>
<rect x="62.8" y="773.2" width="14.2" height="6.4" fill="#0a0a0a" stroke="none" stroke-width="0.8" rx="2.2"/>
<rect x="77.3" y="773.3" width="14.2" height="6.2" fill="#0a0a0a" stroke="none" stroke-width="0.8" rx="2.2"/>
<rect x="93.6" y="773.6" width="12" height="3.4" fill="#202020" stroke="none" stroke-width="0.8" rx="1.7"/>
<rect x="108.3" y="773.6" width="12" height="3.4" fill="#2b2b2b" stroke="none" stroke-width="0.8" rx="1.7"/>
<rect x="123.5" y="773.6" width="12" height="3.4" fill="#202020" stroke="none" stroke-width="0.8" rx="1.7"/>
<rect x="139.85" y="773.1" width="11.5" height="2.2" fill="#9c9c9c" stroke="none" stroke-width="0.8" rx="1.1"/>
<rect x="156.85" y="773" width="11.5" height="2.4" fill="#6f6f6f" stroke="none" stroke-width="0.8" rx="1.2"/>
<rect x="173.95" y="773" width="11.5" height="2.4" fill="#646464" stroke="none" stroke-width="0.8" rx="1.2"/>
</g>
<rect x="44.4" y="767.1" width="146.2" height="15.9" fill="none" stroke="#444" stroke-width="0.7"/>
<text x="37.9" y="778.9" font-size="9" text-anchor="end" font-weight="normal" fill="#2b2b2b">TLR4</text>
<text x="195.5" y="778" font-size="8.4" text-anchor="start" font-weight="normal" fill="#2b2b2b">75</text>
<clipPath id="bl786"><rect x="44.4" y="786.8" width="146.2" height="18.4"/></clipPath>
<rect x="44.4" y="786.8" width="146.2" height="18.4" fill="#f6f6f6" stroke="none" stroke-width="0.8"/>
<g clip-path="url(#bl786)" filter="url(#b07)">
<rect x="49.15" y="790" width="13.5" height="4.8" fill="#0a0a0a" stroke="none" stroke-width="0.8" rx="2.2"/>
<rect x="63.15" y="790.8" width="13.5" height="4.8" fill="#101010" stroke="none" stroke-width="0.8" rx="2.2"/>
<rect x="77.65" y="791.7" width="13.5" height="4.8" fill="#151515" stroke="none" stroke-width="0.8" rx="2.2"/>
<rect x="92.85" y="792.2" width="13.5" height="4.8" fill="#151515" stroke="none" stroke-width="0.8" rx="2.2"/>
<rect x="107.55" y="793" width="13.5" height="4.8" fill="#0e0e0e" stroke="none" stroke-width="0.8" rx="2.2"/>
<rect x="122.75" y="793" width="13.5" height="5" fill="#0a0a0a" stroke="none" stroke-width="0.8" rx="2.2"/>
<rect x="140.1" y="793.6" width="11" height="2.8" fill="#646464" stroke="none" stroke-width="0.8" rx="1.4"/>
<rect x="157.1" y="793.7" width="11" height="2.6" fill="#7a7a7a" stroke="none" stroke-width="0.8" rx="1.3"/>
<rect x="174.2" y="793.3" width="11" height="2.6" fill="#6f6f6f" stroke="none" stroke-width="0.8" rx="1.3"/>
</g>
<rect x="44.4" y="786.8" width="146.2" height="18.4" fill="none" stroke="#444" stroke-width="0.7"/>
<text x="37.9" y="799.3" font-size="9" text-anchor="end" font-weight="normal" fill="#2b2b2b">CD 206</text>
<text x="195.5" y="794.6" font-size="8.4" text-anchor="start" font-weight="normal" fill="#2b2b2b">190</text>
<clipPath id="bl807"><rect x="44.4" y="807.6" width="146.2" height="14.7"/></clipPath>
<rect x="44.4" y="807.6" width="146.2" height="14.7" fill="#f6f6f6" stroke="none" stroke-width="0.8"/>
<g clip-path="url(#bl807)" filter="url(#b07)">
<rect x="48.8" y="809.5" width="14.2" height="5" fill="#0a0a0a" stroke="none" stroke-width="0.8" rx="2.2"/>
<rect x="62.8" y="809.9" width="14.2" height="5.8" fill="#0a0a0a" stroke="none" stroke-width="0.8" rx="2.2"/>
<rect x="77.3" y="809.5" width="14.2" height="7" fill="#0a0a0a" stroke="none" stroke-width="0.8" rx="2.2"/>
<rect x="93.6" y="812.8" width="12" height="3.4" fill="#646464" stroke="none" stroke-width="0.8" rx="1.7"/>
<rect x="108.8" y="813" width="11" height="3" fill="#7a7a7a" stroke="none" stroke-width="0.8" rx="1.5"/>
<rect x="124" y="813.5" width="11" height="3" fill="#919191" stroke="none" stroke-width="0.8" rx="1.5"/>
<rect x="140.6" y="814.75" width="10" height="2.5" fill="#d0d0d0" stroke="none" stroke-width="0.8" rx="1.25"/>
<rect x="157.6" y="815.75" width="10" height="2.5" fill="#d0d0d0" stroke="none" stroke-width="0.8" rx="1.25"/>
<rect x="174.7" y="814.75" width="10" height="2.5" fill="#b2b2b2" stroke="none" stroke-width="0.8" rx="1.25"/>
<rect x="174.7" y="810.5" width="10" height="2" fill="#bebebe" stroke="none" stroke-width="0.8" rx="1"/>
</g>
<rect x="44.4" y="807.6" width="146.2" height="14.7" fill="none" stroke="#444" stroke-width="0.7"/>
<text x="37.9" y="818" font-size="9" text-anchor="end" font-weight="normal" fill="#2b2b2b">IL-6</text>
<text x="195.5" y="814.7" font-size="8.4" text-anchor="start" font-weight="normal" fill="#2b2b2b">25</text>
<clipPath id="bl824"><rect x="44.4" y="824.2" width="146.2" height="9"/></clipPath>
<rect x="44.4" y="824.2" width="146.2" height="9" fill="#f6f6f6" stroke="none" stroke-width="0.8"/>
<g clip-path="url(#bl824)" filter="url(#b07)">
<rect x="49.4" y="826.7" width="13" height="3.4" fill="#151515" stroke="none" stroke-width="0.8" rx="1.7"/>
<rect x="63.4" y="827" width="13" height="3.2" fill="#2b2b2b" stroke="none" stroke-width="0.8" rx="1.6"/>
<rect x="78.4" y="827.3" width="12" height="3" fill="#646464" stroke="none" stroke-width="0.8" rx="1.5"/>
<rect x="93.6" y="827.3" width="12" height="3" fill="#585858" stroke="none" stroke-width="0.8" rx="1.5"/>
<rect x="108.3" y="827.1" width="12" height="3" fill="#4d4d4d" stroke="none" stroke-width="0.8" rx="1.5"/>
<rect x="123.5" y="827.1" width="12" height="3" fill="#646464" stroke="none" stroke-width="0.8" rx="1.5"/>
<rect x="139.6" y="826.8" width="12" height="2.8" fill="#6f6f6f" stroke="none" stroke-width="0.8" rx="1.4"/>
<rect x="156.6" y="826.7" width="12" height="3" fill="#585858" stroke="none" stroke-width="0.8" rx="1.5"/>
<rect x="173.7" y="826.7" width="12" height="3" fill="#4d4d4d" stroke="none" stroke-width="0.8" rx="1.5"/>
</g>
<rect x="44.4" y="824.2" width="146.2" height="9" fill="none" stroke="#444" stroke-width="0.7"/>
<text x="37.9" y="832.2" font-size="9" text-anchor="end" font-weight="normal" fill="#2b2b2b">RELB</text>
<text x="195.5" y="830.8" font-size="8.4" text-anchor="start" font-weight="normal" fill="#2b2b2b">70</text>
<clipPath id="bl835"><rect x="44.4" y="835.4" width="146.2" height="14.7"/></clipPath>
<rect x="44.4" y="835.4" width="146.2" height="14.7" fill="#e2e2e2" stroke="none" stroke-width="0.8"/>
<g clip-path="url(#bl835)" filter="url(#b07)">
<rect x="49.4" y="840.1" width="13" height="3" fill="#6f6f6f" stroke="none" stroke-width="0.8" rx="1.5"/>
<rect x="63.4" y="840.3" width="13" height="3" fill="#7a7a7a" stroke="none" stroke-width="0.8" rx="1.5"/>
<rect x="77.9" y="840.5" width="13" height="3" fill="#7a7a7a" stroke="none" stroke-width="0.8" rx="1.5"/>
<rect x="93.6" y="841.6" width="12" height="2.8" fill="#a3a3a3" stroke="none" stroke-width="0.8" rx="1.4"/>
<rect x="108.3" y="841.6" width="12" height="2.8" fill="#a3a3a3" stroke="none" stroke-width="0.8" rx="1.4"/>
<rect x="123.5" y="841.8" width="12" height="2.8" fill="#a7a7a7" stroke="none" stroke-width="0.8" rx="1.4"/>
<rect x="139.6" y="841.9" width="12" height="3" fill="#919191" stroke="none" stroke-width="0.8" rx="1.5"/>
<rect x="156.6" y="841.9" width="12" height="3" fill="#8c8c8c" stroke="none" stroke-width="0.8" rx="1.5"/>
<rect x="173.7" y="841.9" width="12" height="3" fill="#8c8c8c" stroke="none" stroke-width="0.8" rx="1.5"/>
</g>
<rect x="44.4" y="835.4" width="146.2" height="14.7" fill="none" stroke="#444" stroke-width="0.7"/>
<text x="37.9" y="845.9" font-size="9" text-anchor="end" font-weight="normal" fill="#2b2b2b">TNF</text>
<text x="195.5" y="843.7" font-size="8.4" text-anchor="start" font-weight="normal" fill="#2b2b2b">26</text>
<clipPath id="bl852"><rect x="44.4" y="852" width="146.2" height="13.6"/></clipPath>
<rect x="44.4" y="852" width="146.2" height="13.6" fill="#d6d6d6" stroke="none" stroke-width="0.8"/>
<g clip-path="url(#bl852)" filter="url(#b07)">
<rect x="49.15" y="854.6" width="13.5" height="3.2" fill="#858585" stroke="none" stroke-width="0.8" rx="1.6"/>
<rect x="63.15" y="854.6" width="13.5" height="3.2" fill="#858585" stroke="none" stroke-width="0.8" rx="1.6"/>
<rect x="77.65" y="854.6" width="13.5" height="3.2" fill="#858585" stroke="none" stroke-width="0.8" rx="1.6"/>
<rect x="92.85" y="854.6" width="13.5" height="3.2" fill="#a0a0a0" stroke="none" stroke-width="0.8" rx="1.6"/>
<rect x="107.55" y="854.6" width="13.5" height="3.2" fill="#a0a0a0" stroke="none" stroke-width="0.8" rx="1.6"/>
<rect x="122.75" y="854.6" width="13.5" height="3.2" fill="#a0a0a0" stroke="none" stroke-width="0.8" rx="1.6"/>
<rect x="138.85" y="854.6" width="13.5" height="3.2" fill="#a0a0a0" stroke="none" stroke-width="0.8" rx="1.6"/>
<rect x="155.85" y="854.6" width="13.5" height="3.2" fill="#a0a0a0" stroke="none" stroke-width="0.8" rx="1.6"/>
<rect x="172.95" y="854.6" width="13.5" height="3.2" fill="#a0a0a0" stroke="none" stroke-width="0.8" rx="1.6"/>
<rect x="49.15" y="860.2" width="13.5" height="2.8" fill="#959595" stroke="none" stroke-width="0.8" rx="1.4"/>
<rect x="63.15" y="860.2" width="13.5" height="2.8" fill="#959595" stroke="none" stroke-width="0.8" rx="1.4"/>
<rect x="77.65" y="860.2" width="13.5" height="2.8" fill="#959595" stroke="none" stroke-width="0.8" rx="1.4"/>
<rect x="92.85" y="860.2" width="13.5" height="2.8" fill="#acacac" stroke="none" stroke-width="0.8" rx="1.4"/>
<rect x="107.55" y="860.2" width="13.5" height="2.8" fill="#acacac" stroke="none" stroke-width="0.8" rx="1.4"/>
<rect x="122.75" y="860.2" width="13.5" height="2.8" fill="#acacac" stroke="none" stroke-width="0.8" rx="1.4"/>
<rect x="138.85" y="860.2" width="13.5" height="2.8" fill="#acacac" stroke="none" stroke-width="0.8" rx="1.4"/>
<rect x="155.85" y="860.2" width="13.5" height="2.8" fill="#acacac" stroke="none" stroke-width="0.8" rx="1.4"/>
<rect x="172.95" y="860.2" width="13.5" height="2.8" fill="#acacac" stroke="none" stroke-width="0.8" rx="1.4"/>
</g>
<rect x="44.4" y="852" width="146.2" height="13.6" fill="none" stroke="#444" stroke-width="0.7"/>
<text x="37.9" y="861.9" font-size="9" text-anchor="end" font-weight="normal" fill="#2b2b2b">MyoD</text>
<text x="195.5" y="859.7" font-size="8.4" text-anchor="start" font-weight="normal" fill="#2b2b2b">35</text>
<clipPath id="bl869"><rect x="44.4" y="869" width="146.2" height="15.2"/></clipPath>
<rect x="44.4" y="869" width="146.2" height="15.2" fill="#cecece" stroke="none" stroke-width="0.8"/>
<g clip-path="url(#bl869)" filter="url(#b07)">
<rect x="49.15" y="871.3" width="13.5" height="3.4" fill="#8c8c8c" stroke="none" stroke-width="0.8" rx="1.7"/>
<rect x="63.15" y="871.3" width="13.5" height="3.4" fill="#8c8c8c" stroke="none" stroke-width="0.8" rx="1.7"/>
<rect x="77.65" y="871.3" width="13.5" height="3.4" fill="#8c8c8c" stroke="none" stroke-width="0.8" rx="1.7"/>
<rect x="92.85" y="871.3" width="13.5" height="3.4" fill="#8c8c8c" stroke="none" stroke-width="0.8" rx="1.7"/>
<rect x="107.55" y="871.3" width="13.5" height="3.4" fill="#8c8c8c" stroke="none" stroke-width="0.8" rx="1.7"/>
<rect x="122.75" y="871.3" width="13.5" height="3.4" fill="#8c8c8c" stroke="none" stroke-width="0.8" rx="1.7"/>
<rect x="138.85" y="871.3" width="13.5" height="3.4" fill="#8c8c8c" stroke="none" stroke-width="0.8" rx="1.7"/>
<rect x="155.85" y="871.3" width="13.5" height="3.4" fill="#8c8c8c" stroke="none" stroke-width="0.8" rx="1.7"/>
<rect x="172.95" y="871.3" width="13.5" height="3.4" fill="#8c8c8c" stroke="none" stroke-width="0.8" rx="1.7"/>
<rect x="49.15" y="876.8" width="13.5" height="3.2" fill="#9a9a9a" stroke="none" stroke-width="0.8" rx="1.6"/>
<rect x="63.15" y="876.8" width="13.5" height="3.2" fill="#9a9a9a" stroke="none" stroke-width="0.8" rx="1.6"/>
<rect x="77.65" y="876.8" width="13.5" height="3.2" fill="#9a9a9a" stroke="none" stroke-width="0.8" rx="1.6"/>
<rect x="92.85" y="876.8" width="13.5" height="3.2" fill="#7f7f7f" stroke="none" stroke-width="0.8" rx="1.6"/>
<rect x="107.55" y="876.8" width="13.5" height="3.2" fill="#7f7f7f" stroke="none" stroke-width="0.8" rx="1.6"/>
<rect x="122.75" y="876.8" width="13.5" height="3.2" fill="#7f7f7f" stroke="none" stroke-width="0.8" rx="1.6"/>
<rect x="138.85" y="876.8" width="13.5" height="3.2" fill="#9a9a9a" stroke="none" stroke-width="0.8" rx="1.6"/>
<rect x="155.85" y="876.8" width="13.5" height="3.2" fill="#7f7f7f" stroke="none" stroke-width="0.8" rx="1.6"/>
<rect x="172.95" y="876.8" width="13.5" height="3.2" fill="#9a9a9a" stroke="none" stroke-width="0.8" rx="1.6"/>
</g>
<rect x="44.4" y="869" width="146.2" height="15.2" fill="none" stroke="#444" stroke-width="0.7"/>
<text x="37.9" y="879.6" font-size="9" text-anchor="end" font-weight="normal" fill="#2b2b2b">Pax7</text>
<text x="195.5" y="879" font-size="8.4" text-anchor="start" font-weight="normal" fill="#2b2b2b">57</text>
<line x1="271.6" y1="701" x2="271.6" y2="784.4" stroke="#555" stroke-width="0.8"/>
<line x1="271.6" y1="784.4" x2="309.3" y2="784.4" stroke="#333" stroke-width="0.8"/>
<line x1="269" y1="701" x2="271.6" y2="701" stroke="#555" stroke-width="0.8"/>
<text x="265.8" y="704" font-size="8.2" text-anchor="end" font-weight="normal" fill="#2b2b2b">2.0 × 10<tspan dy="-3.2" font-size="5.2">8</tspan><tspan dy="3.2">​</tspan></text>
<line x1="269" y1="721.4" x2="271.6" y2="721.4" stroke="#555" stroke-width="0.8"/>
<text x="265.8" y="724.4" font-size="8.2" text-anchor="end" font-weight="normal" fill="#2b2b2b">1.5 × 10<tspan dy="-3.2" font-size="5.2">8</tspan><tspan dy="3.2">​</tspan></text>
<line x1="269" y1="742.5" x2="271.6" y2="742.5" stroke="#555" stroke-width="0.8"/>
<text x="265.8" y="745.5" font-size="8.2" text-anchor="end" font-weight="normal" fill="#2b2b2b">1.0 × 10<tspan dy="-3.2" font-size="5.2">8</tspan><tspan dy="3.2">​</tspan></text>
<line x1="269" y1="763.2" x2="271.6" y2="763.2" stroke="#555" stroke-width="0.8"/>
<text x="265.8" y="766.2" font-size="8.2" text-anchor="end" font-weight="normal" fill="#2b2b2b">5.0 × 10<tspan dy="-3.2" font-size="5.2">7</tspan><tspan dy="3.2">​</tspan></text>
<line x1="269" y1="784.4" x2="271.6" y2="784.4" stroke="#555" stroke-width="0.8"/>
<text x="265.8" y="787.4" font-size="8.2" text-anchor="end" font-weight="normal" fill="#2b2b2b">0</text>
<text x="290.6" y="675.9" font-size="9.2" text-anchor="middle" font-weight="normal" fill="#2b2b2b">AKT</text>
<line x1="282.25" y1="744.5" x2="282.25" y2="749" stroke="#555" stroke-width="0.6"/>
<line x1="280.75" y1="744.5" x2="283.75" y2="744.5" stroke="#555" stroke-width="0.6"/>
<rect x="278.7" y="749" width="7.1" height="35.4" fill="#a6a6a6" stroke="#333" stroke-width="0.6"/>
<line x1="282.25" y1="749" x2="282.25" y2="753.5" stroke="#555" stroke-width="0.5"/>
<circle cx="280.9" cy="745.5" r="2.1" fill="#a6a6a6" stroke="#222" stroke-width="0.5"/>
<circle cx="282.2" cy="748" r="2.1" fill="#a6a6a6" stroke="#222" stroke-width="0.5"/>
<circle cx="283.6" cy="751" r="2.1" fill="#a6a6a6" stroke="#222" stroke-width="0.5"/>
<circle cx="280.9" cy="754" r="2.1" fill="#a6a6a6" stroke="#222" stroke-width="0.5"/>
<circle cx="282.2" cy="758" r="2.1" fill="#a6a6a6" stroke="#222" stroke-width="0.5"/>
<circle cx="283.6" cy="761" r="2.1" fill="#a6a6a6" stroke="#222" stroke-width="0.5"/>
<line x1="290.6" y1="767.5" x2="290.6" y2="774.4" stroke="#555" stroke-width="0.6"/>
<line x1="289.1" y1="767.5" x2="292.1" y2="767.5" stroke="#555" stroke-width="0.6"/>
<rect x="287.5" y="774.4" width="6.2" height="10" fill="#6ff2cc" stroke="#333" stroke-width="0.6"/>
<line x1="290.6" y1="774.4" x2="290.6" y2="781.3" stroke="#555" stroke-width="0.5"/>
<circle cx="289.2" cy="767" r="2.1" fill="#6ff2cc" stroke="#222" stroke-width="0.5"/>
<circle cx="290.6" cy="772" r="2.1" fill="#6ff2cc" stroke="#222" stroke-width="0.5"/>
<circle cx="292" cy="776" r="2.1" fill="#6ff2cc" stroke="#222" stroke-width="0.5"/>
<circle cx="289.2" cy="779" r="2.1" fill="#6ff2cc" stroke="#222" stroke-width="0.5"/>
<circle cx="290.6" cy="775" r="2.1" fill="#6ff2cc" stroke="#222" stroke-width="0.5"/>
<line x1="299.1" y1="761.5" x2="299.1" y2="767.6" stroke="#555" stroke-width="0.6"/>
<line x1="297.6" y1="761.5" x2="300.6" y2="761.5" stroke="#555" stroke-width="0.6"/>
<rect x="295.7" y="767.6" width="6.8" height="16.8" fill="#0b8a14" stroke="#333" stroke-width="0.6"/>
<line x1="299.1" y1="767.6" x2="299.1" y2="773.7" stroke="#555" stroke-width="0.5"/>
<circle cx="297.7" cy="760" r="2.1" fill="#0b8a14" stroke="#222" stroke-width="0.5"/>
<circle cx="299.1" cy="762.5" r="2.1" fill="#0b8a14" stroke="#222" stroke-width="0.5"/>
<circle cx="300.5" cy="766" r="2.1" fill="#0b8a14" stroke="#222" stroke-width="0.5"/>
<circle cx="297.7" cy="770" r="2.1" fill="#0b8a14" stroke="#222" stroke-width="0.5"/>
<circle cx="299.1" cy="774" r="2.1" fill="#0b8a14" stroke="#222" stroke-width="0.5"/>
<path d="M282.4 721.4 V702.4 H290.5 V721.4" fill="none" stroke="#555" stroke-width="0.7"/>
<text x="286.2" y="698.3" font-size="7.2" text-anchor="middle" font-weight="normal" fill="#444" textLength="31.5" lengthAdjust="spacingAndGlyphs"><tspan font-style="italic">P</tspan> &lt; 0.0001</text>
<path d="M282.4 740.4 V734.3 H299.4 V740.4" fill="none" stroke="#555" stroke-width="0.7"/>
<text x="290.9" y="730.3" font-size="7.2" text-anchor="middle" font-weight="normal" fill="#444" textLength="31.5" lengthAdjust="spacingAndGlyphs"><tspan font-style="italic">P</tspan> = 0.0002</text>
<line x1="361.4" y1="701.4" x2="361.4" y2="785.3" stroke="#555" stroke-width="0.8"/>
<line x1="361.4" y1="785.3" x2="398.4" y2="785.3" stroke="#333" stroke-width="0.8"/>
<line x1="358.8" y1="701.4" x2="361.4" y2="701.4" stroke="#555" stroke-width="0.8"/>
<text x="353.2" y="704.4" font-size="8.2" text-anchor="end" font-weight="normal" fill="#2b2b2b">2.0 × 10<tspan dy="-3.2" font-size="5.2">8</tspan><tspan dy="3.2">​</tspan></text>
<line x1="358.8" y1="722.4" x2="361.4" y2="722.4" stroke="#555" stroke-width="0.8"/>
<text x="353.2" y="725.4" font-size="8.2" text-anchor="end" font-weight="normal" fill="#2b2b2b">1.5 × 10<tspan dy="-3.2" font-size="5.2">8</tspan><tspan dy="3.2">​</tspan></text>
<line x1="358.8" y1="743.4" x2="361.4" y2="743.4" stroke="#555" stroke-width="0.8"/>
<text x="353.2" y="746.4" font-size="8.2" text-anchor="end" font-weight="normal" fill="#2b2b2b">1.0 × 10<tspan dy="-3.2" font-size="5.2">8</tspan><tspan dy="3.2">​</tspan></text>
<line x1="358.8" y1="764.2" x2="361.4" y2="764.2" stroke="#555" stroke-width="0.8"/>
<text x="353.2" y="767.2" font-size="8.2" text-anchor="end" font-weight="normal" fill="#2b2b2b">5.0 × 10<tspan dy="-3.2" font-size="5.2">7</tspan><tspan dy="3.2">​</tspan></text>
<line x1="358.8" y1="785.3" x2="361.4" y2="785.3" stroke="#555" stroke-width="0.8"/>
<text x="353.2" y="788.3" font-size="8.2" text-anchor="end" font-weight="normal" fill="#2b2b2b">0</text>
<text x="378" y="675.9" font-size="9.2" text-anchor="middle" font-weight="normal" fill="#2b2b2b">TGFβ</text>
<line x1="371.55" y1="750" x2="371.55" y2="754" stroke="#555" stroke-width="0.6"/>
<line x1="370.05" y1="750" x2="373.05" y2="750" stroke="#555" stroke-width="0.6"/>
<rect x="368.5" y="754" width="6.1" height="31.3" fill="#a6a6a6" stroke="#333" stroke-width="0.6"/>
<line x1="371.55" y1="754" x2="371.55" y2="758" stroke="#555" stroke-width="0.5"/>
<circle cx="370.2" cy="746" r="2.1" fill="#a6a6a6" stroke="#222" stroke-width="0.5"/>
<circle cx="371.6" cy="752" r="2.1" fill="#a6a6a6" stroke="#222" stroke-width="0.5"/>
<circle cx="372.9" cy="754" r="2.1" fill="#a6a6a6" stroke="#222" stroke-width="0.5"/>
<circle cx="370.2" cy="756" r="2.1" fill="#a6a6a6" stroke="#222" stroke-width="0.5"/>
<circle cx="371.6" cy="757" r="2.1" fill="#a6a6a6" stroke="#222" stroke-width="0.5"/>
<line x1="380.15" y1="782" x2="380.15" y2="783.3" stroke="#555" stroke-width="0.6"/>
<line x1="378.65" y1="782" x2="381.65" y2="782" stroke="#555" stroke-width="0.6"/>
<rect x="376.9" y="783.3" width="6.5" height="2" fill="#6ff2cc" stroke="#333" stroke-width="0.6"/>
<line x1="380.15" y1="783.3" x2="380.15" y2="784.6" stroke="#555" stroke-width="0.5"/>
<circle cx="378.8" cy="783" r="2.1" fill="#6ff2cc" stroke="#222" stroke-width="0.5"/>
<circle cx="380.1" cy="783.5" r="2.1" fill="#6ff2cc" stroke="#222" stroke-width="0.5"/>
<circle cx="381.5" cy="782.5" r="2.1" fill="#6ff2cc" stroke="#222" stroke-width="0.5"/>
<line x1="388.5" y1="768" x2="388.5" y2="771.7" stroke="#555" stroke-width="0.6"/>
<line x1="387" y1="768" x2="390" y2="768" stroke="#555" stroke-width="0.6"/>
<rect x="385.4" y="771.7" width="6.2" height="13.6" fill="#0b8a14" stroke="#333" stroke-width="0.6"/>
<line x1="388.5" y1="771.7" x2="388.5" y2="775.4" stroke="#555" stroke-width="0.5"/>
<circle cx="387.1" cy="767" r="2.1" fill="#0b8a14" stroke="#222" stroke-width="0.5"/>
<circle cx="388.5" cy="769" r="2.1" fill="#0b8a14" stroke="#222" stroke-width="0.5"/>
<circle cx="389.9" cy="772" r="2.1" fill="#0b8a14" stroke="#222" stroke-width="0.5"/>
<circle cx="387.1" cy="774" r="2.1" fill="#0b8a14" stroke="#222" stroke-width="0.5"/>
<circle cx="388.5" cy="776" r="2.1" fill="#0b8a14" stroke="#222" stroke-width="0.5"/>
<path d="M371.4 697.6 V691.9 H388.4 V697.6" fill="none" stroke="#555" stroke-width="0.7"/>
<text x="380.3" y="686.8" font-size="7.2" text-anchor="middle" font-weight="normal" fill="#444" textLength="31.5" lengthAdjust="spacingAndGlyphs"><tspan font-style="italic">P</tspan> &lt; 0.0001</text>
<path d="M380.4 718.7 V712.6 H388.4 V718.7" fill="none" stroke="#555" stroke-width="0.7"/>
<text x="384.2" y="707.8" font-size="7.2" text-anchor="middle" font-weight="normal" fill="#444" textLength="31.5" lengthAdjust="spacingAndGlyphs"><tspan font-style="italic">P</tspan> = 0.0001</text>
<path d="M371.4 739.5 V733.7 H380.4 V739.5" fill="none" stroke="#555" stroke-width="0.7"/>
<text x="377.8" y="728.6" font-size="7.2" text-anchor="middle" font-weight="normal" fill="#444" textLength="31.5" lengthAdjust="spacingAndGlyphs"><tspan font-style="italic">P</tspan> &lt; 0.0001</text>
<line x1="452.3" y1="701" x2="452.3" y2="784.4" stroke="#555" stroke-width="0.8"/>
<line x1="452.3" y1="784.4" x2="490.5" y2="784.4" stroke="#333" stroke-width="0.8"/>
<line x1="449.7" y1="701" x2="452.3" y2="701" stroke="#555" stroke-width="0.8"/>
<text x="444.9" y="704" font-size="8.2" text-anchor="end" font-weight="normal" fill="#2b2b2b">2.0 × 10<tspan dy="-3.2" font-size="5.2">8</tspan><tspan dy="3.2">​</tspan></text>
<line x1="449.7" y1="721.4" x2="452.3" y2="721.4" stroke="#555" stroke-width="0.8"/>
<text x="444.9" y="724.4" font-size="8.2" text-anchor="end" font-weight="normal" fill="#2b2b2b">1.5 × 10<tspan dy="-3.2" font-size="5.2">8</tspan><tspan dy="3.2">​</tspan></text>
<line x1="449.7" y1="742.5" x2="452.3" y2="742.5" stroke="#555" stroke-width="0.8"/>
<text x="444.9" y="745.5" font-size="8.2" text-anchor="end" font-weight="normal" fill="#2b2b2b">1.0 × 10<tspan dy="-3.2" font-size="5.2">8</tspan><tspan dy="3.2">​</tspan></text>
<line x1="449.7" y1="763.2" x2="452.3" y2="763.2" stroke="#555" stroke-width="0.8"/>
<text x="444.9" y="766.2" font-size="8.2" text-anchor="end" font-weight="normal" fill="#2b2b2b">5.0 × 10<tspan dy="-3.2" font-size="5.2">7</tspan><tspan dy="3.2">​</tspan></text>
<line x1="449.7" y1="784.4" x2="452.3" y2="784.4" stroke="#555" stroke-width="0.8"/>
<text x="444.9" y="787.4" font-size="8.2" text-anchor="end" font-weight="normal" fill="#2b2b2b">0</text>
<text x="472" y="675.9" font-size="9.2" text-anchor="middle" font-weight="normal" fill="#2b2b2b">TLR4</text>
<line x1="463.2" y1="747.5" x2="463.2" y2="753.4" stroke="#555" stroke-width="0.6"/>
<line x1="461.7" y1="747.5" x2="464.7" y2="747.5" stroke="#555" stroke-width="0.6"/>
<rect x="459.8" y="753.4" width="6.8" height="31" fill="#a6a6a6" stroke="#333" stroke-width="0.6"/>
<line x1="463.2" y1="753.4" x2="463.2" y2="759.3" stroke="#555" stroke-width="0.5"/>
<circle cx="461.8" cy="746" r="2.1" fill="#a6a6a6" stroke="#222" stroke-width="0.5"/>
<circle cx="463.2" cy="748" r="2.1" fill="#a6a6a6" stroke="#222" stroke-width="0.5"/>
<circle cx="464.6" cy="753" r="2.1" fill="#a6a6a6" stroke="#222" stroke-width="0.5"/>
<circle cx="461.8" cy="760" r="2.1" fill="#a6a6a6" stroke="#222" stroke-width="0.5"/>
<circle cx="463.2" cy="762" r="2.1" fill="#a6a6a6" stroke="#222" stroke-width="0.5"/>
<line x1="471.05" y1="780" x2="471.05" y2="781.9" stroke="#555" stroke-width="0.6"/>
<line x1="469.55" y1="780" x2="472.55" y2="780" stroke="#555" stroke-width="0.6"/>
<rect x="468" y="781.9" width="6.1" height="2.5" fill="#6ff2cc" stroke="#333" stroke-width="0.6"/>
<line x1="471.05" y1="781.9" x2="471.05" y2="783.8" stroke="#555" stroke-width="0.5"/>
<circle cx="469.7" cy="780" r="2.1" fill="#6ff2cc" stroke="#222" stroke-width="0.5"/>
<circle cx="471.1" cy="782" r="2.1" fill="#6ff2cc" stroke="#222" stroke-width="0.5"/>
<circle cx="472.4" cy="783" r="2.1" fill="#6ff2cc" stroke="#222" stroke-width="0.5"/>
<line x1="479.85" y1="773.5" x2="479.85" y2="777.2" stroke="#555" stroke-width="0.6"/>
<line x1="478.35" y1="773.5" x2="481.35" y2="773.5" stroke="#555" stroke-width="0.6"/>
<rect x="476.8" y="777.2" width="6.1" height="7.2" fill="#0b8a14" stroke="#333" stroke-width="0.6"/>
<line x1="479.85" y1="777.2" x2="479.85" y2="780.9" stroke="#555" stroke-width="0.5"/>
<circle cx="478.5" cy="771" r="2.1" fill="#0b8a14" stroke="#222" stroke-width="0.5"/>
<circle cx="479.9" cy="774" r="2.1" fill="#0b8a14" stroke="#222" stroke-width="0.5"/>
<circle cx="481.2" cy="777" r="2.1" fill="#0b8a14" stroke="#222" stroke-width="0.5"/>
<circle cx="478.5" cy="780" r="2.1" fill="#0b8a14" stroke="#222" stroke-width="0.5"/>
<path d="M462.8 709.6 V703.7 H471.4 V709.6" fill="none" stroke="#555" stroke-width="0.7"/>
<text x="467.3" y="699" font-size="7.2" text-anchor="middle" font-weight="normal" fill="#444" textLength="31.5" lengthAdjust="spacingAndGlyphs"><tspan font-style="italic">P</tspan> &lt; 0.0001</text>
<path d="M462.8 739.5 V733.7 H480.2 V739.5" fill="none" stroke="#555" stroke-width="0.7"/>
<text x="471.4" y="728.9" font-size="7.2" text-anchor="middle" font-weight="normal" fill="#444" textLength="31.5" lengthAdjust="spacingAndGlyphs"><tspan font-style="italic">P</tspan> &lt; 0.0001</text>
<line x1="530.5" y1="701" x2="530.5" y2="785.3" stroke="#555" stroke-width="0.8"/>
<line x1="530.5" y1="785.3" x2="568.6" y2="785.3" stroke="#333" stroke-width="0.8"/>
<line x1="527.9" y1="701" x2="530.5" y2="701" stroke="#555" stroke-width="0.8"/>
<text x="522.9" y="704" font-size="8.2" text-anchor="end" font-weight="normal" fill="#2b2b2b">8 × 10<tspan dy="-3.2" font-size="5.2">7</tspan><tspan dy="3.2">​</tspan></text>
<line x1="527.9" y1="722.1" x2="530.5" y2="722.1" stroke="#555" stroke-width="0.8"/>
<text x="522.9" y="725.1" font-size="8.2" text-anchor="end" font-weight="normal" fill="#2b2b2b">6 × 10<tspan dy="-3.2" font-size="5.2">7</tspan><tspan dy="3.2">​</tspan></text>
<line x1="527.9" y1="743.2" x2="530.5" y2="743.2" stroke="#555" stroke-width="0.8"/>
<text x="522.9" y="746.2" font-size="8.2" text-anchor="end" font-weight="normal" fill="#2b2b2b">4 × 10<tspan dy="-3.2" font-size="5.2">7</tspan><tspan dy="3.2">​</tspan></text>
<line x1="527.9" y1="764.2" x2="530.5" y2="764.2" stroke="#555" stroke-width="0.8"/>
<text x="522.9" y="767.2" font-size="8.2" text-anchor="end" font-weight="normal" fill="#2b2b2b">2 × 10<tspan dy="-3.2" font-size="5.2">7</tspan><tspan dy="3.2">​</tspan></text>
<line x1="527.9" y1="785.3" x2="530.5" y2="785.3" stroke="#555" stroke-width="0.8"/>
<text x="522.9" y="788.3" font-size="8.2" text-anchor="end" font-weight="normal" fill="#2b2b2b">0</text>
<text x="549.5" y="675.9" font-size="9.2" text-anchor="middle" font-weight="normal" fill="#2b2b2b">CD 206</text>
<line x1="540.95" y1="732" x2="540.95" y2="750" stroke="#555" stroke-width="0.6"/>
<line x1="539.45" y1="732" x2="542.45" y2="732" stroke="#555" stroke-width="0.6"/>
<rect x="537.3" y="750" width="7.3" height="35.3" fill="#a6a6a6" stroke="#333" stroke-width="0.6"/>
<line x1="540.95" y1="750" x2="540.95" y2="768" stroke="#555" stroke-width="0.5"/>
<circle cx="539.6" cy="721.4" r="2.1" fill="#a6a6a6" stroke="#222" stroke-width="0.5"/>
<circle cx="541" cy="732.3" r="2.1" fill="#a6a6a6" stroke="#222" stroke-width="0.5"/>
<circle cx="542.4" cy="746.2" r="2.1" fill="#a6a6a6" stroke="#222" stroke-width="0.5"/>
<circle cx="539.6" cy="765.5" r="2.1" fill="#a6a6a6" stroke="#222" stroke-width="0.5"/>
<circle cx="541" cy="768" r="2.1" fill="#a6a6a6" stroke="#222" stroke-width="0.5"/>
<line x1="549.45" y1="765" x2="549.45" y2="768.3" stroke="#555" stroke-width="0.6"/>
<line x1="547.95" y1="765" x2="550.95" y2="765" stroke="#555" stroke-width="0.6"/>
<rect x="546.4" y="768.3" width="6.1" height="17" fill="#6ff2cc" stroke="#333" stroke-width="0.6"/>
<line x1="549.45" y1="768.3" x2="549.45" y2="771.6" stroke="#555" stroke-width="0.5"/>
<circle cx="548.1" cy="767" r="2.1" fill="#6ff2cc" stroke="#222" stroke-width="0.5"/>
<circle cx="549.5" cy="769" r="2.1" fill="#6ff2cc" stroke="#222" stroke-width="0.5"/>
<circle cx="550.9" cy="771" r="2.1" fill="#6ff2cc" stroke="#222" stroke-width="0.5"/>
<circle cx="548.1" cy="773" r="2.1" fill="#6ff2cc" stroke="#222" stroke-width="0.5"/>
<line x1="558.2" y1="760.5" x2="558.2" y2="768.3" stroke="#555" stroke-width="0.6"/>
<line x1="556.7" y1="760.5" x2="559.7" y2="760.5" stroke="#555" stroke-width="0.6"/>
<rect x="555" y="768.3" width="6.4" height="17" fill="#0b8a14" stroke="#333" stroke-width="0.6"/>
<line x1="558.2" y1="768.3" x2="558.2" y2="776.1" stroke="#555" stroke-width="0.5"/>
<circle cx="556.8" cy="755.5" r="2.1" fill="#0b8a14" stroke="#222" stroke-width="0.5"/>
<circle cx="558.2" cy="758" r="2.1" fill="#0b8a14" stroke="#222" stroke-width="0.5"/>
<circle cx="559.6" cy="765" r="2.1" fill="#0b8a14" stroke="#222" stroke-width="0.5"/>
<circle cx="556.8" cy="768" r="2.1" fill="#0b8a14" stroke="#222" stroke-width="0.5"/>
<circle cx="558.2" cy="771" r="2.1" fill="#0b8a14" stroke="#222" stroke-width="0.5"/>
<circle cx="559.6" cy="774" r="2.1" fill="#0b8a14" stroke="#222" stroke-width="0.5"/>
<path d="M541 708.8 V702.4 H549.4 V708.8" fill="none" stroke="#555" stroke-width="0.7"/>
<text x="545.4" y="697.6" font-size="7.2" text-anchor="middle" font-weight="normal" fill="#444" textLength="31.5" lengthAdjust="spacingAndGlyphs"><tspan font-style="italic">P</tspan> = 0.0209</text>
<line x1="616.8" y1="701.1" x2="616.8" y2="785.1" stroke="#555" stroke-width="0.8"/>
<line x1="616.8" y1="785.1" x2="653.7" y2="785.1" stroke="#333" stroke-width="0.8"/>
<line x1="614.2" y1="701.1" x2="616.8" y2="701.1" stroke="#555" stroke-width="0.8"/>
<text x="607.9" y="704.1" font-size="8.2" text-anchor="end" font-weight="normal" fill="#2b2b2b">2.0 × 10<tspan dy="-3.2" font-size="5.2">8</tspan><tspan dy="3.2">​</tspan></text>
<line x1="614.2" y1="722" x2="616.8" y2="722" stroke="#555" stroke-width="0.8"/>
<text x="607.9" y="725" font-size="8.2" text-anchor="end" font-weight="normal" fill="#2b2b2b">1.5 × 10<tspan dy="-3.2" font-size="5.2">8</tspan><tspan dy="3.2">​</tspan></text>
<line x1="614.2" y1="743.2" x2="616.8" y2="743.2" stroke="#555" stroke-width="0.8"/>
<text x="607.9" y="746.2" font-size="8.2" text-anchor="end" font-weight="normal" fill="#2b2b2b">1.0 × 10<tspan dy="-3.2" font-size="5.2">8</tspan><tspan dy="3.2">​</tspan></text>
<line x1="614.2" y1="764.1" x2="616.8" y2="764.1" stroke="#555" stroke-width="0.8"/>
<text x="607.9" y="767.1" font-size="8.2" text-anchor="end" font-weight="normal" fill="#2b2b2b">5.0 × 10<tspan dy="-3.2" font-size="5.2">7</tspan><tspan dy="3.2">​</tspan></text>
<line x1="614.2" y1="785.1" x2="616.8" y2="785.1" stroke="#555" stroke-width="0.8"/>
<text x="607.9" y="788.1" font-size="8.2" text-anchor="end" font-weight="normal" fill="#2b2b2b">0</text>
<text x="635.7" y="675.9" font-size="9.2" text-anchor="middle" font-weight="normal" fill="#2b2b2b">IL-6</text>
<line x1="626.8" y1="744" x2="626.8" y2="761" stroke="#555" stroke-width="0.6"/>
<line x1="625.3" y1="744" x2="628.3" y2="744" stroke="#555" stroke-width="0.6"/>
<rect x="623.2" y="761" width="7.2" height="24.1" fill="#a6a6a6" stroke="#333" stroke-width="0.6"/>
<line x1="626.8" y1="761" x2="626.8" y2="778" stroke="#555" stroke-width="0.5"/>
<circle cx="625.4" cy="734.5" r="2.1" fill="#a6a6a6" stroke="#222" stroke-width="0.5"/>
<circle cx="626.8" cy="739.5" r="2.1" fill="#a6a6a6" stroke="#222" stroke-width="0.5"/>
<circle cx="628.2" cy="747.5" r="2.1" fill="#a6a6a6" stroke="#222" stroke-width="0.5"/>
<circle cx="625.4" cy="780" r="2.1" fill="#a6a6a6" stroke="#222" stroke-width="0.5"/>
<circle cx="626.8" cy="781.5" r="2.1" fill="#a6a6a6" stroke="#222" stroke-width="0.5"/>
<line x1="635.2" y1="761" x2="635.2" y2="766.5" stroke="#555" stroke-width="0.6"/>
<line x1="633.7" y1="761" x2="636.7" y2="761" stroke="#555" stroke-width="0.6"/>
<rect x="631.5" y="766.5" width="7.4" height="18.6" fill="#6ff2cc" stroke="#333" stroke-width="0.6"/>
<line x1="635.2" y1="766.5" x2="635.2" y2="772" stroke="#555" stroke-width="0.5"/>
<circle cx="633.8" cy="758" r="2.1" fill="#6ff2cc" stroke="#222" stroke-width="0.5"/>
<circle cx="635.2" cy="762" r="2.1" fill="#6ff2cc" stroke="#222" stroke-width="0.5"/>
<circle cx="636.6" cy="766" r="2.1" fill="#6ff2cc" stroke="#222" stroke-width="0.5"/>
<circle cx="633.8" cy="770" r="2.1" fill="#6ff2cc" stroke="#222" stroke-width="0.5"/>
<circle cx="635.2" cy="774" r="2.1" fill="#6ff2cc" stroke="#222" stroke-width="0.5"/>
<line x1="643.75" y1="782.5" x2="643.75" y2="783.8" stroke="#555" stroke-width="0.6"/>
<line x1="642.25" y1="782.5" x2="645.25" y2="782.5" stroke="#555" stroke-width="0.6"/>
<rect x="640.5" y="783.8" width="6.5" height="1.3" fill="#0b8a14" stroke="#333" stroke-width="0.6"/>
<line x1="643.75" y1="783.8" x2="643.75" y2="785.1" stroke="#555" stroke-width="0.5"/>
<circle cx="642.4" cy="780.5" r="2.1" fill="#0b8a14" stroke="#222" stroke-width="0.5"/>
<circle cx="643.8" cy="782.5" r="2.1" fill="#0b8a14" stroke="#222" stroke-width="0.5"/>
<circle cx="645.1" cy="784" r="2.1" fill="#0b8a14" stroke="#222" stroke-width="0.5"/>
<path d="M626.4 728 V721.2 H643.7 V728" fill="none" stroke="#555" stroke-width="0.7"/>
<text x="635.2" y="717.2" font-size="7.2" text-anchor="middle" font-weight="normal" fill="#444" textLength="31.5" lengthAdjust="spacingAndGlyphs"><tspan font-style="italic">P</tspan> = 0.0216</text>
<line x1="297.5" y1="830.4" x2="297.5" y2="913.5" stroke="#555" stroke-width="0.8"/>
<line x1="297.5" y1="913.5" x2="335.7" y2="913.5" stroke="#333" stroke-width="0.8"/>
<line x1="294.9" y1="830.4" x2="297.5" y2="830.4" stroke="#555" stroke-width="0.8"/>
<text x="290.5" y="833.4" font-size="8.2" text-anchor="end" font-weight="normal" fill="#2b2b2b">1.5 × 10<tspan dy="-3.2" font-size="5.2">8</tspan><tspan dy="3.2">​</tspan></text>
<line x1="294.9" y1="858" x2="297.5" y2="858" stroke="#555" stroke-width="0.8"/>
<text x="290.5" y="861" font-size="8.2" text-anchor="end" font-weight="normal" fill="#2b2b2b">1.0 × 10<tspan dy="-3.2" font-size="5.2">8</tspan><tspan dy="3.2">​</tspan></text>
<line x1="294.9" y1="885.4" x2="297.5" y2="885.4" stroke="#555" stroke-width="0.8"/>
<text x="290.5" y="888.4" font-size="8.2" text-anchor="end" font-weight="normal" fill="#2b2b2b">5.0 × 10<tspan dy="-3.2" font-size="5.2">7</tspan><tspan dy="3.2">​</tspan></text>
<line x1="294.9" y1="913.5" x2="297.5" y2="913.5" stroke="#555" stroke-width="0.8"/>
<text x="290.5" y="916.5" font-size="8.2" text-anchor="end" font-weight="normal" fill="#2b2b2b">0</text>
<text x="317" y="805.8" font-size="9.2" text-anchor="middle" font-weight="normal" fill="#2b2b2b">RelB</text>
<line x1="308.2" y1="860" x2="308.2" y2="886.4" stroke="#555" stroke-width="0.6"/>
<line x1="306.7" y1="860" x2="309.7" y2="860" stroke="#555" stroke-width="0.6"/>
<rect x="304.6" y="886.4" width="7.2" height="27.1" fill="#a6a6a6" stroke="#333" stroke-width="0.6"/>
<line x1="308.2" y1="886.4" x2="308.2" y2="912.8" stroke="#555" stroke-width="0.5"/>
<circle cx="306.8" cy="858.5" r="2.1" fill="#a6a6a6" stroke="#222" stroke-width="0.5"/>
<circle cx="308.2" cy="864.5" r="2.1" fill="#a6a6a6" stroke="#222" stroke-width="0.5"/>
<circle cx="309.6" cy="871.5" r="2.1" fill="#a6a6a6" stroke="#222" stroke-width="0.5"/>
<circle cx="306.8" cy="907" r="2.1" fill="#a6a6a6" stroke="#222" stroke-width="0.5"/>
<circle cx="308.2" cy="908.5" r="2.1" fill="#a6a6a6" stroke="#222" stroke-width="0.5"/>
<line x1="316.65" y1="876" x2="316.65" y2="893.2" stroke="#555" stroke-width="0.6"/>
<line x1="315.15" y1="876" x2="318.15" y2="876" stroke="#555" stroke-width="0.6"/>
<rect x="313.4" y="893.2" width="6.5" height="20.3" fill="#6ff2cc" stroke="#333" stroke-width="0.6"/>
<line x1="316.65" y1="893.2" x2="316.65" y2="910.4" stroke="#555" stroke-width="0.5"/>
<circle cx="315.2" cy="874.5" r="2.1" fill="#6ff2cc" stroke="#222" stroke-width="0.5"/>
<circle cx="316.6" cy="878" r="2.1" fill="#6ff2cc" stroke="#222" stroke-width="0.5"/>
<circle cx="318" cy="882.5" r="2.1" fill="#6ff2cc" stroke="#222" stroke-width="0.5"/>
<circle cx="315.2" cy="907" r="2.1" fill="#6ff2cc" stroke="#222" stroke-width="0.5"/>
<circle cx="316.6" cy="908.5" r="2.1" fill="#6ff2cc" stroke="#222" stroke-width="0.5"/>
<line x1="325.05" y1="906.5" x2="325.05" y2="908.3" stroke="#555" stroke-width="0.6"/>
<line x1="323.55" y1="906.5" x2="326.55" y2="906.5" stroke="#555" stroke-width="0.6"/>
<rect x="321.8" y="908.3" width="6.5" height="5.2" fill="#0b8a14" stroke="#333" stroke-width="0.6"/>
<line x1="325.05" y1="908.3" x2="325.05" y2="910.1" stroke="#555" stroke-width="0.5"/>
<circle cx="323.7" cy="907.5" r="2.1" fill="#0b8a14" stroke="#222" stroke-width="0.5"/>
<circle cx="325.1" cy="909" r="2.1" fill="#0b8a14" stroke="#222" stroke-width="0.5"/>
<circle cx="326.4" cy="910" r="2.1" fill="#0b8a14" stroke="#222" stroke-width="0.5"/>
<line x1="384.5" y1="830.4" x2="384.5" y2="913.7" stroke="#555" stroke-width="0.8"/>
<line x1="384.5" y1="913.7" x2="422.3" y2="913.7" stroke="#333" stroke-width="0.8"/>
<line x1="381.9" y1="830.4" x2="384.5" y2="830.4" stroke="#555" stroke-width="0.8"/>
<text x="376.7" y="833.4" font-size="8.2" text-anchor="end" font-weight="normal" fill="#2b2b2b">2.5 × 10<tspan dy="-3.2" font-size="5.2">7</tspan><tspan dy="3.2">​</tspan></text>
<line x1="381.9" y1="846.7" x2="384.5" y2="846.7" stroke="#555" stroke-width="0.8"/>
<text x="376.7" y="849.7" font-size="8.2" text-anchor="end" font-weight="normal" fill="#2b2b2b">2.0 × 10<tspan dy="-3.2" font-size="5.2">7</tspan><tspan dy="3.2">​</tspan></text>
<line x1="381.9" y1="863.5" x2="384.5" y2="863.5" stroke="#555" stroke-width="0.8"/>
<text x="376.7" y="866.5" font-size="8.2" text-anchor="end" font-weight="normal" fill="#2b2b2b">1.5 × 10<tspan dy="-3.2" font-size="5.2">7</tspan><tspan dy="3.2">​</tspan></text>
<line x1="381.9" y1="880.3" x2="384.5" y2="880.3" stroke="#555" stroke-width="0.8"/>
<text x="376.7" y="883.3" font-size="8.2" text-anchor="end" font-weight="normal" fill="#2b2b2b">1.0 × 10<tspan dy="-3.2" font-size="5.2">7</tspan><tspan dy="3.2">​</tspan></text>
<line x1="381.9" y1="897.1" x2="384.5" y2="897.1" stroke="#555" stroke-width="0.8"/>
<text x="376.7" y="900.1" font-size="8.2" text-anchor="end" font-weight="normal" fill="#2b2b2b">5.0 × 10<tspan dy="-3.2" font-size="5.2">6</tspan><tspan dy="3.2">​</tspan></text>
<line x1="381.9" y1="913.7" x2="384.5" y2="913.7" stroke="#555" stroke-width="0.8"/>
<text x="376.7" y="916.7" font-size="8.2" text-anchor="end" font-weight="normal" fill="#2b2b2b">0</text>
<text x="400.7" y="805.8" font-size="9.2" text-anchor="middle" font-weight="normal" fill="#2b2b2b">TNF</text>
<line x1="395" y1="842" x2="395" y2="861.1" stroke="#555" stroke-width="0.6"/>
<line x1="393.5" y1="842" x2="396.5" y2="842" stroke="#555" stroke-width="0.6"/>
<rect x="391.3" y="861.1" width="7.4" height="52.6" fill="#a6a6a6" stroke="#333" stroke-width="0.6"/>
<line x1="395" y1="861.1" x2="395" y2="880.2" stroke="#555" stroke-width="0.5"/>
<circle cx="393.6" cy="838.5" r="2.1" fill="#a6a6a6" stroke="#222" stroke-width="0.5"/>
<circle cx="395" cy="840" r="2.1" fill="#a6a6a6" stroke="#222" stroke-width="0.5"/>
<circle cx="396.4" cy="847" r="2.1" fill="#a6a6a6" stroke="#222" stroke-width="0.5"/>
<circle cx="393.6" cy="873" r="2.1" fill="#a6a6a6" stroke="#222" stroke-width="0.5"/>
<circle cx="395" cy="880" r="2.1" fill="#a6a6a6" stroke="#222" stroke-width="0.5"/>
<circle cx="396.4" cy="882" r="2.1" fill="#a6a6a6" stroke="#222" stroke-width="0.5"/>
<line x1="403.55" y1="855" x2="403.55" y2="863.1" stroke="#555" stroke-width="0.6"/>
<line x1="402.05" y1="855" x2="405.05" y2="855" stroke="#555" stroke-width="0.6"/>
<rect x="400.3" y="863.1" width="6.5" height="50.6" fill="#6ff2cc" stroke="#333" stroke-width="0.6"/>
<line x1="403.55" y1="863.1" x2="403.55" y2="871.2" stroke="#555" stroke-width="0.5"/>
<circle cx="402.2" cy="854" r="2.1" fill="#6ff2cc" stroke="#222" stroke-width="0.5"/>
<circle cx="403.6" cy="856" r="2.1" fill="#6ff2cc" stroke="#222" stroke-width="0.5"/>
<circle cx="404.9" cy="862" r="2.1" fill="#6ff2cc" stroke="#222" stroke-width="0.5"/>
<circle cx="402.2" cy="866" r="2.1" fill="#6ff2cc" stroke="#222" stroke-width="0.5"/>
<circle cx="403.6" cy="868" r="2.1" fill="#6ff2cc" stroke="#222" stroke-width="0.5"/>
<line x1="412" y1="883" x2="412" y2="886.8" stroke="#555" stroke-width="0.6"/>
<line x1="410.5" y1="883" x2="413.5" y2="883" stroke="#555" stroke-width="0.6"/>
<rect x="408.8" y="886.8" width="6.4" height="26.9" fill="#0b8a14" stroke="#333" stroke-width="0.6"/>
<line x1="412" y1="886.8" x2="412" y2="890.6" stroke="#555" stroke-width="0.5"/>
<circle cx="410.6" cy="880.5" r="2.1" fill="#0b8a14" stroke="#222" stroke-width="0.5"/>
<circle cx="412" cy="884" r="2.1" fill="#0b8a14" stroke="#222" stroke-width="0.5"/>
<circle cx="413.4" cy="887" r="2.1" fill="#0b8a14" stroke="#222" stroke-width="0.5"/>
<circle cx="410.6" cy="889" r="2.1" fill="#0b8a14" stroke="#222" stroke-width="0.5"/>
<path d="M394.6 825.8 V820 H411.5 V825.8" fill="none" stroke="#555" stroke-width="0.7"/>
<text x="403.2" y="815.2" font-size="7.2" text-anchor="middle" font-weight="normal" fill="#444" textLength="31.5" lengthAdjust="spacingAndGlyphs"><tspan font-style="italic">P</tspan> = 0.0085</text>
<path d="M403.4 847 V841.1 H411.5 V847" fill="none" stroke="#555" stroke-width="0.7"/>
<text x="408" y="836.2" font-size="7.2" text-anchor="middle" font-weight="normal" fill="#444" textLength="31.5" lengthAdjust="spacingAndGlyphs"><tspan font-style="italic">P</tspan> = 0.0167</text>
<line x1="473.6" y1="830.4" x2="473.6" y2="914.4" stroke="#555" stroke-width="0.8"/>
<line x1="473.6" y1="914.4" x2="511.6" y2="914.4" stroke="#333" stroke-width="0.8"/>
<line x1="471" y1="830.4" x2="473.6" y2="830.4" stroke="#555" stroke-width="0.8"/>
<text x="465.8" y="833.4" font-size="8.2" text-anchor="end" font-weight="normal" fill="#2b2b2b">2.0 × 10<tspan dy="-3.2" font-size="5.2">8</tspan><tspan dy="3.2">​</tspan></text>
<line x1="471" y1="851" x2="473.6" y2="851" stroke="#555" stroke-width="0.8"/>
<text x="465.8" y="854" font-size="8.2" text-anchor="end" font-weight="normal" fill="#2b2b2b">1.5 × 10<tspan dy="-3.2" font-size="5.2">8</tspan><tspan dy="3.2">​</tspan></text>
<line x1="471" y1="872.2" x2="473.6" y2="872.2" stroke="#555" stroke-width="0.8"/>
<text x="465.8" y="875.2" font-size="8.2" text-anchor="end" font-weight="normal" fill="#2b2b2b">1.0 × 10<tspan dy="-3.2" font-size="5.2">8</tspan><tspan dy="3.2">​</tspan></text>
<line x1="471" y1="893.2" x2="473.6" y2="893.2" stroke="#555" stroke-width="0.8"/>
<text x="465.8" y="896.2" font-size="8.2" text-anchor="end" font-weight="normal" fill="#2b2b2b">5.0 × 10<tspan dy="-3.2" font-size="5.2">7</tspan><tspan dy="3.2">​</tspan></text>
<line x1="471" y1="914.4" x2="473.6" y2="914.4" stroke="#555" stroke-width="0.8"/>
<text x="465.8" y="917.4" font-size="8.2" text-anchor="end" font-weight="normal" fill="#2b2b2b">0</text>
<text x="493" y="805.8" font-size="9.2" text-anchor="middle" font-weight="normal" fill="#2b2b2b">MyoD</text>
<line x1="484.4" y1="867.5" x2="484.4" y2="874" stroke="#555" stroke-width="0.6"/>
<line x1="482.9" y1="867.5" x2="485.9" y2="867.5" stroke="#555" stroke-width="0.6"/>
<rect x="481" y="874" width="6.8" height="40.4" fill="#a6a6a6" stroke="#333" stroke-width="0.6"/>
<line x1="484.4" y1="874" x2="484.4" y2="880.5" stroke="#555" stroke-width="0.5"/>
<circle cx="483" cy="865" r="2.1" fill="#a6a6a6" stroke="#222" stroke-width="0.5"/>
<circle cx="484.4" cy="867.5" r="2.1" fill="#a6a6a6" stroke="#222" stroke-width="0.5"/>
<circle cx="485.8" cy="870.5" r="2.1" fill="#a6a6a6" stroke="#222" stroke-width="0.5"/>
<circle cx="483" cy="876" r="2.1" fill="#a6a6a6" stroke="#222" stroke-width="0.5"/>
<circle cx="484.4" cy="880" r="2.1" fill="#a6a6a6" stroke="#222" stroke-width="0.5"/>
<line x1="492.75" y1="872" x2="492.75" y2="875.3" stroke="#555" stroke-width="0.6"/>
<line x1="491.25" y1="872" x2="494.25" y2="872" stroke="#555" stroke-width="0.6"/>
<rect x="489.4" y="875.3" width="6.7" height="39.1" fill="#6ff2cc" stroke="#333" stroke-width="0.6"/>
<line x1="492.75" y1="875.3" x2="492.75" y2="878.6" stroke="#555" stroke-width="0.5"/>
<circle cx="491.4" cy="873" r="2.1" fill="#6ff2cc" stroke="#222" stroke-width="0.5"/>
<circle cx="492.8" cy="875" r="2.1" fill="#6ff2cc" stroke="#222" stroke-width="0.5"/>
<circle cx="494.1" cy="877" r="2.1" fill="#6ff2cc" stroke="#222" stroke-width="0.5"/>
<circle cx="491.4" cy="879" r="2.1" fill="#6ff2cc" stroke="#222" stroke-width="0.5"/>
<line x1="501.35" y1="884" x2="501.35" y2="886.8" stroke="#555" stroke-width="0.6"/>
<line x1="499.85" y1="884" x2="502.85" y2="884" stroke="#555" stroke-width="0.6"/>
<rect x="498.1" y="886.8" width="6.5" height="27.6" fill="#0b8a14" stroke="#333" stroke-width="0.6"/>
<line x1="501.35" y1="886.8" x2="501.35" y2="889.6" stroke="#555" stroke-width="0.5"/>
<circle cx="500" cy="885" r="2.1" fill="#0b8a14" stroke="#222" stroke-width="0.5"/>
<circle cx="501.4" cy="887" r="2.1" fill="#0b8a14" stroke="#222" stroke-width="0.5"/>
<circle cx="502.8" cy="888.5" r="2.1" fill="#0b8a14" stroke="#222" stroke-width="0.5"/>
<path d="M484.4 844.9 V838.9 H501.5 V844.9" fill="none" stroke="#555" stroke-width="0.7"/>
<text x="493.5" y="836.2" font-size="7.2" text-anchor="middle" font-weight="normal" fill="#444" textLength="31.5" lengthAdjust="spacingAndGlyphs"><tspan font-style="italic">P</tspan> = 0.0003</text>
<path d="M492.7 866.2 V860.4 H501.5 V866.2" fill="none" stroke="#555" stroke-width="0.7"/>
<text x="497" y="857.1" font-size="7.2" text-anchor="middle" font-weight="normal" fill="#444" textLength="31.5" lengthAdjust="spacingAndGlyphs"><tspan font-style="italic">P</tspan> = 0.0089</text>
<line x1="562.2" y1="830.4" x2="562.2" y2="914.4" stroke="#555" stroke-width="0.8"/>
<line x1="562.2" y1="914.4" x2="600" y2="914.4" stroke="#333" stroke-width="0.8"/>
<line x1="559.6" y1="830.4" x2="562.2" y2="830.4" stroke="#555" stroke-width="0.8"/>
<text x="554.8" y="833.4" font-size="8.2" text-anchor="end" font-weight="normal" fill="#2b2b2b">2.0 × 10<tspan dy="-3.2" font-size="5.2">7</tspan><tspan dy="3.2">​</tspan></text>
<line x1="559.6" y1="851.4" x2="562.2" y2="851.4" stroke="#555" stroke-width="0.8"/>
<text x="554.8" y="854.4" font-size="8.2" text-anchor="end" font-weight="normal" fill="#2b2b2b">1.5 × 10<tspan dy="-3.2" font-size="5.2">7</tspan><tspan dy="3.2">​</tspan></text>
<line x1="559.6" y1="872.3" x2="562.2" y2="872.3" stroke="#555" stroke-width="0.8"/>
<text x="554.8" y="875.3" font-size="8.2" text-anchor="end" font-weight="normal" fill="#2b2b2b">1.0 × 10<tspan dy="-3.2" font-size="5.2">7</tspan><tspan dy="3.2">​</tspan></text>
<line x1="559.6" y1="893.5" x2="562.2" y2="893.5" stroke="#555" stroke-width="0.8"/>
<text x="554.8" y="896.5" font-size="8.2" text-anchor="end" font-weight="normal" fill="#2b2b2b">5.0 × 10<tspan dy="-3.2" font-size="5.2">6</tspan><tspan dy="3.2">​</tspan></text>
<line x1="559.6" y1="914.4" x2="562.2" y2="914.4" stroke="#555" stroke-width="0.8"/>
<text x="554.8" y="917.4" font-size="8.2" text-anchor="end" font-weight="normal" fill="#2b2b2b">0</text>
<text x="580.8" y="805.8" font-size="9.2" text-anchor="middle" font-weight="normal" fill="#2b2b2b">Pax7</text>
<line x1="572.6" y1="849" x2="572.6" y2="857.1" stroke="#555" stroke-width="0.6"/>
<line x1="571.1" y1="849" x2="574.1" y2="849" stroke="#555" stroke-width="0.6"/>
<rect x="569.2" y="857.1" width="6.8" height="57.3" fill="#a6a6a6" stroke="#333" stroke-width="0.6"/>
<line x1="572.6" y1="857.1" x2="572.6" y2="865.2" stroke="#555" stroke-width="0.5"/>
<circle cx="571.2" cy="843" r="2.1" fill="#a6a6a6" stroke="#222" stroke-width="0.5"/>
<circle cx="572.6" cy="846" r="2.1" fill="#a6a6a6" stroke="#222" stroke-width="0.5"/>
<circle cx="574" cy="852" r="2.1" fill="#a6a6a6" stroke="#222" stroke-width="0.5"/>
<circle cx="571.2" cy="861" r="2.1" fill="#a6a6a6" stroke="#222" stroke-width="0.5"/>
<circle cx="572.6" cy="867" r="2.1" fill="#a6a6a6" stroke="#222" stroke-width="0.5"/>
<circle cx="574" cy="870" r="2.1" fill="#a6a6a6" stroke="#222" stroke-width="0.5"/>
<line x1="581.1" y1="862" x2="581.1" y2="867.2" stroke="#555" stroke-width="0.6"/>
<line x1="579.6" y1="862" x2="582.6" y2="862" stroke="#555" stroke-width="0.6"/>
<rect x="577.7" y="867.2" width="6.8" height="47.2" fill="#6ff2cc" stroke="#333" stroke-width="0.6"/>
<line x1="581.1" y1="867.2" x2="581.1" y2="872.4" stroke="#555" stroke-width="0.5"/>
<circle cx="579.7" cy="857" r="2.1" fill="#6ff2cc" stroke="#222" stroke-width="0.5"/>
<circle cx="581.1" cy="862" r="2.1" fill="#6ff2cc" stroke="#222" stroke-width="0.5"/>
<circle cx="582.5" cy="866" r="2.1" fill="#6ff2cc" stroke="#222" stroke-width="0.5"/>
<circle cx="579.7" cy="869" r="2.1" fill="#6ff2cc" stroke="#222" stroke-width="0.5"/>
<circle cx="581.1" cy="872" r="2.1" fill="#6ff2cc" stroke="#222" stroke-width="0.5"/>
<line x1="589.6" y1="869.5" x2="589.6" y2="875.7" stroke="#555" stroke-width="0.6"/>
<line x1="588.1" y1="869.5" x2="591.1" y2="869.5" stroke="#555" stroke-width="0.6"/>
<rect x="586.2" y="875.7" width="6.8" height="38.7" fill="#0b8a14" stroke="#333" stroke-width="0.6"/>
<line x1="589.6" y1="875.7" x2="589.6" y2="881.9" stroke="#555" stroke-width="0.5"/>
<circle cx="588.2" cy="869" r="2.1" fill="#0b8a14" stroke="#222" stroke-width="0.5"/>
<circle cx="589.6" cy="871" r="2.1" fill="#0b8a14" stroke="#222" stroke-width="0.5"/>
<circle cx="591" cy="874" r="2.1" fill="#0b8a14" stroke="#222" stroke-width="0.5"/>
<circle cx="588.2" cy="877" r="2.1" fill="#0b8a14" stroke="#222" stroke-width="0.5"/>
<circle cx="589.6" cy="880" r="2.1" fill="#0b8a14" stroke="#222" stroke-width="0.5"/>
<path d="M572.3 836.2 V830.4 H589.2 V836.2" fill="none" stroke="#555" stroke-width="0.7"/>
<text x="581.1" y="825.8" font-size="7.2" text-anchor="middle" font-weight="normal" fill="#444" textLength="31.5" lengthAdjust="spacingAndGlyphs"><tspan font-style="italic">P</tspan> = 0.0025</text>
</svg>
</body></html>
